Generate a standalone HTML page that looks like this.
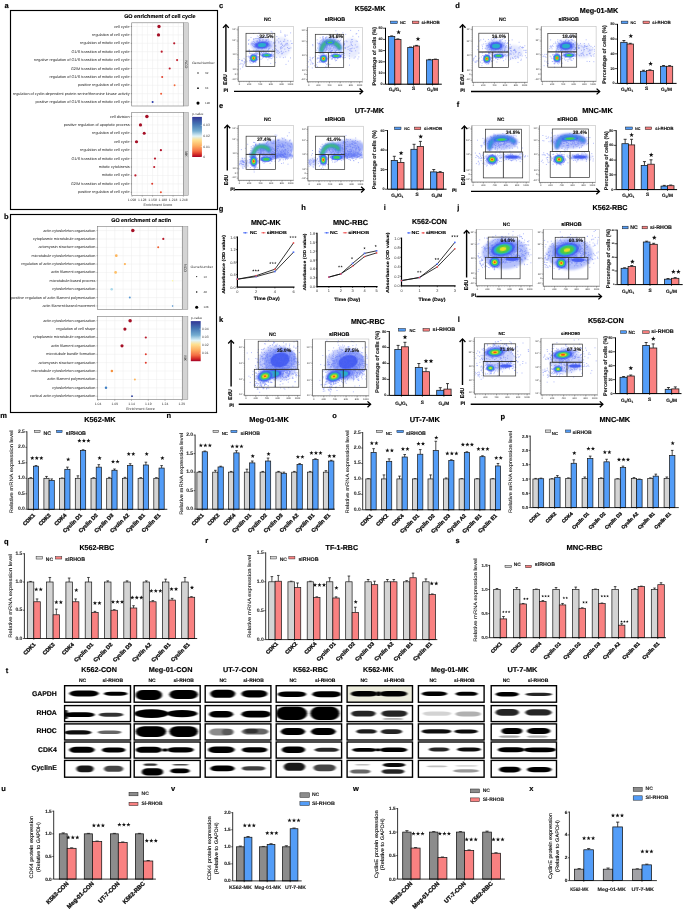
<!DOCTYPE html>
<html><head><meta charset="utf-8"><title>Figure</title>
<style>
html,body{margin:0;padding:0;background:#fff;width:685px;height:911px;overflow:hidden}
svg{display:block;font-family:"Liberation Sans",sans-serif;will-change:transform;text-rendering:geometricPrecision}
</style></head><body>
<svg width="685" height="911" viewBox="0 0 685 911">
<rect width="685" height="911" fill="#fff"/>
<defs><filter id="bl" x="-50%" y="-50%" width="200%" height="200%"><feGaussianBlur stdDeviation="0.55"/></filter><filter id="bl2" x="-50%" y="-50%" width="200%" height="200%"><feGaussianBlur stdDeviation="1.1"/></filter><filter id="bb" x="-50%" y="-80%" width="200%" height="260%"><feGaussianBlur stdDeviation="0.9 0.6"/></filter></defs>
<rect x="10.5" y="10.5" width="207" height="199" fill="none" stroke="#000" stroke-width="1.15"/>
<text x="6.6" y="5.4" font-size="7.5" text-anchor="middle" font-weight="bold" stroke="#000" stroke-width="0.16" dominant-baseline="central">a</text>
<text x="159.9" y="17.2" font-size="5.4" text-anchor="middle" font-weight="bold" stroke="#000" stroke-width="0.14" textLength="71.5" lengthAdjust="spacingAndGlyphs" dominant-baseline="central">GO enrichment of cell cycle</text>
<rect x="131.7" y="22.8" width="51.9" height="83.2" fill="#fff"/>
<line x1="131.7" y1="26.5" x2="183.6" y2="26.5" stroke="#ececec" stroke-width="0.5"/>
<line x1="131.7" y1="34.9" x2="183.6" y2="34.9" stroke="#ececec" stroke-width="0.5"/>
<line x1="131.7" y1="43.3" x2="183.6" y2="43.3" stroke="#ececec" stroke-width="0.5"/>
<line x1="131.7" y1="51.7" x2="183.6" y2="51.7" stroke="#ececec" stroke-width="0.5"/>
<line x1="131.7" y1="60.1" x2="183.6" y2="60.1" stroke="#ececec" stroke-width="0.5"/>
<line x1="131.7" y1="68.5" x2="183.6" y2="68.5" stroke="#ececec" stroke-width="0.5"/>
<line x1="131.7" y1="76.9" x2="183.6" y2="76.9" stroke="#ececec" stroke-width="0.5"/>
<line x1="131.7" y1="85.3" x2="183.6" y2="85.3" stroke="#ececec" stroke-width="0.5"/>
<line x1="131.7" y1="93.7" x2="183.6" y2="93.7" stroke="#ececec" stroke-width="0.5"/>
<line x1="131.7" y1="102.1" x2="183.6" y2="102.1" stroke="#ececec" stroke-width="0.5"/>
<line x1="132" y1="22.8" x2="132" y2="106" stroke="#ececec" stroke-width="0.5"/>
<line x1="137.14" y1="22.8" x2="137.14" y2="106" stroke="#ececec" stroke-width="0.5"/>
<line x1="142.28" y1="22.8" x2="142.28" y2="106" stroke="#ececec" stroke-width="0.5"/>
<line x1="147.42" y1="22.8" x2="147.42" y2="106" stroke="#ececec" stroke-width="0.5"/>
<line x1="152.56" y1="22.8" x2="152.56" y2="106" stroke="#ececec" stroke-width="0.5"/>
<line x1="157.7" y1="22.8" x2="157.7" y2="106" stroke="#ececec" stroke-width="0.5"/>
<line x1="162.84" y1="22.8" x2="162.84" y2="106" stroke="#ececec" stroke-width="0.5"/>
<line x1="167.98" y1="22.8" x2="167.98" y2="106" stroke="#ececec" stroke-width="0.5"/>
<line x1="173.12" y1="22.8" x2="173.12" y2="106" stroke="#ececec" stroke-width="0.5"/>
<line x1="178.26" y1="22.8" x2="178.26" y2="106" stroke="#ececec" stroke-width="0.5"/>
<line x1="183.4" y1="22.8" x2="183.4" y2="106" stroke="#ececec" stroke-width="0.5"/>
<rect x="131.7" y="22.8" width="51.9" height="83.2" fill="none" stroke="#7a7a7a" stroke-width="0.6"/>
<rect x="183.6" y="22.8" width="4.8" height="83.2" fill="#d4d4d4" stroke="#7a7a7a" stroke-width="0.4"/>
<text x="186" y="64.4" font-size="3.6" text-anchor="middle" fill="#222" transform="rotate(90 186 64.4)" dominant-baseline="central">NCO</text>
<line x1="130.7" y1="26.5" x2="131.7" y2="26.5" stroke="#333" stroke-width="0.4"/>
<text x="129.6" y="26.5" font-size="3.82" text-anchor="end" fill="#222" dominant-baseline="central">cell cycle</text>
<line x1="130.7" y1="34.9" x2="131.7" y2="34.9" stroke="#333" stroke-width="0.4"/>
<text x="129.6" y="34.9" font-size="3.82" text-anchor="end" fill="#222" dominant-baseline="central">regulation of cell cycle</text>
<line x1="130.7" y1="43.3" x2="131.7" y2="43.3" stroke="#333" stroke-width="0.4"/>
<text x="129.6" y="43.3" font-size="3.82" text-anchor="end" fill="#222" dominant-baseline="central">regulation of mitotic cell cycle</text>
<line x1="130.7" y1="51.7" x2="131.7" y2="51.7" stroke="#333" stroke-width="0.4"/>
<text x="129.6" y="51.7" font-size="3.82" text-anchor="end" fill="#222" dominant-baseline="central">G1/S transition of mitotic cell cycle</text>
<line x1="130.7" y1="60.1" x2="131.7" y2="60.1" stroke="#333" stroke-width="0.4"/>
<text x="129.6" y="60.1" font-size="3.82" text-anchor="end" fill="#222" dominant-baseline="central">negative regulation of G1/S transition of mitotic cell cycle</text>
<line x1="130.7" y1="68.5" x2="131.7" y2="68.5" stroke="#333" stroke-width="0.4"/>
<text x="129.6" y="68.5" font-size="3.82" text-anchor="end" fill="#222" dominant-baseline="central">G2/M transition of mitotic cell cycle</text>
<line x1="130.7" y1="76.9" x2="131.7" y2="76.9" stroke="#333" stroke-width="0.4"/>
<text x="129.6" y="76.9" font-size="3.82" text-anchor="end" fill="#222" dominant-baseline="central">regulation of G1/S transition of mitotic cell cycle</text>
<line x1="130.7" y1="85.3" x2="131.7" y2="85.3" stroke="#333" stroke-width="0.4"/>
<text x="129.6" y="85.3" font-size="3.82" text-anchor="end" fill="#222" dominant-baseline="central">positive regulation of cell cycle</text>
<line x1="130.7" y1="93.7" x2="131.7" y2="93.7" stroke="#333" stroke-width="0.4"/>
<text x="129.6" y="93.7" font-size="3.82" text-anchor="end" fill="#222" dominant-baseline="central">regulation of cyclin-dependent protein serine/threonine kinase activity</text>
<line x1="130.7" y1="102.1" x2="131.7" y2="102.1" stroke="#333" stroke-width="0.4"/>
<text x="129.6" y="102.1" font-size="3.82" text-anchor="end" fill="#222" dominant-baseline="central">positive regulation of G1/S transition of mitotic cell cycle</text>
<circle cx="159" cy="26.5" r="1.65" fill="#a50f25"/>
<circle cx="158.5" cy="34.9" r="1.65" fill="#a50f25"/>
<circle cx="174.2" cy="43.3" r="1.1" fill="#b81a2c"/>
<circle cx="161.7" cy="51.7" r="1.1" fill="#bd1c2c"/>
<circle cx="177.1" cy="60.1" r="1.05" fill="#c4202d"/>
<circle cx="169.7" cy="68.5" r="1.05" fill="#bd1c2c"/>
<circle cx="162.2" cy="76.9" r="1" fill="#e0402e"/>
<circle cx="174.6" cy="85.3" r="0.95" fill="#f26a3c"/>
<circle cx="161.1" cy="93.7" r="1" fill="#f05a34"/>
<circle cx="152.6" cy="102.1" r="1" fill="#2838a8"/>
<rect x="131.7" y="112.5" width="51.9" height="83.1" fill="#fff"/>
<line x1="131.7" y1="116.5" x2="183.6" y2="116.5" stroke="#ececec" stroke-width="0.5"/>
<line x1="131.7" y1="124.92" x2="183.6" y2="124.92" stroke="#ececec" stroke-width="0.5"/>
<line x1="131.7" y1="133.34" x2="183.6" y2="133.34" stroke="#ececec" stroke-width="0.5"/>
<line x1="131.7" y1="141.76" x2="183.6" y2="141.76" stroke="#ececec" stroke-width="0.5"/>
<line x1="131.7" y1="150.18" x2="183.6" y2="150.18" stroke="#ececec" stroke-width="0.5"/>
<line x1="131.7" y1="158.6" x2="183.6" y2="158.6" stroke="#ececec" stroke-width="0.5"/>
<line x1="131.7" y1="167.02" x2="183.6" y2="167.02" stroke="#ececec" stroke-width="0.5"/>
<line x1="131.7" y1="175.44" x2="183.6" y2="175.44" stroke="#ececec" stroke-width="0.5"/>
<line x1="131.7" y1="183.86" x2="183.6" y2="183.86" stroke="#ececec" stroke-width="0.5"/>
<line x1="131.7" y1="192.28" x2="183.6" y2="192.28" stroke="#ececec" stroke-width="0.5"/>
<line x1="132" y1="112.5" x2="132" y2="195.6" stroke="#ececec" stroke-width="0.5"/>
<line x1="137.14" y1="112.5" x2="137.14" y2="195.6" stroke="#ececec" stroke-width="0.5"/>
<line x1="142.28" y1="112.5" x2="142.28" y2="195.6" stroke="#ececec" stroke-width="0.5"/>
<line x1="147.42" y1="112.5" x2="147.42" y2="195.6" stroke="#ececec" stroke-width="0.5"/>
<line x1="152.56" y1="112.5" x2="152.56" y2="195.6" stroke="#ececec" stroke-width="0.5"/>
<line x1="157.7" y1="112.5" x2="157.7" y2="195.6" stroke="#ececec" stroke-width="0.5"/>
<line x1="162.84" y1="112.5" x2="162.84" y2="195.6" stroke="#ececec" stroke-width="0.5"/>
<line x1="167.98" y1="112.5" x2="167.98" y2="195.6" stroke="#ececec" stroke-width="0.5"/>
<line x1="173.12" y1="112.5" x2="173.12" y2="195.6" stroke="#ececec" stroke-width="0.5"/>
<line x1="178.26" y1="112.5" x2="178.26" y2="195.6" stroke="#ececec" stroke-width="0.5"/>
<line x1="183.4" y1="112.5" x2="183.4" y2="195.6" stroke="#ececec" stroke-width="0.5"/>
<rect x="131.7" y="112.5" width="51.9" height="83.1" fill="none" stroke="#7a7a7a" stroke-width="0.6"/>
<rect x="183.6" y="112.5" width="4.8" height="83.1" fill="#d4d4d4" stroke="#7a7a7a" stroke-width="0.4"/>
<text x="186" y="154.05" font-size="3.6" text-anchor="middle" fill="#222" transform="rotate(90 186 154.05)" dominant-baseline="central">MK</text>
<line x1="130.7" y1="116.5" x2="131.7" y2="116.5" stroke="#333" stroke-width="0.4"/>
<text x="129.6" y="116.5" font-size="3.82" text-anchor="end" fill="#222" dominant-baseline="central">cell division</text>
<line x1="130.7" y1="124.92" x2="131.7" y2="124.92" stroke="#333" stroke-width="0.4"/>
<text x="129.6" y="124.92" font-size="3.82" text-anchor="end" fill="#222" dominant-baseline="central">positive regulation of apoptotic process</text>
<line x1="130.7" y1="133.34" x2="131.7" y2="133.34" stroke="#333" stroke-width="0.4"/>
<text x="129.6" y="133.34" font-size="3.82" text-anchor="end" fill="#222" dominant-baseline="central">regulation of cell cycle</text>
<line x1="130.7" y1="141.76" x2="131.7" y2="141.76" stroke="#333" stroke-width="0.4"/>
<text x="129.6" y="141.76" font-size="3.82" text-anchor="end" fill="#222" dominant-baseline="central">cell cycle</text>
<line x1="130.7" y1="150.18" x2="131.7" y2="150.18" stroke="#333" stroke-width="0.4"/>
<text x="129.6" y="150.18" font-size="3.82" text-anchor="end" fill="#222" dominant-baseline="central">regulation of mitotic cell cycle</text>
<line x1="130.7" y1="158.6" x2="131.7" y2="158.6" stroke="#333" stroke-width="0.4"/>
<text x="129.6" y="158.6" font-size="3.82" text-anchor="end" fill="#222" dominant-baseline="central">G1/S transition of mitotic cell cycle</text>
<line x1="130.7" y1="167.02" x2="131.7" y2="167.02" stroke="#333" stroke-width="0.4"/>
<text x="129.6" y="167.02" font-size="3.82" text-anchor="end" fill="#222" dominant-baseline="central">mitotic cytokinesis</text>
<line x1="130.7" y1="175.44" x2="131.7" y2="175.44" stroke="#333" stroke-width="0.4"/>
<text x="129.6" y="175.44" font-size="3.82" text-anchor="end" fill="#222" dominant-baseline="central">mitotic cell cycle</text>
<line x1="130.7" y1="183.86" x2="131.7" y2="183.86" stroke="#333" stroke-width="0.4"/>
<text x="129.6" y="183.86" font-size="3.82" text-anchor="end" fill="#222" dominant-baseline="central">G2/M transition of mitotic cell cycle</text>
<line x1="130.7" y1="192.28" x2="131.7" y2="192.28" stroke="#333" stroke-width="0.4"/>
<text x="129.6" y="192.28" font-size="3.82" text-anchor="end" fill="#222" dominant-baseline="central">positive regulation of cell cycle</text>
<circle cx="146.9" cy="116.5" r="1.75" fill="#a50f25"/>
<circle cx="140.5" cy="124.92" r="1.6" fill="#a50f25"/>
<circle cx="144.2" cy="133.34" r="1.5" fill="#a50f25"/>
<circle cx="136.5" cy="141.76" r="1.6" fill="#a50f25"/>
<circle cx="160.9" cy="150.18" r="1.1" fill="#b0122a"/>
<circle cx="155" cy="158.6" r="1.1" fill="#b81a2c"/>
<circle cx="154.2" cy="167.02" r="1.05" fill="#bd1c2c"/>
<circle cx="135.4" cy="175.44" r="1.1" fill="#bd1c2c"/>
<circle cx="152.2" cy="183.86" r="1" fill="#dc3a2c"/>
<circle cx="160.9" cy="192.28" r="1" fill="#ec5030"/>
<line x1="132" y1="195.6" x2="132" y2="196.6" stroke="#333" stroke-width="0.4"/>
<text x="132" y="199.9" font-size="3.4" text-anchor="middle" fill="#333" dominant-baseline="central">1.098</text>
<line x1="142.28" y1="195.6" x2="142.28" y2="196.6" stroke="#333" stroke-width="0.4"/>
<text x="142.28" y="199.9" font-size="3.4" text-anchor="middle" fill="#333" dominant-baseline="central">1.128</text>
<line x1="152.56" y1="195.6" x2="152.56" y2="196.6" stroke="#333" stroke-width="0.4"/>
<text x="152.56" y="199.9" font-size="3.4" text-anchor="middle" fill="#333" dominant-baseline="central">1.158</text>
<line x1="162.84" y1="195.6" x2="162.84" y2="196.6" stroke="#333" stroke-width="0.4"/>
<text x="162.84" y="199.9" font-size="3.4" text-anchor="middle" fill="#333" dominant-baseline="central">1.188</text>
<line x1="173.12" y1="195.6" x2="173.12" y2="196.6" stroke="#333" stroke-width="0.4"/>
<text x="173.12" y="199.9" font-size="3.4" text-anchor="middle" fill="#333" dominant-baseline="central">1.218</text>
<line x1="183.4" y1="195.6" x2="183.4" y2="196.6" stroke="#333" stroke-width="0.4"/>
<text x="183.4" y="199.9" font-size="3.4" text-anchor="middle" fill="#333" dominant-baseline="central">1.248</text>
<text x="157.9" y="204.7" font-size="3.6" text-anchor="middle" fill="#333" dominant-baseline="central">Enrichment Score</text>
<text x="191.9" y="63.3" font-size="3.4" fill="#333" textLength="22.8" lengthAdjust="spacingAndGlyphs" dominant-baseline="central">GeneNumber</text>
<circle cx="198" cy="73" r="0.65" fill="#000"/>
<text x="205" y="73" font-size="3" fill="#444" dominant-baseline="central">32</text>
<circle cx="198" cy="88.2" r="0.85" fill="#000"/>
<text x="205" y="88.2" font-size="3" fill="#444" dominant-baseline="central">64</text>
<circle cx="198" cy="103.1" r="1.55" fill="#000"/>
<text x="205" y="103.1" font-size="3" fill="#444" dominant-baseline="central">128</text>
<text x="192.2" y="113.7" font-size="3.4" fill="#333" dominant-baseline="central">p-value</text>
<linearGradient id="cbA" x1="0" y1="0" x2="0" y2="1"><stop offset="0" stop-color="#313695"/><stop offset="0.18" stop-color="#4575b4"/><stop offset="0.35" stop-color="#74add1"/><stop offset="0.48" stop-color="#e0f3f8"/><stop offset="0.58" stop-color="#fee090"/><stop offset="0.72" stop-color="#fdae61"/><stop offset="0.85" stop-color="#f46d43"/><stop offset="0.93" stop-color="#d73027"/><stop offset="1" stop-color="#a50026"/></linearGradient>
<rect x="192.2" y="116.9" width="9.7" height="40.1" fill="url(#cbA)"/>
<line x1="200.7" y1="125.4" x2="201.9" y2="125.4" stroke="#fff" stroke-width="0.4"/>
<text x="203.2" y="125.4" font-size="3.4" fill="#333" dominant-baseline="central">0.03</text>
<line x1="200.7" y1="136.1" x2="201.9" y2="136.1" stroke="#fff" stroke-width="0.4"/>
<text x="203.2" y="136.1" font-size="3.4" fill="#333" dominant-baseline="central">0.02</text>
<line x1="200.7" y1="146.6" x2="201.9" y2="146.6" stroke="#fff" stroke-width="0.4"/>
<text x="203.2" y="146.6" font-size="3.4" fill="#333" dominant-baseline="central">0.01</text>
<line x1="200.7" y1="157" x2="201.9" y2="157" stroke="#fff" stroke-width="0.4"/>
<text x="203.2" y="157" font-size="3.4" fill="#333" dominant-baseline="central">0</text>
<rect x="10.5" y="214.5" width="206" height="198" fill="none" stroke="#000" stroke-width="1.15"/>
<text x="6.3" y="216.7" font-size="7.5" text-anchor="middle" font-weight="bold" stroke="#000" stroke-width="0.16" dominant-baseline="central">b</text>
<text x="141.1" y="221.2" font-size="5.4" text-anchor="middle" font-weight="bold" stroke="#000" stroke-width="0.14" textLength="59.8" lengthAdjust="spacingAndGlyphs" dominant-baseline="central">GO enrichment of actin</text>
<rect x="97.5" y="226.5" width="85.1" height="83.1" fill="#fff"/>
<line x1="97.5" y1="230.6" x2="182.6" y2="230.6" stroke="#ececec" stroke-width="0.5"/>
<line x1="97.5" y1="238.97" x2="182.6" y2="238.97" stroke="#ececec" stroke-width="0.5"/>
<line x1="97.5" y1="247.34" x2="182.6" y2="247.34" stroke="#ececec" stroke-width="0.5"/>
<line x1="97.5" y1="255.71" x2="182.6" y2="255.71" stroke="#ececec" stroke-width="0.5"/>
<line x1="97.5" y1="264.08" x2="182.6" y2="264.08" stroke="#ececec" stroke-width="0.5"/>
<line x1="97.5" y1="272.45" x2="182.6" y2="272.45" stroke="#ececec" stroke-width="0.5"/>
<line x1="97.5" y1="280.82" x2="182.6" y2="280.82" stroke="#ececec" stroke-width="0.5"/>
<line x1="97.5" y1="289.19" x2="182.6" y2="289.19" stroke="#ececec" stroke-width="0.5"/>
<line x1="97.5" y1="297.56" x2="182.6" y2="297.56" stroke="#ececec" stroke-width="0.5"/>
<line x1="97.5" y1="305.93" x2="182.6" y2="305.93" stroke="#ececec" stroke-width="0.5"/>
<line x1="98" y1="226.5" x2="98" y2="309.6" stroke="#ececec" stroke-width="0.5"/>
<line x1="106.38" y1="226.5" x2="106.38" y2="309.6" stroke="#ececec" stroke-width="0.5"/>
<line x1="114.75" y1="226.5" x2="114.75" y2="309.6" stroke="#ececec" stroke-width="0.5"/>
<line x1="123.12" y1="226.5" x2="123.12" y2="309.6" stroke="#ececec" stroke-width="0.5"/>
<line x1="131.5" y1="226.5" x2="131.5" y2="309.6" stroke="#ececec" stroke-width="0.5"/>
<line x1="139.88" y1="226.5" x2="139.88" y2="309.6" stroke="#ececec" stroke-width="0.5"/>
<line x1="148.25" y1="226.5" x2="148.25" y2="309.6" stroke="#ececec" stroke-width="0.5"/>
<line x1="156.62" y1="226.5" x2="156.62" y2="309.6" stroke="#ececec" stroke-width="0.5"/>
<line x1="165" y1="226.5" x2="165" y2="309.6" stroke="#ececec" stroke-width="0.5"/>
<line x1="173.38" y1="226.5" x2="173.38" y2="309.6" stroke="#ececec" stroke-width="0.5"/>
<line x1="181.75" y1="226.5" x2="181.75" y2="309.6" stroke="#ececec" stroke-width="0.5"/>
<rect x="97.5" y="226.5" width="85.1" height="83.1" fill="none" stroke="#7a7a7a" stroke-width="0.6"/>
<rect x="182.6" y="226.5" width="5.3" height="83.1" fill="#d4d4d4" stroke="#7a7a7a" stroke-width="0.4"/>
<text x="185.25" y="268.05" font-size="3.6" text-anchor="middle" fill="#222" transform="rotate(90 185.25 268.05)" dominant-baseline="central">NCO</text>
<line x1="96.5" y1="230.6" x2="97.5" y2="230.6" stroke="#333" stroke-width="0.4"/>
<text x="95.4" y="230.6" font-size="3.82" text-anchor="end" fill="#222" dominant-baseline="central">actin cytoskeleton organization</text>
<line x1="96.5" y1="238.97" x2="97.5" y2="238.97" stroke="#333" stroke-width="0.4"/>
<text x="95.4" y="238.97" font-size="3.82" text-anchor="end" fill="#222" dominant-baseline="central">cytoplasmic microtubule organization</text>
<line x1="96.5" y1="247.34" x2="97.5" y2="247.34" stroke="#333" stroke-width="0.4"/>
<text x="95.4" y="247.34" font-size="3.82" text-anchor="end" fill="#222" dominant-baseline="central">actomyosin structure organization</text>
<line x1="96.5" y1="255.71" x2="97.5" y2="255.71" stroke="#333" stroke-width="0.4"/>
<text x="95.4" y="255.71" font-size="3.82" text-anchor="end" fill="#222" dominant-baseline="central">microtubule cytoskeleton organization</text>
<line x1="96.5" y1="264.08" x2="97.5" y2="264.08" stroke="#333" stroke-width="0.4"/>
<text x="95.4" y="264.08" font-size="3.82" text-anchor="end" fill="#222" dominant-baseline="central">regulation of actin cytoskeleton organization</text>
<line x1="96.5" y1="272.45" x2="97.5" y2="272.45" stroke="#333" stroke-width="0.4"/>
<text x="95.4" y="272.45" font-size="3.82" text-anchor="end" fill="#222" dominant-baseline="central">actin filament organization</text>
<line x1="96.5" y1="280.82" x2="97.5" y2="280.82" stroke="#333" stroke-width="0.4"/>
<text x="95.4" y="280.82" font-size="3.82" text-anchor="end" fill="#222" dominant-baseline="central">microtubule-based process</text>
<line x1="96.5" y1="289.19" x2="97.5" y2="289.19" stroke="#333" stroke-width="0.4"/>
<text x="95.4" y="289.19" font-size="3.82" text-anchor="end" fill="#222" dominant-baseline="central">cytoskeleton organization</text>
<line x1="96.5" y1="297.56" x2="97.5" y2="297.56" stroke="#333" stroke-width="0.4"/>
<text x="95.4" y="297.56" font-size="3.82" text-anchor="end" fill="#222" dominant-baseline="central">positive regulation of actin filament polymerization</text>
<line x1="96.5" y1="305.93" x2="97.5" y2="305.93" stroke="#333" stroke-width="0.4"/>
<text x="95.4" y="305.93" font-size="3.82" text-anchor="end" fill="#222" dominant-baseline="central">actin filament-based movement</text>
<circle cx="132.8" cy="230.6" r="1.75" fill="#a50f25"/>
<circle cx="163.3" cy="238.97" r="1.1" fill="#b81a2c"/>
<circle cx="158.2" cy="247.34" r="1" fill="#f06030"/>
<circle cx="116.3" cy="255.71" r="1.35" fill="#fdb45a"/>
<circle cx="124.9" cy="264.08" r="1.1" fill="#fdb45a"/>
<circle cx="115.6" cy="272.45" r="1.35" fill="#fdbf66"/>
<circle cx="172.6" cy="280.82" r="0.8" fill="#fffaa0"/>
<circle cx="111.7" cy="289.19" r="1.25" fill="#a8d8ea"/>
<circle cx="129.8" cy="297.56" r="1" fill="#5b9bd5"/>
<circle cx="172.6" cy="305.93" r="0.8" fill="#4a8fd0"/>
<rect x="97.5" y="316.6" width="85.1" height="83.1" fill="#fff"/>
<line x1="97.5" y1="320.7" x2="182.6" y2="320.7" stroke="#ececec" stroke-width="0.5"/>
<line x1="97.5" y1="329.09" x2="182.6" y2="329.09" stroke="#ececec" stroke-width="0.5"/>
<line x1="97.5" y1="337.48" x2="182.6" y2="337.48" stroke="#ececec" stroke-width="0.5"/>
<line x1="97.5" y1="345.87" x2="182.6" y2="345.87" stroke="#ececec" stroke-width="0.5"/>
<line x1="97.5" y1="354.26" x2="182.6" y2="354.26" stroke="#ececec" stroke-width="0.5"/>
<line x1="97.5" y1="362.65" x2="182.6" y2="362.65" stroke="#ececec" stroke-width="0.5"/>
<line x1="97.5" y1="371.04" x2="182.6" y2="371.04" stroke="#ececec" stroke-width="0.5"/>
<line x1="97.5" y1="379.43" x2="182.6" y2="379.43" stroke="#ececec" stroke-width="0.5"/>
<line x1="97.5" y1="387.82" x2="182.6" y2="387.82" stroke="#ececec" stroke-width="0.5"/>
<line x1="97.5" y1="396.21" x2="182.6" y2="396.21" stroke="#ececec" stroke-width="0.5"/>
<line x1="98" y1="316.6" x2="98" y2="399.7" stroke="#ececec" stroke-width="0.5"/>
<line x1="106.38" y1="316.6" x2="106.38" y2="399.7" stroke="#ececec" stroke-width="0.5"/>
<line x1="114.75" y1="316.6" x2="114.75" y2="399.7" stroke="#ececec" stroke-width="0.5"/>
<line x1="123.12" y1="316.6" x2="123.12" y2="399.7" stroke="#ececec" stroke-width="0.5"/>
<line x1="131.5" y1="316.6" x2="131.5" y2="399.7" stroke="#ececec" stroke-width="0.5"/>
<line x1="139.88" y1="316.6" x2="139.88" y2="399.7" stroke="#ececec" stroke-width="0.5"/>
<line x1="148.25" y1="316.6" x2="148.25" y2="399.7" stroke="#ececec" stroke-width="0.5"/>
<line x1="156.62" y1="316.6" x2="156.62" y2="399.7" stroke="#ececec" stroke-width="0.5"/>
<line x1="165" y1="316.6" x2="165" y2="399.7" stroke="#ececec" stroke-width="0.5"/>
<line x1="173.38" y1="316.6" x2="173.38" y2="399.7" stroke="#ececec" stroke-width="0.5"/>
<line x1="181.75" y1="316.6" x2="181.75" y2="399.7" stroke="#ececec" stroke-width="0.5"/>
<rect x="97.5" y="316.6" width="85.1" height="83.1" fill="none" stroke="#7a7a7a" stroke-width="0.6"/>
<rect x="182.6" y="316.6" width="5.3" height="83.1" fill="#d4d4d4" stroke="#7a7a7a" stroke-width="0.4"/>
<text x="185.25" y="358.15" font-size="3.6" text-anchor="middle" fill="#222" transform="rotate(90 185.25 358.15)" dominant-baseline="central">MK</text>
<line x1="96.5" y1="320.7" x2="97.5" y2="320.7" stroke="#333" stroke-width="0.4"/>
<text x="95.4" y="320.7" font-size="3.82" text-anchor="end" fill="#222" dominant-baseline="central">actin cytoskeleton organization</text>
<line x1="96.5" y1="329.09" x2="97.5" y2="329.09" stroke="#333" stroke-width="0.4"/>
<text x="95.4" y="329.09" font-size="3.82" text-anchor="end" fill="#222" dominant-baseline="central">regulation of cell shape</text>
<line x1="96.5" y1="337.48" x2="97.5" y2="337.48" stroke="#333" stroke-width="0.4"/>
<text x="95.4" y="337.48" font-size="3.82" text-anchor="end" fill="#222" dominant-baseline="central">cytoplasmic microtubule organization</text>
<line x1="96.5" y1="345.87" x2="97.5" y2="345.87" stroke="#333" stroke-width="0.4"/>
<text x="95.4" y="345.87" font-size="3.82" text-anchor="end" fill="#222" dominant-baseline="central">actin filament organization</text>
<line x1="96.5" y1="354.26" x2="97.5" y2="354.26" stroke="#333" stroke-width="0.4"/>
<text x="95.4" y="354.26" font-size="3.82" text-anchor="end" fill="#222" dominant-baseline="central">microtubule bundle formation</text>
<line x1="96.5" y1="362.65" x2="97.5" y2="362.65" stroke="#333" stroke-width="0.4"/>
<text x="95.4" y="362.65" font-size="3.82" text-anchor="end" fill="#222" dominant-baseline="central">actomyosin structure organization</text>
<line x1="96.5" y1="371.04" x2="97.5" y2="371.04" stroke="#333" stroke-width="0.4"/>
<text x="95.4" y="371.04" font-size="3.82" text-anchor="end" fill="#222" dominant-baseline="central">microtubule cytoskeleton organization</text>
<line x1="96.5" y1="379.43" x2="97.5" y2="379.43" stroke="#333" stroke-width="0.4"/>
<text x="95.4" y="379.43" font-size="3.82" text-anchor="end" fill="#222" dominant-baseline="central">actin filament polymerization</text>
<line x1="96.5" y1="387.82" x2="97.5" y2="387.82" stroke="#333" stroke-width="0.4"/>
<text x="95.4" y="387.82" font-size="3.82" text-anchor="end" fill="#222" dominant-baseline="central">cytoskeleton organization</text>
<line x1="96.5" y1="396.21" x2="97.5" y2="396.21" stroke="#333" stroke-width="0.4"/>
<text x="95.4" y="396.21" font-size="3.82" text-anchor="end" fill="#222" dominant-baseline="central">cortical actin cytoskeleton organization</text>
<circle cx="130.1" cy="320.7" r="1.75" fill="#a50f25"/>
<circle cx="124.9" cy="329.09" r="1.6" fill="#a50f25"/>
<circle cx="145.8" cy="337.48" r="1.1" fill="#b81a2c"/>
<circle cx="122" cy="345.87" r="1.6" fill="#a50f25"/>
<circle cx="145.8" cy="354.26" r="1" fill="#e03a2c"/>
<circle cx="145.8" cy="362.65" r="1" fill="#e03a2c"/>
<circle cx="111.9" cy="371.04" r="1.25" fill="#f6913e"/>
<circle cx="134.9" cy="379.43" r="1" fill="#fdb45a"/>
<circle cx="106" cy="387.82" r="1.25" fill="#3f7fc4"/>
<circle cx="132" cy="396.21" r="0.9" fill="#283a9a"/>
<line x1="98" y1="399.7" x2="98" y2="400.7" stroke="#333" stroke-width="0.4"/>
<text x="98" y="403.8" font-size="3.4" text-anchor="middle" fill="#333" dominant-baseline="central">1.04</text>
<line x1="114.75" y1="399.7" x2="114.75" y2="400.7" stroke="#333" stroke-width="0.4"/>
<text x="114.75" y="403.8" font-size="3.4" text-anchor="middle" fill="#333" dominant-baseline="central">1.09</text>
<line x1="131.5" y1="399.7" x2="131.5" y2="400.7" stroke="#333" stroke-width="0.4"/>
<text x="131.5" y="403.8" font-size="3.4" text-anchor="middle" fill="#333" dominant-baseline="central">1.14</text>
<line x1="148.25" y1="399.7" x2="148.25" y2="400.7" stroke="#333" stroke-width="0.4"/>
<text x="148.25" y="403.8" font-size="3.4" text-anchor="middle" fill="#333" dominant-baseline="central">1.19</text>
<line x1="165" y1="399.7" x2="165" y2="400.7" stroke="#333" stroke-width="0.4"/>
<text x="165" y="403.8" font-size="3.4" text-anchor="middle" fill="#333" dominant-baseline="central">1.24</text>
<line x1="181.75" y1="399.7" x2="181.75" y2="400.7" stroke="#333" stroke-width="0.4"/>
<text x="181.75" y="403.8" font-size="3.4" text-anchor="middle" fill="#333" dominant-baseline="central">1.29</text>
<text x="140.5" y="408.6" font-size="3.6" text-anchor="middle" fill="#333" dominant-baseline="central">Enrichment Score</text>
<text x="190.6" y="267" font-size="3.4" fill="#333" textLength="22.5" lengthAdjust="spacingAndGlyphs" dominant-baseline="central">GeneNumber</text>
<circle cx="196.7" cy="276.6" r="0.55" fill="#000"/>
<text x="203.5" y="276.6" font-size="3" fill="#444" dominant-baseline="central">16</text>
<circle cx="196.7" cy="291.9" r="0.75" fill="#000"/>
<text x="203.5" y="291.9" font-size="3" fill="#444" dominant-baseline="central">48</text>
<circle cx="196.7" cy="307.2" r="1.55" fill="#000"/>
<text x="203.5" y="307.2" font-size="3" fill="#444" dominant-baseline="central">128</text>
<text x="191.1" y="317.8" font-size="3.4" fill="#333" dominant-baseline="central">p-value</text>
<linearGradient id="cbB" x1="0" y1="0" x2="0" y2="1"><stop offset="0" stop-color="#313695"/><stop offset="0.18" stop-color="#4575b4"/><stop offset="0.35" stop-color="#74add1"/><stop offset="0.48" stop-color="#e0f3f8"/><stop offset="0.58" stop-color="#fee090"/><stop offset="0.72" stop-color="#fdae61"/><stop offset="0.85" stop-color="#f46d43"/><stop offset="0.93" stop-color="#d73027"/><stop offset="1" stop-color="#a50026"/></linearGradient>
<rect x="190.8" y="321.1" width="9.9" height="40.1" fill="url(#cbB)"/>
<line x1="199.5" y1="329.1" x2="200.7" y2="329.1" stroke="#fff" stroke-width="0.4"/>
<text x="202" y="329.1" font-size="3.4" fill="#333" dominant-baseline="central">0.04</text>
<line x1="199.5" y1="337.1" x2="200.7" y2="337.1" stroke="#fff" stroke-width="0.4"/>
<text x="202" y="337.1" font-size="3.4" fill="#333" dominant-baseline="central">0.03</text>
<line x1="199.5" y1="345.1" x2="200.7" y2="345.1" stroke="#fff" stroke-width="0.4"/>
<text x="202" y="345.1" font-size="3.4" fill="#333" dominant-baseline="central">0.02</text>
<line x1="199.5" y1="353.2" x2="200.7" y2="353.2" stroke="#fff" stroke-width="0.4"/>
<text x="202" y="353.2" font-size="3.4" fill="#333" dominant-baseline="central">0.01</text>
<text x="221" y="5.8" font-size="7.5" text-anchor="middle" font-weight="bold" stroke="#000" stroke-width="0.16" dominant-baseline="central">c</text>
<text x="370.05" y="8.2" font-size="7.2" text-anchor="middle" font-weight="bold" stroke="#000" stroke-width="0.16" textLength="30.5" lengthAdjust="spacingAndGlyphs" dominant-baseline="central">K562-MK</text>
<text x="267.6" y="19.7" font-size="5" text-anchor="middle" font-weight="bold" stroke="#000" stroke-width="0.12" dominant-baseline="central">NC</text>
<text x="335" y="19.7" font-size="5.4" text-anchor="middle" font-weight="bold" stroke="#000" stroke-width="0.14" textLength="20.5" lengthAdjust="spacingAndGlyphs" dominant-baseline="central">siRHOB</text>
<rect x="238.2" y="26.6" width="55.2" height="54.7" fill="#fff" stroke="#b0b0b0" stroke-width="0.5"/>
<line x1="238.2" y1="26.6" x2="238.2" y2="81.3" stroke="#444" stroke-width="0.5"/>
<line x1="238.2" y1="81.3" x2="293.4" y2="81.3" stroke="#444" stroke-width="0.5"/>
<path d="M237.4 28.42h.8M237.4 30.25h.8M237.4 32.07h.8M237.4 33.89h.8M237.4 35.72h.8M237.4 37.54h.8M237.4 39.36h.8M237.4 41.19h.8M237.4 43.01h.8M237.4 44.83h.8M237.4 46.66h.8M237.4 48.48h.8M237.4 50.3h.8M237.4 52.13h.8M237.4 53.95h.8M237.4 55.77h.8M237.4 57.6h.8M237.4 59.42h.8M237.4 61.24h.8M237.4 63.07h.8M237.4 64.89h.8M237.4 66.71h.8M237.4 68.54h.8M237.4 70.36h.8M237.4 72.18h.8M237.4 74.01h.8M237.4 75.83h.8M237.4 77.65h.8M237.4 79.48h.8M238.2 81.3v.8M240.96 81.3v.8M243.72 81.3v.8M246.48 81.3v.8M249.24 81.3v.8M252 81.3v.8M254.76 81.3v.8M257.52 81.3v.8M260.28 81.3v.8M263.04 81.3v.8M265.8 81.3v.8M268.56 81.3v.8M271.32 81.3v.8M274.08 81.3v.8M276.84 81.3v.8M279.6 81.3v.8M282.36 81.3v.8M285.12 81.3v.8M287.88 81.3v.8M290.64 81.3v.8M293.4 81.3v.8" fill="none" stroke="#666" stroke-width="0.3"/>
<line x1="236.6" y1="29.72" x2="238.2" y2="29.72" stroke="#444" stroke-width="0.4"/>
<text x="236.3" y="29.72" font-size="2.6" text-anchor="end" fill="#333" dominant-baseline="central">10⁵</text>
<line x1="236.6" y1="40.99" x2="238.2" y2="40.99" stroke="#444" stroke-width="0.4"/>
<text x="236.3" y="40.99" font-size="2.6" text-anchor="end" fill="#333" dominant-baseline="central">10⁴</text>
<line x1="236.6" y1="54.72" x2="238.2" y2="54.72" stroke="#444" stroke-width="0.4"/>
<text x="236.3" y="54.72" font-size="2.6" text-anchor="end" fill="#333" dominant-baseline="central">10³</text>
<line x1="236.6" y1="69.59" x2="238.2" y2="69.59" stroke="#444" stroke-width="0.4"/>
<text x="236.3" y="69.59" font-size="2.6" text-anchor="end" fill="#333" dominant-baseline="central">10²</text>
<line x1="236.6" y1="74.02" x2="238.2" y2="74.02" stroke="#444" stroke-width="0.4"/>
<text x="236.3" y="74.02" font-size="2.6" text-anchor="end" fill="#333" dominant-baseline="central">0</text>
<line x1="236.6" y1="79" x2="238.2" y2="79" stroke="#444" stroke-width="0.4"/>
<text x="236.3" y="79" font-size="2.6" text-anchor="end" fill="#333" dominant-baseline="central">-10²</text>
<line x1="239.41" y1="81.3" x2="239.41" y2="82.8" stroke="#444" stroke-width="0.4"/>
<text x="239.41" y="84.7" font-size="2.5" text-anchor="middle" fill="#333" dominant-baseline="central">0</text>
<line x1="249.24" y1="81.3" x2="249.24" y2="82.8" stroke="#444" stroke-width="0.4"/>
<text x="249.24" y="84.7" font-size="2.5" text-anchor="middle" fill="#333" dominant-baseline="central">20K</text>
<line x1="260.28" y1="81.3" x2="260.28" y2="82.8" stroke="#444" stroke-width="0.4"/>
<text x="260.28" y="84.7" font-size="2.5" text-anchor="middle" fill="#333" dominant-baseline="central">40K</text>
<line x1="270.99" y1="81.3" x2="270.99" y2="82.8" stroke="#444" stroke-width="0.4"/>
<text x="270.99" y="84.7" font-size="2.5" text-anchor="middle" fill="#333" dominant-baseline="central">60K</text>
<line x1="281.81" y1="81.3" x2="281.81" y2="82.8" stroke="#444" stroke-width="0.4"/>
<text x="281.81" y="84.7" font-size="2.5" text-anchor="middle" fill="#333" dominant-baseline="central">80K</text>
<line x1="290.53" y1="81.3" x2="290.53" y2="82.8" stroke="#444" stroke-width="0.4"/>
<text x="290.53" y="84.7" font-size="2.5" text-anchor="middle" fill="#333" dominant-baseline="central">100K</text>
<clipPath id="cp321"><rect x="238.5" y="26.9" width="54.6" height="54.1"/></clipPath><g clip-path="url(#cp321)">
<ellipse cx="262" cy="45" rx="11" ry="7" fill="#5c74f4" opacity="0.35" filter="url(#bl2)"/>
<ellipse cx="281" cy="47" rx="10" ry="10" fill="#5c74f4" opacity="0.14" filter="url(#bl2)"/>
<path d="M253.1 59.5h0m0-2.4h0m-1.7 0.3h0m5.1 1.9h0m-0.2-0.6h0m-1.6-0.1h0m-5.2 2h0m5.5-1.1h0m-5.5-6.7h0m2 3.8h0m3 1.3h0m0.5-1.8h0m-0.5 3.1h0m-2.5 4h0m3.1-1.6h0m-3-5.8h0m0.7 1.9h0m2.5 1h0m-2.7-3.6h0m-0.2 6.6h0m-0.7-3h0m3.1-5.2h0m-1 8.4h0m-5.1-4.9h0m4.7-1.5h0m1.5 2.3h0m-4.9 2.7h0m5.4 0.3h0m1.9-1.7h0m-3.3-5h0m1.2 2.1h0m-2.6-2h0m-1.3 2.2h0m5.6-4.5h0m-6.8 6.8h0m7.2 1h0m-8.3-9.3h0m5.6 5.4h0m-3.7 5.1h0m5.6-2.4h0m-2.2 0.8h0m3.4 0.6h0m-2.7-0.3h0m-5.2 2.2h0m6.3-2.2h0m-7.3-3.5h0m7-3.5h0m-2.6 8.5h0m-2.8 1.7h0m4.7-5.3h0m-0.6 2.4h0m-0.5 1.5h0m-2-4.6h0m4.3 1.3h0m-4.8 2.7h0m5.9-4.1h0m-7.1 0.9h0m3-0.5h0m3.9-2.2h0m-0.3-0.7h0m-5.2 5.7h0m4.8 0.7h0m-1.9-2.2h0m-0.5 1.3h0m-0.8-0.9h0m1.8-0.8h0m0.5 1.7h0m3.1-0.7h0m-6.1-2.1h0m1.1 3.9h0m-0.8-1.6h0m5.4-8.9h0m-7.4 8.4h0m3.8 0h0m-2.1 1.3h0m1.8-3.6h0m5.4 2.7h0m-7.5-1.4h0m0.8 0.1h0m-6.2-1.3h0m9.3-2h0m-2.7 6.4h0m2.3 1.6h0m-6.4-5.6h0m3.4 3h0m3.6-9.9h0m0 3.7h0m-1-0.2h0m-1.3 8.1h0m-0.8-3h0m2.4-0.2h0m-2.2 4.2h0m2.8-5.5h0m4.3-2.5h0m-4.6 2.6h0m-2 2.9h0m0.3-0.2h0m-4.4-6.4h0m5.3 1.6h0m-4.1-1.5h0m20 2.9h0m0.8-3.4h0m-5.9-0.4h0m3.1 5.5h0m-6.7-0.1h0m7.6-3.5h0m-11.9 3.2h0m7.5-4h0m2 2h0m4.4-2.8h0m-1.5 5h0m1.3-3.4h0m-8.8 2.4h0m3.5-1.8h0m5.2-0.7h0m-14.9-0.3h0m1.8 2.4h0m8.7-2.8h0m-1.3 2.9h0m0.3 1h0m-0.5-0.6h0m6.2 1.1h0m-8.7-1.4h0m-4.8-4h0m-0.4 4.3h0m3-2.1h0m4.1-0.1h0m-1.6 0.6h0m9.6-0.4h0m-5.1 1.9h0m-2.9-4.5h0m-1.4 4.6h0m-4.4-3.3h0m10.6 2.8h0m-4 0h0m0.7-4h0m-7 1.1h0m10 0.2h0m-7.3-0.4h0m-2.5 1.3h0m1.4 0.9h0m-4.7 0h0m6.8-4.6h0m5.5 3.3h0m-11.8-1.2h0m10.1 0.9h0m1.9 2.4h0m-0.4-0.8h0m2.6 0.6h0m-3.5-5.5h0m1.8 6.8h0m-4.8-3.5h0m9-2.6h0m-5.9 8.3h0m-5.6-3.4h0m11.2-1.6h0m-5.3 2h0m-5.8-2h0m4.8 1.9h0m-1.3-2.1h0m-4-0.3h0m7.7 0.9h0m-7-1.9h0m14.1 4h0m-8.2-7.5h0m0 6.2h0m4.2-0.1h0m-7 0.1h0m-7.5 1.1h0m9.1-3.5h0m4 5h0m-10.9-4.9h0m6.8 1.7h0m-2.8-2.3h0m10.1 4h0m-13.3-4.8h0m11.6 4.7h0m0.5-0.4h0m-10.8-1.1h0m-5.1-2h0m2.2-7.4h0m-4-2.6h0m7.2 2h0m1-0.7h0m-5.7 2.4h0m2.2-6.5h0m-4.1 3.3h0m3.1 0.6h0m0.7 0.1h0m-0.8-5.7h0m3.3 9.2h0m0.1-5h0m0.1-3.1h0m-14.1 4.1h0m5.8 2.8h0m-0.9-13.5h0m0.3 16.8h0m3.9-11.8h0m-2.3 7.6h0m7.6-1.4h0m5.9 2.1h0m-9-0.4h0m10 1.5h0m-3.8-8.2h0m-7 7.2h0m-0.9 1.4h0m5.4-0.7h0m-4.9 6.6h0m8.7-11.1h0m-6.9 11.3h0m-2.6-6.9h0m8-3.5h0m-12.9 0.8h0m9.2 3.7h0m2.5-4.4h0m0.4 2.1h0m-3.9-2h0m-2.7 2.5h0m-4.8-5.2h0m6.3-3.4h0m-2.6-2.1h0m-1.5 10.3h0m7.5-2.5h0m-4.8-5.5h0m12.4 7.8h0m-4.4-5.6h0m-7.7-3.8h0m5.8 11h0m-16.1-3.9h0m15.2-6.8h0m-14.8 2.7h0m7.2-1.3h0m4 6.6h0m3.6 1.8h0m5.2 1.9h0m-16.9-6.7h0m1.5-2.3h0m5.9 4.3h0m3.4-6.3h0m-10.3 6.2h0m6.2-1.1h0m0.8-1.8h0m4.6 4.4h0m-4.7-4.1h0m-0.5-8.2h0m-4.9 11h0m-3.1 0.7h0m9.9-6.3h0m-2.4 4.2h0m4.3 3.7h0m-3-5.8h0m-0.7 3.1h0m5.3 1.5h0m-8.7-6.6h0m2.1 2.4h0m-4.5 2.5h0m3.8 0.9h0m6-2.1h0m10.8 0.4h0m-7.3 1.8h0m0.1-10h0m-11.2 10.5h0m8.1 8.3h0m-1.7-4.2h0m2.7-1.3h0m-1.5-4.4h0m0-3.7h0m4 0.2h0m-5.6 12.6h0m-2.8-8.4h0m8.3 0h0m-11.8 0.9h0m8.3 1.8h0m-8.1 4.2h0m14.6-6.9h0m-8.4-1.8h0m6.9-1.1h0m-4.5 0.9h0m-8.2 4.8h0m12.2-2.9h0m-12.1 3.2h0m3.8-2h0m9.4 3.3h0m-12.2 4.6h0m3.1-6h0m-3.9-3.3h0m-6.6 7.3h0m18.7-12h0m-17.2-1.6h0m16.1 4.7h0m-7.5 0.5h0m-0.3-3.1h0m0.8-1.4h0m-0.5 7h0m3.2-2.1h0m-8.2 1.5h0m2.5 5.7h0m7.5-6.8h0m-7.4-2.3h0m-2.8 1.4h0m7.4 3.5h0m1.6 6.3h0m-7.6-8.3h0m21-7.6h0m-19.9 8.2h0m4 0.9h0m-2.3-0.1h0m1.7 1.6h0m-11.7-6.6h0m11.4-0.6h0m-6.3 6.6h0m2.4 0h0m8.4-1.3h0m-1.5-1.6h0m-11.5 0.3h0m11.2-2h0m-3.3 5.1h0m-4.7-0.4h0m16.5-4.8h0m-10.3 1.6h0m8.3 1.9h0m-3.8-4.1h0m-5.5 2.8h0m-10.6 5.8h0m16.1-12.8h0m-0.9 6.5h0m-1.8 2h0m-11.7-2.3h0m18-1.5h0m-15.1-3.1h0m-1.2 6.7h0m17.5 0.4h0m-8.7 7.2h0m-4.6-11.6h0m6.3 4.9h0m-9.3-6.9h0m7.8 5.7h0m-9.5-1.8h0m4.5 2.6h0m2.6-2.1h0m18.9 9.7h0m13.9-10h0m-4.3-2.7h0m-6.2 10.5h0m-1.2-3.8h0m-11.4-1.3h0m6.6 2.5h0m-3.6-16.4h0m9.3 15.6h0m-4.7 4.4h0m2.2-10.4h0m6-6.8h0m-9.2 10.9h0m12.2-1h0m-4.3-3.5h0m-0.1 16.2h0m-7.9 5h0m0.3-16.5h0m6.6 7.1h0m-11.3-21.9h0m14.7 20.3h0m0.2 12.8h0m-3.4-16.6h0m5.8 0.8h0m-0.9-5.2h0m0.9 17.7h0m-7.4-16.9h0m-4-4.1h0m-1 10.4h0m5.3-4h0m-1.7 5.9h0m5.4-7.4h0m1.3-0.1h0m-14.5 11.3h0m12.9-16.9h0m4.9 9.1h0m-21.1 8.9h0m15.2-5.1h0m-1.1-7.2h0m-14 7.8h0m12.6-8.8h0m2.6 2.5h0m2.6-3.1h0m-5.7-12.4h0m-3.1 19.7h0m14.1-7.2h0m-11.7 13.6h0m-1.6-6h0m12.4-10.1h0m-8.1 4.5h0m-0.8 8.4h0m-5.5-4.4h0m-3.8 0h0m13-5.4h0m-0.4-8.9h0m1.9 0h0m-11.7 6.9h0m2.4 9.9h0m3.9-8.8h0m3.6 13.9h0m-4.3-8.5h0m9.9-0.7h0m-20.2 15.5h0m10-14.5h0m8 1.8h0m-9.9-12.1h0m3 14.6h0m-9.5-14.4h0m8.5-6.4h0m-1.9 10.5h0m5.7-1.8h0m-10.7 2.1h0m6.7-1.9h0m0.5 10h0m9.4 6.6h0m-15.8-14.8h0m-13.6 16.2h0m14.1-13.5h0m10-9.3h0m-0.5 9.3h0m-18.3 2.2h0m24.2-15.1h0m-3.1 14.6h0m-2.7 1.6h0m-37.9 12.2h0m-1.3-0.5h0m-0.4-1.2h0m-2.5 7.6h0m1.6-5.7h0m-4.7-1.9h0m4 5.2h0m0.7-1.2h0m-1.4 2.5h0m-1.1-5.7h0m3.9 1.8h0m-3.5-1.9h0m0 3.6h0m1.9-5.5h0m0.2 4.1h0m-4.3 1.8h0m2.2-3.3h0m3.2 5h0m-4.5-2.7h0m-0.5 5.6h0" stroke="#4a62f5" stroke-width=".7" stroke-linecap="square" opacity="0.6"/>
<ellipse cx="262" cy="45" rx="8.5" ry="4.2" fill="#6078f6" opacity="0.5" filter="url(#bl)" transform="rotate(-5 262 45)"/>
<ellipse cx="262" cy="45" rx="6.8" ry="3.36" fill="#3a52f0" opacity="0.8" filter="url(#bl)" transform="rotate(-5 262 45)"/>
<ellipse cx="262" cy="45" rx="4.07" ry="2.01" fill="#28b4c8" opacity="0.92" filter="url(#bl)" transform="rotate(-5 262 45)"/>
<ellipse cx="253.6" cy="58.1" rx="4.3" ry="4.6" fill="#6078f6" opacity="0.5" filter="url(#bl)"/>
<ellipse cx="253.6" cy="58.1" rx="3.44" ry="3.68" fill="#3a52f0" opacity="0.8" filter="url(#bl)"/>
<ellipse cx="253.6" cy="58.1" rx="2.71" ry="2.9" fill="#28b4c8" opacity="0.92" filter="url(#bl)"/>
<ellipse cx="253.6" cy="58.1" rx="2.02" ry="2.16" fill="#48cc48" opacity="1" filter="url(#bl)"/>
<ellipse cx="253.6" cy="58.1" rx="1.38" ry="1.47" fill="#ecdf22" opacity="1" filter="url(#bl)"/>
<ellipse cx="253.6" cy="58.1" rx="0.86" ry="0.92" fill="#ff4a10" opacity="1" filter="url(#bl)"/>
<ellipse cx="266.8" cy="55.3" rx="6" ry="2.3" fill="#6078f6" opacity="0.5" filter="url(#bl)"/>
<ellipse cx="266.8" cy="55.3" rx="4.8" ry="1.84" fill="#3a52f0" opacity="0.8" filter="url(#bl)"/>
<ellipse cx="266.8" cy="55.3" rx="3.78" ry="1.45" fill="#28b4c8" opacity="0.92" filter="url(#bl)"/>
<ellipse cx="266.8" cy="55.3" rx="2.03" ry="0.78" fill="#48cc48" opacity="1" filter="url(#bl)"/>
</g>
<g fill="none" stroke="#333" stroke-width="0.7"><rect x="246" y="33.3" width="28.8" height="17.9"/><rect x="246" y="51.2" width="28.8" height="15.3"/></g>
<line x1="259.6" y1="51.2" x2="259.6" y2="66.5" stroke="#222" stroke-width="0.8"/>
<text x="273.4" y="36.9" font-size="5" text-anchor="end" font-weight="bold" stroke="#111" stroke-width="0.12" fill="#111" dominant-baseline="central">32.5%</text>
<rect x="307.4" y="27.4" width="55.1" height="54.4" fill="#fff" stroke="#b0b0b0" stroke-width="0.5"/>
<line x1="307.4" y1="27.4" x2="307.4" y2="81.8" stroke="#444" stroke-width="0.5"/>
<line x1="307.4" y1="81.8" x2="362.5" y2="81.8" stroke="#444" stroke-width="0.5"/>
<path d="M306.6 29.21h.8M306.6 31.03h.8M306.6 32.84h.8M306.6 34.65h.8M306.6 36.47h.8M306.6 38.28h.8M306.6 40.09h.8M306.6 41.91h.8M306.6 43.72h.8M306.6 45.53h.8M306.6 47.35h.8M306.6 49.16h.8M306.6 50.97h.8M306.6 52.79h.8M306.6 54.6h.8M306.6 56.41h.8M306.6 58.23h.8M306.6 60.04h.8M306.6 61.85h.8M306.6 63.67h.8M306.6 65.48h.8M306.6 67.29h.8M306.6 69.11h.8M306.6 70.92h.8M306.6 72.73h.8M306.6 74.55h.8M306.6 76.36h.8M306.6 78.17h.8M306.6 79.99h.8M307.4 81.8v.8M310.15 81.8v.8M312.91 81.8v.8M315.66 81.8v.8M318.42 81.8v.8M321.17 81.8v.8M323.93 81.8v.8M326.69 81.8v.8M329.44 81.8v.8M332.19 81.8v.8M334.95 81.8v.8M337.7 81.8v.8M340.46 81.8v.8M343.21 81.8v.8M345.97 81.8v.8M348.73 81.8v.8M351.48 81.8v.8M354.24 81.8v.8M356.99 81.8v.8M359.75 81.8v.8M362.5 81.8v.8" fill="none" stroke="#666" stroke-width="0.3"/>
<line x1="305.8" y1="30.5" x2="307.4" y2="30.5" stroke="#444" stroke-width="0.4"/>
<text x="305.5" y="30.5" font-size="2.6" text-anchor="end" fill="#333" dominant-baseline="central">10⁵</text>
<line x1="305.8" y1="41.71" x2="307.4" y2="41.71" stroke="#444" stroke-width="0.4"/>
<text x="305.5" y="41.71" font-size="2.6" text-anchor="end" fill="#333" dominant-baseline="central">10⁴</text>
<line x1="305.8" y1="55.36" x2="307.4" y2="55.36" stroke="#444" stroke-width="0.4"/>
<text x="305.5" y="55.36" font-size="2.6" text-anchor="end" fill="#333" dominant-baseline="central">10³</text>
<line x1="305.8" y1="70.16" x2="307.4" y2="70.16" stroke="#444" stroke-width="0.4"/>
<text x="305.5" y="70.16" font-size="2.6" text-anchor="end" fill="#333" dominant-baseline="central">10²</text>
<line x1="305.8" y1="74.56" x2="307.4" y2="74.56" stroke="#444" stroke-width="0.4"/>
<text x="305.5" y="74.56" font-size="2.6" text-anchor="end" fill="#333" dominant-baseline="central">0</text>
<line x1="305.8" y1="79.52" x2="307.4" y2="79.52" stroke="#444" stroke-width="0.4"/>
<text x="305.5" y="79.52" font-size="2.6" text-anchor="end" fill="#333" dominant-baseline="central">-10²</text>
<line x1="308.61" y1="81.8" x2="308.61" y2="83.3" stroke="#444" stroke-width="0.4"/>
<text x="308.61" y="85.2" font-size="2.5" text-anchor="middle" fill="#333" dominant-baseline="central">0</text>
<line x1="318.42" y1="81.8" x2="318.42" y2="83.3" stroke="#444" stroke-width="0.4"/>
<text x="318.42" y="85.2" font-size="2.5" text-anchor="middle" fill="#333" dominant-baseline="central">20K</text>
<line x1="329.44" y1="81.8" x2="329.44" y2="83.3" stroke="#444" stroke-width="0.4"/>
<text x="329.44" y="85.2" font-size="2.5" text-anchor="middle" fill="#333" dominant-baseline="central">40K</text>
<line x1="340.13" y1="81.8" x2="340.13" y2="83.3" stroke="#444" stroke-width="0.4"/>
<text x="340.13" y="85.2" font-size="2.5" text-anchor="middle" fill="#333" dominant-baseline="central">60K</text>
<line x1="350.93" y1="81.8" x2="350.93" y2="83.3" stroke="#444" stroke-width="0.4"/>
<text x="350.93" y="85.2" font-size="2.5" text-anchor="middle" fill="#333" dominant-baseline="central">80K</text>
<line x1="359.63" y1="81.8" x2="359.63" y2="83.3" stroke="#444" stroke-width="0.4"/>
<text x="359.63" y="85.2" font-size="2.5" text-anchor="middle" fill="#333" dominant-baseline="central">100K</text>
<clipPath id="cp370"><rect x="307.7" y="27.7" width="54.5" height="53.8"/></clipPath><g clip-path="url(#cp370)">
<ellipse cx="330" cy="45" rx="12" ry="7.5" fill="#5c74f4" opacity="0.3" filter="url(#bl2)"/>
<ellipse cx="351" cy="48" rx="9" ry="10" fill="#5c74f4" opacity="0.14" filter="url(#bl2)"/>
<path d="M322.3 62.2h0m-0.4-1.2h0m7.1-10h0m-6.6 9.1h0m0.9-3.5h0m5.6 2.2h0m-9.5 2.4h0m-0.2 0.9h0m2.9-3.1h0m4.6 0h0m-6.7-5.5h0m6.5 7.3h0m-5 0.4h0m3.2-0.7h0m-6.8-2.8h0m7.9 3.1h0m-0.1-9.6h0m-1.8 8.9h0m6-4.4h0m-7.2 3h0m3-1.4h0m0.7-1.1h0m-2.2 0.8h0m-0.3-0.5h0m-4.4 5.4h0m4.8-5h0m-0.3 4.7h0m-2.9-3.3h0m3.7 1.9h0m-2.1-7.9h0m3.9 7.3h0m-3.1-1.8h0m0.7-0.5h0m-3.3-0.9h0m1.1 0.4h0m-1.4 3.7h0m-0.4 0.1h0m0.8-0.9h0m5.9-0.5h0m-5.2-0.5h0m2.2-5.3h0m-1.9 5.7h0m0.3-0.3h0m3 2.1h0m0.5-0.5h0m-3-1.9h0m0-0.8h0m0.3-4.3h0m-0.4 5.1h0m-1.6 0h0m3.7-0.4h0m3.9-7.3h0m-5.7 2.3h0m2.9 13.5h0m-8.7-7.6h0m7.6-1.3h0m0.1-5.8h0m0.7 7.8h0m-2-2.9h0m1.5 0.3h0m-1 0h0m-6.2 1.4h0m6.1 2.4h0m-2.7-2.4h0m3.7 0.5h0m1.6 5.6h0m-5.4-11.8h0m4.4 10.4h0m0.2-2.2h0m-3.8-4.5h0m3.7-0.6h0m-6.7-0.3h0m10.7 8.8h0m-7.9-8h0m2.3 0h0m2.7 2h0m-6 4.1h0m1.2-3.2h0m1.5-1.6h0m0.8-1.2h0m-5.4-4.5h0m1.4 4.3h0m3.1 2.5h0m1.5 0.2h0m-3.4-2.5h0m-3.3 1.6h0m6.5 2.1h0m-1.5-2.1h0m2.6 0.5h0m-0.5 1.7h0m-1.3 2.2h0m-1.9-5h0m-0.6-1.3h0m5.9 7.7h0m-3.8-3.6h0m2.8 0.7h0m0.1-6.2h0m-4.6 5.2h0m5.2-1.1h0m-5.7-1.4h0m12-3.2h0m8.6 0.4h0m-5.9 5.6h0m4.6-3.6h0m-7.1 0.1h0m8.9 0.4h0m-1.5-1h0m-2.9-0.6h0m-0.4 3h0m-7.4-2.7h0m6.7-1h0m-2.2 2.7h0m9.2-0.3h0m-6.7-4.4h0m6.4 3.3h0m-7.8-2.4h0m-0.1 0h0m0.5 3.1h0m-0.2-0.3h0m-3.5 2.3h0m0.8-6.5h0m1.8 2.1h0m-3.2 0.8h0m5.2-1.7h0m-1.8 5.3h0m3.3-3.2h0m-2.2 0.1h0m-0.7 1.7h0m-0.2-6.3h0m0.3 3h0m2.7 0.6h0m-2 5.6h0m-4.8-6.6h0m-1.4-2.6h0m-1.9 5.5h0m4.9-4.4h0m-3.3 4.9h0m2.8-1.9h0m4.4 3.4h0m6.5-0.6h0m-7.2-1.7h0m6.6 2.5h0m-8.4-2h0m2.3-0.8h0m-3.1-2.8h0m-0.1-0.4h0m7 4.2h0m-9.7 1.7h0m8.4-6.6h0m3.8 5.4h0m0.9-4.1h0m-6.2 3.3h0m-1.3-0.5h0m3.4-3.3h0m-9.2 0.2h0m2.8 1.6h0m3.7 1.7h0m-1.4-1.9h0m-1.9 3.3h0m4.9-1.7h0m-4.4 2.9h0m-1.1-1.8h0m7-1.8h0m-1.3-1.7h0m0.8 2.6h0m-10.4 0.9h0m2.7 1.3h0m0.9-2.9h0m3.8-0.4h0m-0.1-0.4h0m1.7 1.1h0m-1.9-5.5h0m3.8 5.6h0m-11.7 0.1h0m9 1.9h0m-6.2 1h0m3.7 1.7h0m0-3.4h0m-0.9-3.6h0m5.9 4h0m-2.2-9.4h0m-12.6-10h0m-0.5 3.9h0m-1 5h0m6.9-3.4h0m-1 0.5h0m0.3 3.6h0m4.5-5.7h0m-14.8 8.4h0m9.7-1.3h0m-10.6-5.7h0m10.1-4.5h0m-3.3 8.7h0m9.6 3.5h0m-11.7-12h0m8.3 9.4h0m-1.9-9h0m3.5 8.4h0m-1.4-5.1h0m-1.5 5.1h0m-5.2-10.6h0m5.4 9.3h0m-1.9 1.7h0m-3.6-3.9h0m1.7 2.6h0m11.4-3.3h0m2.7 7.1h0m-7.6-3.8h0m5.9-3h0m-11.3-3.6h0m3.5 9.7h0m0.4-3.7h0m-4.4-1h0m-7.4 3.5h0m6.1-8.6h0m-2 1.1h0m9.6 7.5h0m-13.2-0.5h0m13.4-6h0m-14.2-0.7h0m5.1 4.4h0m1.7-9.5h0m3.5 2h0m4 1.3h0m-9.6 1.4h0m0.9 8.6h0m8.4-2.8h0m-3.2-8.6h0m-5 4h0m-2.8 4.2h0m1.5-4.8h0m-1.9-5.4h0m9.9 13.5h0m-2.6-9.2h0m-17.2 4.6h0m23.5 0.5h0m-1.7 4.7h0m1.2-7.7h0m-0.5 4.9h0m-15.5-4.7h0m0.7 1.2h0m12-3.9h0m-15.8 9.5h0m14.6 0.7h0m-10.2-1.7h0m20.3 3.8h0m-13.7-6.9h0m0.4 2.9h0m7.1-3.7h0m-14.4 2.7h0m5.4-0.5h0m4.4 4h0m5.2-8.3h0m-4.7 8.9h0m-5.3-5.4h0m10.3 3.3h0m-4-10.3h0m-10.7 6.3h0m9.9 9.2h0m-7.5-5.6h0m9.8-11.3h0m-9.5 7.4h0m1.9-1.3h0m5.8-2.6h0m0 0.7h0m-6.1 4.6h0m-0.1-1h0m13-1h0m-10.5 2.8h0m-1.3 1.4h0m-5.5-1.8h0m4.6-5.7h0m13.7-0.2h0m-0.1 6h0m-1.8-6.5h0m-1.5 9.7h0m-7.9-6.3h0m15.4 1.2h0m-17.2-3.2h0m5.2 3.8h0m-1.6 5.6h0m-3.1-5h0m10.8-5.9h0m-2.6 11.3h0m-14.3-11.7h0m1.9-3h0m8.9 0h0m0.3 13.2h0m-12.7-7.1h0m-1.8 4.4h0m7.1-4.2h0m4.7 3.3h0m-2.4-2.1h0m-1.2 0.4h0m-3.7-0.2h0m-4.6-2.3h0m23.1 2.3h0m-19.1 0.7h0m1.8-7.6h0m1.4 9.5h0m6.7-3.3h0m-7.9-3.9h0m13.7 5.3h0m-13.8-9.4h0m-2.5 18.3h0m1.3-10.2h0m8.2-0.3h0m-3-4.9h0m-4.6 12.3h0m1.8-3.4h0m-5.7-4.5h0m11.8 5.2h0m-8.3-1.7h0m9-5.4h0m0.6-0.6h0m-7.7 3.5h0m-11.5-0.3h0m10.3-5.5h0m3.4 9h0m0.2 2h0m-4.6-10.3h0m16.3 6.8h0m-3.6-4.9h0m-0.9 4.3h0m-0.9-0.9h0m3.3-2.7h0m-13-3.3h0m12.8 2.9h0m-13.3-0.8h0m3.6-1.3h0m1 2.6h0m-1.6-1.3h0m3.5 2h0m0.5 2.8h0m1.3-9.8h0m-5.2 5.6h0m7.8-3.1h0m-8.9 5.1h0m2.3 5.2h0m-0.7-0.1h0m-6.1-11.1h0m16.1 8.9h0m-4.4-1.2h0m0-5.4h0m2.8 2.8h0m0.2 2.5h0m-17.7-5.5h0m18.6 4.6h0m-9.2 1.5h0m-0.2-3.2h0m3.2 2.8h0m8.5-0.4h0m2.2 7h0m-1-3h0m-9.5-3.7h0m-1.7-3.4h0m0.5 0.3h0m10.2 4.7h0m-12.5-9.8h0m2.4 6h0m12.6-4.3h0m-9.3 12h0m17.5 14.1h0m0.3-19.1h0m1.5-1.6h0m-6.1 13.1h0m12.8 1.5h0m-10.8-11.8h0m-4.2 6.6h0m-4.1-2.8h0m19.9 5.9h0m-16.3-2.3h0m1.8-12.9h0m-4.9 13.4h0m4.5-10.5h0m1.8-10.2h0m-1.1 20.9h0m-0.1-11.9h0m-9.6 10h0m6.4 1h0m-5-16.3h0m16 3.6h0m4 5.4h0m-15.7 4.3h0m16.1-17.8h0m-0.6 0.4h0m-11.9 10.6h0m14.4-7.8h0m-15.7-4h0m5.2 16.6h0m-11.6-6.5h0m17.6 15.2h0m1.2-13.2h0m-14.7-4.5h0m4.1 7.6h0m4.9 10.7h0m2.7-19.2h0m-1.5 2.5h0m-15.8-2.2h0m22.3 1.6h0m-17.9 7h0m12.6 2.8h0m3.2 5.7h0m-11.9-3h0m-1.2-2h0m9.3-3.2h0m6.3-1.8h0m1.2 6.2h0m-7.8-10.1h0m-7.1 0.3h0m4.4 3.5h0m7.8-5.8h0m-11.9 3.8h0m7.2-5.1h0m7.1-9.1h0m-8.7 18.3h0m1.6 2.3h0m0.7-3.1h0m-17.3-6.1h0m-3.6 9.4h0m21.2-5.8h0m-9.1-2.7h0m6.1 13.1h0m-12.2-22.5h0m8.8 7.4h0m-0.6 7.4h0m4.9 0.6h0m-0.7 4.6h0m1.6-8.4h0m1.6-8.8h0m-17-5.5h0m18.3 17.5h0m-3.6-17.9h0m-3.6 11.3h0m-8.3-1.1h0m16.9 10.2h0m-5.8-0.2h0m-4.6-3.1h0m5.1 3.4h0m-39.5 9.7h0m-0.2-1.5h0m7.1 3.4h0m-5.4 5.4h0m2.9-11.6h0m-2.1 7.2h0m3.6 1.4h0m-3.4-7.4h0m-4.9 4.3h0m4.1-3.9h0m-2.7 1.9h0m1.4 2.2h0m-1.1-4.7h0m4.6 8.5h0m-4-1.7h0m1.6-1.1h0m0.1-4.3h0m0.3 5.3h0m-4.4 2.9h0m9-0.4h0" stroke="#4a62f5" stroke-width=".7" stroke-linecap="square" opacity="0.6"/>
<path d="M321.5 50.5Q322.5 42 329.5 41.8Q337 41.8 339.5 48" fill="none" stroke="#6078f6" stroke-width="5.2" stroke-linecap="round" opacity="0.42" filter="url(#bl2)"/>
<path d="M321.5 50.5Q322.5 42 329.5 41.8Q337 41.8 339.5 48" fill="none" stroke="#3a52f0" stroke-width="4.16" stroke-linecap="round" opacity="0.68" filter="url(#bl2)"/>
<path d="M321.5 50.5Q322.5 42 329.5 41.8Q337 41.8 339.5 48" fill="none" stroke="#28b4c8" stroke-width="3.28" stroke-linecap="round" opacity="0.78" filter="url(#bl2)"/>
<path d="M321.5 50.5Q322.5 42 329.5 41.8Q337 41.8 339.5 48" fill="none" stroke="#48cc48" stroke-width="1.91" stroke-linecap="round" opacity="0.85" filter="url(#bl2)"/>
<ellipse cx="323.5" cy="58.6" rx="4.3" ry="4.6" fill="#6078f6" opacity="0.5" filter="url(#bl)"/>
<ellipse cx="323.5" cy="58.6" rx="3.44" ry="3.68" fill="#3a52f0" opacity="0.8" filter="url(#bl)"/>
<ellipse cx="323.5" cy="58.6" rx="2.71" ry="2.9" fill="#28b4c8" opacity="0.92" filter="url(#bl)"/>
<ellipse cx="323.5" cy="58.6" rx="2.02" ry="2.16" fill="#48cc48" opacity="1" filter="url(#bl)"/>
<ellipse cx="323.5" cy="58.6" rx="1.38" ry="1.47" fill="#ecdf22" opacity="1" filter="url(#bl)"/>
<ellipse cx="323.5" cy="58.6" rx="0.86" ry="0.92" fill="#ff4a10" opacity="1" filter="url(#bl)"/>
<ellipse cx="336.3" cy="56" rx="6" ry="2.3" fill="#6078f6" opacity="0.5" filter="url(#bl)"/>
<ellipse cx="336.3" cy="56" rx="4.8" ry="1.84" fill="#3a52f0" opacity="0.8" filter="url(#bl)"/>
<ellipse cx="336.3" cy="56" rx="3.78" ry="1.45" fill="#28b4c8" opacity="0.92" filter="url(#bl)"/>
<ellipse cx="336.3" cy="56" rx="2.37" ry="0.91" fill="#48cc48" opacity="1" filter="url(#bl)"/>
<ellipse cx="330" cy="42.5" rx="5.5" ry="2" fill="#6078f6" opacity="0.5" filter="url(#bl)" transform="rotate(-3 330 42.5)"/>
<ellipse cx="330" cy="42.5" rx="4.4" ry="1.6" fill="#3a52f0" opacity="0.8" filter="url(#bl)" transform="rotate(-3 330 42.5)"/>
<ellipse cx="330" cy="42.5" rx="3.46" ry="1.26" fill="#28b4c8" opacity="0.92" filter="url(#bl)" transform="rotate(-3 330 42.5)"/>
<ellipse cx="330" cy="42.5" rx="2.17" ry="0.79" fill="#48cc48" opacity="1" filter="url(#bl)" transform="rotate(-3 330 42.5)"/>
</g>
<g fill="none" stroke="#333" stroke-width="0.7"><rect x="315.3" y="34.3" width="28.4" height="18.2"/><rect x="315.3" y="52.5" width="28.4" height="15"/></g>
<line x1="328.4" y1="52.5" x2="328.4" y2="67.5" stroke="#222" stroke-width="0.8"/>
<text x="342.9" y="36.9" font-size="5" text-anchor="end" font-weight="bold" stroke="#111" stroke-width="0.12" fill="#111" dominant-baseline="central">34.6%</text>
<line x1="225.9" y1="25" x2="225.9" y2="72" stroke="#000" stroke-width="1.4"/>
<path d="M223 27.9L225.9 24.8L228.8 27.9" fill="none" stroke="#000" stroke-width="1.3"/>
<text x="225.9" y="79.5" font-size="5.5" text-anchor="middle" font-weight="bold" stroke="#000" stroke-width="0.14" textLength="10.5" lengthAdjust="spacingAndGlyphs" transform="rotate(-90 225.9 79.5)" dominant-baseline="central">EdU</text>
<text x="225.9" y="91.2" font-size="5" text-anchor="middle" font-weight="bold" stroke="#000" stroke-width="0.12" dominant-baseline="central">PI</text>
<line x1="234" y1="91.4" x2="362.5" y2="91.4" stroke="#000" stroke-width="1.4"/>
<path d="M359.6 88.5L362.7 91.4L359.6 94.3" fill="none" stroke="#000" stroke-width="1.3"/>
<line x1="382.9" y1="84.2" x2="385.5" y2="84.2" stroke="#000" stroke-width="0.7"/>
<text x="382.6" y="84.2" font-size="3.7" text-anchor="end" font-weight="bold" stroke="#222" stroke-width="0.09" fill="#222" dominant-baseline="central">0</text>
<line x1="382.9" y1="73" x2="385.5" y2="73" stroke="#000" stroke-width="0.7"/>
<text x="382.6" y="73" font-size="3.7" text-anchor="end" font-weight="bold" stroke="#222" stroke-width="0.09" fill="#222" dominant-baseline="central">10</text>
<line x1="382.9" y1="61.8" x2="385.5" y2="61.8" stroke="#000" stroke-width="0.7"/>
<text x="382.6" y="61.8" font-size="3.7" text-anchor="end" font-weight="bold" stroke="#222" stroke-width="0.09" fill="#222" dominant-baseline="central">20</text>
<line x1="382.9" y1="50.6" x2="385.5" y2="50.6" stroke="#000" stroke-width="0.7"/>
<text x="382.6" y="50.6" font-size="3.7" text-anchor="end" font-weight="bold" stroke="#222" stroke-width="0.09" fill="#222" dominant-baseline="central">30</text>
<line x1="382.9" y1="39.4" x2="385.5" y2="39.4" stroke="#000" stroke-width="0.7"/>
<text x="382.6" y="39.4" font-size="3.7" text-anchor="end" font-weight="bold" stroke="#222" stroke-width="0.09" fill="#222" dominant-baseline="central">40</text>
<line x1="382.9" y1="28.2" x2="385.5" y2="28.2" stroke="#000" stroke-width="0.7"/>
<text x="382.6" y="28.2" font-size="3.7" text-anchor="end" font-weight="bold" stroke="#222" stroke-width="0.09" fill="#222" dominant-baseline="central">50</text>
<line x1="391.7" y1="35.9" x2="391.7" y2="36.4" stroke="#111" stroke-width="0.8"/>
<line x1="390.2" y1="35.9" x2="393.2" y2="35.9" stroke="#111" stroke-width="0.8"/>
<rect x="388.6" y="36.4" width="6.2" height="47.8" fill="#539df8" stroke="#151515" stroke-width="0.75"/>
<line x1="397.9" y1="38.9" x2="397.9" y2="39.4" stroke="#111" stroke-width="0.8"/>
<line x1="396.4" y1="38.9" x2="399.4" y2="38.9" stroke="#111" stroke-width="0.8"/>
<rect x="394.8" y="39.4" width="6.2" height="44.8" fill="#f98181" stroke="#151515" stroke-width="0.75"/>
<line x1="410.6" y1="47" x2="410.6" y2="47.4" stroke="#111" stroke-width="0.8"/>
<line x1="409.1" y1="47" x2="412.1" y2="47" stroke="#111" stroke-width="0.8"/>
<rect x="407.7" y="47.4" width="5.8" height="36.8" fill="#539df8" stroke="#151515" stroke-width="0.75"/>
<line x1="416.55" y1="45.4" x2="416.55" y2="46" stroke="#111" stroke-width="0.8"/>
<line x1="415.05" y1="45.4" x2="418.05" y2="45.4" stroke="#111" stroke-width="0.8"/>
<rect x="413.5" y="46" width="6.1" height="38.2" fill="#f98181" stroke="#151515" stroke-width="0.75"/>
<line x1="429.55" y1="59.4" x2="429.55" y2="59.9" stroke="#111" stroke-width="0.8"/>
<line x1="428.05" y1="59.4" x2="431.05" y2="59.4" stroke="#111" stroke-width="0.8"/>
<rect x="426.6" y="59.9" width="5.9" height="24.3" fill="#539df8" stroke="#151515" stroke-width="0.75"/>
<line x1="435.4" y1="59.1" x2="435.4" y2="59.6" stroke="#111" stroke-width="0.8"/>
<line x1="433.9" y1="59.1" x2="436.9" y2="59.1" stroke="#111" stroke-width="0.8"/>
<rect x="432.5" y="59.6" width="5.8" height="24.6" fill="#f98181" stroke="#151515" stroke-width="0.75"/>
<line x1="385.5" y1="27.8" x2="385.5" y2="84.2" stroke="#000" stroke-width="1"/>
<line x1="385.5" y1="84.2" x2="441.8" y2="84.2" stroke="#000" stroke-width="1"/>
<path d="M398.60 29.85L399.20 31.47L400.93 31.54L399.58 32.62L400.04 34.28L398.60 33.33L397.16 34.28L397.62 32.62L396.27 31.54L398.00 31.47Z" fill="#111"/>
<path d="M418.00 36.55L418.60 38.17L420.33 38.24L418.98 39.32L419.44 40.98L418.00 40.03L416.56 40.98L417.02 39.32L415.67 38.24L417.40 38.17Z" fill="#111"/>
<rect x="390.4" y="21.1" width="6.9" height="2.6" fill="#539df8" stroke="#1a1a1a" stroke-width="0.5"/>
<text x="399.9" y="22.6" font-size="4.09" font-weight="bold" stroke="#111" stroke-width="0.1" fill="#111" textLength="5.9" lengthAdjust="spacingAndGlyphs" dominant-baseline="central">NC</text>
<rect x="412.3" y="21.1" width="6.6" height="2.6" fill="#f98181" stroke="#1a1a1a" stroke-width="0.5"/>
<text x="421.4" y="22.6" font-size="4.48" font-weight="bold" stroke="#111" stroke-width="0.11" fill="#111" textLength="18.4" lengthAdjust="spacingAndGlyphs" dominant-baseline="central">si-RHOB</text>
<line x1="394.8" y1="84.2" x2="394.8" y2="85.6" stroke="#000" stroke-width="0.6"/>
<text x="394.8" y="91.35" font-size="4.8" font-weight="bold" fill="#111" stroke="#111" stroke-width="0.12" text-anchor="middle">G<tspan font-size="3.1" dy="1">0</tspan><tspan font-size="4.8" dy="-1">/G</tspan><tspan font-size="3.1" dy="1">1</tspan></text>
<line x1="413.5" y1="84.2" x2="413.5" y2="85.6" stroke="#000" stroke-width="0.6"/>
<text x="413.5" y="89.8" font-size="4.8" text-anchor="middle" font-weight="bold" stroke="#111" stroke-width="0.12" fill="#111" dominant-baseline="central">S</text>
<line x1="432.5" y1="84.2" x2="432.5" y2="85.6" stroke="#000" stroke-width="0.6"/>
<text x="432.5" y="91.35" font-size="4.8" font-weight="bold" fill="#111" stroke="#111" stroke-width="0.12" text-anchor="middle">G<tspan font-size="3.1" dy="1">2</tspan><tspan font-size="4.8" dy="-1">/M</tspan></text>
<text x="375.1" y="56.3" font-size="5.3" text-anchor="middle" font-weight="bold" stroke="#222" stroke-width="0.13" fill="#222" textLength="58.5" lengthAdjust="spacingAndGlyphs" transform="rotate(-90 375.1 56.3)" dominant-baseline="central">Percentage of cells (%)</text>
<text x="457.5" y="5" font-size="7.5" text-anchor="middle" font-weight="bold" stroke="#000" stroke-width="0.16" dominant-baseline="central">d</text>
<text x="598.95" y="10.4" font-size="7.2" text-anchor="middle" font-weight="bold" stroke="#000" stroke-width="0.16" textLength="38.5" lengthAdjust="spacingAndGlyphs" dominant-baseline="central">Meg-01-MK</text>
<text x="502.5" y="20" font-size="5" text-anchor="middle" font-weight="bold" stroke="#000" stroke-width="0.12" dominant-baseline="central">NC</text>
<text x="568.7" y="20" font-size="5.4" text-anchor="middle" font-weight="bold" stroke="#000" stroke-width="0.14" textLength="20.5" lengthAdjust="spacingAndGlyphs" dominant-baseline="central">siRHOB</text>
<rect x="472.3" y="26.4" width="55.2" height="55.9" fill="#fff" stroke="#b0b0b0" stroke-width="0.5"/>
<line x1="472.3" y1="26.4" x2="472.3" y2="82.3" stroke="#444" stroke-width="0.5"/>
<line x1="472.3" y1="82.3" x2="527.5" y2="82.3" stroke="#444" stroke-width="0.5"/>
<path d="M471.5 28.26h.8M471.5 30.13h.8M471.5 31.99h.8M471.5 33.85h.8M471.5 35.72h.8M471.5 37.58h.8M471.5 39.44h.8M471.5 41.31h.8M471.5 43.17h.8M471.5 45.03h.8M471.5 46.9h.8M471.5 48.76h.8M471.5 50.62h.8M471.5 52.49h.8M471.5 54.35h.8M471.5 56.21h.8M471.5 58.08h.8M471.5 59.94h.8M471.5 61.8h.8M471.5 63.67h.8M471.5 65.53h.8M471.5 67.39h.8M471.5 69.26h.8M471.5 71.12h.8M471.5 72.98h.8M471.5 74.85h.8M471.5 76.71h.8M471.5 78.57h.8M471.5 80.44h.8M472.3 82.3v.8M475.06 82.3v.8M477.82 82.3v.8M480.58 82.3v.8M483.34 82.3v.8M486.1 82.3v.8M488.86 82.3v.8M491.62 82.3v.8M494.38 82.3v.8M497.14 82.3v.8M499.9 82.3v.8M502.66 82.3v.8M505.42 82.3v.8M508.18 82.3v.8M510.94 82.3v.8M513.7 82.3v.8M516.46 82.3v.8M519.22 82.3v.8M521.98 82.3v.8M524.74 82.3v.8M527.5 82.3v.8" fill="none" stroke="#666" stroke-width="0.3"/>
<line x1="470.7" y1="29.59" x2="472.3" y2="29.59" stroke="#444" stroke-width="0.4"/>
<text x="470.4" y="29.59" font-size="2.6" text-anchor="end" fill="#333" dominant-baseline="central">10⁵</text>
<line x1="470.7" y1="41.1" x2="472.3" y2="41.1" stroke="#444" stroke-width="0.4"/>
<text x="470.4" y="41.1" font-size="2.6" text-anchor="end" fill="#333" dominant-baseline="central">10⁴</text>
<line x1="470.7" y1="55.13" x2="472.3" y2="55.13" stroke="#444" stroke-width="0.4"/>
<text x="470.4" y="55.13" font-size="2.6" text-anchor="end" fill="#333" dominant-baseline="central">10³</text>
<line x1="470.7" y1="70.34" x2="472.3" y2="70.34" stroke="#444" stroke-width="0.4"/>
<text x="470.4" y="70.34" font-size="2.6" text-anchor="end" fill="#333" dominant-baseline="central">10²</text>
<line x1="470.7" y1="74.87" x2="472.3" y2="74.87" stroke="#444" stroke-width="0.4"/>
<text x="470.4" y="74.87" font-size="2.6" text-anchor="end" fill="#333" dominant-baseline="central">0</text>
<line x1="470.7" y1="79.95" x2="472.3" y2="79.95" stroke="#444" stroke-width="0.4"/>
<text x="470.4" y="79.95" font-size="2.6" text-anchor="end" fill="#333" dominant-baseline="central">-10²</text>
<line x1="473.51" y1="82.3" x2="473.51" y2="83.8" stroke="#444" stroke-width="0.4"/>
<text x="473.51" y="85.7" font-size="2.5" text-anchor="middle" fill="#333" dominant-baseline="central">0</text>
<line x1="483.34" y1="82.3" x2="483.34" y2="83.8" stroke="#444" stroke-width="0.4"/>
<text x="483.34" y="85.7" font-size="2.5" text-anchor="middle" fill="#333" dominant-baseline="central">20K</text>
<line x1="494.38" y1="82.3" x2="494.38" y2="83.8" stroke="#444" stroke-width="0.4"/>
<text x="494.38" y="85.7" font-size="2.5" text-anchor="middle" fill="#333" dominant-baseline="central">40K</text>
<line x1="505.09" y1="82.3" x2="505.09" y2="83.8" stroke="#444" stroke-width="0.4"/>
<text x="505.09" y="85.7" font-size="2.5" text-anchor="middle" fill="#333" dominant-baseline="central">60K</text>
<line x1="515.91" y1="82.3" x2="515.91" y2="83.8" stroke="#444" stroke-width="0.4"/>
<text x="515.91" y="85.7" font-size="2.5" text-anchor="middle" fill="#333" dominant-baseline="central">80K</text>
<line x1="524.63" y1="82.3" x2="524.63" y2="83.8" stroke="#444" stroke-width="0.4"/>
<text x="524.63" y="85.7" font-size="2.5" text-anchor="middle" fill="#333" dominant-baseline="central">100K</text>
<clipPath id="cp479"><rect x="472.6" y="26.7" width="54.6" height="55.3"/></clipPath><g clip-path="url(#cp479)">
<ellipse cx="496" cy="46.5" rx="10" ry="6.5" fill="#5c74f4" opacity="0.42" filter="url(#bl2)"/>
<ellipse cx="513" cy="52" rx="10" ry="7" fill="#5c74f4" opacity="0.16" filter="url(#bl2)"/>
<path d="M491.9 61.0h0m-5.8-4h0m-1.2 2.1h0m1.9 1.7h0m-4.9 4.9h0m10.7-7h0m-4 1.5h0m-1-2h0m-1-1.9h0m0.7 2.4h0m0.4-2.5h0m-0.7 2.7h0m1.4-3.3h0m-0.5 6.1h0m0.5-4h0m-2.7 0.4h0m3 5.4h0m-2.2-6.6h0m1.3 2.5h0m-3.2-2.8h0m2 4.2h0m-2.7-5.1h0m4.2-0.6h0m-0.9 4.8h0m-0.6-4.2h0m0.2 2.1h0m0.9-1.5h0m1.9-2.5h0m-3.1 5h0m2.8-1.8h0m-1 0.1h0m0.4 6.9h0m-2.8-3.9h0m-1.3 1.6h0m5.3-2.8h0m-5.8 1.1h0m5.7 2.1h0m-0.9-8.8h0m-3.7 9.8h0m-1.4-0.9h0m7.8-1.1h0m-1.9-3.3h0m-5.9 0.7h0m2.6 0.2h0m2.2-0.3h0m-1.2 1.7h0m-0.5 4.2h0m1.1-5.2h0m-1.6-2.2h0m3.9 2.4h0m-6.1-2.2h0m2.4 0.4h0m3-2.2h0m-1.5 3.9h0m-4.1-0.3h0m2.7 1.4h0m-0.9-0.6h0m-3.1-4.2h0m6.2 6.4h0m-2-4.9h0m2.7-4.5h0m-4.7 8.3h0m3.6-5.1h0m-6.3 7.5h0m5.1-7.1h0m-0.3 5.4h0m-6.6 0.6h0m8.4-9.5h0m0 0.9h0m0.9 6.5h0m2.8-3h0m-5.6 4.9h0m-1.6-5.2h0m0.7 1.9h0m-1.8 1.7h0m4.1-1.3h0m2.9-1.2h0m-1-0.6h0m-1.4-4.2h0m-1.4 5.3h0m-1.7-1.3h0m0.3-0.4h0m-4.6 0.4h0m4.1 0.2h0m-1.2 1.2h0m4.6-0.4h0m-3.2 4.9h0m3.6-1.3h0m0.5-3.8h0m-3.2 4.3h0m-1.1-3.7h0m2.3 1.5h0m-1.6 1.9h0m0.3-0.8h0m3.1-0.2h0m-0.9-5.5h0m-5.1 1.6h0m4.5 6.4h0m-4.3-3.6h0m1-3.1h0m13.6 1h0m2 1h0m-4.8-0.6h0m7.6-1.7h0m-1.8-1.2h0m-6.3 0.3h0m1.8 6.6h0m0.7-2.5h0m2.7-2.7h0m2.2-2.2h0m0.7 2.4h0m-9.8 0.4h0m8.3-0.3h0m4.1-1.7h0m-4.3 2.3h0m-5.6 0.9h0m-2.2-5h0m7.9 0.4h0m-2.6-1.1h0m0.8 1h0m1.1-0.8h0m0.4 2.6h0m-1.5 0.4h0m0.2-2.5h0m-10.8 2.7h0m6.6-1h0m5.4-3.1h0m-4.8 2.8h0m-1.1 1.9h0m3.6-2.3h0m-3.3 3.2h0m1.3-0.4h0m4.4-5h0m-6.1 3.8h0m5.7 1.6h0m1.8 0.5h0m-4.7-2.5h0m4.6-0.5h0m1.1-2.3h0m-1.6 2.9h0m-10.5 2.3h0m9.1-2h0m-5.5-0.9h0m10.3-0.8h0m-19.9 0h0m9.1 1.4h0m3.2-1.5h0m-1.8 3.9h0m-2.4 1.8h0m3.6-6.1h0m5.3 3.3h0m-7.3 0.4h0m-3.2-3.3h0m11.9 1.3h0m-9.7 1.5h0m8.9-1h0m-10.9-0.7h0m8.9 2.2h0m5.7-2h0m-9.3 0.4h0m6.7-1.8h0m0.4-3.6h0m-2 4.1h0m-1.4 2.8h0m-6.5-1.6h0m5.7 1.4h0m-4.7-3.2h0m-4 7.1h0m6.9-5.5h0m-5.2 2.3h0m3.9 1h0m5.5-2.9h0m-0.5-2.2h0m-4.2 1h0m-3.8 1.2h0m4.5 2.9h0m-12.8-4.2h0m9.7 0.4h0m5.4 1.7h0m-1.6-1.7h0m-1.1-7.9h0m-16.4-2.4h0m3.3-3.7h0m10.6 4.9h0m-0.2-3.7h0m-2.2-0.2h0m4.1 6.5h0m9.6 2.3h0m-17.9-6.9h0m-1 3h0m20.5 1.6h0m-29.3-7.8h0m6.4 7.1h0m9-0.9h0m12.5-4.5h0m-18.4 11.2h0m8.3-11h0m-16.6-3h0m-2.9 6.4h0m17.4 3.7h0m-1.3-6.8h0m-4.2 10.4h0m-7.2-6.9h0m12.6 1.8h0m-3-0.5h0m8.5-2.6h0m-8.9-0.1h0m-3.6-0.1h0m4.7 1.6h0m11.5 4.4h0m-12.5-2.8h0m5.2 0.6h0m-1.9-1.9h0m-3.5-4.2h0m9.4 8.3h0m-1.5-3.5h0m-2.7-3.5h0m-14.4 4.5h0m13.9-4.9h0m-8.2 7.3h0m-5.8 1.9h0m17.1 2.5h0m-9.5-9.6h0m1.5 0.7h0m2-3.6h0m9-0.1h0m-11.1 5.3h0m-0.2-3.9h0m6.3 0.2h0m-11.2 1.1h0m7.2 7.2h0m-6.2-2.9h0m2.2-5.3h0m3.2 2.5h0m8.3 5.9h0m-10.5-1.7h0m11.5-2h0m-12.3 0.3h0m4.5-2.2h0m-1.1 1.3h0m9.7 1.8h0m-9.2-0.5h0m11.6-7.7h0m0.1-1.6h0m-6.5 7.7h0m6.6-1.3h0m-13.8-4.3h0m-5.4 6.3h0m7.1-6h0m5.4-0.2h0m-6.8 1.3h0m14.7 7.7h0m-12.7-12.2h0m3 6.6h0m0.5 2h0m-4.6 1.4h0m8.1-2.9h0m-8.7-2.7h0m7.6-2.5h0m-5.9 1.4h0m-8.7 5.4h0m9.6-2.3h0m6.3-6.1h0m-6.6 7.2h0m6.3-5.5h0m-0.8 5.2h0m4.5 3.7h0m-5.7 4h0m-3.8-10.3h0m-2.4-2.1h0m2.2-3.7h0m-0.4 9.2h0m7.5-3.1h0m2.8-1.2h0m-10.6-4.9h0m-4.4 4.3h0m15.5 5.3h0m-17.7 0h0m10.8-3h0m-3.1-0.3h0m-3.9-5.7h0m3.1 11.9h0m10.4-6.1h0m-14.9 0.3h0m11.2 2.2h0m-10.1 0h0m2.6 0.6h0m-1.4-7.7h0m3.2 8.7h0m-8-3.4h0m13.6-1.1h0m-10.4 9.4h0m10.1-3.9h0m-12.2 2.4h0m-4.8-8.4h0m16.3 7.2h0m-11.3-7.8h0m7.6-4.9h0m3.1 9.7h0m-7.4-0.1h0m8.3-0.9h0m-1.7 4.7h0m-6.8-5.3h0m-0.4 3.4h0m0.8-2.2h0m3.7-1.5h0m10.7-0.6h0m-2 3.5h0m-0.7-3.8h0m-2.6 3.5h0m-10.5-1.9h0m3.3-1.1h0m9.7-2.7h0m-20.2-3.9h0m8.3 4.2h0m3.2 4.7h0m11.8-1h0m-8.8-4h0m0.8 8h0m5.2-12.7h0m-3.1 13.6h0m-0.4-11.9h0m-7.7 8.1h0m4.9-5.4h0m-8.8 6.8h0m-3 1.8h0m9.1-4.3h0m-9.1-3.5h0m13.6-3.4h0m9.4 0.3h0m-22.2 5.6h0m11.4 2.6h0m-5.7-3.6h0m0.9-1.4h0m-15.8 5.9h0m19.1-3.1h0m-5.9 0.4h0m4.1-1.3h0m7.5-6.3h0m-5.7 2.5h0m-3.8 9.9h0m-5.2-6.2h0m3.3 4h0m-2.6-10.1h0m10.1 5.1h0m-5.6 5.6h0m-3.9-5.6h0m7 3h0m-4.5 2.4h0m18.6-5.6h0m16.1 5.9h0m-11 0.1h0m-6.7-4.5h0m2.1 12.3h0m13.3-7.9h0m-14.5-1.7h0m-5.8 12.1h0m16.1-8.1h0m-9.9-5.5h0m15.6 8.6h0m-19.6 1h0m-1.4-1.6h0m1.3-5.1h0m12.6 4.1h0m4.4-6.1h0m-8.8 6.2h0m-6.6-2.9h0m-4.7 1.1h0m13.1 6h0m6.5-2.5h0m-11.3-5h0m0.2 2.2h0m-13.8 2.6h0m3.2-6.2h0m13.7 0h0m-4.5 4.4h0m15.5-3.5h0m-10.4-1.1h0m-0.3 1h0m0.2 6.5h0m11.3-4.2h0m-10.3 3.5h0m-4.2-9.2h0m12.1 0.6h0m-1.6-0.1h0m-0.7 11.8h0m-15.6-0.1h0m1.2-15.6h0m13.3 11.9h0m-8-15.5h0m1.3 10.6h0m-2.8 0.1h0m-12.2-1.3h0m12.4-0.7h0m6.5 8.5h0m2.8-10.7h0m-4.8 6.3h0m11 5h0m-7.9 0.1h0m-7.9 1.6h0m-0.3-5.5h0m11.6-6.3h0m-14-4h0m7.5 8.1h0m-4.2 2.7h0m-15.5-2.5h0m19.1-1.2h0m6.1 9.7h0m-10.8-12.9h0m-1.3 4.9h0m10.3-4.5h0m3.5-0.8h0m-1.5 7h0m-3.1 8.3h0m-6.3-11.2h0m6.4 4.9h0m-15.7-2.8h0m5.2 1.7h0m18.2-2.8h0m-12.7 0.7h0m-24.6 2.8h0m30.3-2.9h0m-8.2-4.3h0m1.9 9.3h0m0.6 0.7h0m-21.3-8.7h0m24.6 2.1h0m-16.7-3.1h0m25.1-3h0m-19.4 0.9h0m3.8 8.4h0m9.9-12.8h0m-10.2 17.7h0m-33.1-3.6h0m-1.6 1.5h0m-1.1 1.1h0m5.4 2h0m-5.4-0.7h0m3 1.9h0m-1-0.9h0m7-1h0m-9.2 0.6h0m0.8-2h0m2.8 2.1h0m-1.3 1.4h0m0.2-6.2h0m3.1 2.8h0m1-0.9h0m-1.9 2.8h0" stroke="#4a62f5" stroke-width=".7" stroke-linecap="square" opacity="0.6"/>
<ellipse cx="496" cy="46" rx="8" ry="4.6" fill="#6078f6" opacity="0.5" filter="url(#bl)" transform="rotate(-3 496 46)"/>
<ellipse cx="496" cy="46" rx="6.4" ry="3.68" fill="#3a52f0" opacity="0.8" filter="url(#bl)" transform="rotate(-3 496 46)"/>
<ellipse cx="496" cy="46" rx="4.03" ry="2.32" fill="#28b4c8" opacity="0.92" filter="url(#bl)" transform="rotate(-3 496 46)"/>
<ellipse cx="486.9" cy="58.8" rx="4.1" ry="4.8" fill="#6078f6" opacity="0.5" filter="url(#bl)"/>
<ellipse cx="486.9" cy="58.8" rx="3.28" ry="3.84" fill="#3a52f0" opacity="0.8" filter="url(#bl)"/>
<ellipse cx="486.9" cy="58.8" rx="2.58" ry="3.02" fill="#28b4c8" opacity="0.92" filter="url(#bl)"/>
<ellipse cx="486.9" cy="58.8" rx="1.93" ry="2.26" fill="#48cc48" opacity="1" filter="url(#bl)"/>
<ellipse cx="486.9" cy="58.8" rx="1.31" ry="1.54" fill="#ecdf22" opacity="1" filter="url(#bl)"/>
<ellipse cx="486.9" cy="58.8" rx="0.82" ry="0.96" fill="#ff4a10" opacity="1" filter="url(#bl)"/>
<ellipse cx="498.5" cy="55.8" rx="6.2" ry="2.4" fill="#6078f6" opacity="0.5" filter="url(#bl)"/>
<ellipse cx="498.5" cy="55.8" rx="4.96" ry="1.92" fill="#3a52f0" opacity="0.8" filter="url(#bl)"/>
<ellipse cx="498.5" cy="55.8" rx="3.91" ry="1.51" fill="#28b4c8" opacity="0.92" filter="url(#bl)"/>
<ellipse cx="498.5" cy="55.8" rx="2.56" ry="0.99" fill="#48cc48" opacity="1" filter="url(#bl)"/>
</g>
<g fill="none" stroke="#333" stroke-width="0.7"><rect x="478.8" y="33.2" width="29.6" height="18.8"/><rect x="478.8" y="52" width="29.6" height="15.5"/></g>
<line x1="492.3" y1="52" x2="492.3" y2="67.5" stroke="#222" stroke-width="0.8"/>
<text x="506" y="36.6" font-size="5" text-anchor="end" font-weight="bold" stroke="#111" stroke-width="0.12" fill="#111" dominant-baseline="central">16.0%</text>
<rect x="541.3" y="26.6" width="54.8" height="54.7" fill="#fff" stroke="#b0b0b0" stroke-width="0.5"/>
<line x1="541.3" y1="26.6" x2="541.3" y2="81.3" stroke="#444" stroke-width="0.5"/>
<line x1="541.3" y1="81.3" x2="596.1" y2="81.3" stroke="#444" stroke-width="0.5"/>
<path d="M540.5 28.42h.8M540.5 30.25h.8M540.5 32.07h.8M540.5 33.89h.8M540.5 35.72h.8M540.5 37.54h.8M540.5 39.36h.8M540.5 41.19h.8M540.5 43.01h.8M540.5 44.83h.8M540.5 46.66h.8M540.5 48.48h.8M540.5 50.3h.8M540.5 52.13h.8M540.5 53.95h.8M540.5 55.77h.8M540.5 57.6h.8M540.5 59.42h.8M540.5 61.24h.8M540.5 63.07h.8M540.5 64.89h.8M540.5 66.71h.8M540.5 68.54h.8M540.5 70.36h.8M540.5 72.18h.8M540.5 74.01h.8M540.5 75.83h.8M540.5 77.65h.8M540.5 79.48h.8M541.3 81.3v.8M544.04 81.3v.8M546.78 81.3v.8M549.52 81.3v.8M552.26 81.3v.8M555 81.3v.8M557.74 81.3v.8M560.48 81.3v.8M563.22 81.3v.8M565.96 81.3v.8M568.7 81.3v.8M571.44 81.3v.8M574.18 81.3v.8M576.92 81.3v.8M579.66 81.3v.8M582.4 81.3v.8M585.14 81.3v.8M587.88 81.3v.8M590.62 81.3v.8M593.36 81.3v.8M596.1 81.3v.8" fill="none" stroke="#666" stroke-width="0.3"/>
<line x1="539.7" y1="29.72" x2="541.3" y2="29.72" stroke="#444" stroke-width="0.4"/>
<text x="539.4" y="29.72" font-size="2.6" text-anchor="end" fill="#333" dominant-baseline="central">10⁵</text>
<line x1="539.7" y1="40.99" x2="541.3" y2="40.99" stroke="#444" stroke-width="0.4"/>
<text x="539.4" y="40.99" font-size="2.6" text-anchor="end" fill="#333" dominant-baseline="central">10⁴</text>
<line x1="539.7" y1="54.72" x2="541.3" y2="54.72" stroke="#444" stroke-width="0.4"/>
<text x="539.4" y="54.72" font-size="2.6" text-anchor="end" fill="#333" dominant-baseline="central">10³</text>
<line x1="539.7" y1="69.59" x2="541.3" y2="69.59" stroke="#444" stroke-width="0.4"/>
<text x="539.4" y="69.59" font-size="2.6" text-anchor="end" fill="#333" dominant-baseline="central">10²</text>
<line x1="539.7" y1="74.02" x2="541.3" y2="74.02" stroke="#444" stroke-width="0.4"/>
<text x="539.4" y="74.02" font-size="2.6" text-anchor="end" fill="#333" dominant-baseline="central">0</text>
<line x1="539.7" y1="79" x2="541.3" y2="79" stroke="#444" stroke-width="0.4"/>
<text x="539.4" y="79" font-size="2.6" text-anchor="end" fill="#333" dominant-baseline="central">-10²</text>
<line x1="542.51" y1="81.3" x2="542.51" y2="82.8" stroke="#444" stroke-width="0.4"/>
<text x="542.51" y="84.7" font-size="2.5" text-anchor="middle" fill="#333" dominant-baseline="central">0</text>
<line x1="552.26" y1="81.3" x2="552.26" y2="82.8" stroke="#444" stroke-width="0.4"/>
<text x="552.26" y="84.7" font-size="2.5" text-anchor="middle" fill="#333" dominant-baseline="central">20K</text>
<line x1="563.22" y1="81.3" x2="563.22" y2="82.8" stroke="#444" stroke-width="0.4"/>
<text x="563.22" y="84.7" font-size="2.5" text-anchor="middle" fill="#333" dominant-baseline="central">40K</text>
<line x1="573.85" y1="81.3" x2="573.85" y2="82.8" stroke="#444" stroke-width="0.4"/>
<text x="573.85" y="84.7" font-size="2.5" text-anchor="middle" fill="#333" dominant-baseline="central">60K</text>
<line x1="584.59" y1="81.3" x2="584.59" y2="82.8" stroke="#444" stroke-width="0.4"/>
<text x="584.59" y="84.7" font-size="2.5" text-anchor="middle" fill="#333" dominant-baseline="central">80K</text>
<line x1="593.25" y1="81.3" x2="593.25" y2="82.8" stroke="#444" stroke-width="0.4"/>
<text x="593.25" y="84.7" font-size="2.5" text-anchor="middle" fill="#333" dominant-baseline="central">100K</text>
<clipPath id="cp528"><rect x="541.6" y="26.9" width="54.2" height="54.1"/></clipPath><g clip-path="url(#cp528)">
<ellipse cx="566" cy="46.5" rx="10" ry="6.5" fill="#5c74f4" opacity="0.42" filter="url(#bl2)"/>
<ellipse cx="583" cy="51" rx="10" ry="7" fill="#5c74f4" opacity="0.16" filter="url(#bl2)"/>
<path d="M559.6 59.4h0m-1-2.8h0m-1.6 2h0m1 1.4h0m-1.5-4h0m-0.8 3.2h0m-2.7-4.8h0m3 2h0m0.4-6.1h0m-0.2 7h0m2.7-5h0m-2.6 7.1h0m1.9 2h0m1.3-6.4h0m-1 2h0m-3.4 5.4h0m0.4-6.9h0m0.5 0h0m3.4 3.6h0m1 0.1h0m-4.9 1.8h0m-0.1-4.3h0m1.2 1.4h0m3.3-1.8h0m-2.1 1.6h0m-3.8-3.1h0m2.5 4.4h0m1.3 0.2h0m-0.7-2.7h0m0.9-1.6h0m-4.2 1.9h0m-0.2-0.5h0m1.6-0.1h0m1.7-0.7h0m-0.9-2.6h0m1.3 2.4h0m0.7-5.7h0m-2.9 8.9h0m-4-1.7h0m6.1 1.3h0m-3.8 0.4h0m4-3.5h0m1.4 2.7h0m-1.8-1.2h0m1.3 1.6h0m1.4 1h0m-4.2-1.9h0m3.7-0.5h0m-1.3 2.6h0m-1.3-8.2h0m0.7 7.3h0m0-2.8h0m2.6 1.8h0m-4.4-1.7h0m2.4-1.1h0m-3.3 9h0m5.6-2.7h0m0.1-1.4h0m-7.4 1.8h0m7.1-2.1h0m-7.7 2.2h0m8-5h0m-3 3.7h0m-0.5 0.9h0m0.4-1.2h0m0-6.3h0m-2.6 13.5h0m3.1-5.4h0m2.1 1.2h0m-1.5-6.7h0m-1.3-3.9h0m-0.5 8.2h0m-4.7-2h0m7.2 3.3h0m-4.2-5.8h0m-2.3-1.1h0m5.8 9h0m-4.1-2h0m3.8-5.4h0m4.3-5.9h0m-5.5 7.9h0m5.4 4.6h0m0.3-4.8h0m-3.1 3.6h0m-1.2-3h0m-1.6-2.2h0m-2.6 6.9h0m1.9-11.8h0m1.7 6h0m-0.2 5.4h0m-0.7-6.1h0m-1.5 0.7h0m0.7 0.7h0m8.7 0.5h0m-9.7 4.5h0m4.2-3.2h0m-0.4 0h0m-0.1 1.7h0m0.8-0.2h0m-3.6-3.9h0m11.1-0.8h0m6-2.8h0m-0.9 6h0m2.5-7.3h0m-5.2 3.4h0m0.3-0.4h0m4.7-0.2h0m-8.9 0.8h0m3.9-1.2h0m-1.8-2.9h0m-2.7 2h0m0.7-4.6h0m8.7 3h0m-7.3 3.3h0m-6.6 1.6h0m6.4-1.3h0m1.1-0.7h0m2.3-0.6h0m-7.5-2.9h0m6.9 5.6h0m-1.9-1.7h0m2.7-0.1h0m3.3-3.8h0m-2.8 2.6h0m-2.3-1.4h0m-1.9-0.3h0m-1.2 6.9h0m10.9-4.9h0m-3.7-1.9h0m-13.7-1.7h0m11.4 6.4h0m-0.8-4.8h0m-0.7 0.1h0m-4.5 1.4h0m3.8-1.1h0m-1.9-0.2h0m4.4 4.5h0m-1.7 1.7h0m-5.5-3.9h0m1.8-0.8h0m4.9 1.4h0m4-2.2h0m-9.2 0.7h0m5.9-1h0m2.4 4.7h0m-9-2.6h0m9.5-4.4h0m-3.2 3.3h0m-6.3 3h0m6.3-3.5h0m0.9 2.2h0m1.3-0.2h0m-1.4-3.4h0m-3.2 2.6h0m-9.2 3.9h0m9.3-6.3h0m-5.6 2.6h0m7.2-1.6h0m-1.7-0.6h0m-1.3 1.5h0m0.4 1.5h0m1.9-1h0m2.2 2.2h0m0.7-2.1h0m-2.9-2h0m-0.7 2.9h0m2.2-2.1h0m-6.1-2.2h0m6.5 5h0m0.2-4.7h0m-2.3 3.1h0m-2.8 0.3h0m2.8-2.3h0m-4 3.2h0m6.2-3.3h0m-5.4 3.4h0m6.3-2.3h0m3.9 0h0m-10.3 2.7h0m3.4-1.4h0m-3.2-13.9h0m-8.4 3.1h0m17.7-3.1h0m-0.3 4.8h0m-16.9 0.1h0m11.5-4.5h0m-18.4 4.9h0m6.9 0.3h0m-5.4-2.3h0m7.5-5.2h0m3.9 6.5h0m-2.2-5.3h0m5.2-2.2h0m2.2 8.7h0m7.8 1.5h0m-9-2.4h0m-2.2-6.2h0m9.8 7.2h0m-11.9-6.5h0m12 6.6h0m-18.2 0.5h0m21-2.7h0m-10.2-1.5h0m-7 5.8h0m25.2-3.7h0m-21.7 2.6h0m-1.3-0.3h0m7.7-6.7h0m-12.9 3.6h0m13 1.4h0m2.7-6.4h0m-5 2.9h0m-2.7 3.6h0m-7.3-2.1h0m-1.3 1.9h0m2.1-2.9h0m7.3-0.6h0m6.3 0h0m-2 3.6h0m-12.8-1.9h0m1.3-0.6h0m3.9 8.5h0m-1-1h0m5.8-11.2h0m-18.7 7.7h0m2.2 0.2h0m20.5-1.3h0m-8.4-2.5h0m3.2-0.2h0m-5.4-0.2h0m11.5-1h0m-5.3-2.1h0m-7.4-0.8h0m3.5 7.9h0m3.4-4.5h0m2 0.6h0m-1.6 2.4h0m1.2-10.7h0m-12.5 12.6h0m8.1 5.7h0m-0.9-10.8h0m11.7 4.3h0m2.8-0.2h0m-14.3 0.8h0m-3.9-4.5h0m1.5 0.8h0m9.1-1h0m-3.1 0h0m3.8-8.8h0m-7.4 11.4h0m-5.9 3.2h0m8.8 1.1h0m5-2.5h0m-7.5-6.7h0m-0.5 2.4h0m3.2 0h0m19-4.4h0m-12.8 4.4h0m-9.5 5.4h0m1.6-8.3h0m2.8 3.9h0m-16.7 1.6h0m6.8-3.7h0m10.4 4.1h0m-5.3 7.2h0m4.8-10.8h0m-1.2 1.9h0m-16.5-5.6h0m5.5 14.1h0m8.2-9.1h0m-2.6 4.9h0m4 2.8h0m5.1-0.2h0m-6.1-5h0m-2.1-2.1h0m-8.8-1.5h0m5.3-0.3h0m14.6 3.5h0m0.1 2.3h0m-2.1 0.6h0m-10.3-0.8h0m1.9-5.1h0m10.3 10.3h0m-14.7-1.6h0m12.2-10h0m-3.8 4.7h0m0.7-2.8h0m-11.2 1.5h0m14.5 2.9h0m-1.3 1.2h0m-11.2-4.4h0m9 4.1h0m-1.2-1.9h0m-0.2 6.1h0m-15.6-8.2h0m31.4 1h0m-29.1-0.4h0m2.7-3.1h0m11.2 9.2h0m1.6-4h0m3.8-1.8h0m-12.7-1.2h0m8.1-0.7h0m-6.8-0.3h0m-5.6-2.5h0m9.5 2.5h0m0.9 6.8h0m1.7-5.5h0m-9.9-4.1h0m10.4 0.8h0m0.4-0.7h0m-2 3.8h0m5.8-1.2h0m-9.2 2.4h0m2.9 5.6h0m-2.1-8.6h0m-0.5 3.9h0m3.8 0.9h0m-10.9 6.8h0m21.7-9.6h0m-20.5 0.7h0m10.9-9.2h0m-2.7 2.9h0m3 11h0m3.9-11.1h0m2.3 9.3h0m-11.7-1.6h0m12.6-3.2h0m-10.3-0.9h0m7.9-6.1h0m1.8 4.6h0m-3.4-2.6h0m-12.5 4h0m11.9-3.9h0m-1.5 3.8h0m4.3 1.2h0m-5.1 0.5h0m8.8-0.7h0m-12.3 9h0m0.7-5h0m-5.5-1.8h0m-10.3-0.4h0m10.9-6.2h0m-5.1 10.2h0m12.4-10.2h0m9.3 3.1h0m-14.7 3.6h0m-5.2-7.1h0m2.7 10.7h0m11.4-10.6h0m22.5 11.3h0m-6.1 0h0m-0.7-5h0m-11.5 1.4h0m4.7 6.4h0m-7.3 4.7h0m5-10.5h0m11.6 4.9h0m-9-7.2h0m-5.8-2.6h0m18.6 12.9h0m-7-1.6h0m5.3-4.8h0m-5.1 11.6h0m-17.8-17.2h0m6.4 10.4h0m18.6-5.2h0m-4.5 1.4h0m-3.2-2.4h0m-2.8 2.6h0m10 10.7h0m-25.5-8.1h0m15.7 2.1h0m9.2-0.9h0m-2.2-8.4h0m-21.8 12.6h0m25.3-12.6h0m-31.8 8.9h0m12.7 1.3h0m2.7-9.2h0m-7.5 2.6h0m22.2-2.2h0m-24.9 13.5h0m11.4-16.1h0m-9.5 8.5h0m14.2-4h0m-2.2 3.7h0m9.6 2.8h0m-9.9-5.9h0m-9.1 5.9h0m7-8.4h0m5.2-0.9h0m-9.6 2.7h0m13.6-5.7h0m-21.5 15.9h0m13.4-16.2h0m2.6 10.3h0m-14.1-7.2h0m17.3-0.1h0m4.6 9h0m-3.1-6.7h0m-4.2-1h0m-0.7 4.6h0m-1.5 3.2h0m5.6-0.7h0m2.6-5.1h0m-9.8 5.9h0m9.6-2.4h0m-12.4 0.6h0m13.9-3.9h0m-1.3 11.4h0m-21.9-7.6h0m6.1-9.5h0m8.2 9.2h0m2.5-8.2h0m-13 2.9h0m12.6-1.3h0m-13.2 12.5h0m5.8-9.3h0m2.5-2h0m5.1 1.4h0m5.1-4.3h0m-18.3 15.1h0m12.2-5.7h0m11-1h0m-10-10.2h0m-14.2 12.2h0m19.8-1.9h0m-20.4-13.1h0m5.3 4.6h0m10.6 0.8h0m-6.3 9.1h0m-33.1 2.2h0m1.4 8.2h0m-5.5-11.2h0m4.9 7.6h0m1-0.8h0m-4.7-4.6h0m1 9.1h0m2.3-11.3h0m1.2 9.2h0m-2.5-7.1h0m5.1-0.3h0m-5.4-1.8h0m3.4 9h0m-4.4-7.4h0m1 5.1h0" stroke="#4a62f5" stroke-width=".7" stroke-linecap="square" opacity="0.6"/>
<ellipse cx="566" cy="46" rx="8" ry="4.6" fill="#6078f6" opacity="0.5" filter="url(#bl)" transform="rotate(-3 566 46)"/>
<ellipse cx="566" cy="46" rx="6.4" ry="3.68" fill="#3a52f0" opacity="0.8" filter="url(#bl)" transform="rotate(-3 566 46)"/>
<ellipse cx="566" cy="46" rx="4.03" ry="2.32" fill="#28b4c8" opacity="0.92" filter="url(#bl)" transform="rotate(-3 566 46)"/>
<ellipse cx="557" cy="58" rx="4.1" ry="4.8" fill="#6078f6" opacity="0.5" filter="url(#bl)"/>
<ellipse cx="557" cy="58" rx="3.28" ry="3.84" fill="#3a52f0" opacity="0.8" filter="url(#bl)"/>
<ellipse cx="557" cy="58" rx="2.58" ry="3.02" fill="#28b4c8" opacity="0.92" filter="url(#bl)"/>
<ellipse cx="557" cy="58" rx="1.93" ry="2.26" fill="#48cc48" opacity="1" filter="url(#bl)"/>
<ellipse cx="557" cy="58" rx="1.31" ry="1.54" fill="#ecdf22" opacity="1" filter="url(#bl)"/>
<ellipse cx="557" cy="58" rx="0.82" ry="0.96" fill="#ff4a10" opacity="1" filter="url(#bl)"/>
<ellipse cx="569.2" cy="55.3" rx="6.2" ry="2.4" fill="#6078f6" opacity="0.5" filter="url(#bl)"/>
<ellipse cx="569.2" cy="55.3" rx="4.96" ry="1.92" fill="#3a52f0" opacity="0.8" filter="url(#bl)"/>
<ellipse cx="569.2" cy="55.3" rx="3.91" ry="1.51" fill="#28b4c8" opacity="0.92" filter="url(#bl)"/>
<ellipse cx="569.2" cy="55.3" rx="2.56" ry="0.99" fill="#48cc48" opacity="1" filter="url(#bl)"/>
</g>
<g fill="none" stroke="#333" stroke-width="0.7"><rect x="547.8" y="33.5" width="28.9" height="18.4"/><rect x="547.8" y="51.9" width="28.9" height="15.3"/></g>
<line x1="561.6" y1="51.9" x2="561.6" y2="67.2" stroke="#222" stroke-width="0.8"/>
<text x="576.4" y="36.9" font-size="5" text-anchor="end" font-weight="bold" stroke="#111" stroke-width="0.12" fill="#111" dominant-baseline="central">18.6%</text>
<line x1="462.6" y1="24.8" x2="462.6" y2="72" stroke="#000" stroke-width="1.4"/>
<path d="M459.7 27.7L462.6 24.6L465.5 27.7" fill="none" stroke="#000" stroke-width="1.3"/>
<text x="462.6" y="79.5" font-size="5.5" text-anchor="middle" font-weight="bold" stroke="#000" stroke-width="0.14" textLength="10.5" lengthAdjust="spacingAndGlyphs" transform="rotate(-90 462.6 79.5)" dominant-baseline="central">EdU</text>
<text x="462.6" y="90.8" font-size="5" text-anchor="middle" font-weight="bold" stroke="#000" stroke-width="0.12" dominant-baseline="central">PI</text>
<line x1="471" y1="91.5" x2="599.5" y2="91.5" stroke="#000" stroke-width="1.4"/>
<path d="M596.6 88.6L599.7 91.5L596.6 94.4" fill="none" stroke="#000" stroke-width="1.3"/>
<line x1="614.9" y1="83.4" x2="617.5" y2="83.4" stroke="#000" stroke-width="0.7"/>
<text x="614.6" y="83.4" font-size="3.7" text-anchor="end" font-weight="bold" stroke="#222" stroke-width="0.09" fill="#222" dominant-baseline="central">0</text>
<line x1="614.9" y1="68.62" x2="617.5" y2="68.62" stroke="#000" stroke-width="0.7"/>
<text x="614.6" y="68.62" font-size="3.7" text-anchor="end" font-weight="bold" stroke="#222" stroke-width="0.09" fill="#222" dominant-baseline="central">20</text>
<line x1="614.9" y1="53.85" x2="617.5" y2="53.85" stroke="#000" stroke-width="0.7"/>
<text x="614.6" y="53.85" font-size="3.7" text-anchor="end" font-weight="bold" stroke="#222" stroke-width="0.09" fill="#222" dominant-baseline="central">40</text>
<line x1="614.9" y1="39.08" x2="617.5" y2="39.08" stroke="#000" stroke-width="0.7"/>
<text x="614.6" y="39.08" font-size="3.7" text-anchor="end" font-weight="bold" stroke="#222" stroke-width="0.09" fill="#222" dominant-baseline="central">60</text>
<line x1="614.9" y1="24.3" x2="617.5" y2="24.3" stroke="#000" stroke-width="0.7"/>
<text x="614.6" y="24.3" font-size="3.7" text-anchor="end" font-weight="bold" stroke="#222" stroke-width="0.09" fill="#222" dominant-baseline="central">80</text>
<line x1="623.9" y1="40.5" x2="623.9" y2="42.3" stroke="#111" stroke-width="0.8"/>
<line x1="622.4" y1="40.5" x2="625.4" y2="40.5" stroke="#111" stroke-width="0.8"/>
<rect x="620.7" y="42.3" width="6.4" height="41.1" fill="#539df8" stroke="#151515" stroke-width="0.75"/>
<line x1="630.3" y1="43.3" x2="630.3" y2="44" stroke="#111" stroke-width="0.8"/>
<line x1="628.8" y1="43.3" x2="631.8" y2="43.3" stroke="#111" stroke-width="0.8"/>
<rect x="627.1" y="44" width="6.4" height="39.4" fill="#f98181" stroke="#151515" stroke-width="0.75"/>
<line x1="643.5" y1="70.3" x2="643.5" y2="71.3" stroke="#111" stroke-width="0.8"/>
<line x1="642" y1="70.3" x2="645" y2="70.3" stroke="#111" stroke-width="0.8"/>
<rect x="640.5" y="71.3" width="6" height="12.1" fill="#539df8" stroke="#151515" stroke-width="0.75"/>
<line x1="649.95" y1="69.8" x2="649.95" y2="70.5" stroke="#111" stroke-width="0.8"/>
<line x1="648.45" y1="69.8" x2="651.45" y2="69.8" stroke="#111" stroke-width="0.8"/>
<rect x="646.5" y="70.5" width="6.9" height="12.9" fill="#f98181" stroke="#151515" stroke-width="0.75"/>
<line x1="663.55" y1="65.5" x2="663.55" y2="66.3" stroke="#111" stroke-width="0.8"/>
<line x1="662.05" y1="65.5" x2="665.05" y2="65.5" stroke="#111" stroke-width="0.8"/>
<rect x="660.6" y="66.3" width="5.9" height="17.1" fill="#539df8" stroke="#151515" stroke-width="0.75"/>
<line x1="669.6" y1="65.6" x2="669.6" y2="66.3" stroke="#111" stroke-width="0.8"/>
<line x1="668.1" y1="65.6" x2="671.1" y2="65.6" stroke="#111" stroke-width="0.8"/>
<rect x="666.5" y="66.3" width="6.2" height="17.1" fill="#f98181" stroke="#151515" stroke-width="0.75"/>
<line x1="617.5" y1="23.9" x2="617.5" y2="83.4" stroke="#000" stroke-width="1"/>
<line x1="617.5" y1="83.4" x2="676.6" y2="83.4" stroke="#000" stroke-width="1"/>
<path d="M630.80 33.55L631.40 35.17L633.13 35.24L631.78 36.32L632.24 37.98L630.80 37.03L629.36 37.98L629.82 36.32L628.47 35.24L630.20 35.17Z" fill="#111"/>
<path d="M650.60 61.35L651.20 62.97L652.93 63.04L651.58 64.12L652.04 65.78L650.60 64.83L649.16 65.78L649.62 64.12L648.27 63.04L650.00 62.97Z" fill="#111"/>
<rect x="621.2" y="21.1" width="6.7" height="2.6" fill="#539df8" stroke="#1a1a1a" stroke-width="0.5"/>
<text x="630.4" y="22.6" font-size="3.81" font-weight="bold" stroke="#111" stroke-width="0.1" fill="#111" textLength="5.5" lengthAdjust="spacingAndGlyphs" dominant-baseline="central">NC</text>
<rect x="643" y="21.1" width="6.4" height="2.6" fill="#f98181" stroke="#1a1a1a" stroke-width="0.5"/>
<text x="652.3" y="22.6" font-size="4.48" font-weight="bold" stroke="#111" stroke-width="0.11" fill="#111" textLength="18.4" lengthAdjust="spacingAndGlyphs" dominant-baseline="central">si-RHOB</text>
<line x1="627.1" y1="83.4" x2="627.1" y2="84.8" stroke="#000" stroke-width="0.6"/>
<text x="627.1" y="90.55" font-size="4.8" font-weight="bold" fill="#111" stroke="#111" stroke-width="0.12" text-anchor="middle">G<tspan font-size="3.1" dy="1">0</tspan><tspan font-size="4.8" dy="-1">/G</tspan><tspan font-size="3.1" dy="1">1</tspan></text>
<line x1="646.5" y1="83.4" x2="646.5" y2="84.8" stroke="#000" stroke-width="0.6"/>
<text x="646.5" y="89" font-size="4.8" text-anchor="middle" font-weight="bold" stroke="#111" stroke-width="0.12" fill="#111" dominant-baseline="central">S</text>
<line x1="666.5" y1="83.4" x2="666.5" y2="84.8" stroke="#000" stroke-width="0.6"/>
<text x="666.5" y="90.55" font-size="4.8" font-weight="bold" fill="#111" stroke="#111" stroke-width="0.12" text-anchor="middle">G<tspan font-size="3.1" dy="1">2</tspan><tspan font-size="4.8" dy="-1">/M</tspan></text>
<text x="605.3" y="54.5" font-size="5.3" text-anchor="middle" font-weight="bold" stroke="#222" stroke-width="0.13" fill="#222" textLength="58.5" lengthAdjust="spacingAndGlyphs" transform="rotate(-90 605.3 54.5)" dominant-baseline="central">Percentage of cells (%)</text>
<text x="221.1" y="105.2" font-size="7.5" text-anchor="middle" font-weight="bold" stroke="#000" stroke-width="0.16" dominant-baseline="central">e</text>
<text x="369.45" y="110.4" font-size="7.2" text-anchor="middle" font-weight="bold" stroke="#000" stroke-width="0.16" textLength="29.3" lengthAdjust="spacingAndGlyphs" dominant-baseline="central">UT-7-MK</text>
<text x="267.6" y="120" font-size="5" text-anchor="middle" font-weight="bold" stroke="#000" stroke-width="0.12" dominant-baseline="central">NC</text>
<text x="335" y="120" font-size="5.4" text-anchor="middle" font-weight="bold" stroke="#000" stroke-width="0.14" textLength="20.5" lengthAdjust="spacingAndGlyphs" dominant-baseline="central">siRHOB</text>
<rect x="238.2" y="125.4" width="55.4" height="54.9" fill="#fff" stroke="#b0b0b0" stroke-width="0.5"/>
<line x1="238.2" y1="125.4" x2="238.2" y2="180.3" stroke="#444" stroke-width="0.5"/>
<line x1="238.2" y1="180.3" x2="293.6" y2="180.3" stroke="#444" stroke-width="0.5"/>
<path d="M237.4 127.23h.8M237.4 129.06h.8M237.4 130.89h.8M237.4 132.72h.8M237.4 134.55h.8M237.4 136.38h.8M237.4 138.21h.8M237.4 140.04h.8M237.4 141.87h.8M237.4 143.7h.8M237.4 145.53h.8M237.4 147.36h.8M237.4 149.19h.8M237.4 151.02h.8M237.4 152.85h.8M237.4 154.68h.8M237.4 156.51h.8M237.4 158.34h.8M237.4 160.17h.8M237.4 162h.8M237.4 163.83h.8M237.4 165.66h.8M237.4 167.49h.8M237.4 169.32h.8M237.4 171.15h.8M237.4 172.98h.8M237.4 174.81h.8M237.4 176.64h.8M237.4 178.47h.8M238.2 180.3v.8M240.97 180.3v.8M243.74 180.3v.8M246.51 180.3v.8M249.28 180.3v.8M252.05 180.3v.8M254.82 180.3v.8M257.59 180.3v.8M260.36 180.3v.8M263.13 180.3v.8M265.9 180.3v.8M268.67 180.3v.8M271.44 180.3v.8M274.21 180.3v.8M276.98 180.3v.8M279.75 180.3v.8M282.52 180.3v.8M285.29 180.3v.8M288.06 180.3v.8M290.83 180.3v.8M293.6 180.3v.8" fill="none" stroke="#666" stroke-width="0.3"/>
<line x1="236.6" y1="128.53" x2="238.2" y2="128.53" stroke="#444" stroke-width="0.4"/>
<text x="236.3" y="128.53" font-size="2.6" text-anchor="end" fill="#333" dominant-baseline="central">10⁵</text>
<line x1="236.6" y1="139.84" x2="238.2" y2="139.84" stroke="#444" stroke-width="0.4"/>
<text x="236.3" y="139.84" font-size="2.6" text-anchor="end" fill="#333" dominant-baseline="central">10⁴</text>
<line x1="236.6" y1="153.62" x2="238.2" y2="153.62" stroke="#444" stroke-width="0.4"/>
<text x="236.3" y="153.62" font-size="2.6" text-anchor="end" fill="#333" dominant-baseline="central">10³</text>
<line x1="236.6" y1="168.55" x2="238.2" y2="168.55" stroke="#444" stroke-width="0.4"/>
<text x="236.3" y="168.55" font-size="2.6" text-anchor="end" fill="#333" dominant-baseline="central">10²</text>
<line x1="236.6" y1="173" x2="238.2" y2="173" stroke="#444" stroke-width="0.4"/>
<text x="236.3" y="173" font-size="2.6" text-anchor="end" fill="#333" dominant-baseline="central">0</text>
<line x1="236.6" y1="177.99" x2="238.2" y2="177.99" stroke="#444" stroke-width="0.4"/>
<text x="236.3" y="177.99" font-size="2.6" text-anchor="end" fill="#333" dominant-baseline="central">-10²</text>
<line x1="239.42" y1="180.3" x2="239.42" y2="181.8" stroke="#444" stroke-width="0.4"/>
<text x="239.42" y="183.7" font-size="2.5" text-anchor="middle" fill="#333" dominant-baseline="central">0</text>
<line x1="249.28" y1="180.3" x2="249.28" y2="181.8" stroke="#444" stroke-width="0.4"/>
<text x="249.28" y="183.7" font-size="2.5" text-anchor="middle" fill="#333" dominant-baseline="central">20K</text>
<line x1="260.36" y1="180.3" x2="260.36" y2="181.8" stroke="#444" stroke-width="0.4"/>
<text x="260.36" y="183.7" font-size="2.5" text-anchor="middle" fill="#333" dominant-baseline="central">40K</text>
<line x1="271.11" y1="180.3" x2="271.11" y2="181.8" stroke="#444" stroke-width="0.4"/>
<text x="271.11" y="183.7" font-size="2.5" text-anchor="middle" fill="#333" dominant-baseline="central">60K</text>
<line x1="281.97" y1="180.3" x2="281.97" y2="181.8" stroke="#444" stroke-width="0.4"/>
<text x="281.97" y="183.7" font-size="2.5" text-anchor="middle" fill="#333" dominant-baseline="central">80K</text>
<line x1="290.72" y1="180.3" x2="290.72" y2="181.8" stroke="#444" stroke-width="0.4"/>
<text x="290.72" y="183.7" font-size="2.5" text-anchor="middle" fill="#333" dominant-baseline="central">100K</text>
<clipPath id="cp630"><rect x="238.5" y="125.7" width="54.8" height="54.3"/></clipPath><g clip-path="url(#cp630)">
<ellipse cx="276" cy="149" rx="19" ry="9" fill="#5c74f4" opacity="0.55" filter="url(#bl2)" transform="rotate(-8 276 149)"/>
<ellipse cx="283" cy="155.5" rx="12" ry="2.6" fill="#5c74f4" opacity="0.55" filter="url(#bl2)"/>
<ellipse cx="244" cy="163" rx="5" ry="4" fill="#5c74f4" opacity="0.25" filter="url(#bl2)"/>
<path d="M253.5 164.1h0m0.4-0.9h0m-3.2-10h0m3.8 5.4h0m-1.1 1.8h0m1.5-1.3h0m2.3 2.7h0m-2.2 2h0m1.2-0.7h0m-6.8-3.5h0m8.8 3.7h0m-3.1 0h0m-3-3.9h0m0 6.3h0m2.5 2.1h0m0.3 0.4h0m-0.1-10.6h0m3.2 5.3h0m-1.4-0.5h0m-3.7-0.1h0m-1.9-4.7h0m0.5 2.3h0m-1.1 1.4h0m4 7.4h0m3.8-7.2h0m-2.3-0.6h0m-1.2 0.7h0m-2.3 0.4h0m-2.3 1.2h0m2.9-5.2h0m-0.2 5.6h0m-0.8-0.3h0m3.1 3.8h0m-4.1-5.8h0m4 5.6h0m-0.7-2.6h0m-4.2-4.6h0m7.7 1h0m1.2-1.5h0m-6-3h0m2.3 6.4h0m3.4-0.3h0m-5.6-5.5h0m0.4 8.2h0m2 0.9h0m0.3-4.4h0m-0.6 0.8h0m-4.8 5.3h0m4.2-9.5h0m0.1 4.6h0m1.5 4h0m-10-3.1h0m11.3-5.2h0m-8.4 4.3h0m5.4 0.2h0m-3.5-2.8h0m3.2 4.2h0m4.9-1.6h0m-6.9-9.2h0m4.2 7.7h0m-3-2.9h0m2.1-2.8h0m-1.5 6.6h0m0.4 4.1h0m-0.9-4.2h0m2.3-5.7h0m-2.8 5.6h0m3.1-3h0m-0.4 4.1h0m-5.7-6.4h0m0.1 5.6h0m4.1 2h0m1.5-4.4h0m0.7 4.7h0m-1.5-1.1h0m-4.4-0.4h0m0.6-5.4h0m1.7 4.6h0m0.8-1.6h0m-2.4 1.7h0m0.7-5.5h0m2 10h0m-1.2-8.8h0m4.4 9.7h0m-4.1-6.7h0m1.2 11h0m-0.2-6.8h0m0.8-9.8h0m-3.8 2h0m3.8 4.7h0m3.4-1.3h0m-3.7 1.2h0m-0.5 7.8h0m0.4-3h0m2.5-7.2h0m-1.5 0.8h0m-1.4 1.9h0m-0.2-2.2h0m3.8 0.7h0m-2.1 6.8h0m13-6.6h0m3 0.2h0m1.4-5h0m0.9 2.9h0m-14.8-1.4h0m1.4 1.3h0m-0.3-2h0m7.1 2.3h0m-4.4-0.8h0m2.8 0.6h0m0.4-0.5h0m3.5-2.8h0m-5.5 3.5h0m0.4-1.4h0m-0.1 1.5h0m6.7-0.8h0m-6.1 1.1h0m0.1-4.6h0m2.1 3.1h0m-3.4 2.1h0m2.5-2.4h0m-8.9-2.3h0m8.8 3.2h0m1.7 0.6h0m-3.7-2.9h0m-2.5 2.2h0m-0.2 1.8h0m-0.7-5.1h0m4.5 0.1h0m7.3 1.5h0m-6.7 1.5h0m-3.1-3h0m-4.1 5.2h0m11.5 2.6h0m-9.9-3.2h0m5.7 0.6h0m-2-0.3h0m5.7-0.2h0m2.2-1.5h0m0.4-1.1h0m0.5-4.1h0m-6.6 3.9h0m-0.1 3.7h0m2.9-1.9h0m3.9-3.2h0m-10.1 6h0m4.6-7.1h0m0.1 1.7h0m4.5 4.7h0m-8.1 0.3h0m-1.1-0.8h0m5.6-2.1h0m-8-0.3h0m-3.5-0.5h0m1.8 3.5h0m3.5-7.3h0m6.2 5.6h0m-4.3 3.5h0m5.1-4.1h0m-5.7-6h0m4.5 7.8h0m-4.3-4.7h0m2.2-0.5h0m0.2 4.8h0m6-1h0m-5.2 1h0m4.8-2.1h0m-10.5-1h0m-0.1-0.2h0m4.5 2.5h0m1.1-0.6h0m-2 0.7h0m4.9 0.7h0m2.5-2.1h0m-7 4h0m1.8-2.6h0m-2.1 1.1h0m-0.3-3.9h0m1.4 1.1h0m3.5 0.1h0m-8.6-10.1h0m1.3-1.6h0m4.6-3.2h0m-8.9 2.9h0m6.2 3h0m-1-1.5h0m-7.2-3.2h0m2.3 2.4h0m3.7 3.5h0m4.2-1.8h0m-10.4-3.8h0m4.9 5.6h0m11.3-0.7h0m-1.2 6.8h0m-16.8-2.7h0m13.1 0.6h0m-6.9-1.6h0m-2.8-4.1h0m3 7.4h0m-1.4-3.3h0m1.7-6.6h0m1.1 5.4h0m-5.8-0.1h0m0-6h0m5.6 2.6h0m-7.2-5.6h0m6 7.5h0m-2.9-0.3h0m-6.4 0.9h0m11.7-0.5h0m-6.2-0.8h0m4.5 4h0m0.9-3.3h0m-6 2.4h0m11.3-5.4h0m-3.2 3.2h0m-4.1-6.3h0m10.8-2.4h0m-8.7 6h0m5.1-0.2h0m-6.7 4.1h0m2.5-4.5h0m1.4 3.7h0m1.8-3.6h0m-6.2 0.4h0m-4.7 2.6h0m7.5 4.7h0m-4.4-4.2h0m8.7-2h0m-6.4 1h0m-4.5-4.4h0m10.8 4.6h0m-7.1-5.7h0m1.1 9.7h0m-7.6-8.3h0m13.5 9.3h0m2.7-7.9h0m-5.7-0.8h0m-0.5 1.5h0m-1.9 6.8h0m0.8-6.3h0m-1.7 2.1h0m-3.4-0.3h0m6.7 5.4h0m-15.9-10.9h0m4.9 8.2h0m22-2.7h0m-13.9 3.7h0m-15.3-5.2h0m-4 1.3h0m15.6-2.5h0m5-0.4h0m4.6 2.3h0m-4.3 10.1h0m-5-6.4h0m-2.2 1.3h0m10.6-4.4h0m0.2 5.8h0m2.3-6.4h0m-8.5 4.4h0m-8.5-6.8h0m11.7 4.7h0m8.2 4.7h0m-9.2-5.2h0m-9.7-2.5h0m9.4-0.2h0m-1.2 3.3h0m-6.1-4.6h0m-4.9 6.7h0m4.3-11.2h0m10.9 5.9h0m1.1-0.7h0m6.9 4.3h0m-11.7-2.3h0m-2.1 2.7h0m13.1-4.9h0m-18.4 4.1h0m12.8-8.3h0m-10.4 2h0m7.4 5.9h0m-7.7-6.5h0m8.4-3.6h0m-0.2 7.5h0m7.6 4.5h0m-14.8-5h0m1.8-1.8h0m2.1 6.7h0m-9.4-4.7h0m17.7 3.8h0m-13.6-6.1h0m-0.3-3.1h0m11.9 6.6h0m-10.9-6h0m1.8 3.7h0m12.5 0.2h0m-9.5 6h0m3.2-4.9h0m-16.8 6.2h0m16.4-7.2h0m-4-2.1h0m14.4-4h0m11 11.9h0m-2.5 1.5h0m2.8-3.9h0m-11.1 2.8h0m16.2 0.2h0m0.5-6.5h0m-17.5 10.2h0m3.1-6h0m3.1-1.3h0m-0.6-3.3h0m-11.9 14.4h0m15.6-22.5h0m-8.7 4.7h0m1.3-8.4h0m10.3 24.7h0m-6.4-5.3h0m6.6-11.7h0m4.9-2.6h0m-14.1 7.8h0m14.4 2.8h0m-10.9-5.4h0m1.7 4.9h0m5 8h0m0.1-8.1h0m-7 9.3h0m2.8-9.5h0m2.9-0.5h0m-9.5 6.9h0m1.5-0.7h0m-2.6-5h0m9.3 0.3h0m-1.4 1.3h0m-10.6-8.7h0m7.6 17.1h0m0.2-16h0m-4.2 5.6h0m14.5-3.5h0m-4.9 4.4h0m-7.2-6.6h0m1.6 1.3h0m5.4-6.1h0m4.6 14.7h0m-4.3 4.4h0m0.2-18.8h0m-4.3 12.6h0m-5.7-9.2h0m8.7 9.6h0m-6.7-4.4h0m-0.7-1.9h0m3.6 9.6h0m-12.2-8.3h0m13.8 6.9h0m-9-12h0m-5.1-1.4h0m14.8 13.5h0m-5.1-9h0m6.4 7.6h0m-1.2-14.7h0m-6.2-3.7h0m6.1 9.8h0m-7 13.8h0m15.4-6h0m-8.1-1.8h0m-6.8-1.3h0m-0.6 1.2h0m12.2 4h0m-14.5-5.7h0m5.4-6.4h0m2.7 4.4h0m6.6 5.3h0m-13.3-2h0m3.3-4.2h0m-1 9.9h0m0.6-16.2h0m-2.8 14.7h0m3.2-6.6h0m-8.1 4.2h0m10.5-0.7h0m6.6 3.3h0m-11.1-8.4h0m6-2.9h0m5.8 9.5h0m-0.6-1.5h0m-5.8-4.8h0m1.9 4.6h0m2.7 4.9h0m-2.7-9.5h0m3.9 12.3h0m-12.8-6.6h0m10.8 0.6h0m-0.4-3.6h0m-4.7 10.3h0m-18.9-7.2h0m14.5-5.6h0m-7.2 5.1h0m12-5.2h0m7.4 17.3h0m4.5-7.4h0m-14.7-3h0m2.9 2.9h0m4.8-6.9h0m-0.2-4h0m1.9 13h0m-9-5.6h0m-10.1 2.3h0m19.7-11.4h0m-20.2-2.1h0m20.2 6.4h0m1.8-7.4h0m-9.4 14.7h0m-4.5-1.7h0m2.5-2h0m5.3 11h0m-12.1-8.5h0m19.8-11.1h0m-9.6 20.1h0m7.6-30.8h0m-10 7.3h0m4.2 5.8h0m-6.8-0.7h0m6.7 2.2h0m-9.3 1.4h0m10.2-3.7h0m5.4-4.7h0m-5.4 7.4h0m-8.4-5.5h0m-3.2 5.8h0m1 10.9h0m10.6-20.8h0m-1.6 17.2h0m-1.6-2.5h0m-0.9-1.6h0m2.6-5.3h0m1 5.1h0m-3-5h0m-7.6 5.4h0m14.3-15.5h0m-10.6 22h0m11.3-12.1h0m3.4-1.6h0m-16.6 17.1h0m2.7-12.6h0m-9.4-4.6h0m3.7 5.1h0m-5.2 7h0m11.5-9.7h0m-2.1 7.8h0m15.3-2.6h0m-22 2.2h0m8.4-2.8h0m-11.5-2.7h0m16.5-3.9h0m0.5 15.3h0m-0.5-13.8h0m-9 6.4h0m2.6-15.8h0m6.6 18.3h0m-8.2 3.7h0m10.1-1.6h0m-15.8-7h0m22.2 0h0m-8.9-3.7h0m7.2-0.4h0m-7.6-8h0m-12.7 22.5h0m12.2-9.1h0m-17.6-1.5h0m-1.4-0.7h0m14.4-0.3h0m-5.7-6.7h0m0.2 11.7h0m9.2 1h0m-8-1.3h0m4.9-3h0m10.8-0.3h0m-10-10h0m3.2 14.4h0m-5.4-5h0m-8.9-7.4h0m17 15.4h0m-5.6-17.4h0m-0.6 0.6h0m0.8 20.5h0m5.5-5h0m5.8-0.3h0m-5.5 0.8h0m0.9-2.2h0m2.1 3h0m-23.5-4.6h0m10.9 5.4h0m7.2-1h0m4.2 0.2h0m-9.4-1.8h0m8 1.5h0m1.5-0.4h0m-8.3 1h0m7.5 0h0m-23.7-0.1h0m0.8-1h0m14-0.1h0m1.5-0.6h0m5.2 0.8h0m-7.8-3.6h0m0.2 3.9h0m-0.5-0.2h0m3.7-1.7h0m12.1 3.3h0m-10-2.2h0m8.4-1.6h0m-14.5 3.2h0m14-2.1h0m-13.2 1h0m-5-1h0m9.3-2.6h0m6.5 4.2h0m3.7-2.8h0m-18.6 0.8h0m-0.1 3.6h0m2.6-3h0m9.3 1h0m5.4-0.4h0m-16.3 0h0m-1.8 1.9h0m5.3-0.8h0m16.1-2.1h0m-17.4 1h0m-1.2 1h0m9.7-2.2h0m-6.8 1.9h0m-6.1 1.3h0m5.3-2.5h0m-1.1 2.4h0m13.8-0.4h0m-1.3-1.6h0m-1.7 0.6h0m2.4-0.3h0m-7.2-2.5h0m-15.9 1.2h0m12.4 1.2h0m4.6-2.9h0m-2.5 3h0m12-2h0m-27.3-0.4h0m20.6 2.1h0m-1.4 0.1h0m-4.1-2h0m6.5 2.3h0m1 1.1h0m-14.5-4.6h0m-4.3 5.8h0m6.9-2.3h0m7.2 0.4h0m-1.3-1.7h0m3.4 1.5h0m-9.8 1h0m17-1.1h0m-10.1-0.9h0m-12.2 1.2h0m5.3-1.6h0m15.8-0.5h0m-12.2 2.3h0m13-2h0m-5.7 1.5h0m-12.2 0.7h0m11.3-2.8h0m-12.4 2.5h0m-1.5-1.9h0m-5.4 2.7h0m11.9-2.6h0m0.7 1.5h0m8-3h0m-9.1 4.3h0m-33.7 8.6h0m3.5 0.9h0m-5.6-4.8h0m3.5-0.8h0m3.5-1.5h0m-1.6 6.2h0m-5.7-5.7h0m3.9 1.1h0m-1-0.9h0m-0.4 2.9h0m2.4-3.8h0m-2.5 0h0m-0.2-2h0m3.4 6.3h0m-3.3-4.1h0m-1 0.1h0m11.3-1.7h0m-13.4 5.4h0m5.3-6.4h0m-3.3 5h0m1.5-2h0m-0.4 0.8h0m4.1 0.6h0m-3.8-1.3h0m-1.8-0.6h0m1.9 7.7h0m3.3-4.8h0m1.7 2.3h0m-4.4-3.5h0m-3.9 1.2h0m2.4-5.5h0m-3 10.6h0m4.5-4.3h0m0-2.9h0m0.8 4.7h0m-2.3-1.8h0" stroke="#4a62f5" stroke-width=".7" stroke-linecap="square" opacity="0.6"/>
<path d="M252.5 156Q255 147 260 146.5Q266 146 269 150" fill="none" stroke="#6078f6" stroke-width="5" stroke-linecap="round" opacity="0.42" filter="url(#bl2)"/>
<path d="M252.5 156Q255 147 260 146.5Q266 146 269 150" fill="none" stroke="#3a52f0" stroke-width="4" stroke-linecap="round" opacity="0.68" filter="url(#bl2)"/>
<path d="M252.5 156Q255 147 260 146.5Q266 146 269 150" fill="none" stroke="#28b4c8" stroke-width="3.15" stroke-linecap="round" opacity="0.78" filter="url(#bl2)"/>
<path d="M252.5 156Q255 147 260 146.5Q266 146 269 150" fill="none" stroke="#48cc48" stroke-width="1.88" stroke-linecap="round" opacity="0.85" filter="url(#bl2)"/>
<ellipse cx="266.3" cy="159.2" rx="6.5" ry="3" fill="#6078f6" opacity="0.5" filter="url(#bl)"/>
<ellipse cx="266.3" cy="159.2" rx="5.2" ry="2.4" fill="#3a52f0" opacity="0.8" filter="url(#bl)"/>
<ellipse cx="266.3" cy="159.2" rx="4.09" ry="1.89" fill="#28b4c8" opacity="0.92" filter="url(#bl)"/>
<ellipse cx="266.3" cy="159.2" rx="2.81" ry="1.3" fill="#48cc48" opacity="1" filter="url(#bl)"/>
<ellipse cx="253.7" cy="161.3" rx="4.2" ry="6.2" fill="#6078f6" opacity="0.5" filter="url(#bl)"/>
<ellipse cx="253.7" cy="161.3" rx="3.36" ry="4.96" fill="#3a52f0" opacity="0.8" filter="url(#bl)"/>
<ellipse cx="253.7" cy="161.3" rx="2.65" ry="3.91" fill="#28b4c8" opacity="0.92" filter="url(#bl)"/>
<ellipse cx="253.7" cy="161.3" rx="1.97" ry="2.91" fill="#48cc48" opacity="1" filter="url(#bl)"/>
<ellipse cx="253.7" cy="161.3" rx="1.34" ry="1.98" fill="#ecdf22" opacity="1" filter="url(#bl)"/>
<ellipse cx="253.7" cy="161.3" rx="0.84" ry="1.24" fill="#ff4a10" opacity="1" filter="url(#bl)"/>
</g>
<g fill="none" stroke="#333" stroke-width="0.7"><rect x="246.1" y="136.2" width="29.4" height="18.1"/><rect x="246.1" y="154.3" width="29.4" height="15.3"/></g>
<line x1="259.6" y1="154.3" x2="259.6" y2="169.6" stroke="#222" stroke-width="0.8"/>
<text x="271.1" y="140" font-size="5" text-anchor="end" font-weight="bold" stroke="#111" stroke-width="0.12" fill="#111" dominant-baseline="central">37.4%</text>
<rect x="307.9" y="126.2" width="55.5" height="54.6" fill="#fff" stroke="#b0b0b0" stroke-width="0.5"/>
<line x1="307.9" y1="126.2" x2="307.9" y2="180.8" stroke="#444" stroke-width="0.5"/>
<line x1="307.9" y1="180.8" x2="363.4" y2="180.8" stroke="#444" stroke-width="0.5"/>
<path d="M307.1 128.02h.8M307.1 129.84h.8M307.1 131.66h.8M307.1 133.48h.8M307.1 135.3h.8M307.1 137.12h.8M307.1 138.94h.8M307.1 140.76h.8M307.1 142.58h.8M307.1 144.4h.8M307.1 146.22h.8M307.1 148.04h.8M307.1 149.86h.8M307.1 151.68h.8M307.1 153.5h.8M307.1 155.32h.8M307.1 157.14h.8M307.1 158.96h.8M307.1 160.78h.8M307.1 162.6h.8M307.1 164.42h.8M307.1 166.24h.8M307.1 168.06h.8M307.1 169.88h.8M307.1 171.7h.8M307.1 173.52h.8M307.1 175.34h.8M307.1 177.16h.8M307.1 178.98h.8M307.9 180.8v.8M310.67 180.8v.8M313.45 180.8v.8M316.22 180.8v.8M319 180.8v.8M321.77 180.8v.8M324.55 180.8v.8M327.32 180.8v.8M330.1 180.8v.8M332.88 180.8v.8M335.65 180.8v.8M338.42 180.8v.8M341.2 180.8v.8M343.97 180.8v.8M346.75 180.8v.8M349.52 180.8v.8M352.3 180.8v.8M355.07 180.8v.8M357.85 180.8v.8M360.62 180.8v.8M363.4 180.8v.8" fill="none" stroke="#666" stroke-width="0.3"/>
<line x1="306.3" y1="129.31" x2="307.9" y2="129.31" stroke="#444" stroke-width="0.4"/>
<text x="306" y="129.31" font-size="2.6" text-anchor="end" fill="#333" dominant-baseline="central">10⁵</text>
<line x1="306.3" y1="140.56" x2="307.9" y2="140.56" stroke="#444" stroke-width="0.4"/>
<text x="306" y="140.56" font-size="2.6" text-anchor="end" fill="#333" dominant-baseline="central">10⁴</text>
<line x1="306.3" y1="154.26" x2="307.9" y2="154.26" stroke="#444" stroke-width="0.4"/>
<text x="306" y="154.26" font-size="2.6" text-anchor="end" fill="#333" dominant-baseline="central">10³</text>
<line x1="306.3" y1="169.12" x2="307.9" y2="169.12" stroke="#444" stroke-width="0.4"/>
<text x="306" y="169.12" font-size="2.6" text-anchor="end" fill="#333" dominant-baseline="central">10²</text>
<line x1="306.3" y1="173.54" x2="307.9" y2="173.54" stroke="#444" stroke-width="0.4"/>
<text x="306" y="173.54" font-size="2.6" text-anchor="end" fill="#333" dominant-baseline="central">0</text>
<line x1="306.3" y1="178.51" x2="307.9" y2="178.51" stroke="#444" stroke-width="0.4"/>
<text x="306" y="178.51" font-size="2.6" text-anchor="end" fill="#333" dominant-baseline="central">-10²</text>
<line x1="309.12" y1="180.8" x2="309.12" y2="182.3" stroke="#444" stroke-width="0.4"/>
<text x="309.12" y="184.2" font-size="2.5" text-anchor="middle" fill="#333" dominant-baseline="central">0</text>
<line x1="319" y1="180.8" x2="319" y2="182.3" stroke="#444" stroke-width="0.4"/>
<text x="319" y="184.2" font-size="2.5" text-anchor="middle" fill="#333" dominant-baseline="central">20K</text>
<line x1="330.1" y1="180.8" x2="330.1" y2="182.3" stroke="#444" stroke-width="0.4"/>
<text x="330.1" y="184.2" font-size="2.5" text-anchor="middle" fill="#333" dominant-baseline="central">40K</text>
<line x1="340.87" y1="180.8" x2="340.87" y2="182.3" stroke="#444" stroke-width="0.4"/>
<text x="340.87" y="184.2" font-size="2.5" text-anchor="middle" fill="#333" dominant-baseline="central">60K</text>
<line x1="351.75" y1="180.8" x2="351.75" y2="182.3" stroke="#444" stroke-width="0.4"/>
<text x="351.75" y="184.2" font-size="2.5" text-anchor="middle" fill="#333" dominant-baseline="central">80K</text>
<line x1="360.51" y1="180.8" x2="360.51" y2="182.3" stroke="#444" stroke-width="0.4"/>
<text x="360.51" y="184.2" font-size="2.5" text-anchor="middle" fill="#333" dominant-baseline="central">100K</text>
<clipPath id="cp681"><rect x="308.2" y="126.5" width="54.9" height="54"/></clipPath><g clip-path="url(#cp681)">
<ellipse cx="346" cy="149" rx="19" ry="9" fill="#5c74f4" opacity="0.55" filter="url(#bl2)" transform="rotate(-8 346 149)"/>
<ellipse cx="353" cy="155" rx="12" ry="2.6" fill="#5c74f4" opacity="0.55" filter="url(#bl2)"/>
<ellipse cx="313" cy="162" rx="5" ry="4" fill="#5c74f4" opacity="0.25" filter="url(#bl2)"/>
<path d="M325.9 158.1h0m-2.2-0.9h0m1.1 1.3h0m1.4-1.4h0m1.3 1.6h0m-6.3-2.1h0m3.8 0.2h0m2.8 7.5h0m-3.2-9.5h0m-1.4 2.5h0m-4.4 4h0m10-3.4h0m-3.5 6.4h0m-4.4-5.7h0m3.1 2.9h0m-3.6-0.9h0m2.6 2.5h0m-3.7-5.3h0m2.7 0.9h0m3.1-1.1h0m5-0.3h0m-4.7 6.1h0m0.3-4.3h0m-4.5-0.2h0m3.8 1.3h0m-0.2 1.6h0m-3.7-5.3h0m5.8 1.6h0m-7.6 8.2h0m1.9-9.8h0m4.5-0.7h0m-4.6 7.7h0m0.2 5.1h0m2.2 0.6h0m0.1-9.2h0m-1.9-1h0m0.3 0.7h0m3.2-4.3h0m-4.2-2.9h0m6.1 7h0m-3.8 0.1h0m2.5 1.3h0m-0.4-1.7h0m-2.4 0.4h0m-4.4 4h0m0.8-7.3h0m5.6 3.7h0m0.3 5.8h0m2.7-1.2h0m-5.3 2.4h0m-1.6-7.5h0m4.7-0.4h0m-2.8-0.5h0m3.7-7.4h0m-0.2 12.3h0m-3.4-1.7h0m-2.2 1.9h0m10.1-7.1h0m-4.2 3h0m-4.3-1.5h0m0.3-2.7h0m-2.9 10.2h0m3.4-3.9h0m0.8-0.2h0m-4.6-5h0m5.4 6.8h0m-4.5-5.5h0m0.2 4.3h0m3.6-2.2h0m-2.5 1.1h0m1.7-3.8h0m0.7 0.3h0m1.6 4.5h0m-4.1-0.1h0m1.9-4.6h0m-2.5-3.3h0m-0.5 7h0m5.8-3.4h0m-2.6 3.4h0m1.6 0.4h0m1.1 1.1h0m-5-1.3h0m-4-2h0m6 2.6h0m-0.9 0.9h0m4.1-5.8h0m-4.7 3.8h0m2.6-0.4h0m0.9-4.6h0m-0.2 8.2h0m0.9-2.6h0m-3.4-0.1h0m0.4-7h0m-1.3 5.5h0m0.2-3.2h0m0.7 2h0m0.8 1.1h0m0.2 3.7h0m-0.1-2.1h0m-3.4-11.7h0m15 8.9h0m0.2-2.6h0m-3.6 3h0m2.9-1.3h0m6.6 0.6h0m4.5-1.4h0m-5.2 1.7h0m-6.4-1.3h0m0.3-2.1h0m3.5 0.5h0m5.5 0h0m-8.9 1.7h0m0.1-0.1h0m-0.3-2.9h0m-7.3 0.2h0m15.8 3.5h0m-5.5-1.8h0m-1.2 1.5h0m-5-2.2h0m2 4.1h0m-0.6-0.2h0m2.3 3.2h0m1.6-5.4h0m5.7 1.6h0m-1.6-3.8h0m0.7 5.5h0m-4.9-4.4h0m-4 3h0m5.6-2h0m-6.1 3.2h0m8.4-3.2h0m2.4-1.9h0m-2.4-0.1h0m2.1 1.4h0m-0.7-0.2h0m-3.3 3.1h0m-5.2-2.1h0m0.2 1.5h0m1-2.4h0m1.6 3h0m-3.4-2.4h0m2.9-1h0m-1.8 0.8h0m3.9-2.8h0m0.1 0.7h0m-0.8 7h0m-4-4.7h0m2.9 2.1h0m-0.9-5.6h0m-4.5 4h0m7.4 1.7h0m-3.1-0.8h0m-2.2 1.3h0m4-4h0m1 4.9h0m-4.1-6h0m-0.7 0.2h0m3.9 3h0m-0.5-0.3h0m5.4-1h0m-9.7-4h0m6 3.2h0m-2 2.2h0m2.9-3.9h0m-5.7 3.2h0m3.2 2.2h0m-1.4-6.4h0m6.7 0.8h0m-8.6 4.1h0m-0.3 4.2h0m5.2-3.9h0m-2.7 3.3h0m3.9-5.8h0m2.8-2h0m-7.3 4h0m2.9-2.5h0m5.7 4.8h0m-10-2.2h0m1.2-1.6h0m6.4 1.2h0m-11.4-7.9h0m-6.3 4.5h0m2.5 0.3h0m1.8-7h0m11.6 2.6h0m-12.7-2.9h0m7.4 9.6h0m0.1-9.1h0m-10.4-1.1h0m6 3.7h0m-3.2 4.1h0m-1.8-8h0m8.7 4.8h0m-5.3 1.9h0m-6.1 2.7h0m21.5 1.3h0m-12.4 0.1h0m-0.4-2.6h0m-1.5-4.5h0m4.3-7.8h0m-4.3 13.9h0m-16.3-5.4h0m23-0.2h0m-4.3 4.2h0m0.8-13.1h0m-7.7 6.4h0m6.6-0.6h0m-1.5 8.5h0m-17-2.1h0m23.2-2.2h0m-5.5-2.1h0m2.1 0.7h0m-6.5 2.1h0m-0.7-3.3h0m2.9-4.4h0m5.7 4.3h0m-10.6 0h0m-1.3 6h0m11.4 2.2h0m-6.5-5.1h0m-2.4-6.2h0m5.3 5h0m6-2.7h0m1.1 5h0m-11.8-4.6h0m-0.3 7.5h0m2.2-3.3h0m8.8-4.5h0m-8.4 2.4h0m-1.7-6.4h0m-1.2 6.4h0m6.9 5.6h0m-12-5h0m4 2.6h0m11.1-4.1h0m4.6-2h0m-12-2.7h0m-0.7 4.7h0m7.9 4.6h0m-5.6-8h0m-0.4 1.2h0m-0.8 0.1h0m-2.4 1.4h0m2.1-0.5h0m-5.2 1.3h0m11.7 2h0m-6.7-7.1h0m-4.5-0.2h0m4 3.5h0m-6.8 3.9h0m1.4-5.4h0m4.9 6h0m15.3-4.7h0m-12.6-0.2h0m0.4 0.9h0m15.9-3.6h0m-15.3 1.2h0m2.7 1h0m1.3-2.2h0m9.2 5.1h0m-23.1 2h0m7.7-7.4h0m5.4 2.6h0m1.8-0.2h0m1 2.8h0m-3.3 0h0m-4.3-2h0m4.9 4.2h0m-5.1 6h0m12.4-13.3h0m-3.6 4.2h0m-5-2.8h0m8.4-0.2h0m-10.3 0.4h0m12 7.9h0m-19.3-6.8h0m10 0.1h0m-4.3-2.5h0m3.6-0.1h0m3.4 13.8h0m-6.8-3h0m4.1-9.1h0m-4.2-1.2h0m2.7 6.6h0m4.8-3.9h0m-12.6 0.8h0m17 1.4h0m-10.3-9.3h0m-2.2 10.3h0m-3 3.2h0m2.3-8.7h0m-0.1 3h0m9.3-1.8h0m-16.4 1.9h0m13.6 6.4h0m-9.7-0.3h0m10.6-4h0m-8.5-5.3h0m-1.1 7.2h0m6.9 0.5h0m19.3 7.1h0m-9.9-13.9h0m7.4 0.4h0m4-2.7h0m8-3.1h0m-15.5-1.9h0m-4.6 13.4h0m16-4.6h0m1.6 4.8h0m-11.1-3.9h0m7.4 12h0m-6.4-9.6h0m7.8 5h0m-1-0.9h0m-11.7-7.8h0m-6.8 1.2h0m15.9 1.9h0m0.4-9.3h0m-6.5 6.7h0m6.7-4h0m-2.1 0.7h0m-9.6 0.5h0m4.1 8.8h0m16.8-1.6h0m-12.2-6.6h0m-10.6 0.1h0m14.1 1.7h0m-1.8 3.9h0m-0.1 0h0m-6-2.2h0m3.3 6h0m-7 1.3h0m9.1-10.5h0m0.9 3.7h0m-2 1.7h0m-2.7-12.4h0m10 9.8h0m-21.2 7.4h0m10.3-4.1h0m-3.2-3.7h0m-4 4.5h0m17-10h0m-0.8 11.5h0m2.8-9.4h0m-11.8-2.6h0m-4.8 8.4h0m10.5 5.8h0m1.9-9.5h0m-13.4 10.9h0m12.5-9.2h0m-9.2-6h0m12.9 0.5h0m-0.4 9.3h0m-7.6-13.1h0m6.2 17.7h0m-9.7-15.6h0m15.1 8.2h0m-13.5 6.3h0m2.7-4.5h0m-1-7h0m4.9-0.7h0m-15.6 1.9h0m23.6 9.6h0m-13.1-3.7h0m-4.1 1.5h0m4-2.7h0m-3.2-2.3h0m14.4-0.5h0m-13 2.9h0m12.2-2.7h0m-16.1-8h0m-1.3 15.3h0m9.8-3.5h0m9.1-1.1h0m-4.6-4.6h0m-16.4 6.6h0m11.8-0.3h0m-7.6-4.2h0m9.2 8.5h0m-2.6-6.9h0m-14.9 3.8h0m13.2 2.9h0m2.8-9.6h0m4.1 0.8h0m-7.4 10.3h0m11.7-8.3h0m-1.4 4.2h0m-1.7-4.6h0m-4 2.1h0m3.8-0.3h0m-8.7-2.5h0m7.9-5.2h0m-3.7 10.1h0m1.4-6.1h0m-1.5-1.1h0m7.9 0.6h0m-20.7-4.8h0m15.3 8.2h0m-6-8.8h0m2.5 2.7h0m-3.9 4.9h0m-0.9 1.8h0m0.2-4.5h0m4 11.1h0m-4-8.4h0m13 4.6h0m-20-4.9h0m7 4.6h0m10.8-7.4h0m-5.7 14h0m-3.4-13.6h0m7.8-4.5h0m-0.9 11.2h0m-6.7-6.7h0m-8.4 4.8h0m22 2.8h0m-2.5-0.8h0m-14.4-11.6h0m12.2 8.4h0m2.7-2.5h0m-14.6 4.1h0m2.5-11.9h0m-0.4 4.4h0m-3.9 1.8h0m16.1 16.7h0m1.5-13.9h0m-5.7-3.5h0m-3.8-5.7h0m5.2 6.2h0m-2.5-3.3h0m-5 11.9h0m7.6-16.3h0m2 3.6h0m-4.5 10.5h0m-7.2-4.8h0m3.1 4.1h0m9.1 5.5h0m-4.6 3.6h0m-10-1.2h0m5.4-5.8h0m1-3.9h0m-6.2 1.7h0m7-2.2h0m5.8-1.2h0m-5.6 2.4h0m10.2 4.2h0m-18.4-9h0m8.4 8.4h0m7.4-6h0m3.4 9.3h0m-6.5-16.8h0m-18.4 5.2h0m19.5 9.6h0m-6.4-0.2h0m5.3 2.8h0m-17-13.4h0m5-1.3h0m1 3.7h0m13.4-0.3h0m-1.1 5.7h0m-10.8-16.6h0m-2.2 6.4h0m-1.2 9.2h0m8.8-7.4h0m8.2 10.5h0m-6.4-9.5h0m-9-7.4h0m9.8 13.9h0m-10.2-2.1h0m-6.2 3.4h0m10.1-6.3h0m8.2 2h0m2.9 3.7h0m1.3-2.2h0m-26 7h0m3.6-1.8h0m15.3-13.8h0m-1.5 12.9h0m-8.5-4.8h0m3.2 6h0m1 2.8h0m10.2-1.6h0m-6 0.2h0m2.8 0h0m-15.7 1h0m6.8-4.4h0m12.2 1.7h0m-6.6 1.4h0m-3.5 0.8h0m2.5-1h0m-5.4 0h0m-0.6 0.4h0m11.5-1.8h0m4.7 2.9h0m-8-1.6h0m8.4-0.9h0m-11.5 4.2h0m10.8-5.4h0m-7.6 4.2h0m-5.1-0.9h0m5.7-2.6h0m-5.7 3.2h0m14.2-2.1h0m-0.5-0.2h0m-6.9 0.9h0m-11.7 0.4h0m6.7-3.8h0m-3.4 2.4h0m-0.1-0.2h0m1.2-1.8h0m12.4 3.1h0m-5-0.4h0m-1.5 0h0m-9.1-1.6h0m9.2 3.2h0m1.2 0.7h0m-12.5-2.3h0m5.8 1.8h0m10.7-1.8h0m-13.7 0.2h0m-0.3 2h0m12.8-0.4h0m-1.8-4.5h0m3.5 3.1h0m-25.1 0h0m26.8 2h0m-16-1.1h0m10.6-1.2h0m-4.8 0.9h0m6.7 0.1h0m-7.7-2.4h0m-1.2 1.6h0m10.8-2.2h0m-2.5 5.2h0m-1.8-3.9h0m-0.4 0.4h0m-0.3-1.7h0m-11.5 0.4h0m17.2 1.7h0m2-2.4h0m-13.8 4.3h0m-1.5-4.1h0m0.3 1.9h0m5.8 2h0m4.7-2.2h0m-8.5-1.2h0m13.9 3.4h0m-9.3-2.7h0m4.6 1.7h0m-4.1-2h0m0.7 0.7h0m3.9 1.4h0m-2.3-1.2h0m6.5 1.5h0m-4.8-0.5h0m-13.6-2.8h0m1 3.1h0m14.6-0.6h0m-6.5 2.1h0m-3.8-4.5h0m-9.1 1.8h0m17.7 1.3h0m-7.2 0.1h0m1.3-1.9h0m-2.6 1.8h0m10.5-2.3h0m-15.3 1.6h0m-2 0.3h0m13.8-1.3h0m-4.2 1.4h0m-13.5-0.6h0m-24.5 8.2h0m1.6-2.9h0m-1.1-1.6h0m0.7 4.8h0m-3.4-9.8h0m-1 4.6h0m-1.1 2h0m-0.7 1.3h0m8.8-4.5h0m-2.5 1.9h0m-1.5 1.1h0m2.2-1.6h0m-1.6-0.2h0m-1.5 2.2h0m2.5-4.5h0m-2.1 9.4h0m-4.1-4.3h0m4.8 4.5h0m-2-6.4h0m2.3 1h0m-4.3 2.5h0m6.2-3.6h0m-4.9 2.5h0m4.2 0.4h0m-6.1-3.1h0m5.9 1.3h0m-5 2.8h0m5.3 3.8h0m-6.6-8.3h0m1.2 3h0m0.6 2.2h0m-0.5-4h0m3.6 1.4h0m-4.7 3.7h0m4.7-5.7h0m-1.1-1.8h0" stroke="#4a62f5" stroke-width=".7" stroke-linecap="square" opacity="0.6"/>
<path d="M322 155Q324 146 330 145.5Q336 145 338.5 149" fill="none" stroke="#6078f6" stroke-width="5.5" stroke-linecap="round" opacity="0.42" filter="url(#bl2)"/>
<path d="M322 155Q324 146 330 145.5Q336 145 338.5 149" fill="none" stroke="#3a52f0" stroke-width="4.4" stroke-linecap="round" opacity="0.68" filter="url(#bl2)"/>
<path d="M322 155Q324 146 330 145.5Q336 145 338.5 149" fill="none" stroke="#28b4c8" stroke-width="3.46" stroke-linecap="round" opacity="0.78" filter="url(#bl2)"/>
<path d="M322 155Q324 146 330 145.5Q336 145 338.5 149" fill="none" stroke="#48cc48" stroke-width="2.07" stroke-linecap="round" opacity="0.85" filter="url(#bl2)"/>
<ellipse cx="336.8" cy="157.4" rx="6.5" ry="3" fill="#6078f6" opacity="0.5" filter="url(#bl)"/>
<ellipse cx="336.8" cy="157.4" rx="5.2" ry="2.4" fill="#3a52f0" opacity="0.8" filter="url(#bl)"/>
<ellipse cx="336.8" cy="157.4" rx="4.09" ry="1.89" fill="#28b4c8" opacity="0.92" filter="url(#bl)"/>
<ellipse cx="336.8" cy="157.4" rx="2.81" ry="1.3" fill="#48cc48" opacity="1" filter="url(#bl)"/>
<ellipse cx="323.3" cy="159.8" rx="4.2" ry="6.2" fill="#6078f6" opacity="0.5" filter="url(#bl)"/>
<ellipse cx="323.3" cy="159.8" rx="3.36" ry="4.96" fill="#3a52f0" opacity="0.8" filter="url(#bl)"/>
<ellipse cx="323.3" cy="159.8" rx="2.65" ry="3.91" fill="#28b4c8" opacity="0.92" filter="url(#bl)"/>
<ellipse cx="323.3" cy="159.8" rx="1.97" ry="2.91" fill="#48cc48" opacity="1" filter="url(#bl)"/>
<ellipse cx="323.3" cy="159.8" rx="1.34" ry="1.98" fill="#ecdf22" opacity="1" filter="url(#bl)"/>
<ellipse cx="323.3" cy="159.8" rx="0.84" ry="1.24" fill="#ff4a10" opacity="1" filter="url(#bl)"/>
</g>
<g fill="none" stroke="#333" stroke-width="0.7"><rect x="315.4" y="136.2" width="29.3" height="18.4"/><rect x="315.4" y="154.6" width="29.3" height="14.9"/></g>
<line x1="328.4" y1="154.6" x2="328.4" y2="169.5" stroke="#222" stroke-width="0.8"/>
<text x="340.6" y="139.7" font-size="5" text-anchor="end" font-weight="bold" stroke="#111" stroke-width="0.12" fill="#111" dominant-baseline="central">41.4%</text>
<line x1="227.3" y1="125.3" x2="227.3" y2="170.5" stroke="#000" stroke-width="1.4"/>
<path d="M224.4 128.2L227.3 125.1L230.2 128.2" fill="none" stroke="#000" stroke-width="1.3"/>
<text x="227.3" y="180" font-size="5.5" text-anchor="middle" font-weight="bold" stroke="#000" stroke-width="0.14" textLength="10.5" lengthAdjust="spacingAndGlyphs" transform="rotate(-90 227.3 180)" dominant-baseline="central">EdU</text>
<text x="232.5" y="189.6" font-size="5" text-anchor="middle" font-weight="bold" stroke="#000" stroke-width="0.12" dominant-baseline="central">PI</text>
<line x1="235" y1="189.6" x2="364" y2="189.6" stroke="#000" stroke-width="1.4"/>
<path d="M361.1 186.7L364.2 189.6L361.1 192.5" fill="none" stroke="#000" stroke-width="1.3"/>
<line x1="384.9" y1="189.2" x2="387.5" y2="189.2" stroke="#000" stroke-width="0.7"/>
<text x="384.6" y="189.2" font-size="3.7" text-anchor="end" font-weight="bold" stroke="#222" stroke-width="0.09" fill="#222" dominant-baseline="central">0</text>
<line x1="384.9" y1="169.63" x2="387.5" y2="169.63" stroke="#000" stroke-width="0.7"/>
<text x="384.6" y="169.63" font-size="3.7" text-anchor="end" font-weight="bold" stroke="#222" stroke-width="0.09" fill="#222" dominant-baseline="central">20</text>
<line x1="384.9" y1="150.07" x2="387.5" y2="150.07" stroke="#000" stroke-width="0.7"/>
<text x="384.6" y="150.07" font-size="3.7" text-anchor="end" font-weight="bold" stroke="#222" stroke-width="0.09" fill="#222" dominant-baseline="central">40</text>
<line x1="384.9" y1="130.5" x2="387.5" y2="130.5" stroke="#000" stroke-width="0.7"/>
<text x="384.6" y="130.5" font-size="3.7" text-anchor="end" font-weight="bold" stroke="#222" stroke-width="0.09" fill="#222" dominant-baseline="central">60</text>
<line x1="394.3" y1="156.3" x2="394.3" y2="160.4" stroke="#111" stroke-width="0.8"/>
<line x1="392.8" y1="156.3" x2="395.8" y2="156.3" stroke="#111" stroke-width="0.8"/>
<rect x="391.2" y="160.4" width="6.2" height="28.8" fill="#539df8" stroke="#151515" stroke-width="0.75"/>
<line x1="400.7" y1="158.4" x2="400.7" y2="162.4" stroke="#111" stroke-width="0.8"/>
<line x1="399.2" y1="158.4" x2="402.2" y2="158.4" stroke="#111" stroke-width="0.8"/>
<rect x="397.4" y="162.4" width="6.6" height="26.8" fill="#f98181" stroke="#151515" stroke-width="0.75"/>
<line x1="414.05" y1="144.3" x2="414.05" y2="149.3" stroke="#111" stroke-width="0.8"/>
<line x1="412.55" y1="144.3" x2="415.55" y2="144.3" stroke="#111" stroke-width="0.8"/>
<rect x="410.9" y="149.3" width="6.3" height="39.9" fill="#539df8" stroke="#151515" stroke-width="0.75"/>
<line x1="420.4" y1="141.4" x2="420.4" y2="146.4" stroke="#111" stroke-width="0.8"/>
<line x1="418.9" y1="141.4" x2="421.9" y2="141.4" stroke="#111" stroke-width="0.8"/>
<rect x="417.2" y="146.4" width="6.4" height="42.8" fill="#f98181" stroke="#151515" stroke-width="0.75"/>
<line x1="433.75" y1="169.5" x2="433.75" y2="171.9" stroke="#111" stroke-width="0.8"/>
<line x1="432.25" y1="169.5" x2="435.25" y2="169.5" stroke="#111" stroke-width="0.8"/>
<rect x="430.6" y="171.9" width="6.3" height="17.3" fill="#539df8" stroke="#151515" stroke-width="0.75"/>
<line x1="440.15" y1="171.6" x2="440.15" y2="172.4" stroke="#111" stroke-width="0.8"/>
<line x1="438.65" y1="171.6" x2="441.65" y2="171.6" stroke="#111" stroke-width="0.8"/>
<rect x="436.9" y="172.4" width="6.5" height="16.8" fill="#f98181" stroke="#151515" stroke-width="0.75"/>
<line x1="387.5" y1="130.1" x2="387.5" y2="189.2" stroke="#000" stroke-width="1"/>
<line x1="387.5" y1="189.2" x2="446.6" y2="189.2" stroke="#000" stroke-width="1"/>
<path d="M401.10 150.65L401.70 152.27L403.43 152.34L402.08 153.42L402.54 155.08L401.10 154.13L399.66 155.08L400.12 153.42L398.77 152.34L400.50 152.27Z" fill="#111"/>
<path d="M420.70 134.15L421.30 135.77L423.03 135.84L421.68 136.92L422.14 138.58L420.70 137.63L419.26 138.58L419.72 136.92L418.37 135.84L420.10 135.77Z" fill="#111"/>
<rect x="394.5" y="127.1" width="6.5" height="2.6" fill="#539df8" stroke="#1a1a1a" stroke-width="0.5"/>
<text x="404.3" y="128.6" font-size="3.81" font-weight="bold" stroke="#111" stroke-width="0.1" fill="#111" textLength="5.5" lengthAdjust="spacingAndGlyphs" dominant-baseline="central">NC</text>
<rect x="414.5" y="127.1" width="6.3" height="2.6" fill="#f98181" stroke="#1a1a1a" stroke-width="0.5"/>
<text x="424" y="128.6" font-size="4.45" font-weight="bold" stroke="#111" stroke-width="0.11" fill="#111" textLength="18.3" lengthAdjust="spacingAndGlyphs" dominant-baseline="central">si-RHOB</text>
<line x1="397.4" y1="189.2" x2="397.4" y2="190.6" stroke="#000" stroke-width="0.6"/>
<text x="397.4" y="196.95" font-size="4.8" font-weight="bold" fill="#111" stroke="#111" stroke-width="0.12" text-anchor="middle">G<tspan font-size="3.1" dy="1">0</tspan><tspan font-size="4.8" dy="-1">/G</tspan><tspan font-size="3.1" dy="1">1</tspan></text>
<line x1="417.2" y1="189.2" x2="417.2" y2="190.6" stroke="#000" stroke-width="0.6"/>
<text x="417.2" y="195.4" font-size="4.8" text-anchor="middle" font-weight="bold" stroke="#111" stroke-width="0.12" fill="#111" dominant-baseline="central">S</text>
<line x1="436.9" y1="189.2" x2="436.9" y2="190.6" stroke="#000" stroke-width="0.6"/>
<text x="436.9" y="196.95" font-size="4.8" font-weight="bold" fill="#111" stroke="#111" stroke-width="0.12" text-anchor="middle">G<tspan font-size="3.1" dy="1">2</tspan><tspan font-size="4.8" dy="-1">/M</tspan></text>
<text x="375.5" y="159.8" font-size="5.3" text-anchor="middle" font-weight="bold" stroke="#222" stroke-width="0.13" fill="#222" textLength="59" lengthAdjust="spacingAndGlyphs" transform="rotate(-90 375.5 159.8)" dominant-baseline="central">Percentage of cells (%)</text>
<text x="457.9" y="104.6" font-size="7.5" text-anchor="middle" font-weight="bold" stroke="#000" stroke-width="0.16" dominant-baseline="central">f</text>
<text x="597.45" y="110.4" font-size="7.2" text-anchor="middle" font-weight="bold" stroke="#000" stroke-width="0.16" textLength="30.5" lengthAdjust="spacingAndGlyphs" dominant-baseline="central">MNC-MK</text>
<text x="500.8" y="120" font-size="5" text-anchor="middle" font-weight="bold" stroke="#000" stroke-width="0.12" dominant-baseline="central">NC</text>
<text x="567.4" y="120" font-size="5.4" text-anchor="middle" font-weight="bold" stroke="#000" stroke-width="0.14" textLength="20.5" lengthAdjust="spacingAndGlyphs" dominant-baseline="central">siRHOB</text>
<rect x="471.9" y="125.7" width="57.3" height="56.4" fill="#fff" stroke="#b0b0b0" stroke-width="0.5"/>
<line x1="471.9" y1="125.7" x2="471.9" y2="182.1" stroke="#444" stroke-width="0.5"/>
<line x1="471.9" y1="182.1" x2="529.2" y2="182.1" stroke="#444" stroke-width="0.5"/>
<path d="M471.1 127.58h.8M471.1 129.46h.8M471.1 131.34h.8M471.1 133.22h.8M471.1 135.1h.8M471.1 136.98h.8M471.1 138.86h.8M471.1 140.74h.8M471.1 142.62h.8M471.1 144.5h.8M471.1 146.38h.8M471.1 148.26h.8M471.1 150.14h.8M471.1 152.02h.8M471.1 153.9h.8M471.1 155.78h.8M471.1 157.66h.8M471.1 159.54h.8M471.1 161.42h.8M471.1 163.3h.8M471.1 165.18h.8M471.1 167.06h.8M471.1 168.94h.8M471.1 170.82h.8M471.1 172.7h.8M471.1 174.58h.8M471.1 176.46h.8M471.1 178.34h.8M471.1 180.22h.8M471.9 182.1v.8M474.76 182.1v.8M477.63 182.1v.8M480.5 182.1v.8M483.36 182.1v.8M486.23 182.1v.8M489.09 182.1v.8M491.95 182.1v.8M494.82 182.1v.8M497.69 182.1v.8M500.55 182.1v.8M503.42 182.1v.8M506.28 182.1v.8M509.15 182.1v.8M512.01 182.1v.8M514.88 182.1v.8M517.74 182.1v.8M520.61 182.1v.8M523.47 182.1v.8M526.34 182.1v.8M529.2 182.1v.8" fill="none" stroke="#666" stroke-width="0.3"/>
<line x1="470.3" y1="128.91" x2="471.9" y2="128.91" stroke="#444" stroke-width="0.4"/>
<text x="470" y="128.91" font-size="2.6" text-anchor="end" fill="#333" dominant-baseline="central">10⁵</text>
<line x1="470.3" y1="140.53" x2="471.9" y2="140.53" stroke="#444" stroke-width="0.4"/>
<text x="470" y="140.53" font-size="2.6" text-anchor="end" fill="#333" dominant-baseline="central">10⁴</text>
<line x1="470.3" y1="154.69" x2="471.9" y2="154.69" stroke="#444" stroke-width="0.4"/>
<text x="470" y="154.69" font-size="2.6" text-anchor="end" fill="#333" dominant-baseline="central">10³</text>
<line x1="470.3" y1="170.03" x2="471.9" y2="170.03" stroke="#444" stroke-width="0.4"/>
<text x="470" y="170.03" font-size="2.6" text-anchor="end" fill="#333" dominant-baseline="central">10²</text>
<line x1="470.3" y1="174.6" x2="471.9" y2="174.6" stroke="#444" stroke-width="0.4"/>
<text x="470" y="174.6" font-size="2.6" text-anchor="end" fill="#333" dominant-baseline="central">0</text>
<line x1="470.3" y1="179.73" x2="471.9" y2="179.73" stroke="#444" stroke-width="0.4"/>
<text x="470" y="179.73" font-size="2.6" text-anchor="end" fill="#333" dominant-baseline="central">-10²</text>
<line x1="473.16" y1="182.1" x2="473.16" y2="183.6" stroke="#444" stroke-width="0.4"/>
<text x="473.16" y="185.5" font-size="2.5" text-anchor="middle" fill="#333" dominant-baseline="central">0</text>
<line x1="483.36" y1="182.1" x2="483.36" y2="183.6" stroke="#444" stroke-width="0.4"/>
<text x="483.36" y="185.5" font-size="2.5" text-anchor="middle" fill="#333" dominant-baseline="central">20K</text>
<line x1="494.82" y1="182.1" x2="494.82" y2="183.6" stroke="#444" stroke-width="0.4"/>
<text x="494.82" y="185.5" font-size="2.5" text-anchor="middle" fill="#333" dominant-baseline="central">40K</text>
<line x1="505.94" y1="182.1" x2="505.94" y2="183.6" stroke="#444" stroke-width="0.4"/>
<text x="505.94" y="185.5" font-size="2.5" text-anchor="middle" fill="#333" dominant-baseline="central">60K</text>
<line x1="517.17" y1="182.1" x2="517.17" y2="183.6" stroke="#444" stroke-width="0.4"/>
<text x="517.17" y="185.5" font-size="2.5" text-anchor="middle" fill="#333" dominant-baseline="central">80K</text>
<line x1="526.22" y1="182.1" x2="526.22" y2="183.6" stroke="#444" stroke-width="0.4"/>
<text x="526.22" y="185.5" font-size="2.5" text-anchor="middle" fill="#333" dominant-baseline="central">100K</text>
<clipPath id="cp783"><rect x="472.2" y="126" width="56.7" height="55.8"/></clipPath><g clip-path="url(#cp783)">
<ellipse cx="501" cy="142" rx="17" ry="7.5" fill="#5c74f4" opacity="0.45" filter="url(#bl2)"/>
<ellipse cx="511" cy="157" rx="12" ry="2.8" fill="#5c74f4" opacity="0.35" filter="url(#bl2)"/>
<path d="M487.5 158.6h0m5.4 1.2h0m-3.8-4.3h0m-3.1 8.6h0m7-6.9h0m2.8 3.9h0m-5.5-3.4h0m5.3 2.7h0m1.7 0.1h0m-7.6-2.7h0m-0.4 2.4h0m3.3 1h0m0.6-4.7h0m-2.2 0.3h0m2.3-1.1h0m-3.6 1.3h0m-0.1 1.8h0m7.3 0h0m-10.1-0.2h0m7.5 2.5h0m-1.8 4.1h0m3-5.4h0m0.3-4.2h0m-4.7 1.4h0m1.2 7.2h0m-2.3-0.1h0m-1.8-0.5h0m-2.3-6.5h0m9.2 2.1h0m-2.9 0.3h0m0.1-0.5h0m-3.9-0.3h0m3.7-1.8h0m1.2 7.7h0m-7.2-6.7h0m4.6 1.7h0m1.3-2.2h0m-0.4 2.1h0m-0.2 4.4h0m0.7-8.7h0m-5.7 6h0m4.1-3.5h0m-3.4 0.9h0m4.3-1.1h0m-0.9 4.6h0m3.9-1h0m-3.3-5.5h0m3.2 8.2h0m1.7-0.9h0m-3.4-2.3h0m-0.9 2.5h0m-0.9 2.6h0m3.5-7.1h0m-2.6-3.7h0m-2.5 3.7h0m10.8-1.4h0m-5.2 2.5h0m-4.1 1.6h0m-5.8 0.9h0m13.4-1.8h0m-6.8-0.4h0m2.5-1.9h0m-1.9 2.9h0m-1.6-0.4h0m2.3 1h0m-4.5-3.6h0m2 4.9h0m2.2-8.2h0m-5.1 10.4h0m5.5-9.3h0m-4.3 4.1h0m7.9 4.3h0m-6-5.6h0m7.7-1.9h0m-1.2 3.8h0m-5 2.7h0m1.3-6.1h0m-6.8 2.4h0m6.9 3.9h0m-10.6 0h0m11 0.5h0m0.6-3.8h0m-1.2 0.5h0m-3.6-1.4h0m2.5-1h0m-5.4-2.9h0m6.7 5.7h0m-1.3-4.9h0m2.5 2.3h0m-10 5.6h0m2 2h0m6.9-7.8h0m-9.8-0.7h0m13 5.9h0m-4.1-8.8h0m-2.2 4.1h0m2.9 0.4h0m-0.4-4.3h0m-3.4 8.9h0m-2.7-1.5h0m12.7-0.8h0m-12.5 1.7h0m-1.6-2.6h0m4.9 2.6h0m5.4-3.1h0m2.1 2.3h0m-7.7-5.6h0m10 1.6h0m-7 0.9h0m-3-4.3h0m1.1 4.3h0m3.8-1.2h0m-8.6-1.6h0m5.2 3.8h0m2.6-1.8h0m-0.7 1.5h0m3.9-0.6h0m-5.2 1.8h0m3.6-4.3h0m-5.7 1.9h0m-8.7-11.7h0m28-4.9h0m8.3 5.9h0m-9.8-11.5h0m5.5 7.1h0m-23.9-1.4h0m17.1 3.6h0m-5.1-5.8h0m5.2-0.9h0m-7.4 5.8h0m-11.9-1.5h0m-4.5-5h0m6.3 3.3h0m17.1 0.1h0m1.7 0.6h0m-9.8 1.5h0m-0.3-1.4h0m11.2-2.7h0m1-2.1h0m-12-2.4h0m-2.7 12.8h0m7.7-1.2h0m-15.9-8.8h0m16.9 7.1h0m3.2-9.7h0m-2.8 6.2h0m-3.4 2.1h0m-3.5-8.3h0m-6.9 0.9h0m-2.2 5.1h0m22.9-2.3h0m-18.1-1.6h0m-8.4 4.7h0m10.9-1.2h0m-4.2 2.8h0m-2.1 0.2h0m4.7 0.9h0m-2-1.3h0m11.7-2h0m10.4 1h0m-22.1 2h0m0.6-4.8h0m7.3 2.8h0m14.8-7.4h0m-17.2 11.1h0m0.9-3.2h0m14.8-6h0m-13 7.9h0m-5.5-9.9h0m-3.6 7.6h0m10.4 6.3h0m9.9-13.1h0m-2.5 9.5h0m5.1-4.1h0m-19.1 1.2h0m18.5 1.8h0m1.3 0.6h0m-20.1-6.9h0m21.4-2h0m-19.3 4.7h0m-4.9-1h0m8.1 11.4h0m-0.7-11.2h0m1.7 5.6h0m-8.3-5.2h0m-8.1 4.3h0m21.3 3.1h0m-16.5 2.6h0m18.2-9.5h0m-11.1-0.1h0m-7.2 4.2h0m5.3-5.8h0m9.8 3.2h0m-9.6-1.3h0m0.8 6.1h0m13.1-8h0m-9.2 8.1h0m-2.1 1.6h0m6.4-4.3h0m-22.1 0.7h0m21.2-1h0m1.2-0.3h0m-8.7 1.5h0m5.1-7.6h0m-9.5 4.7h0m11.8-9.1h0m-21 12.6h0m18 6.9h0m-13.4-12h0m8.2 3.2h0m17.7 4h0m-21.3-1.4h0m-1.8-3.6h0m12.2 1.2h0m-8.5 2.8h0m6.4-5.3h0m-1.7-4h0m8.6 5.4h0m-2.3 5.9h0m-11.6-8.3h0m7.7 4.4h0m-1.7 0.3h0m5.6-10.4h0m-10-1.1h0m3.5 6.3h0m7.7 2.3h0m-5.8 4.2h0m5.8-9.7h0m-11.3 6.1h0m21.1-2.1h0m-16.5 1.8h0m8.4-1.3h0m-4.3-1.3h0m-7.4-1.5h0m10.6 0.9h0m-1 3.8h0m3.8-12h0m-17.1 5.7h0m7.1 7.8h0m23.7 2.9h0m-10.4-4.5h0m-15.3 0.6h0m-15.7 1.5h0m19.2-1.2h0m-9.1-6.7h0m3.3 4.1h0m8.8-1.2h0m0 4h0m-13.3-3h0m-3.5-1.7h0m21.7-0.7h0m8.4 4.8h0m-8.6-1.6h0m-0.2 3.9h0m-6.7-6.4h0m-5.7 9.6h0m3.2-9.3h0m-4.6-4.8h0m1.8 7.9h0m0.1-4.2h0m7.9 4.7h0m-7.4-0.6h0m-4.8 2.1h0m-0.1-4.6h0m9.9-0.3h0m-11.3 9.8h0m23.4-15h0m-12.2 1.9h0m1.6-0.2h0m2.4 7.2h0m9.9 2.6h0m-19-1h0m0-4.1h0m-0.4-6.5h0m9.7-1h0m-7.4 9.9h0m3.1-8.1h0m-6.7 8.7h0m15.4 3.6h0m-25.7-4.4h0m11.8 1.2h0m-10.6-3.6h0m21-1.9h0m-9.4-1.3h0m13-1.4h0m-17.8 3.9h0m5.2 9.5h0m5.2-11.4h0m2.7 4.5h0m-2.6-1.6h0m1.6-4.3h0m-14.7 2.9h0m0.9 4.4h0m26.8 2.1h0m-13.2-3.5h0m-9.9-6.4h0m10.8-0.7h0m-2.1 5.3h0m3.9 0.7h0m-5.7-2.5h0m-16 1h0m21.2 5.4h0m6-8h0m-20.3 6.6h0m4.2 7.3h0m6.8-15.9h0m-7.7 12h0m-11.1-5.5h0m3.8 5.6h0m8.3-10.2h0m-11.1 1.2h0m-7.5 1h0m41.7 2.2h0m-21.5-4.9h0m5.3 2.7h0m-10.5 7.2h0m11.4-8.9h0m9.1 3.3h0m-8.6 0.8h0m15.7 15.6h0m-10.5 0.2h0m-0.3-1.1h0m13.9-2.4h0m-18.3 1.3h0m3.7 3.3h0m-7.5 2h0m21.7-5.4h0m-9.5 0.2h0m3.3 2h0m0.5 0.2h0m8.1-1.8h0m-8.4-0.1h0m-4.5 0.8h0m-0.7 0.3h0m-5.4-1h0m1.7-2h0m-0.7 1.3h0m3.8-2h0m-0.8 0.8h0m-3.8 2.6h0m13.2 0.2h0m-10.9-1.5h0m12.5-2.3h0m-1.4 0.3h0m-12.1 3h0m2.8 3.1h0m4.9-3.3h0m3.1 0.2h0m-12 2.1h0m15.8 0.3h0m-18.3 1.2h0m5.1-2.2h0m11.1 3.1h0m-19.3-6.6h0m19.2 3h0m-10.2-6.7h0m5.1 5.3h0m-20.9 5.6h0m0.8-6.3h0m17.1 1.6h0m5.2-1h0m-11.3-0.2h0m-8.3-1.5h0m27.9 0.9h0m-14 5h0m7.7-3.5h0m-2.2-0.7h0m-11.2 2.5h0m7.1 1.1h0m-2.7-3.8h0m4.2 0.3h0m-4.5-1.3h0m3.8 2.3h0m10.9-0.7h0m-24.6 1h0m27.7-1.8h0m-21.2 0.6h0m-14.1-0.4h0m18.3-2.3h0m5.3 1.3h0m-16.7 0.3h0m17.1 5.2h0m4.2-3.4h0m-12.1-0.9h0m10.1-0.5h0m-3.7 2.9h0m-9.1-3.1h0m9.3 1.2h0m-4-1h0m0.5 4.6h0m9.7-6.8h0m-9 3.4h0m0-2.9h0m-1.2 3h0m-3.8 0.3h0m-12-3.5h0m17.4 3.7h0m-1.8-1.7h0m2.4 3h0m4.9-2.3h0m-9.4 2.3h0m6.9-0.4h0m-5.6-3.4h0m3.2 0.5h0m6.6 2.9h0m-22.9-0.4h0m24.2 0.7h0m-12.5-3.7h0m10 3.7h0m-6.3-4.3h0m-10.9 2.8h0m4.8-1.8h0m8.8 3.4h0m-17.3-3.4h0m23.1 1.2h0m-11.3 1.4h0m-5.4-3.7h0m7.9 5.5h0m6.9-3.1h0m-35-0.2h0m-8.6-3.7h0m5.7 7.5h0m0.4-2.7h0m-3.1 3.3h0m1.4-7.4h0m5.6 2.3h0m-3.9 1.9h0m2.6 0.7h0m0.7-0.1h0m-6.6-2.1h0m4.4-0.9h0m1 1.7h0m-7.2-1.9h0m3 7.8h0m3.6-5.1h0m-6.6 5.5h0m2.5-5.6h0m-0.6 3.9h0m2.4-5.2h0m0-1.6h0m-4.8 2.4h0m11.9-2.8h0m-8.4-1.3h0m1.3 5.2h0m2.2-4.5h0m-5.3 2h0m1.4 8.6h0m0.2-6.8h0" stroke="#4a62f5" stroke-width=".7" stroke-linecap="square" opacity="0.6"/>
<path d="M489.5 148Q490 138.5 500 137.8Q509 137.3 514 141.5" fill="none" stroke="#6078f6" stroke-width="5.5" stroke-linecap="round" opacity="0.42" filter="url(#bl2)"/>
<path d="M489.5 148Q490 138.5 500 137.8Q509 137.3 514 141.5" fill="none" stroke="#3a52f0" stroke-width="4.4" stroke-linecap="round" opacity="0.68" filter="url(#bl2)"/>
<path d="M489.5 148Q490 138.5 500 137.8Q509 137.3 514 141.5" fill="none" stroke="#28b4c8" stroke-width="2.49" stroke-linecap="round" opacity="0.78" filter="url(#bl2)"/>
<ellipse cx="512" cy="157" rx="8" ry="2" fill="#6078f6" opacity="0.5" filter="url(#bl)"/>
<ellipse cx="512" cy="157" rx="6.14" ry="1.54" fill="#3a52f0" opacity="0.8" filter="url(#bl)"/>
<ellipse cx="501.5" cy="139.6" rx="10" ry="2.6" fill="#6078f6" opacity="0.5" filter="url(#bl)" transform="rotate(-3 501.5 139.6)"/>
<ellipse cx="501.5" cy="139.6" rx="8" ry="2.08" fill="#3a52f0" opacity="0.8" filter="url(#bl)" transform="rotate(-3 501.5 139.6)"/>
<ellipse cx="501.5" cy="139.6" rx="6.3" ry="1.64" fill="#28b4c8" opacity="0.92" filter="url(#bl)" transform="rotate(-3 501.5 139.6)"/>
<ellipse cx="501.5" cy="139.6" rx="3.95" ry="1.03" fill="#48cc48" opacity="1" filter="url(#bl)" transform="rotate(-3 501.5 139.6)"/>
<ellipse cx="492.1" cy="159.5" rx="6.2" ry="5.2" fill="#6078f6" opacity="0.5" filter="url(#bl)"/>
<ellipse cx="492.1" cy="159.5" rx="4.96" ry="4.16" fill="#3a52f0" opacity="0.8" filter="url(#bl)"/>
<ellipse cx="492.1" cy="159.5" rx="3.91" ry="3.28" fill="#28b4c8" opacity="0.92" filter="url(#bl)"/>
<ellipse cx="492.1" cy="159.5" rx="2.91" ry="2.44" fill="#48cc48" opacity="1" filter="url(#bl)"/>
<ellipse cx="492.1" cy="159.5" rx="1.98" ry="1.66" fill="#ecdf22" opacity="1" filter="url(#bl)"/>
<ellipse cx="492.1" cy="159.5" rx="1.24" ry="1.04" fill="#ff4a10" opacity="1" filter="url(#bl)"/>
</g>
<g fill="none" stroke="#333" stroke-width="0.7"><rect x="485.6" y="129.2" width="35.9" height="22.8"/><rect x="483.3" y="152" width="39.4" height="25.9"/></g>
<line x1="503.4" y1="152" x2="503.4" y2="177.9" stroke="#222" stroke-width="0.8"/>
<text x="520" y="132.7" font-size="5" text-anchor="end" font-weight="bold" stroke="#111" stroke-width="0.12" fill="#111" dominant-baseline="central">34.8%</text>
<rect x="539.4" y="125.7" width="56" height="56.7" fill="#fff" stroke="#b0b0b0" stroke-width="0.5"/>
<line x1="539.4" y1="125.7" x2="539.4" y2="182.4" stroke="#444" stroke-width="0.5"/>
<line x1="539.4" y1="182.4" x2="595.4" y2="182.4" stroke="#444" stroke-width="0.5"/>
<path d="M538.6 127.59h.8M538.6 129.48h.8M538.6 131.37h.8M538.6 133.26h.8M538.6 135.15h.8M538.6 137.04h.8M538.6 138.93h.8M538.6 140.82h.8M538.6 142.71h.8M538.6 144.6h.8M538.6 146.49h.8M538.6 148.38h.8M538.6 150.27h.8M538.6 152.16h.8M538.6 154.05h.8M538.6 155.94h.8M538.6 157.83h.8M538.6 159.72h.8M538.6 161.61h.8M538.6 163.5h.8M538.6 165.39h.8M538.6 167.28h.8M538.6 169.17h.8M538.6 171.06h.8M538.6 172.95h.8M538.6 174.84h.8M538.6 176.73h.8M538.6 178.62h.8M538.6 180.51h.8M539.4 182.4v.8M542.2 182.4v.8M545 182.4v.8M547.8 182.4v.8M550.6 182.4v.8M553.4 182.4v.8M556.2 182.4v.8M559 182.4v.8M561.8 182.4v.8M564.6 182.4v.8M567.4 182.4v.8M570.2 182.4v.8M573 182.4v.8M575.8 182.4v.8M578.6 182.4v.8M581.4 182.4v.8M584.2 182.4v.8M587 182.4v.8M589.8 182.4v.8M592.6 182.4v.8M595.4 182.4v.8" fill="none" stroke="#666" stroke-width="0.3"/>
<line x1="537.8" y1="128.93" x2="539.4" y2="128.93" stroke="#444" stroke-width="0.4"/>
<text x="537.5" y="128.93" font-size="2.6" text-anchor="end" fill="#333" dominant-baseline="central">10⁵</text>
<line x1="537.8" y1="140.61" x2="539.4" y2="140.61" stroke="#444" stroke-width="0.4"/>
<text x="537.5" y="140.61" font-size="2.6" text-anchor="end" fill="#333" dominant-baseline="central">10⁴</text>
<line x1="537.8" y1="154.84" x2="539.4" y2="154.84" stroke="#444" stroke-width="0.4"/>
<text x="537.5" y="154.84" font-size="2.6" text-anchor="end" fill="#333" dominant-baseline="central">10³</text>
<line x1="537.8" y1="170.27" x2="539.4" y2="170.27" stroke="#444" stroke-width="0.4"/>
<text x="537.5" y="170.27" font-size="2.6" text-anchor="end" fill="#333" dominant-baseline="central">10²</text>
<line x1="537.8" y1="174.86" x2="539.4" y2="174.86" stroke="#444" stroke-width="0.4"/>
<text x="537.5" y="174.86" font-size="2.6" text-anchor="end" fill="#333" dominant-baseline="central">0</text>
<line x1="537.8" y1="180.02" x2="539.4" y2="180.02" stroke="#444" stroke-width="0.4"/>
<text x="537.5" y="180.02" font-size="2.6" text-anchor="end" fill="#333" dominant-baseline="central">-10²</text>
<line x1="540.63" y1="182.4" x2="540.63" y2="183.9" stroke="#444" stroke-width="0.4"/>
<text x="540.63" y="185.8" font-size="2.5" text-anchor="middle" fill="#333" dominant-baseline="central">0</text>
<line x1="550.6" y1="182.4" x2="550.6" y2="183.9" stroke="#444" stroke-width="0.4"/>
<text x="550.6" y="185.8" font-size="2.5" text-anchor="middle" fill="#333" dominant-baseline="central">20K</text>
<line x1="561.8" y1="182.4" x2="561.8" y2="183.9" stroke="#444" stroke-width="0.4"/>
<text x="561.8" y="185.8" font-size="2.5" text-anchor="middle" fill="#333" dominant-baseline="central">40K</text>
<line x1="572.66" y1="182.4" x2="572.66" y2="183.9" stroke="#444" stroke-width="0.4"/>
<text x="572.66" y="185.8" font-size="2.5" text-anchor="middle" fill="#333" dominant-baseline="central">60K</text>
<line x1="583.64" y1="182.4" x2="583.64" y2="183.9" stroke="#444" stroke-width="0.4"/>
<text x="583.64" y="185.8" font-size="2.5" text-anchor="middle" fill="#333" dominant-baseline="central">80K</text>
<line x1="592.49" y1="182.4" x2="592.49" y2="183.9" stroke="#444" stroke-width="0.4"/>
<text x="592.49" y="185.8" font-size="2.5" text-anchor="middle" fill="#333" dominant-baseline="central">100K</text>
<clipPath id="cp834"><rect x="539.7" y="126" width="55.4" height="56.1"/></clipPath><g clip-path="url(#cp834)">
<ellipse cx="569" cy="141" rx="18" ry="7.5" fill="#5c74f4" opacity="0.45" filter="url(#bl2)"/>
<ellipse cx="580" cy="157" rx="12" ry="2.8" fill="#5c74f4" opacity="0.35" filter="url(#bl2)"/>
<path d="M557.4 161.7h0m10.5 1.1h0m-3.5-6.6h0m-1.7 3.3h0m0.7 3h0m-2-8h0m-1.8 3.4h0m1 1.6h0m2.1-4.8h0m-6.1 4.5h0m3.6-1h0m-1.2 1.4h0m3.7-0.5h0m-2.8-5h0m-9.8 1h0m10.2-2.5h0m0.2 6.5h0m-1.4-1.8h0m-1.4 4.5h0m2.6-2.5h0m-2.9 0.7h0m5.8-0.7h0m-5.4-3.4h0m1.6 0.8h0m-5.2 5.3h0m2.8-8.6h0m-0.4 11.4h0m2.1-9.3h0m-3.4 6h0m5.2-1.5h0m-2.1 0.8h0m6 0h0m-5.9-5.5h0m2.1 8.7h0m0.7-8.3h0m-1.6 7.5h0m-2.8-2.3h0m6.4 3.3h0m-9.7-9.9h0m6.8 7.2h0m-2.5-2.2h0m-0.2 3.6h0m-6.2-2.7h0m3.2-2.8h0m-0.9-0.7h0m5.2 2.8h0m6.3-0.8h0m-5 1.7h0m-0.3 3.3h0m-0.4-3.9h0m-0.9-0.4h0m0.2 2.9h0m0.3-2.7h0m-0.3 2h0m-1.4 0.6h0m-0.4-0.8h0m8.6-1.3h0m-6.9-4.2h0m2.9 3.5h0m0.5-1.9h0m-1.3 7.2h0m-0.4-6.3h0m-5.9 1h0m6.8 1.8h0m-6.2-4.8h0m0.5 0h0m2.4 3.8h0m7.6-0.2h0m-1.6-5.5h0m0.3 7.3h0m-3.8 0h0m0.6 3.3h0m0.7-10.8h0m-8.8 9.9h0m5.7-0.9h0m-0.9-5.8h0m0 2.8h0m1.8-2.7h0m1.3 3.6h0m-5.1-5.1h0m-3.6 2.4h0m6.8-1.2h0m-2.1 1.7h0m2.2 2.1h0m2.8-0.4h0m1-4.2h0m-1.8 4h0m-5.7-3.1h0m5.1 2.2h0m-5.8-1.8h0m9.6 4.1h0m-5 1.5h0m-3.4-4.5h0m6.4-0.5h0m-7.2 2.7h0m9.4-9.2h0m-5 3.8h0m-1.5-0.5h0m10 2.2h0m-8.8-0.1h0m-3.6 0.8h0m4.1 6.5h0m0.3-0.6h0m-4.7-4.4h0m2.2-4.8h0m14.4 3.9h0m-12.1-1.5h0m-2.8-0.9h0m5.5 1.9h0m-4 1.7h0m-3.7 0.2h0m3.6 0.6h0m-0.7-1.2h0m3.1 2.8h0m-4.2 0h0m-1-3.5h0m3.9 1h0m-9.1-3.3h0m8 5.6h0m-1.8 1.8h0m-5.5-22.6h0m23.1-0.2h0m-2.7 3.6h0m-10.6-1.4h0m18.5-3.2h0m-33.4-3.8h0m14.5 0.5h0m12.7 1h0m20.2 5.5h0m-37.4-3.4h0m28 3.8h0m-25.2 1.4h0m5.4 4.7h0m-0.8-6.4h0m11.1-4.2h0m-7.1 6.4h0m6.4-4.8h0m-0.5 7.1h0m4.8-5h0m-5.9-8.1h0m-2 4.3h0m5.9-0.5h0m-2.8-1.8h0m4.4 1.3h0m-9.1 5.2h0m-2.9-2.3h0m13.7 7h0m-28.3-10.6h0m24.5 7.3h0m-11.4-3.3h0m2.8 8.6h0m-0.1-13.7h0m-13.3-0.3h0m28.2 3.5h0m6.4 4h0m-15.5 0h0m4 1.1h0m-17.4-5.8h0m4.2 2.6h0m2.9-5.3h0m-4.4 12h0m27.9-10.5h0m-17.2 3.3h0m-12.2 2.9h0m7.7 3.8h0m5.2-7.8h0m-30.7 0.8h0m34.6-2.4h0m0.3 5.5h0m-26.1-3.5h0m20.6 3.8h0m-1.7-3.1h0m-4.9-1h0m3.4-3.1h0m6.3 2.9h0m-1.1-0.7h0m-1.1 2.5h0m4.7 1.3h0m0.4-2.5h0m-9.7-0.3h0m-11.9 0.5h0m23.2 3.5h0m-19.2-1.8h0m15.8-6.6h0m-4 6.7h0m4-0.3h0m-24.6-9h0m36.8 6.4h0m-7 6.6h0m-11.7-9.5h0m12.6 4.4h0m-8.4 2h0m4.3 2.1h0m-23.4-9.6h0m15.4 5.6h0m6.3-0.5h0m-9.5 8.5h0m15.4-3.4h0m-3.4-7.7h0m-11 2.8h0m-10-3.1h0m12.4-1.4h0m3.8 6.7h0m-7.7-3.2h0m8.3 3.2h0m-2.4-6.7h0m-19.6 12.9h0m9.6-9.5h0m-11.6-1.7h0m10.8 6.2h0m-18.9-8.6h0m22 3.6h0m-3.6 0.2h0m-7.9 2.8h0m27.4-0.5h0m-17.1 4.4h0m10.1-9.1h0m-10.5 1.7h0m5.3 7.2h0m-6.6-5.4h0m8.1-4.1h0m-5.8 7.1h0m15.9-9.8h0m-4.2 6.3h0m5.7 3.5h0m6.8-1.2h0m-23.4-4.5h0m-10.2 5.5h0m19.2 1h0m-1.6-9.1h0m-7.5 4.9h0m5.6 4h0m12.4-1.9h0m-34.4-5.1h0m-0.7 1h0m9.3 3.9h0m9.6 3.5h0m12.9-6.2h0m-1.4 1.9h0m-4.8 5.2h0m-15.8-5.6h0m26.5-2.7h0m-13.1 3.5h0m-6.2-5.6h0m-2.7 1.2h0m17.5 4.9h0m-3.8-5.7h0m-1.9 5.3h0m5.4-3.4h0m-2.4 8.2h0m9.8-9h0m-28.9-2.1h0m20.6 8h0m-6.1-5.7h0m9 9.7h0m-12.7-6.8h0m12.1 2.5h0m1.5-3.6h0m-9.9 0.3h0m-9 0.1h0m2.8 3.2h0m-0.2-1.7h0m-5-5.1h0m22.1 0.9h0m3.8 7.6h0m-40.5-6.2h0m18.5 2.6h0m2.3-2.5h0m14.2 1.9h0m-2.9-2.2h0m-16.3 7.9h0m4-9.5h0m1.1 8.4h0m0.1-6.9h0m7.9 6.7h0m-8.3-5.1h0m-1.6 11.8h0m1.8-3.8h0m0.3-5.2h0m-18.6-0.9h0m20.6-1.9h0m-4.5-4.1h0m-10.7 6h0m8.4-1h0m4.5-1.7h0m-5.4 9.3h0m-3.7-9.3h0m8-2.5h0m-6.6 7.9h0m18.7-2.9h0m3-3.7h0m-1.5 9.8h0m-14.4 0.5h0m-4.2-11.5h0m7.5 1.2h0m6.7-1.1h0m-5.5-3.3h0m-1.1 11.7h0m-2.3-2.9h0m13.4-5.5h0m-23.3 4.6h0m15.3-1.3h0m-12.3 5.7h0m-2-5.7h0m11.1 3.8h0m-4-6h0m24.3-0.1h0m-12 2.7h0m-12.6 0.4h0m2.2 1.4h0m-22.6-1.3h0m25.8-3.7h0m-4.5 12.9h0m22.1-6.6h0m-16-3.7h0m11.4-0.5h0m-21.8 4.4h0m-1.4-5.8h0m23.8-3.2h0m-3.7 22.5h0m2.2-3h0m-3.3 2.1h0m14.8 2.7h0m-18.5-0.3h0m9.7-1.9h0m-6.1-0.3h0m-9-0.7h0m17.1 4h0m6.3-3.5h0m-8.5-4h0m-6.1 2.2h0m7.5-0.7h0m-12.9 1h0m10 3.8h0m-9.1 1.9h0m7.4-5.1h0m1.3 1.6h0m3.4 0.7h0m-10.2 0.8h0m9.7-3.5h0m-10.4 0.4h0m-11.9 2.8h0m15.5 1.2h0m-2.3-2.3h0m8.8 1.8h0m-2.8-3.9h0m7.2 5.2h0m0.3-2.4h0m-6.4 0.4h0m-13.6 0.4h0m3.6-0.8h0m-0.2 0.6h0m3.6 3.5h0m4.7-3.9h0m-7.6-1.6h0m5.8 0h0m-2.6-1.1h0m8.3 1h0m-10.9 1.4h0m0-1h0m2.1-1.5h0m2 0.2h0m-7.1 2.3h0m6.6-3.6h0m-0.7 3.3h0m5.7 0.3h0m-1.2 0.5h0m-5.2-2.8h0m7.7 0.8h0m-4.2 2.1h0m6.4 1.1h0m-11.2-3.1h0m8.6-2.1h0m-12.5 4h0m4.4-3h0m9.8 2.8h0m0.8-1.6h0m-8.3-0.1h0m4-3.3h0m-6.8 5.4h0m-0.6-1.5h0m6.2 1.1h0m-4.1-3.2h0m15-1.2h0m-11 3h0m12.3 4.4h0m-6.3-6h0m-12.3 0.5h0m2 2h0m-1.9-1h0m15.6 3.3h0m-23-4.6h0m10.3 4.3h0m0.3 1.2h0m4.8-0.9h0m-8.4-3.4h0m12.9 1.7h0m-19.9-1.6h0m14.1 1.7h0m-5.6 2.2h0m5.4-0.6h0m1.7-2.6h0m-4.9-2.5h0m8.1 3.8h0m0.5-2.2h0m-13.3 0h0m4.7 0.7h0m8.9-1.8h0m-10.1 3.1h0m9.6 3h0m-2.6-5.9h0m-10.8 0.1h0m7.7 2h0m-1-1.7h0m-0.8 1.1h0m5.4 0.3h0m-40.3-2.6h0m9 3.2h0m-6.5 0.1h0m5.1-0.8h0m-3.8 0.2h0m1.6-2.2h0m-1.5 5.9h0m3.9-1.2h0m-3.5 2.8h0m1.6-0.5h0m-7.5-7.3h0m7.9 2.4h0m-4.8-2h0m7.5-0.7h0m-5.4-0.5h0m-1.1 10.5h0m10.2-7.9h0m-13.5 6.1h0m0.6-9.9h0m4.7 2.1h0m-7 6.4h0m2.8-6.4h0m3.5 2.6h0m3.8 0.8h0m1.8 3h0m0.7 0h0m-6.7-1.7h0m-0.2-6.1h0m-4.7 6.7h0" stroke="#4a62f5" stroke-width=".7" stroke-linecap="square" opacity="0.6"/>
<path d="M557 147Q558 137.5 568 136.8Q578 136.3 583.5 140.5" fill="none" stroke="#6078f6" stroke-width="5.5" stroke-linecap="round" opacity="0.42" filter="url(#bl2)"/>
<path d="M557 147Q558 137.5 568 136.8Q578 136.3 583.5 140.5" fill="none" stroke="#3a52f0" stroke-width="4.4" stroke-linecap="round" opacity="0.68" filter="url(#bl2)"/>
<path d="M557 147Q558 137.5 568 136.8Q578 136.3 583.5 140.5" fill="none" stroke="#28b4c8" stroke-width="2.49" stroke-linecap="round" opacity="0.78" filter="url(#bl2)"/>
<ellipse cx="580" cy="157" rx="8" ry="2" fill="#6078f6" opacity="0.5" filter="url(#bl)"/>
<ellipse cx="580" cy="157" rx="6.14" ry="1.54" fill="#3a52f0" opacity="0.8" filter="url(#bl)"/>
<ellipse cx="570" cy="138.6" rx="10.5" ry="2.6" fill="#6078f6" opacity="0.5" filter="url(#bl)" transform="rotate(-3 570 138.6)"/>
<ellipse cx="570" cy="138.6" rx="8.4" ry="2.08" fill="#3a52f0" opacity="0.8" filter="url(#bl)" transform="rotate(-3 570 138.6)"/>
<ellipse cx="570" cy="138.6" rx="6.62" ry="1.64" fill="#28b4c8" opacity="0.92" filter="url(#bl)" transform="rotate(-3 570 138.6)"/>
<ellipse cx="570" cy="138.6" rx="4.15" ry="1.03" fill="#48cc48" opacity="1" filter="url(#bl)" transform="rotate(-3 570 138.6)"/>
<ellipse cx="559.1" cy="159.4" rx="6.2" ry="5.2" fill="#6078f6" opacity="0.5" filter="url(#bl)"/>
<ellipse cx="559.1" cy="159.4" rx="4.96" ry="4.16" fill="#3a52f0" opacity="0.8" filter="url(#bl)"/>
<ellipse cx="559.1" cy="159.4" rx="3.91" ry="3.28" fill="#28b4c8" opacity="0.92" filter="url(#bl)"/>
<ellipse cx="559.1" cy="159.4" rx="2.91" ry="2.44" fill="#48cc48" opacity="1" filter="url(#bl)"/>
<ellipse cx="559.1" cy="159.4" rx="1.98" ry="1.66" fill="#ecdf22" opacity="1" filter="url(#bl)"/>
<ellipse cx="559.1" cy="159.4" rx="1.24" ry="1.04" fill="#ff4a10" opacity="1" filter="url(#bl)"/>
</g>
<g fill="none" stroke="#333" stroke-width="0.7"><rect x="552.3" y="129" width="36.3" height="22.5"/><rect x="550.2" y="151.5" width="39.4" height="26.1"/></g>
<line x1="570.1" y1="151.5" x2="570.1" y2="177.6" stroke="#222" stroke-width="0.8"/>
<text x="586.9" y="133.1" font-size="5" text-anchor="end" font-weight="bold" stroke="#111" stroke-width="0.12" fill="#111" dominant-baseline="central">38.4%</text>
<line x1="464.4" y1="126.2" x2="464.4" y2="172" stroke="#000" stroke-width="1.4"/>
<path d="M461.5 129.1L464.4 126L467.3 129.1" fill="none" stroke="#000" stroke-width="1.3"/>
<text x="464.4" y="180" font-size="5.5" text-anchor="middle" font-weight="bold" stroke="#000" stroke-width="0.14" textLength="10.5" lengthAdjust="spacingAndGlyphs" transform="rotate(-90 464.4 180)" dominant-baseline="central">EdU</text>
<text x="454.4" y="191.4" font-size="5" text-anchor="middle" font-weight="bold" stroke="#000" stroke-width="0.12" dominant-baseline="central">PI</text>
<line x1="471" y1="191.4" x2="599.2" y2="191.4" stroke="#000" stroke-width="1.4"/>
<path d="M596.3 188.5L599.4 191.4L596.3 194.3" fill="none" stroke="#000" stroke-width="1.3"/>
<line x1="613.6" y1="189.6" x2="616.2" y2="189.6" stroke="#000" stroke-width="0.7"/>
<text x="613.3" y="189.6" font-size="3.7" text-anchor="end" font-weight="bold" stroke="#222" stroke-width="0.09" fill="#222" dominant-baseline="central">0</text>
<line x1="613.6" y1="174.85" x2="616.2" y2="174.85" stroke="#000" stroke-width="0.7"/>
<text x="613.3" y="174.85" font-size="3.7" text-anchor="end" font-weight="bold" stroke="#222" stroke-width="0.09" fill="#222" dominant-baseline="central">20</text>
<line x1="613.6" y1="160.1" x2="616.2" y2="160.1" stroke="#000" stroke-width="0.7"/>
<text x="613.3" y="160.1" font-size="3.7" text-anchor="end" font-weight="bold" stroke="#222" stroke-width="0.09" fill="#222" dominant-baseline="central">40</text>
<line x1="613.6" y1="145.35" x2="616.2" y2="145.35" stroke="#000" stroke-width="0.7"/>
<text x="613.3" y="145.35" font-size="3.7" text-anchor="end" font-weight="bold" stroke="#222" stroke-width="0.09" fill="#222" dominant-baseline="central">60</text>
<line x1="613.6" y1="130.6" x2="616.2" y2="130.6" stroke="#000" stroke-width="0.7"/>
<text x="613.3" y="130.6" font-size="3.7" text-anchor="end" font-weight="bold" stroke="#222" stroke-width="0.09" fill="#222" dominant-baseline="central">80</text>
<line x1="625.15" y1="139.3" x2="625.15" y2="143.7" stroke="#111" stroke-width="0.8"/>
<line x1="623.65" y1="139.3" x2="626.65" y2="139.3" stroke="#111" stroke-width="0.8"/>
<rect x="621.9" y="143.7" width="6.5" height="45.9" fill="#539df8" stroke="#151515" stroke-width="0.75"/>
<line x1="631.55" y1="139.3" x2="631.55" y2="144.9" stroke="#111" stroke-width="0.8"/>
<line x1="630.05" y1="139.3" x2="633.05" y2="139.3" stroke="#111" stroke-width="0.8"/>
<rect x="628.4" y="144.9" width="6.3" height="44.7" fill="#f98181" stroke="#151515" stroke-width="0.75"/>
<line x1="644.45" y1="161.6" x2="644.45" y2="165.4" stroke="#111" stroke-width="0.8"/>
<line x1="642.95" y1="161.6" x2="645.95" y2="161.6" stroke="#111" stroke-width="0.8"/>
<rect x="641.2" y="165.4" width="6.5" height="24.2" fill="#539df8" stroke="#151515" stroke-width="0.75"/>
<line x1="651" y1="159.8" x2="651" y2="164.2" stroke="#111" stroke-width="0.8"/>
<line x1="649.5" y1="159.8" x2="652.5" y2="159.8" stroke="#111" stroke-width="0.8"/>
<rect x="647.7" y="164.2" width="6.6" height="25.4" fill="#f98181" stroke="#151515" stroke-width="0.75"/>
<line x1="664.25" y1="185.4" x2="664.25" y2="186.1" stroke="#111" stroke-width="0.8"/>
<line x1="662.75" y1="185.4" x2="665.75" y2="185.4" stroke="#111" stroke-width="0.8"/>
<rect x="661" y="186.1" width="6.5" height="3.5" fill="#539df8" stroke="#151515" stroke-width="0.75"/>
<line x1="670.75" y1="185" x2="670.75" y2="185.7" stroke="#111" stroke-width="0.8"/>
<line x1="669.25" y1="185" x2="672.25" y2="185" stroke="#111" stroke-width="0.8"/>
<rect x="667.5" y="185.7" width="6.5" height="3.9" fill="#f98181" stroke="#151515" stroke-width="0.75"/>
<line x1="616.2" y1="130.2" x2="616.2" y2="189.6" stroke="#000" stroke-width="1"/>
<line x1="616.2" y1="189.6" x2="677.1" y2="189.6" stroke="#000" stroke-width="1"/>
<path d="M631.60 132.55L632.20 134.17L633.93 134.24L632.58 135.32L633.04 136.98L631.60 136.03L630.16 136.98L630.62 135.32L629.27 134.24L631.00 134.17Z" fill="#111"/>
<path d="M651.20 152.45L651.80 154.07L653.53 154.14L652.18 155.22L652.64 156.88L651.20 155.93L649.76 156.88L650.22 155.22L648.87 154.14L650.60 154.07Z" fill="#111"/>
<rect x="625.4" y="127" width="7" height="2.6" fill="#539df8" stroke="#1a1a1a" stroke-width="0.5"/>
<text x="635" y="128.5" font-size="3.81" font-weight="bold" stroke="#111" stroke-width="0.1" fill="#111" textLength="5.5" lengthAdjust="spacingAndGlyphs" dominant-baseline="central">NC</text>
<rect x="645.2" y="127" width="6.5" height="2.6" fill="#f98181" stroke="#1a1a1a" stroke-width="0.5"/>
<text x="655.2" y="128.5" font-size="4.48" font-weight="bold" stroke="#111" stroke-width="0.11" fill="#111" textLength="18.4" lengthAdjust="spacingAndGlyphs" dominant-baseline="central">si-RHOB</text>
<line x1="628.4" y1="189.6" x2="628.4" y2="191" stroke="#000" stroke-width="0.6"/>
<text x="628.4" y="196.75" font-size="4.8" font-weight="bold" fill="#111" stroke="#111" stroke-width="0.12" text-anchor="middle">G<tspan font-size="3.1" dy="1">0</tspan><tspan font-size="4.8" dy="-1">/G</tspan><tspan font-size="3.1" dy="1">1</tspan></text>
<line x1="647.7" y1="189.6" x2="647.7" y2="191" stroke="#000" stroke-width="0.6"/>
<text x="647.7" y="195.2" font-size="4.8" text-anchor="middle" font-weight="bold" stroke="#111" stroke-width="0.12" fill="#111" dominant-baseline="central">S</text>
<line x1="667.5" y1="189.6" x2="667.5" y2="191" stroke="#000" stroke-width="0.6"/>
<text x="667.5" y="196.75" font-size="4.8" font-weight="bold" fill="#111" stroke="#111" stroke-width="0.12" text-anchor="middle">G<tspan font-size="3.1" dy="1">2</tspan><tspan font-size="4.8" dy="-1">/M</tspan></text>
<text x="607" y="160.7" font-size="5.3" text-anchor="middle" font-weight="bold" stroke="#222" stroke-width="0.13" fill="#222" textLength="59" lengthAdjust="spacingAndGlyphs" transform="rotate(-90 607 160.7)" dominant-baseline="central">Percentage of cells (%)</text>
<text x="221.1" y="208.4" font-size="7.5" text-anchor="middle" font-weight="bold" stroke="#000" stroke-width="0.16" dominant-baseline="central">g</text>
<line x1="236.1" y1="287.1" x2="237.4" y2="287.1" stroke="#000" stroke-width="0.6"/>
<text x="235.6" y="287.1" font-size="3.9" text-anchor="end" fill="#333" dominant-baseline="central">0.0</text>
<line x1="236.1" y1="274.6" x2="237.4" y2="274.6" stroke="#000" stroke-width="0.6"/>
<text x="235.6" y="274.6" font-size="3.9" text-anchor="end" fill="#333" dominant-baseline="central">0.4</text>
<line x1="236.1" y1="262.1" x2="237.4" y2="262.1" stroke="#000" stroke-width="0.6"/>
<text x="235.6" y="262.1" font-size="3.9" text-anchor="end" fill="#333" dominant-baseline="central">0.8</text>
<line x1="236.1" y1="249.6" x2="237.4" y2="249.6" stroke="#000" stroke-width="0.6"/>
<text x="235.6" y="249.6" font-size="3.9" text-anchor="end" fill="#333" dominant-baseline="central">1.2</text>
<line x1="236.1" y1="237.1" x2="237.4" y2="237.1" stroke="#000" stroke-width="0.6"/>
<text x="235.6" y="237.1" font-size="3.9" text-anchor="end" fill="#333" dominant-baseline="central">1.6</text>
<line x1="237.4" y1="287.1" x2="237.4" y2="288.4" stroke="#000" stroke-width="0.6"/>
<text x="237.4" y="291.2" font-size="3.9" text-anchor="middle" fill="#333" dominant-baseline="central">0</text>
<line x1="256.2" y1="287.1" x2="256.2" y2="288.4" stroke="#000" stroke-width="0.6"/>
<text x="256.2" y="291.2" font-size="3.9" text-anchor="middle" fill="#333" dominant-baseline="central">2</text>
<line x1="274.9" y1="287.1" x2="274.9" y2="288.4" stroke="#000" stroke-width="0.6"/>
<text x="274.9" y="291.2" font-size="3.9" text-anchor="middle" fill="#333" dominant-baseline="central">4</text>
<line x1="293.5" y1="287.1" x2="293.5" y2="288.4" stroke="#000" stroke-width="0.6"/>
<text x="293.5" y="291.2" font-size="3.9" text-anchor="middle" fill="#333" dominant-baseline="central">6</text>
<line x1="237.4" y1="236.5" x2="237.4" y2="287.1" stroke="#000" stroke-width="1.2"/>
<line x1="237.4" y1="287.1" x2="294.5" y2="287.1" stroke="#000" stroke-width="1.3"/>
<polyline points="237.4,279.2 256.2,276.6 274.9,271.5 293.5,252.2" fill="none" stroke="#111" stroke-width="0.85"/>
<polyline points="237.4,279.2 256.2,275.7 274.9,269.2 293.5,242.9" fill="none" stroke="#111" stroke-width="0.85"/>
<rect x="236.6" y="278.4" width="1.6" height="1.6" fill="#4a6cf5"/>
<rect x="255.4" y="275.8" width="1.6" height="1.6" fill="#4a6cf5"/>
<rect x="274.1" y="270.7" width="1.6" height="1.6" fill="#4a6cf5"/>
<rect x="292.7" y="251.4" width="1.6" height="1.6" fill="#4a6cf5"/>
<circle cx="237.4" cy="279.2" r="0.85" fill="#f05050"/>
<circle cx="256.2" cy="275.7" r="0.85" fill="#f05050"/>
<circle cx="274.9" cy="269.2" r="0.85" fill="#f05050"/>
<circle cx="293.5" cy="242.9" r="0.85" fill="#f05050"/>
<path d="M253.30 269.15L253.61 269.98L254.49 270.01L253.80 270.56L254.03 271.41L253.30 270.92L252.57 271.41L252.80 270.56L252.11 270.01L252.99 269.98ZM255.80 269.15L256.11 269.98L256.99 270.01L256.30 270.56L256.53 271.41L255.80 270.92L255.07 271.41L255.30 270.56L254.61 270.01L255.49 269.98ZM258.30 269.15L258.61 269.98L259.49 270.01L258.80 270.56L259.03 271.41L258.30 270.92L257.57 271.41L257.80 270.56L257.11 270.01L257.99 269.98Z" fill="#222"/>
<path d="M270.30 261.85L270.61 262.68L271.49 262.71L270.80 263.26L271.03 264.11L270.30 263.62L269.57 264.11L269.80 263.26L269.11 262.71L269.99 262.68ZM272.80 261.85L273.11 262.68L273.99 262.71L273.30 263.26L273.53 264.11L272.80 263.62L272.07 264.11L272.30 263.26L271.61 262.71L272.49 262.68ZM275.30 261.85L275.61 262.68L276.49 262.71L275.80 263.26L276.03 264.11L275.30 263.62L274.57 264.11L274.80 263.26L274.11 262.71L274.99 262.68Z" fill="#222"/>
<path d="M290.50 235.85L290.81 236.68L291.69 236.71L291.00 237.26L291.23 238.11L290.50 237.62L289.77 238.11L290.00 237.26L289.31 236.71L290.19 236.68ZM293.00 235.85L293.31 236.68L294.19 236.71L293.50 237.26L293.73 238.11L293.00 237.62L292.27 238.11L292.50 237.26L291.81 236.71L292.69 236.68ZM295.50 235.85L295.81 236.68L296.69 236.71L296.00 237.26L296.23 238.11L295.50 237.62L294.77 238.11L295.00 237.26L294.31 236.71L295.19 236.68Z" fill="#222"/>
<line x1="243" y1="232.8" x2="247.5" y2="232.8" stroke="#4a6cf5" stroke-width="0.8"/>
<rect x="244.55" y="232.1" width="1.4" height="1.4" fill="#4a6cf5"/>
<text x="250" y="232.8" font-size="4.3" font-weight="bold" stroke="#000" stroke-width="0.11" textLength="7" lengthAdjust="spacingAndGlyphs" dominant-baseline="central">NC</text>
<line x1="261.4" y1="232.8" x2="265.5" y2="232.8" stroke="#f05050" stroke-width="0.8"/>
<circle cx="263.45" cy="232.8" r="0.8" fill="#f05050"/>
<text x="266.7" y="232.8" font-size="4.3" font-weight="bold" stroke="#000" stroke-width="0.11" textLength="20.1" lengthAdjust="spacingAndGlyphs" dominant-baseline="central">siRHOB</text>
<text x="265.8" y="222.4" font-size="7.3" text-anchor="middle" font-weight="bold" stroke="#000" stroke-width="0.16" textLength="29.8" lengthAdjust="spacingAndGlyphs" dominant-baseline="central">MNC-MK</text>
<text x="266.7" y="298.1" font-size="4.6" text-anchor="middle" font-weight="bold" stroke="#000" stroke-width="0.11" textLength="26" lengthAdjust="spacingAndGlyphs" dominant-baseline="central">Time (Day)</text>
<text x="223.8" y="264.4" font-size="4.3" text-anchor="middle" font-weight="bold" stroke="#000" stroke-width="0.11" textLength="58.7" lengthAdjust="spacingAndGlyphs" transform="rotate(-90 223.8 264.4)" dominant-baseline="central">Absorbance (OD value)</text>
<text x="303.5" y="207.9" font-size="7.5" text-anchor="middle" font-weight="bold" stroke="#000" stroke-width="0.16" dominant-baseline="central">h</text>
<line x1="315.7" y1="286.7" x2="317" y2="286.7" stroke="#000" stroke-width="0.6"/>
<text x="315.2" y="286.7" font-size="3.9" text-anchor="end" fill="#333" dominant-baseline="central">0.0</text>
<line x1="315.7" y1="277.8" x2="317" y2="277.8" stroke="#000" stroke-width="0.6"/>
<text x="315.2" y="277.8" font-size="3.9" text-anchor="end" fill="#333" dominant-baseline="central">0.3</text>
<line x1="315.7" y1="268.9" x2="317" y2="268.9" stroke="#000" stroke-width="0.6"/>
<text x="315.2" y="268.9" font-size="3.9" text-anchor="end" fill="#333" dominant-baseline="central">0.6</text>
<line x1="315.7" y1="260" x2="317" y2="260" stroke="#000" stroke-width="0.6"/>
<text x="315.2" y="260" font-size="3.9" text-anchor="end" fill="#333" dominant-baseline="central">0.9</text>
<line x1="315.7" y1="251.1" x2="317" y2="251.1" stroke="#000" stroke-width="0.6"/>
<text x="315.2" y="251.1" font-size="3.9" text-anchor="end" fill="#333" dominant-baseline="central">1.2</text>
<line x1="315.7" y1="242.2" x2="317" y2="242.2" stroke="#000" stroke-width="0.6"/>
<text x="315.2" y="242.2" font-size="3.9" text-anchor="end" fill="#333" dominant-baseline="central">1.5</text>
<line x1="315.7" y1="233.3" x2="317" y2="233.3" stroke="#000" stroke-width="0.6"/>
<text x="315.2" y="233.3" font-size="3.9" text-anchor="end" fill="#333" dominant-baseline="central">1.8</text>
<line x1="317" y1="286.7" x2="317" y2="288" stroke="#000" stroke-width="0.6"/>
<text x="317" y="290.8" font-size="3.9" text-anchor="middle" fill="#333" dominant-baseline="central">0</text>
<line x1="328.9" y1="286.7" x2="328.9" y2="288" stroke="#000" stroke-width="0.6"/>
<text x="328.9" y="290.8" font-size="3.9" text-anchor="middle" fill="#333" dominant-baseline="central">1</text>
<line x1="340.8" y1="286.7" x2="340.8" y2="288" stroke="#000" stroke-width="0.6"/>
<text x="340.8" y="290.8" font-size="3.9" text-anchor="middle" fill="#333" dominant-baseline="central">2</text>
<line x1="352.6" y1="286.7" x2="352.6" y2="288" stroke="#000" stroke-width="0.6"/>
<text x="352.6" y="290.8" font-size="3.9" text-anchor="middle" fill="#333" dominant-baseline="central">3</text>
<line x1="364.5" y1="286.7" x2="364.5" y2="288" stroke="#000" stroke-width="0.6"/>
<text x="364.5" y="290.8" font-size="3.9" text-anchor="middle" fill="#333" dominant-baseline="central">4</text>
<line x1="376.6" y1="286.7" x2="376.6" y2="288" stroke="#000" stroke-width="0.6"/>
<text x="376.6" y="290.8" font-size="3.9" text-anchor="middle" fill="#333" dominant-baseline="central">5</text>
<line x1="317" y1="232.8" x2="317" y2="286.7" stroke="#000" stroke-width="1.2"/>
<line x1="317" y1="286.7" x2="377.6" y2="286.7" stroke="#000" stroke-width="1.3"/>
<polyline points="328.9,277.1 340.8,273.9 352.6,263.4 364.5,253.4 376.6,250.8" fill="none" stroke="#111" stroke-width="0.85"/>
<polyline points="328.9,277.1 340.8,273.9 352.6,266.2 364.5,256.6 376.6,252.9" fill="none" stroke="#111" stroke-width="0.85"/>
<rect x="328.1" y="276.3" width="1.6" height="1.6" fill="#4a6cf5"/>
<rect x="340" y="273.1" width="1.6" height="1.6" fill="#4a6cf5"/>
<rect x="351.8" y="262.6" width="1.6" height="1.6" fill="#4a6cf5"/>
<rect x="363.7" y="252.6" width="1.6" height="1.6" fill="#4a6cf5"/>
<rect x="375.8" y="250" width="1.6" height="1.6" fill="#4a6cf5"/>
<circle cx="328.9" cy="277.1" r="0.85" fill="#f05050"/>
<circle cx="340.8" cy="273.9" r="0.85" fill="#f05050"/>
<circle cx="352.6" cy="266.2" r="0.85" fill="#f05050"/>
<circle cx="364.5" cy="256.6" r="0.85" fill="#f05050"/>
<circle cx="376.6" cy="252.9" r="0.85" fill="#f05050"/>
<path d="M339.05 265.35L339.36 266.18L340.24 266.21L339.55 266.76L339.78 267.61L339.05 267.12L338.32 267.61L338.55 266.76L337.86 266.21L338.74 266.18ZM341.55 265.35L341.86 266.18L342.74 266.21L342.05 266.76L342.28 267.61L341.55 267.12L340.82 267.61L341.05 266.76L340.36 266.21L341.24 266.18Z" fill="#222"/>
<path d="M352.00 256.95L352.31 257.78L353.19 257.81L352.50 258.36L352.73 259.21L352.00 258.72L351.27 259.21L351.50 258.36L350.81 257.81L351.69 257.78Z" fill="#222"/>
<path d="M364.50 246.95L364.81 247.78L365.69 247.81L365.00 248.36L365.23 249.21L364.50 248.72L363.77 249.21L364.00 248.36L363.31 247.81L364.19 247.78Z" fill="#222"/>
<path d="M375.70 244.65L376.01 245.48L376.89 245.51L376.20 246.06L376.43 246.91L375.70 246.43L374.97 246.91L375.20 246.06L374.51 245.51L375.39 245.48Z" fill="#222"/>
<line x1="324.5" y1="232.8" x2="328.9" y2="232.8" stroke="#4a6cf5" stroke-width="0.8"/>
<rect x="326" y="232.1" width="1.4" height="1.4" fill="#4a6cf5"/>
<text x="330.1" y="232.8" font-size="4.3" font-weight="bold" stroke="#000" stroke-width="0.11" textLength="7.6" lengthAdjust="spacingAndGlyphs" dominant-baseline="central">NC</text>
<line x1="342.9" y1="232.8" x2="347.3" y2="232.8" stroke="#f05050" stroke-width="0.8"/>
<circle cx="345.1" cy="232.8" r="0.8" fill="#f05050"/>
<text x="348.2" y="232.8" font-size="4.3" font-weight="bold" stroke="#000" stroke-width="0.11" textLength="21" lengthAdjust="spacingAndGlyphs" dominant-baseline="central">siRHOB</text>
<text x="350.45" y="222.4" font-size="7.3" text-anchor="middle" font-weight="bold" stroke="#000" stroke-width="0.16" textLength="35.1" lengthAdjust="spacingAndGlyphs" dominant-baseline="central">MNC-RBC</text>
<text x="347.3" y="299.3" font-size="4.6" text-anchor="middle" font-weight="bold" stroke="#000" stroke-width="0.11" textLength="26" lengthAdjust="spacingAndGlyphs" dominant-baseline="central">Time (Day)</text>
<text x="304.9" y="262" font-size="4.3" text-anchor="middle" font-weight="bold" stroke="#000" stroke-width="0.11" textLength="57" lengthAdjust="spacingAndGlyphs" transform="rotate(-90 304.9 262)" dominant-baseline="central">Absorbance (OD value)</text>
<text x="384.9" y="207.9" font-size="7.5" text-anchor="middle" font-weight="bold" stroke="#000" stroke-width="0.16" dominant-baseline="central">i</text>
<line x1="400.2" y1="285.9" x2="401.5" y2="285.9" stroke="#000" stroke-width="0.6"/>
<text x="399.7" y="285.9" font-size="3.9" text-anchor="end" fill="#333" dominant-baseline="central">0.0</text>
<line x1="400.2" y1="276.36" x2="401.5" y2="276.36" stroke="#000" stroke-width="0.6"/>
<text x="399.7" y="276.36" font-size="3.9" text-anchor="end" fill="#333" dominant-baseline="central">0.2</text>
<line x1="400.2" y1="266.82" x2="401.5" y2="266.82" stroke="#000" stroke-width="0.6"/>
<text x="399.7" y="266.82" font-size="3.9" text-anchor="end" fill="#333" dominant-baseline="central">0.4</text>
<line x1="400.2" y1="257.28" x2="401.5" y2="257.28" stroke="#000" stroke-width="0.6"/>
<text x="399.7" y="257.28" font-size="3.9" text-anchor="end" fill="#333" dominant-baseline="central">0.6</text>
<line x1="400.2" y1="247.74" x2="401.5" y2="247.74" stroke="#000" stroke-width="0.6"/>
<text x="399.7" y="247.74" font-size="3.9" text-anchor="end" fill="#333" dominant-baseline="central">0.8</text>
<line x1="400.2" y1="238.2" x2="401.5" y2="238.2" stroke="#000" stroke-width="0.6"/>
<text x="399.7" y="238.2" font-size="3.9" text-anchor="end" fill="#333" dominant-baseline="central">1.0</text>
<line x1="401.5" y1="285.9" x2="401.5" y2="287.2" stroke="#000" stroke-width="0.6"/>
<text x="401.5" y="290" font-size="3.9" text-anchor="middle" fill="#333" dominant-baseline="central">0</text>
<line x1="419.5" y1="285.9" x2="419.5" y2="287.2" stroke="#000" stroke-width="0.6"/>
<text x="419.5" y="290" font-size="3.9" text-anchor="middle" fill="#333" dominant-baseline="central">1</text>
<line x1="437.3" y1="285.9" x2="437.3" y2="287.2" stroke="#000" stroke-width="0.6"/>
<text x="437.3" y="290" font-size="3.9" text-anchor="middle" fill="#333" dominant-baseline="central">2</text>
<line x1="454.8" y1="285.9" x2="454.8" y2="287.2" stroke="#000" stroke-width="0.6"/>
<text x="454.8" y="290" font-size="3.9" text-anchor="middle" fill="#333" dominant-baseline="central">3</text>
<line x1="401.5" y1="237.6" x2="401.5" y2="285.9" stroke="#000" stroke-width="1.2"/>
<line x1="401.5" y1="285.9" x2="455.6" y2="285.9" stroke="#000" stroke-width="1.3"/>
<polyline points="401.5,280.6 419.5,277.5 437.3,263.9 454.8,242.4" fill="none" stroke="#111" stroke-width="0.85"/>
<polyline points="401.5,280.6 419.5,277.5 437.3,266.9 454.8,248.8" fill="none" stroke="#111" stroke-width="0.85"/>
<rect x="400.7" y="279.8" width="1.6" height="1.6" fill="#4a6cf5"/>
<rect x="418.7" y="276.7" width="1.6" height="1.6" fill="#4a6cf5"/>
<rect x="436.5" y="263.1" width="1.6" height="1.6" fill="#4a6cf5"/>
<rect x="454" y="241.6" width="1.6" height="1.6" fill="#4a6cf5"/>
<circle cx="401.5" cy="280.6" r="0.85" fill="#f05050"/>
<circle cx="419.5" cy="277.5" r="0.85" fill="#f05050"/>
<circle cx="437.3" cy="266.9" r="0.85" fill="#f05050"/>
<circle cx="454.8" cy="248.8" r="0.85" fill="#f05050"/>
<path d="M418.05 270.55L418.36 271.38L419.24 271.41L418.55 271.96L418.78 272.81L418.05 272.32L417.32 272.81L417.55 271.96L416.86 271.41L417.74 271.38ZM420.55 270.55L420.86 271.38L421.74 271.41L421.05 271.96L421.28 272.81L420.55 272.32L419.82 272.81L420.05 271.96L419.36 271.41L420.24 271.38Z" fill="#222"/>
<path d="M435.65 257.65L435.96 258.48L436.84 258.51L436.15 259.06L436.38 259.91L435.65 259.42L434.92 259.91L435.15 259.06L434.46 258.51L435.34 258.48ZM438.15 257.65L438.46 258.48L439.34 258.51L438.65 259.06L438.88 259.91L438.15 259.42L437.42 259.91L437.65 259.06L436.96 258.51L437.84 258.48Z" fill="#222"/>
<path d="M452.30 234.95L452.61 235.78L453.49 235.81L452.80 236.36L453.03 237.21L452.30 236.72L451.57 237.21L451.80 236.36L451.11 235.81L451.99 235.78ZM454.80 234.95L455.11 235.78L455.99 235.81L455.30 236.36L455.53 237.21L454.80 236.72L454.07 237.21L454.30 236.36L453.61 235.81L454.49 235.78ZM457.30 234.95L457.61 235.78L458.49 235.81L457.80 236.36L458.03 237.21L457.30 236.72L456.57 237.21L456.80 236.36L456.11 235.81L456.99 235.78Z" fill="#222"/>
<line x1="407" y1="232.9" x2="410.6" y2="232.9" stroke="#4a6cf5" stroke-width="0.8"/>
<rect x="408.1" y="232.2" width="1.4" height="1.4" fill="#4a6cf5"/>
<text x="411.6" y="232.9" font-size="4.3" font-weight="bold" stroke="#000" stroke-width="0.11" textLength="7.7" lengthAdjust="spacingAndGlyphs" dominant-baseline="central">NC</text>
<line x1="421.5" y1="232.9" x2="424.8" y2="232.9" stroke="#f05050" stroke-width="0.8"/>
<circle cx="423.15" cy="232.9" r="0.8" fill="#f05050"/>
<text x="425.9" y="232.9" font-size="4.3" font-weight="bold" stroke="#000" stroke-width="0.11" textLength="20.2" lengthAdjust="spacingAndGlyphs" dominant-baseline="central">siRHOB</text>
<text x="429.45" y="221.7" font-size="7.3" text-anchor="middle" font-weight="bold" stroke="#000" stroke-width="0.16" textLength="34.9" lengthAdjust="spacingAndGlyphs" dominant-baseline="central">K562-CON</text>
<text x="432" y="299.7" font-size="4.6" text-anchor="middle" font-weight="bold" stroke="#000" stroke-width="0.11" textLength="27" lengthAdjust="spacingAndGlyphs" dominant-baseline="central">Time (Day)</text>
<text x="387.2" y="262.6" font-size="4.3" text-anchor="middle" font-weight="bold" stroke="#000" stroke-width="0.11" textLength="60.6" lengthAdjust="spacingAndGlyphs" transform="rotate(-90 387.2 262.6)" dominant-baseline="central">Absorbance (OD value)</text>
<text x="458.4" y="207.9" font-size="7.5" text-anchor="middle" font-weight="bold" stroke="#000" stroke-width="0.16" dominant-baseline="central">j</text>
<text x="610" y="207.9" font-size="7.2" text-anchor="middle" font-weight="bold" stroke="#000" stroke-width="0.16" textLength="35" lengthAdjust="spacingAndGlyphs" dominant-baseline="central">K562-RBC</text>
<text x="506.4" y="225.4" font-size="5" text-anchor="middle" font-weight="bold" stroke="#000" stroke-width="0.12" dominant-baseline="central">NC</text>
<text x="571.4" y="225.4" font-size="5.4" text-anchor="middle" font-weight="bold" stroke="#000" stroke-width="0.14" textLength="20.5" lengthAdjust="spacingAndGlyphs" dominant-baseline="central">siRHOB</text>
<rect x="476.3" y="229.4" width="56.4" height="56.4" fill="#fff" stroke="#b0b0b0" stroke-width="0.5"/>
<line x1="476.3" y1="229.4" x2="476.3" y2="285.8" stroke="#444" stroke-width="0.5"/>
<line x1="476.3" y1="285.8" x2="532.7" y2="285.8" stroke="#444" stroke-width="0.5"/>
<path d="M475.5 231.28h.8M475.5 233.16h.8M475.5 235.04h.8M475.5 236.92h.8M475.5 238.8h.8M475.5 240.68h.8M475.5 242.56h.8M475.5 244.44h.8M475.5 246.32h.8M475.5 248.2h.8M475.5 250.08h.8M475.5 251.96h.8M475.5 253.84h.8M475.5 255.72h.8M475.5 257.6h.8M475.5 259.48h.8M475.5 261.36h.8M475.5 263.24h.8M475.5 265.12h.8M475.5 267h.8M475.5 268.88h.8M475.5 270.76h.8M475.5 272.64h.8M475.5 274.52h.8M475.5 276.4h.8M475.5 278.28h.8M475.5 280.16h.8M475.5 282.04h.8M475.5 283.92h.8M476.3 285.8v.8M479.12 285.8v.8M481.94 285.8v.8M484.76 285.8v.8M487.58 285.8v.8M490.4 285.8v.8M493.22 285.8v.8M496.04 285.8v.8M498.86 285.8v.8M501.68 285.8v.8M504.5 285.8v.8M507.32 285.8v.8M510.14 285.8v.8M512.96 285.8v.8M515.78 285.8v.8M518.6 285.8v.8M521.42 285.8v.8M524.24 285.8v.8M527.06 285.8v.8M529.88 285.8v.8M532.7 285.8v.8" fill="none" stroke="#666" stroke-width="0.3"/>
<line x1="474.7" y1="232.61" x2="476.3" y2="232.61" stroke="#444" stroke-width="0.4"/>
<text x="474.4" y="232.61" font-size="2.6" text-anchor="end" fill="#333" dominant-baseline="central">10⁵</text>
<line x1="474.7" y1="244.23" x2="476.3" y2="244.23" stroke="#444" stroke-width="0.4"/>
<text x="474.4" y="244.23" font-size="2.6" text-anchor="end" fill="#333" dominant-baseline="central">10⁴</text>
<line x1="474.7" y1="258.39" x2="476.3" y2="258.39" stroke="#444" stroke-width="0.4"/>
<text x="474.4" y="258.39" font-size="2.6" text-anchor="end" fill="#333" dominant-baseline="central">10³</text>
<line x1="474.7" y1="273.73" x2="476.3" y2="273.73" stroke="#444" stroke-width="0.4"/>
<text x="474.4" y="273.73" font-size="2.6" text-anchor="end" fill="#333" dominant-baseline="central">10²</text>
<line x1="474.7" y1="278.3" x2="476.3" y2="278.3" stroke="#444" stroke-width="0.4"/>
<text x="474.4" y="278.3" font-size="2.6" text-anchor="end" fill="#333" dominant-baseline="central">0</text>
<line x1="474.7" y1="283.43" x2="476.3" y2="283.43" stroke="#444" stroke-width="0.4"/>
<text x="474.4" y="283.43" font-size="2.6" text-anchor="end" fill="#333" dominant-baseline="central">-10²</text>
<line x1="477.54" y1="285.8" x2="477.54" y2="287.3" stroke="#444" stroke-width="0.4"/>
<text x="477.54" y="289.2" font-size="2.5" text-anchor="middle" fill="#333" dominant-baseline="central">0</text>
<line x1="487.58" y1="285.8" x2="487.58" y2="287.3" stroke="#444" stroke-width="0.4"/>
<text x="487.58" y="289.2" font-size="2.5" text-anchor="middle" fill="#333" dominant-baseline="central">20K</text>
<line x1="498.86" y1="285.8" x2="498.86" y2="287.3" stroke="#444" stroke-width="0.4"/>
<text x="498.86" y="289.2" font-size="2.5" text-anchor="middle" fill="#333" dominant-baseline="central">40K</text>
<line x1="509.8" y1="285.8" x2="509.8" y2="287.3" stroke="#444" stroke-width="0.4"/>
<text x="509.8" y="289.2" font-size="2.5" text-anchor="middle" fill="#333" dominant-baseline="central">60K</text>
<line x1="520.86" y1="285.8" x2="520.86" y2="287.3" stroke="#444" stroke-width="0.4"/>
<text x="520.86" y="289.2" font-size="2.5" text-anchor="middle" fill="#333" dominant-baseline="central">80K</text>
<line x1="529.77" y1="285.8" x2="529.77" y2="287.3" stroke="#444" stroke-width="0.4"/>
<text x="529.77" y="289.2" font-size="2.5" text-anchor="middle" fill="#333" dominant-baseline="central">100K</text>
<clipPath id="cp1080"><rect x="476.6" y="229.7" width="55.8" height="55.8"/></clipPath><g clip-path="url(#cp1080)">
<ellipse cx="505" cy="253" rx="23" ry="16" fill="#5c74f4" opacity="0.45" filter="url(#bl2)"/>
<path d="M491.0 262.0h0m0.7 0.9h0m2.5-2.1h0m-1.9-5h0m2.7 2.7h0m-1.1 4.8h0m3.9 0.9h0m1.3-6.1h0m-2.4 8.7h0m-0.8-7.8h0m0 1.7h0m-3 4.6h0m1.3-6.3h0m-1.4 8.9h0m-0.5-3.7h0m3 1.4h0m-1.4-6.1h0m-1-0.3h0m9.5 3.6h0m-8.6 3.1h0m2.9-4.2h0m-0.1 1.3h0m1.5 4h0m-4.3-4.9h0m0.4 3.7h0m1.7-1.3h0m1.5-4.1h0m-2.3 5.8h0m2.4-1.6h0m-3.6-3.4h0m-1.7 0.2h0m2.4-3.3h0m3.6 1.9h0m-2.7 4h0m-2.4-7h0m4.5 6.4h0m-3.6 2.1h0m3.4-6.1h0m-2.9-2.3h0m-0.5 9.2h0m-1.7-1.7h0m-2-3.2h0m7.2 5.8h0m-1.4-2.8h0m3.7-9.3h0m-10.1 12.6h0m12.3-3.8h0m-7.1-0.9h0m-0.1-2.6h0m-0.1 1.4h0m2 2.4h0m0.9-0.3h0m-5.7 2.3h0m-5-3.7h0m8.8-1.8h0m4.5-1.7h0m-8.9 1.7h0m4.7 3.8h0m-0.9-0.4h0m-2.4-3.6h0m2.4-2.2h0m0.2 2.8h0m1.4-1.8h0m-3.5 1.3h0m0.5-1.3h0m0.3-1h0m2.3 5.9h0m-1.6-2.5h0m-2.5-2.3h0m1.9 0.2h0m-2.8 3.1h0m3.4-1.7h0m-2.3 1.1h0m0.3-1.1h0m2.6 3.3h0m1.7-3.9h0m1.3-1.5h0m-4.1 7.1h0m7.5-3.4h0m-8-1.5h0m-2.5 0.7h0m2.3-1.8h0m4.7 0h0m1.5 4.6h0m-3.1-4.1h0m-3.3-4.1h0m2.2 5h0m0.4-1.1h0m0.3-2.4h0m-7.8 5.7h0m9.5-10.5h0m0.6 8.1h0m-4.2-3.5h0m-2.5 6.6h0m0.8-2.2h0m1.7 5.9h0m3-9.6h0m-3.9 0.5h0m-2.7 1.3h0m7.2 2.1h0m-1.2-0.5h0m-3.2 0.6h0m1 5.4h0m5.5-4.5h0m-3.5-6.9h0m-2.1 12.7h0m-2-4.5h0m5.9-3.5h0m-4.2-0.2h0m3 1.4h0m2 3.3h0m-4.4 4.1h0m-0.9-9.3h0m0.3-0.7h0m-0.6 2.3h0m3.8-4.4h0m-6.6 2.4h0m3.2 3.5h0m-1.4 3.1h0m0.7-5h0m1.7 4h0m0.7-3.3h0m-2.4 0.4h0m2.7-1.5h0m-1.2-4.3h0m-1.5 8.7h0m5.7-3.6h0m-10.4 5.5h0m5.7 2.2h0m-0.7-4.6h0m2.7-8.1h0m17.1-14.2h0m1.3 22.8h0m-14.6-23.6h0m4.8 4.7h0m-17.1-3.8h0m16.8-2.7h0m8 11.4h0m-12.1 5.6h0m-7.2-4.2h0m-4.1-5.9h0m19.2-1.2h0m-7.3 6.9h0m15.8 3.8h0m-10.3-9.1h0m-18.3 11.5h0m32-22.5h0m-9.7 12.3h0m-1.6 2h0m-8.7-1.8h0m1.5 6.8h0m-2.1-10h0m8.8 7h0m-2.1-2.1h0m10 4.8h0m-12.2-7.7h0m4.4-9.7h0m-11.4 6.8h0m6.7 1.9h0m22 6.5h0m-19.8 8.8h0m-3.9-15h0m11.9 6.7h0m-3 2.3h0m-12.4-10.9h0m-3.4 4.4h0m16.5-6.7h0m-14.7-1.7h0m24.3 12.5h0m-17.1-11.8h0m-12 3.3h0m10.2-3.6h0m-2.5 14.5h0m2.3-6.5h0m-20.2-2.2h0m18.7-2.4h0m-11.9 3.6h0m3.5-2.8h0m-5.5 2.7h0m24-4.4h0m-5.6-4h0m2.5 12.1h0m-9.3 2h0m-4.7-4.9h0m24.6-0.4h0m-27 6.8h0m15.9-8.3h0m-22.6-9.4h0m2.9 19.7h0m17.4-13.7h0m8.3 13.6h0m-19.2-5.8h0m-7.7-0.6h0m33.2-10.5h0m-16.9 4.6h0m-1.4 4.2h0m3.6 4.7h0m2.2 0.9h0m4.8 0.3h0m-16.2-4h0m2.9-7.3h0m22.4 6.6h0m-18.4-14h0m-2.6 16.8h0m0.2-7.7h0m16.1 1.4h0m-17.3 1.2h0m0.9 6.8h0m7.8-6.6h0m-9-0.9h0m19.7-0.5h0m-9.9-7.4h0m-3.2 13.2h0m9.1-2.1h0m-6.7 0h0m4.7 10.1h0m-8.3-16.8h0m3.8 4.2h0m0.4 5.1h0m-4.6-7.1h0m1.4-4.7h0m-0.3 2.1h0m1.7 5.9h0m-6.4-7.7h0m2.6 3h0m-1.9 8.1h0m10.5-11.6h0m-0.1 15.5h0m1.8-6.4h0m-11.7 8.6h0m-2.2-19.1h0m4 10.6h0m-10.8-8.8h0m28.9 7.8h0m-11.5-4.1h0m-22 2.4h0m27.3-2.9h0m-29.9 2.9h0m14.4 1.1h0m-7.3-1.9h0m4.8 7h0m6.7-0.1h0m-2-17.6h0m-18.2 15.6h0m27.1 2h0m-9.1-15.6h0m-4 12.9h0m17.9-4.4h0m-18.6-2.5h0m15.2 9.6h0m-27.3 2h0m8.7-15.7h0m-6.4 4.3h0m37.4 19.3h0m-34.1-18.9h0m13.4 6.3h0m-6.1-11.7h0m0.7 5.3h0m-13.2 4.8h0m3.1-11h0m28.5 15.7h0m-0.6-4.8h0m-17.8-1.2h0m-9.2 4.8h0m15.7-6.1h0m-20.5 1.2h0m33.5 9.1h0m-7.2-10.6h0m-7.1 5.4h0m0.6 2.8h0m-8.3-19.7h0m-16.8 8.3h0m10 9.2h0m23.5-3.9h0m-5.1 0.5h0m-3.5-3.3h0m-5.6 9.8h0m1.3-7.2h0m14.1 6h0m-15.2-4.3h0m-6-0.7h0m12.7-0.8h0m-1.4 2.1h0m-25.8-6.9h0m24.9 1.9h0m-9.9 1.5h0m24.6 0.1h0m-21.6-1.5h0m-5.2 5.6h0m2 2.5h0m18.1-1.9h0m1.3-3.9h0m-26.8 0.1h0m22.9-8.7h0m-17.8 15.5h0m15.9 1.5h0m2.2-7.5h0m-2.3 4.6h0m-4.4-6.2h0m3.3-0.6h0m20.1-2.7h0m-37.6-3.1h0m24.6 5.2h0m-8.6 1.1h0m1.2-7.2h0m-1.9 5.1h0m9.6 7.1h0m-22.5-9.4h0m17.6 12.7h0m1.9-7.9h0m3.3-12.9h0m-15.8 8.1h0m-4.8 9h0m12.6-1.6h0m-3.9 1.9h0m8.8-7h0m1.4-2h0m8-2.2h0m-19.7 1.2h0m3.1 14.1h0m-7.6 2.7h0m20.8-8.1h0m-19.2 3h0m14.9-5.5h0m14.7-3.8h0m-36.8 2.7h0m18.4 11.3h0m-22.6-9.1h0m29.2-4.9h0m-16.6-3.1h0m11.8 12h0m-1.7-3.5h0m3.9-2.1h0m-2.6 5.5h0m5.6-1.8h0m-11.7 1.2h0m-15.9-14.6h0m30.7 11.2h0m-25.9-4.2h0m8.8 3.8h0m-6 5.5h0m-9.1 10.6h0m6-6.7h0m17-19.7h0m-18.3 10.3h0m14.5-2.9h0m-2.5 3.5h0m-11.3-0.6h0m33.2-4.2h0m-31.9 7.7h0m22.9 2.3h0m-19.2-6.6h0m8.1-0.8h0m1.9 7.6h0m1.5-6.5h0m-7.3 10.7h0m-10.1 1.2h0m19.2-11.3h0m-14.4 10.3h0m19.1-5.4h0m8.5-16h0m-19.4 8.8h0m-8.1 2.2h0m12.4 2.7h0m-6.6-10.9h0m6.8 11.4h0m15.3 1.9h0m-20.6-12.3h0m26.5 2.8h0m-24.7 8.4h0m3 3.5h0m-15.1-12h0m11.8-3.2h0m-7.7 15.5h0m8.9-8.8h0m-8.5 0.9h0m5.3-6.7h0m8.1-1.2h0m4.8 5.6h0m-35-7.2h0m25.3 4.1h0m15 13.3h0m2.9-2.9h0m-7.5-8.9h0m-0.4 1h0m-13.4-5.5h0m1.1 10.5h0m-1.2-9h0m9.6 12h0m-9.8-0.7h0m10.6-10.5h0m-10.1-5.3h0m-9.9 13.6h0m1.5-0.2h0m12.3-14.6h0m-8.4 21.3h0m5-8.3h0m-7.2-10.2h0m-8.7 26.6h0m13.9-22.3h0m2.9-6.3h0m12.8 21.7h0m-21.3-8.3h0m-1.5 3.2h0m0.6-6h0m21.3 4h0m-16.2-12.2h0m-12.6 16.3h0m20.9-6.9h0m7.4 0.6h0m-19.7-1.5h0m6.3 0.5h0m25.8 3.6h0m-22.1-5h0m-9.5-4.4h0m-12 3.2h0m3.6-8.4h0m5.8-1h0m23 19.6h0m-23.3 4.7h0m16.2-27.3h0m-6.4 9.1h0m-17.6 4.4h0m28.9 4.3h0m-26.1-6.7h0m7 10.9h0m6.6-12.8h0m-8.1-5.9h0m0.7 17.2h0m3.1 5.1h0m14.4 1.5h0m-8.3 0.3h0m21.6 3.4h0m-25.5-5.8h0m11.4 0.4h0m-6.2 1.8h0m26.7 1.7h0m-26.5-5.2h0m13.5 1.7h0m-11.9 2.8h0m10.2-0.5h0m-5.5 0.6h0m-2.4-6h0m3.7-0.7h0m10.1 5.3h0m-23.5-1.4h0m20.3-1.3h0m-3.5-0.6h0m-3.9 1.3h0m4.4-2.2h0m-12.9 3.2h0m5 0.5h0m0-4.6h0m10 4h0m-0.1-1.5h0m-8.7 4h0m-10.7 1.2h0m17.7-4.5h0m-3.4 1.6h0m-6.9-0.8h0m-1.5-5.3h0m9.3 4.8h0m3.6 1.2h0m0.4 0.6h0m-14.1 1h0m-1.7-1.3h0m17.5 0.8h0m5-6h0m-9.3 4.7h0m7-3.4h0m-9.9 1.3h0m-1.5 0.5h0m0.1-4h0m0.9 4.6h0m-2.8-9.1h0m-2.4 7.3h0m-1.5 5.6h0m14.5-4.5h0m-2.6 8.8h0m-12.7-7.1h0m3 2.5h0m13.7-4h0m-3.9-1.7h0m-17.7 4.1h0m25.9-2.9h0m-17.4-3.7h0m21.5 1.5h0m-25.1 2.5h0m17.6 0.6h0m-9.9 0h0m7-0.2h0m-5.6-0.1h0m-10.2 3.6h0m3.3-6.7h0m2.1 3.4h0m10.1-3.8h0m-16.8 4.1h0m13.3-3.2h0m-12.2 3.2h0m8-4.5h0m-5.9 7.8h0m-1.5-1.1h0m-3.8 1.1h0m25.2-5.3h0m-18.4 3.2h0m-4.5-0.2h0m19.8-0.7h0m-7.2-1.1h0m5.5-1.7h0m4.7 2h0m-15.4-4h0m-0.9 4.7h0m13.5-4.7h0m-11 2.4h0m-8.6 1.7h0m3.5 2.2h0m-15.6-0.3h0m6.4-6.8h0m19.5 4h0m-3.2-1.5h0m-9.4 0.6h0m8-0.3h0m-3-0.1h0m5.3-0.7h0m-18.6-3.7h0m16.6 6.8h0m7.8-2.1h0m-16.9-1.8h0m25.3-10.3h0m1.8 4.4h0m-10.1-14.3h0m-3.2 21.2h0m0.5-0.9h0m-8.3 2.8h0m15.8-18.1h0m-6.8 4.6h0m5.7-10.9h0m-8.4 22.6h0m8.1-0.4h0m5.7-15.2h0m-17.7 12.9h0m11.1-3.1h0m-6.8 7.6h0m10.5 1h0m-6.8-3.6h0m2.3-13.2h0m-0.1-5.7h0m-0.8 14.7h0m7-9.9h0m-16.3 2.6h0m-5.9 0.7h0m10.5-0.3h0m5.2 4.9h0m-5-5.2h0m-7.6-0.9h0m11.2 12.4h0m6-4.8h0m-4.8 8.9h0m5.7-11.6h0m-6.5 9.3h0m-2.9-13.3h0m2.6 1.8h0m1.5-0.2h0m-1-0.2h0m-0.6 5.9h0m8.6 2.4h0m-6.1-15.3h0m-8.5 6.6h0m3.1-3h0m-7 16.9h0m9.6-1.4h0m-6.3-26.3h0m4.1 25.7h0m0.3-3.9h0m-4.1 8h0m12.1-2.8h0m-5.7 1.9h0m2.8-14.2h0m-5.7 4.3h0m-2.2-10h0m8.3 15.3h0m-3.3 1h0m4.4-14.4h0m-7.3 9.1h0m-13.8 3.5h0m25.7-0.6h0m-1.5 10.2h0m-8.1-5.7h0m-11.4-10.1h0m11.9-11.7h0m1.9 19.1h0m-1.6-7.6h0m-5.5 1.8h0m16.6 4.5h0m-8.4-8.8h0m-14.5 6.7h0m-5.4 9.3h0m24.2-17.1h0m-15.3 2.7h0m-3.7 6.9h0m10-18.7h0m3.9 23.7h0m-10-12.4h0m5.7 4.4h0m10.7-9.6h0m-7-5h0m-11.9 0.7h0m19.5 14.9h0m-0.9 7.2h0m-5.5-7.8h0m2.8 1.8h0m-11.7-5.9h0m7.3 2.5h0m-4.8-1.4h0m8.3 2.6h0m-42.5 13.8h0m-0.1 0.6h0m0.8 1.7h0m-0.6-8.1h0m5.1 7h0m-3.2-1.6h0m-3.7-7.5h0m1.2 3.2h0m-2.5-7.2h0m5.9 3.9h0m-3 1.5h0m-1.7 4.2h0m0.5 1.1h0m1.8-3.6h0m-3.5-2.5h0m3.5 6.3h0m-4.2 7.1h0m1.8-8.2h0m1.1-2.1h0m0-4.3h0m-2.2 12.6h0m3.8-9h0m-4.3-4.4h0m1.3 5.3h0m-1.5-5.6h0m2.4 8h0m2.9 0.4h0m1.2 2.7h0m-4.9-9h0m1.6 8h0m0.8-6h0m2.3 3.1h0m-6.1-6.2h0" stroke="#4a62f5" stroke-width=".7" stroke-linecap="square" opacity="0.6"/>
<ellipse cx="503" cy="249" rx="15" ry="8.5" fill="#6078f6" opacity="0.5" filter="url(#bl)" transform="rotate(-12 503 249)"/>
<ellipse cx="503" cy="249" rx="12" ry="6.8" fill="#3a52f0" opacity="0.8" filter="url(#bl)" transform="rotate(-12 503 249)"/>
<ellipse cx="503" cy="249" rx="9.45" ry="5.36" fill="#28b4c8" opacity="0.92" filter="url(#bl)" transform="rotate(-12 503 249)"/>
<ellipse cx="503" cy="249" rx="7.05" ry="3.99" fill="#48cc48" opacity="1" filter="url(#bl)" transform="rotate(-12 503 249)"/>
<ellipse cx="503" cy="249" rx="3.36" ry="1.9" fill="#ecdf22" opacity="1" filter="url(#bl)" transform="rotate(-12 503 249)"/>
<ellipse cx="494.7" cy="262.2" rx="6.2" ry="6" fill="#6078f6" opacity="0.5" filter="url(#bl)"/>
<ellipse cx="494.7" cy="262.2" rx="4.96" ry="4.8" fill="#3a52f0" opacity="0.8" filter="url(#bl)"/>
<ellipse cx="494.7" cy="262.2" rx="3.91" ry="3.78" fill="#28b4c8" opacity="0.92" filter="url(#bl)"/>
<ellipse cx="494.7" cy="262.2" rx="2.91" ry="2.82" fill="#48cc48" opacity="1" filter="url(#bl)"/>
<ellipse cx="494.7" cy="262.2" rx="1.98" ry="1.92" fill="#ecdf22" opacity="1" filter="url(#bl)"/>
<ellipse cx="494.7" cy="262.2" rx="1.04" ry="1.01" fill="#ff4a10" opacity="1" filter="url(#bl)"/>
<ellipse cx="512" cy="259" rx="8" ry="2.2" fill="#6078f6" opacity="0.5" filter="url(#bl)"/>
<ellipse cx="512" cy="259" rx="6.4" ry="1.76" fill="#3a52f0" opacity="0.8" filter="url(#bl)"/>
</g>
<g fill="none" stroke="#333" stroke-width="0.7"><rect x="488.2" y="237.1" width="29.2" height="20.4"/><rect x="485.4" y="257.5" width="34.7" height="21.3"/></g>
<line x1="501.3" y1="257.5" x2="501.3" y2="278.8" stroke="#222" stroke-width="0.8"/>
<text x="514.8" y="241.2" font-size="5" text-anchor="end" font-weight="bold" stroke="#111" stroke-width="0.12" fill="#111" dominant-baseline="central">64.0%</text>
<rect x="543.3" y="229.4" width="56.2" height="56.8" fill="#fff" stroke="#b0b0b0" stroke-width="0.5"/>
<line x1="543.3" y1="229.4" x2="543.3" y2="286.2" stroke="#444" stroke-width="0.5"/>
<line x1="543.3" y1="286.2" x2="599.5" y2="286.2" stroke="#444" stroke-width="0.5"/>
<path d="M542.5 231.29h.8M542.5 233.19h.8M542.5 235.08h.8M542.5 236.97h.8M542.5 238.87h.8M542.5 240.76h.8M542.5 242.65h.8M542.5 244.55h.8M542.5 246.44h.8M542.5 248.33h.8M542.5 250.23h.8M542.5 252.12h.8M542.5 254.01h.8M542.5 255.91h.8M542.5 257.8h.8M542.5 259.69h.8M542.5 261.59h.8M542.5 263.48h.8M542.5 265.37h.8M542.5 267.27h.8M542.5 269.16h.8M542.5 271.05h.8M542.5 272.95h.8M542.5 274.84h.8M542.5 276.73h.8M542.5 278.63h.8M542.5 280.52h.8M542.5 282.41h.8M542.5 284.31h.8M543.3 286.2v.8M546.11 286.2v.8M548.92 286.2v.8M551.73 286.2v.8M554.54 286.2v.8M557.35 286.2v.8M560.16 286.2v.8M562.97 286.2v.8M565.78 286.2v.8M568.59 286.2v.8M571.4 286.2v.8M574.21 286.2v.8M577.02 286.2v.8M579.83 286.2v.8M582.64 286.2v.8M585.45 286.2v.8M588.26 286.2v.8M591.07 286.2v.8M593.88 286.2v.8M596.69 286.2v.8M599.5 286.2v.8" fill="none" stroke="#666" stroke-width="0.3"/>
<line x1="541.7" y1="232.64" x2="543.3" y2="232.64" stroke="#444" stroke-width="0.4"/>
<text x="541.4" y="232.64" font-size="2.6" text-anchor="end" fill="#333" dominant-baseline="central">10⁵</text>
<line x1="541.7" y1="244.34" x2="543.3" y2="244.34" stroke="#444" stroke-width="0.4"/>
<text x="541.4" y="244.34" font-size="2.6" text-anchor="end" fill="#333" dominant-baseline="central">10⁴</text>
<line x1="541.7" y1="258.6" x2="543.3" y2="258.6" stroke="#444" stroke-width="0.4"/>
<text x="541.4" y="258.6" font-size="2.6" text-anchor="end" fill="#333" dominant-baseline="central">10³</text>
<line x1="541.7" y1="274.04" x2="543.3" y2="274.04" stroke="#444" stroke-width="0.4"/>
<text x="541.4" y="274.04" font-size="2.6" text-anchor="end" fill="#333" dominant-baseline="central">10²</text>
<line x1="541.7" y1="278.65" x2="543.3" y2="278.65" stroke="#444" stroke-width="0.4"/>
<text x="541.4" y="278.65" font-size="2.6" text-anchor="end" fill="#333" dominant-baseline="central">0</text>
<line x1="541.7" y1="283.81" x2="543.3" y2="283.81" stroke="#444" stroke-width="0.4"/>
<text x="541.4" y="283.81" font-size="2.6" text-anchor="end" fill="#333" dominant-baseline="central">-10²</text>
<line x1="544.54" y1="286.2" x2="544.54" y2="287.7" stroke="#444" stroke-width="0.4"/>
<text x="544.54" y="289.6" font-size="2.5" text-anchor="middle" fill="#333" dominant-baseline="central">0</text>
<line x1="554.54" y1="286.2" x2="554.54" y2="287.7" stroke="#444" stroke-width="0.4"/>
<text x="554.54" y="289.6" font-size="2.5" text-anchor="middle" fill="#333" dominant-baseline="central">20K</text>
<line x1="565.78" y1="286.2" x2="565.78" y2="287.7" stroke="#444" stroke-width="0.4"/>
<text x="565.78" y="289.6" font-size="2.5" text-anchor="middle" fill="#333" dominant-baseline="central">40K</text>
<line x1="576.68" y1="286.2" x2="576.68" y2="287.7" stroke="#444" stroke-width="0.4"/>
<text x="576.68" y="289.6" font-size="2.5" text-anchor="middle" fill="#333" dominant-baseline="central">60K</text>
<line x1="587.7" y1="286.2" x2="587.7" y2="287.7" stroke="#444" stroke-width="0.4"/>
<text x="587.7" y="289.6" font-size="2.5" text-anchor="middle" fill="#333" dominant-baseline="central">80K</text>
<line x1="596.58" y1="286.2" x2="596.58" y2="287.7" stroke="#444" stroke-width="0.4"/>
<text x="596.58" y="289.6" font-size="2.5" text-anchor="middle" fill="#333" dominant-baseline="central">100K</text>
<clipPath id="cp1128"><rect x="543.6" y="229.7" width="55.6" height="56.2"/></clipPath><g clip-path="url(#cp1128)">
<ellipse cx="570" cy="254" rx="23" ry="16" fill="#5c74f4" opacity="0.45" filter="url(#bl2)"/>
<path d="M563.1 257.9h0m-5.7 1.2h0m9 9.1h0m-5.8-6.3h0m2.8 4.9h0m-4.5 2.9h0m1.8-3.2h0m-6.5-3.6h0m5 6.2h0m1.5-9.8h0m6.5 1.7h0m-5.9-1.7h0m2 4.4h0m-2.9-1.8h0m-0.8-1h0m-2.5 5.8h0m6.9-7.8h0m-6.2 5.4h0m10.3-1.8h0m-7.7-0.2h0m1.6 0.3h0m2.6 3.5h0m-1.6 1.7h0m-2.4-6.4h0m9.7-4.1h0m-13.7-1.3h0m5.8 3.9h0m2.1-3.1h0m-3.6 5.1h0m-2.9 4.6h0m2.1-2h0m-0.4-1h0m0.2-0.2h0m1.1-2.3h0m1.6 1.5h0m-4.2-2.6h0m4.2 7.2h0m-5.3-5.3h0m5.4 4.4h0m0.7-6.7h0m-2 6.3h0m0.6-3.4h0m-4.3 1.2h0m3.4-0.4h0m4.7 3.5h0m-6.9-2.9h0m1.5-0.4h0m5.8 2.5h0m-4.8-4.8h0m-0.6 3.1h0m-1 2.2h0m1.6-6.9h0m6.1-5.1h0m-7 8.3h0m3.8 3.8h0m1.4 1.3h0m-3.4-4.4h0m2.1-0.4h0m-6.9-1.3h0m5.8 3.2h0m-5.3 1.8h0m4.2-8.1h0m0.5 7.5h0m0.2-3.9h0m-4 4.3h0m3.1-3.4h0m-1.9-3.1h0m-4.5 2.1h0m9 3.3h0m-5.4 2.3h0m1.4-7.6h0m3.6 7.2h0m-4.1-7.9h0m1-3.6h0m0.4 11.9h0m0.6-6.8h0m1.3 0.7h0m1.7 0.4h0m2.3 0h0m-5.5-1.7h0m-4.5 3.8h0m5-3.9h0m0.6 1.7h0m-3.4 1h0m2.9 2.4h0m2.5-1.1h0m-5.9-3.2h0m3.3-1.5h0m-1.6 2.4h0m0.2 1.7h0m3.4 4.4h0m-0.4-1.9h0m-5.9 0.1h0m7.1-7.2h0m3.7 2.4h0m-14.8 7h0m7.4-7.7h0m-1.9 5.6h0m2.5-4.3h0m2.7-1.7h0m-6.1 1.1h0m0.3 3.8h0m1.6-5.3h0m-0.7-2.8h0m1.9 6.3h0m1.3-1h0m-0.6-2.1h0m-1.1 3.3h0m-3.8 1.3h0m4.1-1.6h0m-1.8 5.8h0m1.4-8.3h0m-2.6 4.1h0m2-4.2h0m-1.6 5.2h0m2.5 0.4h0m-0.4-6.8h0m2.7 4.6h0m-4.6-1.9h0m-0.9 3.4h0m1.6-1.1h0m2.1-2.2h0m0.3 0.1h0m-4.7-0.6h0m0.1 3.6h0m5.5-4.1h0m-0.1 2.5h0m1-3.5h0m-2.8-0.2h0m-2.2 7.1h0m-13.3-22.7h0m25 10.2h0m-12.8-16.9h0m-9.3 14.4h0m28.2 3.2h0m-18.3 2.7h0m5.4-4.4h0m0 5.9h0m-3.3-22.5h0m2 14h0m6-5.4h0m-5.1-2.5h0m0 7.3h0m4.7 9.4h0m-22.4-6.8h0m24.3-10h0m-3.6 6.9h0m-10.7 4.3h0m29.1-0.3h0m-11.3 2.4h0m-9.1-0.6h0m-6.8-4.7h0m15.1 6.7h0m-9.9-9.6h0m7.6 1.3h0m-3.3 5.3h0m-9 0.4h0m11.4-6.8h0m-16.3-2.2h0m12.1 9.4h0m-19.2-1.3h0m21.5-11.1h0m6.6 9.2h0m-4.2-8.2h0m-15.3 11.2h0m25-3.2h0m-15.9-4.9h0m-15.2 8.6h0m16.1 1.5h0m-6.2-1.1h0m0.1-2.8h0m20.8-7.7h0m-4.7 4.2h0m-18.3 1.2h0m15.7-5.5h0m-9.1 0.9h0m-4.9 2.1h0m15.8-1.7h0m4.2 0.7h0m-19.3 8.7h0m20.9-10.3h0m-8.2-3h0m-9.8 4.7h0m11-5.3h0m-12.1 3.4h0m6.1-3.2h0m-14.3 24.1h0m15.4-25.8h0m6.2 1.2h0m-27 17.7h0m31.1-14.9h0m-23.2 7.8h0m30.9 0.8h0m-13.6-10.6h0m-24.1 9.3h0m27.6-1.5h0m-10.1 7.4h0m-8.2-1.7h0m16.5-10.2h0m-7 4.3h0m4.5-6.4h0m-8 6.3h0m2.6-0.4h0m2.2-1.2h0m-7.4 7.2h0m-1.5-8h0m-2.3-4.9h0m13.1 6.5h0m-5.7 3h0m-0.4 1.3h0m19.5-1.9h0m-20.4 7.7h0m9.6-19.7h0m6.1 11.1h0m-4.7-8h0m-16.8 3h0m13.8-2.9h0m-12.4 12.3h0m0.7-4.9h0m-2.6-10.8h0m8.1 9.4h0m-13.3 6.4h0m22.2-0.5h0m-13.1-12h0m4.1 7.8h0m-0.8-4.5h0m-8.1-0.8h0m9 1.4h0m17.2 1.3h0m-12-1.1h0m-6.2-3h0m-3-3.1h0m-15.6 16.7h0m10-5.4h0m9.2-5.9h0m8.3 0.1h0m-2.8 1.1h0m5.2 7.8h0m-8.9 0.8h0m4.3 2.8h0m-6.1-18.3h0m3.3 10.5h0m-5.7-2.6h0m0.9-6.2h0m19.5 2.8h0m-27.3-4.7h0m2.2 9.1h0m22.8 3.7h0m-21.6-10.8h0m-3.9 6.8h0m19.5-2.3h0m7.2 14.2h0m-14.2-24.1h0m9.2 12.1h0m-4.2 6.4h0m-16.4-5.4h0m11.6-4.8h0m5.1 3.6h0m-10.8 11.8h0m5.6-1.4h0m-3.1-3.5h0m-5.9-5.2h0m18-13.7h0m-5.4 11.2h0m5.4 2.6h0m-11.4-8.5h0m29.5 3.2h0m-31.9 0h0m0.2 5.6h0m-10.1 4.9h0m10.5-2.7h0m-18.1-6.6h0m17.8 0.8h0m-3.7 4.1h0m10.6-7.6h0m-23.2 10.1h0m16 2h0m11.7-6.9h0m-22.5-1.5h0m6.8 9.4h0m-9.4-1.9h0m1.5-8.8h0m1.2-0.7h0m9.5 6.3h0m-1.4 1.8h0m22.9-3.1h0m-28.4-2h0m10.3-1h0m12.2 8.9h0m8.3-3.7h0m-13-7.9h0m-12.4 10.1h0m7.3-11.9h0m-7.1-11.5h0m5.6 10.9h0m-0.5 0.2h0m-8.5 4h0m36.2-4h0m-38.7 3.8h0m21.9 7.9h0m-3.6-6.6h0m-5.5-2.6h0m-3-0.3h0m-12.5-1.1h0m33.1 8.2h0m-26.2-3h0m2.9 7.8h0m4.2-10.9h0m6.9 5.7h0m-13.3-6.5h0m8-5h0m-10.3 15.5h0m17.3 0.6h0m-12.7-10h0m1.7 0.7h0m15.1 1.5h0m0.7-2.9h0m-9.5 13.7h0m-10.9-13.4h0m1.4-5.6h0m2.9 5.7h0m24.4 1h0m-42.3 8.3h0m30.1-5.7h0m-6.5 4.4h0m-8.3-4h0m6.9 9.5h0m12.4-8.7h0m-26.9 4.2h0m12.6 1.6h0m1-5.8h0m5.9-5.3h0m-12.8 17.7h0m-2-7.9h0m15-0.7h0m6.7-12.7h0m-4-4.2h0m-8.8 14.1h0m9.5 4.3h0m-19.1-7.9h0m7.5-2.5h0m-6.4 0.2h0m19.2 11.9h0m-3.9 1.9h0m-6.4-16.3h0m-7.3 7.6h0m16.4 5.9h0m-18.8-1.5h0m3.6-2.1h0m14.1 5.2h0m-14.1-7.3h0m9.3-3.9h0m-3.2 6h0m-16.9-7.3h0m38.4 6.4h0m-27.9-13.4h0m-3.9 13.8h0m16-0.4h0m-0.9-6.2h0m9.8-3h0m-10.6 5h0m-21.6 6.9h0m14-1.1h0m15-3.2h0m-18.8-2.3h0m5.8 9.8h0m9 0.8h0m-0.9-13.8h0m1.6 10.2h0m-10.2-3h0m-1.9-10.1h0m2.2 11.9h0m-2.6-17.7h0m-4.3 19.6h0m9.9 0.2h0m-9.5-9.1h0m-2.4-2.1h0m14.7 5.4h0m-9.7 0.9h0m-7.9-4h0m-1.9-6.5h0m1.3 2.3h0m28.6 14.6h0m-3.1-11.5h0m-6.2-3.3h0m-11.3 8.1h0m-10.3-0.2h0m21.5-13.4h0m-7.1 13h0m-9.9 2.5h0m12.2-7.6h0m14.8 5.8h0m-8.7 9.4h0m-12-12.2h0m-12.2-0.1h0m21.2 16.2h0m1.2-13.6h0m-17.8-6.2h0m-5.7-3.1h0m19.1 9.9h0m-10-3.1h0m1.1 5h0m14.1-7h0m-10.7-4h0m-0.1 20.2h0m4.4-7.8h0m5.8 3.6h0m-8.8-14.1h0m13.2 10.8h0m-16.5 1.1h0m6.3-6.8h0m18 3.4h0m-14.8-5h0m-1.1 8.1h0m2.5-10.7h0m-0.1 3.8h0m-1.4-0.5h0m-24.2-8.4h0m17.5-3.5h0m-10.9 25.1h0m21.4-14.7h0m-3.6-10.6h0m-0.7 19.1h0m-0.6-13.6h0m7.6 4.6h0m-15 4.4h0m2.6 10.9h0m1.6 0.6h0m16.9-5.8h0m-3.5 3.2h0m11.2 3.1h0m8.7-4.8h0m-23.3 7.4h0m-3.6-4.9h0m19.5-3.4h0m-15.2 0.7h0m6.8 2.8h0m-4.4 0.6h0m-5.9-2.5h0m9.8 5.9h0m-3.9-4.9h0m10.5 0.1h0m-0.1 0.4h0m-1.1-0.1h0m-16.2-2.6h0m10.5 6.8h0m11.2-5.5h0m5-2h0m-26.2 5.1h0m-5.2 0h0m14.8-0.7h0m-12.4-0.7h0m16.8-1h0m0.7 0.2h0m-5.3-0.9h0m-13.3 0.4h0m14.5-1.5h0m-19.2-2h0m25.6 3.3h0m-16.3 3.7h0m4.6-6.8h0m-2.1 1.5h0m2-0.1h0m2 3.4h0m-5-1.6h0m3.3 2.6h0m-4.5-0.2h0m15.5-2.4h0m-17.4-0.3h0m-6.3-0.6h0m4.5 1h0m6.5 1.7h0m3.8-0.2h0m-1.3-0.4h0m-8.5 0.9h0m19.1 1.2h0m-20.8-1.8h0m-2.2 0.9h0m11.2-3h0m-4.3 0.5h0m5.8-1.8h0m0.5 3h0m3.7-0.7h0m-4.2 5.9h0m8-5h0m-18.8 0.7h0m15.4-8.1h0m-5.8 7.6h0m1.6-0.8h0m-1.5 3.3h0m4.2-4.2h0m-4.8 5.9h0m-5-6.5h0m9.3 1.7h0m-0.1 3h0m6.5-2.3h0m-8.6-1.3h0m-2.1 2.7h0m-8.2-5.1h0m6.4 0.2h0m-2.2 5.4h0m-11.9-1.6h0m7.4-2h0m5.8-1.9h0m-7.2 2.7h0m-11.6-5.5h0m20.2 8h0m17.7-3.4h0m-20.9 0h0m10 3h0m-11.2-1.1h0m7.3 1.7h0m-3-3.4h0m-3.5-2.8h0m8.8 5.1h0m6.8-1.1h0m-12.5-3h0m-5.5 0.5h0m11.8 2h0m-20.8-0.5h0m15.8-2.3h0m2.1 3.9h0m-8-4.7h0m5.7 4.1h0m0.5 3.2h0m3.2-6.4h0m4.9 0.9h0m-0.6 1.8h0m14.2-18.2h0m-4 11.4h0m-12.8 2.2h0m1.1-6.8h0m16.3 3.2h0m0.1-14.6h0m-11.7 10.2h0m-2.6 12.2h0m-0.8-7h0m1.4-8.6h0m-12.5 8.8h0m22.9 5.9h0m-5.2 8.4h0m4.3-35.8h0m-13.2 24.9h0m3.9 0.3h0m-8.5-5.9h0m18.8-5.4h0m-8.7 12h0m-0.1-11.9h0m1.5 9.7h0m-13-5.5h0m9.9-7.7h0m-0.8 7.5h0m4.5 7.8h0m-7.7 1.9h0m7.6-3.3h0m9.5-15.8h0m-6.7 18.6h0m4.2-21.2h0m-6 21.6h0m-2.3-9.7h0m1.5 13.7h0m-4.9-20.6h0m-4.4 3.3h0m6.9 7h0m1.2-16.6h0m-11.9 19.3h0m18.3-16.3h0m1.7-8.7h0m-20.7 23.6h0m13-7.7h0m-2.7 1.8h0m2.2-5.4h0m-3.8 11.7h0m8.8-15.2h0m-8.1 23.2h0m9.6 0.7h0m-16.5-21.5h0m-6.6-7.2h0m14.4 7.1h0m-5.7 2.8h0m7.2 12.3h0m6-20.8h0m-12.5 13.9h0m4.8-10.9h0m-1.6 15.4h0m-2.4-0.8h0m16-0.5h0m-3.6-6.8h0m-5.8-9.7h0m-5.2 4.4h0m5.8 21.1h0m-18-22.6h0m10.5 9.9h0m16.8-5.5h0m-15.6 15.9h0m9.3-5.5h0m3.7-10.1h0m-4.9 0.6h0m-7.6 6.4h0m9.3-11.3h0m-9.7 15.1h0m7.5 0.4h0m-3.8-11.7h0m8.8 11.2h0m-29.1 2.2h0m16.7-1.6h0m-1.7-3.3h0m8.5 2.4h0m-12-2.5h0m18.5 3.6h0m-2.2 4h0m-11.6 0.2h0m8.3-17.8h0m-4.1 10.2h0m-38.6 15.2h0m-0.4-7.4h0m6 0.7h0m-7.9-1.9h0m-0.1 2.4h0m3.2 5h0m-2.9-8.9h0m1.2 5.2h0m-1.3 2h0m2.7-10.2h0m-2.2 12.8h0m-0.8-4.6h0m1.1-5.4h0m7 4.4h0m-4.7-1.3h0m2.3 6.4h0m-0.6-0.8h0m-1.5 1.8h0m-0.9-5h0m1.2-4.2h0m-1.9 0.8h0m-1.3-1h0m1.2 7.2h0m-0.7-0.8h0m2.4-5.4h0m-2.9 0.7h0m7.5-0.6h0m-5.3-0.3h0m0.7-2h0" stroke="#4a62f5" stroke-width=".7" stroke-linecap="square" opacity="0.6"/>
<ellipse cx="567" cy="250" rx="15" ry="8.5" fill="#6078f6" opacity="0.5" filter="url(#bl)" transform="rotate(-12 567 250)"/>
<ellipse cx="567" cy="250" rx="12" ry="6.8" fill="#3a52f0" opacity="0.8" filter="url(#bl)" transform="rotate(-12 567 250)"/>
<ellipse cx="567" cy="250" rx="9.45" ry="5.36" fill="#28b4c8" opacity="0.92" filter="url(#bl)" transform="rotate(-12 567 250)"/>
<ellipse cx="567" cy="250" rx="7.05" ry="3.99" fill="#48cc48" opacity="1" filter="url(#bl)" transform="rotate(-12 567 250)"/>
<ellipse cx="567" cy="250" rx="3.26" ry="1.85" fill="#ecdf22" opacity="1" filter="url(#bl)" transform="rotate(-12 567 250)"/>
<ellipse cx="561.3" cy="263.1" rx="6.2" ry="6" fill="#6078f6" opacity="0.5" filter="url(#bl)"/>
<ellipse cx="561.3" cy="263.1" rx="4.96" ry="4.8" fill="#3a52f0" opacity="0.8" filter="url(#bl)"/>
<ellipse cx="561.3" cy="263.1" rx="3.91" ry="3.78" fill="#28b4c8" opacity="0.92" filter="url(#bl)"/>
<ellipse cx="561.3" cy="263.1" rx="2.91" ry="2.82" fill="#48cc48" opacity="1" filter="url(#bl)"/>
<ellipse cx="561.3" cy="263.1" rx="1.98" ry="1.92" fill="#ecdf22" opacity="1" filter="url(#bl)"/>
<ellipse cx="561.3" cy="263.1" rx="1.04" ry="1.01" fill="#ff4a10" opacity="1" filter="url(#bl)"/>
<ellipse cx="578" cy="260" rx="8" ry="2.2" fill="#6078f6" opacity="0.5" filter="url(#bl)"/>
<ellipse cx="578" cy="260" rx="6.4" ry="1.76" fill="#3a52f0" opacity="0.8" filter="url(#bl)"/>
</g>
<g fill="none" stroke="#333" stroke-width="0.7"><rect x="555.2" y="237.3" width="29.6" height="20.3"/><rect x="552.5" y="257.6" width="35.4" height="21.4"/></g>
<line x1="568.7" y1="257.6" x2="568.7" y2="279" stroke="#222" stroke-width="0.8"/>
<text x="583" y="240.9" font-size="5" text-anchor="end" font-weight="bold" stroke="#111" stroke-width="0.12" fill="#111" dominant-baseline="central">60.9%</text>
<line x1="466.6" y1="230.6" x2="466.6" y2="277.5" stroke="#000" stroke-width="1.4"/>
<path d="M463.7 233.5L466.6 230.4L469.5 233.5" fill="none" stroke="#000" stroke-width="1.3"/>
<text x="466.6" y="285" font-size="5.5" text-anchor="middle" font-weight="bold" stroke="#000" stroke-width="0.14" textLength="10.5" lengthAdjust="spacingAndGlyphs" transform="rotate(-90 466.6 285)" dominant-baseline="central">EdU</text>
<text x="473.7" y="296.2" font-size="5" text-anchor="middle" font-weight="bold" stroke="#000" stroke-width="0.12" dominant-baseline="central">PI</text>
<line x1="476.3" y1="296.5" x2="601.3" y2="296.5" stroke="#000" stroke-width="1.4"/>
<path d="M598.4 293.6L601.5 296.5L598.4 299.4" fill="none" stroke="#000" stroke-width="1.3"/>
<line x1="614.6" y1="284.6" x2="617.2" y2="284.6" stroke="#000" stroke-width="0.7"/>
<text x="614.3" y="284.6" font-size="2.4" text-anchor="end" font-weight="bold" stroke="#222" stroke-width="0.06" fill="#222" dominant-baseline="central">0</text>
<line x1="614.6" y1="270.98" x2="617.2" y2="270.98" stroke="#000" stroke-width="0.7"/>
<text x="614.3" y="270.98" font-size="2.4" text-anchor="end" font-weight="bold" stroke="#222" stroke-width="0.06" fill="#222" dominant-baseline="central">20</text>
<line x1="614.6" y1="257.35" x2="617.2" y2="257.35" stroke="#000" stroke-width="0.7"/>
<text x="614.3" y="257.35" font-size="2.4" text-anchor="end" font-weight="bold" stroke="#222" stroke-width="0.06" fill="#222" dominant-baseline="central">40</text>
<line x1="614.6" y1="243.72" x2="617.2" y2="243.72" stroke="#000" stroke-width="0.7"/>
<text x="614.3" y="243.72" font-size="2.4" text-anchor="end" font-weight="bold" stroke="#222" stroke-width="0.06" fill="#222" dominant-baseline="central">60</text>
<line x1="614.6" y1="230.1" x2="617.2" y2="230.1" stroke="#000" stroke-width="0.7"/>
<text x="614.3" y="230.1" font-size="2.4" text-anchor="end" font-weight="bold" stroke="#222" stroke-width="0.06" fill="#222" dominant-baseline="central">80</text>
<line x1="624.6" y1="267.8" x2="624.6" y2="268.3" stroke="#111" stroke-width="0.8"/>
<line x1="623.1" y1="267.8" x2="626.1" y2="267.8" stroke="#111" stroke-width="0.8"/>
<rect x="621.1" y="268.3" width="7" height="16.3" fill="#539df8" stroke="#151515" stroke-width="0.75"/>
<line x1="631.75" y1="265.5" x2="631.75" y2="266.6" stroke="#111" stroke-width="0.8"/>
<line x1="630.25" y1="265.5" x2="633.25" y2="265.5" stroke="#111" stroke-width="0.8"/>
<rect x="628.1" y="266.6" width="7.3" height="18" fill="#f98181" stroke="#151515" stroke-width="0.75"/>
<line x1="646.65" y1="241.2" x2="646.65" y2="242" stroke="#111" stroke-width="0.8"/>
<line x1="645.15" y1="241.2" x2="648.15" y2="241.2" stroke="#111" stroke-width="0.8"/>
<rect x="643.3" y="242" width="6.7" height="42.6" fill="#539df8" stroke="#151515" stroke-width="0.75"/>
<line x1="653.65" y1="243.3" x2="653.65" y2="244.3" stroke="#111" stroke-width="0.8"/>
<line x1="652.15" y1="243.3" x2="655.15" y2="243.3" stroke="#111" stroke-width="0.8"/>
<rect x="650" y="244.3" width="7.3" height="40.3" fill="#f98181" stroke="#151515" stroke-width="0.75"/>
<line x1="668" y1="278.5" x2="668" y2="279.2" stroke="#111" stroke-width="0.8"/>
<line x1="666.5" y1="278.5" x2="669.5" y2="278.5" stroke="#111" stroke-width="0.8"/>
<rect x="664.5" y="279.2" width="7" height="5.4" fill="#539df8" stroke="#151515" stroke-width="0.75"/>
<line x1="675.2" y1="277.6" x2="675.2" y2="278.3" stroke="#111" stroke-width="0.8"/>
<line x1="673.7" y1="277.6" x2="676.7" y2="277.6" stroke="#111" stroke-width="0.8"/>
<rect x="671.5" y="278.3" width="7.4" height="6.3" fill="#f98181" stroke="#151515" stroke-width="0.75"/>
<line x1="617.2" y1="229.7" x2="617.2" y2="284.6" stroke="#000" stroke-width="1"/>
<line x1="617.2" y1="284.6" x2="682.7" y2="284.6" stroke="#000" stroke-width="1"/>
<path d="M632.40 259.25L633.00 260.87L634.73 260.94L633.38 262.02L633.84 263.68L632.40 262.73L630.96 263.68L631.42 262.02L630.07 260.94L631.80 260.87Z" fill="#111"/>
<path d="M654.30 235.25L654.90 236.87L656.63 236.94L655.28 238.02L655.74 239.68L654.30 238.73L652.86 239.68L653.32 238.02L651.97 236.94L653.70 236.87Z" fill="#111"/>
<path d="M673.39 269.35L673.99 270.97L675.72 271.04L674.37 272.12L674.83 273.78L673.39 272.83L671.95 273.78L672.41 272.12L671.06 271.04L672.78 270.97ZM678.41 269.35L679.02 270.97L680.74 271.04L679.39 272.12L679.85 273.78L678.41 272.83L676.97 273.78L677.43 272.12L676.08 271.04L677.81 270.97Z" fill="#111"/>
<rect x="622.5" y="226.2" width="5.6" height="2.6" fill="#539df8" stroke="#1a1a1a" stroke-width="0.5"/>
<text x="630.2" y="227.7" font-size="5.19" font-weight="bold" stroke="#111" stroke-width="0.13" fill="#111" textLength="7.5" lengthAdjust="spacingAndGlyphs" dominant-baseline="central">NC</text>
<rect x="642.1" y="226.2" width="5.2" height="2.6" fill="#f98181" stroke="#1a1a1a" stroke-width="0.5"/>
<text x="650" y="227.7" font-size="5.2" font-weight="bold" stroke="#111" stroke-width="0.13" fill="#111" textLength="21.9" lengthAdjust="spacingAndGlyphs" dominant-baseline="central">si-RHOB</text>
<line x1="628.1" y1="284.6" x2="628.1" y2="286" stroke="#000" stroke-width="0.6"/>
<text x="628.1" y="292.65" font-size="4.8" font-weight="bold" fill="#111" stroke="#111" stroke-width="0.12" text-anchor="middle">G<tspan font-size="3.1" dy="1">0</tspan><tspan font-size="4.8" dy="-1">/G</tspan><tspan font-size="3.1" dy="1">1</tspan></text>
<line x1="650" y1="284.6" x2="650" y2="286" stroke="#000" stroke-width="0.6"/>
<text x="650" y="291.1" font-size="4.8" text-anchor="middle" font-weight="bold" stroke="#111" stroke-width="0.12" fill="#111" dominant-baseline="central">S</text>
<line x1="671.5" y1="284.6" x2="671.5" y2="286" stroke="#000" stroke-width="0.6"/>
<text x="671.5" y="292.65" font-size="4.8" font-weight="bold" fill="#111" stroke="#111" stroke-width="0.12" text-anchor="middle">G<tspan font-size="3.1" dy="1">2</tspan><tspan font-size="4.8" dy="-1">/M</tspan></text>
<text x="609.3" y="258.5" font-size="5.3" text-anchor="middle" font-weight="bold" stroke="#222" stroke-width="0.13" fill="#222" textLength="59.3" lengthAdjust="spacingAndGlyphs" transform="rotate(-90 609.3 258.5)" dominant-baseline="central">Percentage of cells (%)</text>
<text x="221.1" y="319.6" font-size="7.5" text-anchor="middle" font-weight="bold" stroke="#000" stroke-width="0.16" dominant-baseline="central">k</text>
<text x="367.75" y="321.2" font-size="7.2" text-anchor="middle" font-weight="bold" stroke="#000" stroke-width="0.16" textLength="33.7" lengthAdjust="spacingAndGlyphs" dominant-baseline="central">MNC-RBC</text>
<text x="272.5" y="335" font-size="5" text-anchor="middle" font-weight="bold" stroke="#000" stroke-width="0.12" dominant-baseline="central">NC</text>
<text x="339.2" y="335" font-size="5.4" text-anchor="middle" font-weight="bold" stroke="#000" stroke-width="0.14" textLength="20.5" lengthAdjust="spacingAndGlyphs" dominant-baseline="central">siRHOB</text>
<rect x="244.6" y="339.4" width="55.9" height="56" fill="#fff" stroke="#b0b0b0" stroke-width="0.5"/>
<line x1="244.6" y1="339.4" x2="244.6" y2="395.4" stroke="#444" stroke-width="0.5"/>
<line x1="244.6" y1="395.4" x2="300.5" y2="395.4" stroke="#444" stroke-width="0.5"/>
<path d="M243.8 341.27h.8M243.8 343.13h.8M243.8 345h.8M243.8 346.87h.8M243.8 348.73h.8M243.8 350.6h.8M243.8 352.47h.8M243.8 354.33h.8M243.8 356.2h.8M243.8 358.07h.8M243.8 359.93h.8M243.8 361.8h.8M243.8 363.67h.8M243.8 365.53h.8M243.8 367.4h.8M243.8 369.27h.8M243.8 371.13h.8M243.8 373h.8M243.8 374.87h.8M243.8 376.73h.8M243.8 378.6h.8M243.8 380.47h.8M243.8 382.33h.8M243.8 384.2h.8M243.8 386.07h.8M243.8 387.93h.8M243.8 389.8h.8M243.8 391.67h.8M243.8 393.53h.8M244.6 395.4v.8M247.39 395.4v.8M250.19 395.4v.8M252.98 395.4v.8M255.78 395.4v.8M258.57 395.4v.8M261.37 395.4v.8M264.17 395.4v.8M266.96 395.4v.8M269.75 395.4v.8M272.55 395.4v.8M275.35 395.4v.8M278.14 395.4v.8M280.94 395.4v.8M283.73 395.4v.8M286.52 395.4v.8M289.32 395.4v.8M292.12 395.4v.8M294.91 395.4v.8M297.7 395.4v.8M300.5 395.4v.8" fill="none" stroke="#666" stroke-width="0.3"/>
<line x1="243" y1="347.41" x2="244.6" y2="347.41" stroke="#444" stroke-width="0.4"/>
<text x="242.7" y="347.41" font-size="2.6" text-anchor="end" fill="#333" dominant-baseline="central">10⁴</text>
<line x1="243" y1="363.2" x2="244.6" y2="363.2" stroke="#444" stroke-width="0.4"/>
<text x="242.7" y="363.2" font-size="2.6" text-anchor="end" fill="#333" dominant-baseline="central">10³</text>
<line x1="243" y1="379.89" x2="244.6" y2="379.89" stroke="#444" stroke-width="0.4"/>
<text x="242.7" y="379.89" font-size="2.6" text-anchor="end" fill="#333" dominant-baseline="central">10²</text>
<line x1="243" y1="394.84" x2="244.6" y2="394.84" stroke="#444" stroke-width="0.4"/>
<text x="242.7" y="394.84" font-size="2.6" text-anchor="end" fill="#333" dominant-baseline="central">10¹</text>
<line x1="245.83" y1="395.4" x2="245.83" y2="396.9" stroke="#444" stroke-width="0.4"/>
<text x="245.83" y="398.8" font-size="2.5" text-anchor="middle" fill="#333" dominant-baseline="central">0</text>
<line x1="255.78" y1="395.4" x2="255.78" y2="396.9" stroke="#444" stroke-width="0.4"/>
<text x="255.78" y="398.8" font-size="2.5" text-anchor="middle" fill="#333" dominant-baseline="central">20K</text>
<line x1="266.96" y1="395.4" x2="266.96" y2="396.9" stroke="#444" stroke-width="0.4"/>
<text x="266.96" y="398.8" font-size="2.5" text-anchor="middle" fill="#333" dominant-baseline="central">40K</text>
<line x1="277.8" y1="395.4" x2="277.8" y2="396.9" stroke="#444" stroke-width="0.4"/>
<text x="277.8" y="398.8" font-size="2.5" text-anchor="middle" fill="#333" dominant-baseline="central">60K</text>
<line x1="288.76" y1="395.4" x2="288.76" y2="396.9" stroke="#444" stroke-width="0.4"/>
<text x="288.76" y="398.8" font-size="2.5" text-anchor="middle" fill="#333" dominant-baseline="central">80K</text>
<line x1="297.59" y1="395.4" x2="297.59" y2="396.9" stroke="#444" stroke-width="0.4"/>
<text x="297.59" y="398.8" font-size="2.5" text-anchor="middle" fill="#333" dominant-baseline="central">100K</text>
<clipPath id="cp1226"><rect x="244.9" y="339.7" width="55.3" height="55.4"/></clipPath><g clip-path="url(#cp1226)">
<ellipse cx="278" cy="363" rx="20" ry="17" fill="#5c74f4" opacity="0.38" filter="url(#bl2)"/>
<path d="M269.6 377.0h0m-6.8-5.5h0m10.4 2.4h0m-1.2-7.3h0m-13.2 16.9h0m15-7.2h0m-4 2.4h0m-6.8-1.9h0m-4-5.9h0m6.4 8.3h0m0.2-7.9h0m3.5 5.3h0m-0.5-1.5h0m-5.1 5.3h0m8.2-9h0m-12.5 8.7h0m7.4-3.6h0m-6.7 3.8h0m5.8-3.2h0m1-2.9h0m0.1 2.6h0m1.6 1h0m-10-4.4h0m5.1 7.5h0m-2-0.1h0m8.7-1.1h0m5.9-3.5h0m-9.7 4.9h0m0.4-0.9h0m-2.7 1.7h0m2.5-13.3h0m3.6 6.9h0m-9.8-0.4h0m3 5.7h0m3.1-4.8h0m-1.8-3.3h0m-3.1 1.7h0m2.1-2.8h0m-0.9 8.7h0m4.3-4h0m-0.6-1h0m-7.7 4.5h0m17.3-1.5h0m-7.9 7.8h0m-9.5-7.7h0m4.4-3.2h0m-6.6 0.7h0m10.3-6h0m-3.1 4.4h0m-3.9 4.5h0m13.2-0.9h0m-3 1.4h0m-5.5-0.7h0m7-4h0m-7.4-3.8h0m-8.6 2.2h0m13.8 4.7h0m-3.2 3.8h0m-10.2 0.2h0m9.3-2.4h0m6.5-6.3h0m-11.3 4.9h0m4.1-4h0m-0.3-0.5h0m1.3 1.3h0m7.8-2.6h0m-5.6 4.5h0m5-4.2h0m-10.2 10.7h0m-1-8.4h0m1.3-2.3h0m8.1 9.9h0m-6.9-9h0m-6 5.6h0m4.1-0.5h0m-9.4-3.8h0m15.2 3.3h0m-17.5-0.5h0m15-1.2h0m-2.3-1.7h0m2.4 3.8h0m-16.6-2.1h0m20.6-0.8h0m1.4-2.8h0m3.5 7.5h0m-11.6 7.1h0m9.2-4.7h0m-13.2-6.7h0m8.4 4.6h0m-2-9.3h0m5.7 4.5h0m-3.9-0.6h0m-2.8-4.2h0m4 3h0m-12.3 4.1h0m8.7 2.2h0m4.3-8.7h0m-5 4.8h0m1.3-4.1h0m0 8h0m5.8 1.9h0m-2.4-15.7h0m-5.2 7.8h0m-13.2 8.3h0m19.2-6.2h0m-2.8 2h0m-2.9 3.5h0m10.3-2.2h0m-12-2.3h0m7.7 1.9h0m-8.3 0.9h0m7-1.4h0m-5.7-2.5h0m-7.5 0h0m7.4-1h0m0.8-0.1h0m1.8 1.6h0m-3.5-0.9h0m2.6 2.5h0m2.7-3.4h0m-6.3-5h0m-2.2 8.1h0m1.7 4.7h0m3.8-7.9h0m0-0.6h0m-2.4 2.4h0m-4.1 0.3h0m6.8-4.1h0m5.7 5h0m0.2-4.1h0m-11.6-2h0m-1.7-2.8h0m15.8 5.6h0m-6.9-0.3h0m-1.7 8.4h0m-8-10.2h0m9.4 0.4h0m2.8 8.7h0m1-2.2h0m-5.3 1h0m-3.2-8.7h0m2.7 3.7h0m7.4-2.9h0m-0.4 0.9h0m-12-3.7h0m6.1 1h0m1.3 5.9h0m-3.1-7.8h0m-0.6 9.4h0m-6.3 1h0m9-4.9h0m0.9 4.7h0m-1.1-5.6h0m4 0.3h0m-2.1 6.6h0m4.8 2.4h0m-1.5-5.7h0m-6.1 0.2h0m3.6 11h0m0.7-15h0m4.3-3.1h0m-2.6 1.3h0m-10.5 3h0m4.1-3.3h0m4.5 4.9h0m3.6-3.6h0m-15.8 6.7h0m8 1.2h0m-10.6-8.8h0m12.2 12.6h0m-6.7-15.2h0m3.9 13.1h0m10.2-11h0m-11-1.9h0m-1.1 3.5h0m6.3 8.3h0m9.9-5.9h0m-7.9 2.3h0m-3.5 6.8h0m2.9-1.5h0m-2-2.8h0m1-3.8h0m-6-1.2h0m3.6 0.1h0m-1.8-1.3h0m6 1.9h0m-4.9 0.1h0m7.2-1.3h0m0.5-1.3h0m0.6 5.8h0m-10.2-0.6h0m8.2-5.5h0m-6.8 5h0m0.1-2.4h0m1.1 2.4h0m3.8 4.6h0m-5.5 5.7h0m0-4.6h0m1-12.7h0m-1.6 4.4h0m27.1-30.8h0m-17 14.9h0m12.9 4.2h0m2-4.4h0m-10.9 10.8h0m19.5-6.6h0m-15.6-9.7h0m4.6-6h0m-0.1 32h0m-7.7-20.9h0m17 0.2h0m-6.9 16.8h0m-20.2-21.9h0m18.5 7.5h0m-6.4-2.3h0m0.9 4.2h0m-6-5.1h0m7.1-6.4h0m2.1-8.7h0m1.9 16.4h0m-18.1 11.6h0m0 5.7h0m4.5-6.8h0m6.6 3.2h0m-1.6-4.6h0m-1-23h0m7.1 18.6h0m0.1 9.5h0m-11.3-24.6h0m9.9 5.8h0m-3.6 5.5h0m-7.1 8.7h0m6.9 5.5h0m3.7-5.8h0m-5.4-13.6h0m-2.3-1.7h0m9.7 8h0m-15.2-13.3h0m2.2-2.2h0m-0.3 2.4h0m15.9 2.8h0m-12.9 8.3h0m6.2 4.3h0m7.2 1.7h0m-11 4.8h0m7.1-15.5h0m11.2-3.7h0m-10.1 19.3h0m-3.6-7.2h0m0.1 2.5h0m1-5.2h0m4.7-15.1h0m-4.4 12.6h0m16.9 4.7h0m-26 2.9h0m2.7-14.6h0m1.1 13.4h0m14.5 4.3h0m-9.5-9.6h0m-0.3 10.9h0m-3.2-0.4h0m-6.6-9.3h0m15.5 5.7h0m-5.7-9.6h0m-19.7 0.6h0m9.4 0.2h0m24-2.9h0m-7.3 6h0m-19.3 1h0m18.4-10.3h0m-18.9 6.4h0m18.6-1.7h0m-3 8.4h0m-4-0.1h0m12.4-5.1h0m-9.3-6.9h0m-10.4 7.6h0m15.2-4.5h0m-21.8 12.6h0m3.3-6.3h0m15.2-8.5h0m-1.4 16.2h0m-6.1-2.9h0m4-13.1h0m-7.3 2.5h0m19.1 14h0m-10.7-21.5h0m-7.2 9.1h0m-14.1 3.1h0m21.8-10.3h0m-7.1 6.8h0m22.4 8.9h0m-10.6-4.6h0m-20.1 6.6h0m5.9-22.5h0m13.8 12.5h0m-7.2 6.8h0m-2.2-0.8h0m14.9-5.8h0m-16.1 2.7h0m9.8-3.3h0m-5.6-2.3h0m-1.5 9.7h0m-7.3-5.7h0m-6.3-4.1h0m15.1 9.7h0m-10.9-5h0m1 3.3h0m11.7 1h0m-4.6-14.7h0m-3.4 0.6h0m-1.2 10.2h0m17.2-4.7h0m-18.1 6.7h0m-12.6 14.1h0m5.1-7.7h0m24.6-0.4h0m-10.6-1.8h0m-2.3 1.8h0m-3-14h0m10 2.8h0m2.9-3.2h0m-4-0.9h0m-3.6 24.6h0m-9.5-26.6h0m-5.1 7.9h0m31.4-1.7h0m-6.7 2.1h0m-15.2 17.2h0m16.6-30.3h0m-20 17.8h0m15.9-5h0m-3.3 6h0m-6.5 3.6h0m-4.8-1.9h0m17.1-4.4h0m-12.2-1.7h0m-18.3 2.1h0m7.8-17.9h0m21.2 8.7h0m-3.9 7.6h0m-20.6-7.5h0m14.5 10.8h0m3.3-13.6h0m-5.8 10.7h0m-7.2-4.3h0m7-13.2h0m22.1 23.6h0m-21.3 0.6h0m-5.6 4.6h0m6.5-11h0m-2-0.4h0m8.8-0.4h0m-11.2 5.7h0m13.4-6h0m4.8-5.8h0m2.2 4.6h0m2.3-2.3h0m-17.1 5.2h0m13 9.7h0m-15-17.1h0m11.8 15.5h0m-0.6-12.4h0m5.6 2.4h0m-10.7 5.1h0m-7.2-22.7h0m7.6 23.4h0m2.2-1.3h0m-2.7 3.9h0m-0.5 3.6h0m-0.6-5.5h0m-5.8-3.9h0m9.4-1.3h0m10.9-0.7h0m-4.1 2.4h0m-0.3-9.9h0m-14.1 14.7h0m-4.4-4.5h0m13.4-1.6h0m-1.3 2.8h0m-6.5-1h0m-2.7-6.8h0m-10.3 2.7h0m-1.1 1h0m18.5-8.8h0m-1.4 10.9h0m-4.1-9.5h0m2.3 10.4h0m10.1 12.1h0m-28.1-12.6h0m23.3-7.7h0m-1.1 21.5h0m-2-5.7h0m9.2-14.3h0m-32.7 12.7h0m37.3-23.1h0m-16.8 8.4h0m3.9 6h0m9.1-5.1h0m7.6-8.9h0m-16.6 34.6h0m-3-16.1h0m-3.7 21.1h0m13.3-28.9h0m-27.2 4.5h0m25.6-17.8h0m-11.8 20.5h0m-18.5-5.9h0m7.8-9.1h0m19.3 19.6h0m7.4-14.2h0m-6.4-8.8h0m-19.2 18.3h0m10.5-12.3h0m-14.3 6.2h0m8 10.7h0m-8.5-13.8h0m19.3 13.9h0m-1.4 5.4h0m0.4-15.3h0m4.6 3.7h0m-18.8-10.3h0m12.2 10.2h0m-9.6-8.4h0m4.7 8.4h0m3 2.1h0m8-12h0m-6.7-2.6h0m4 16.2h0m-10.7-20.4h0m14.6 11.7h0m-5.3 5.9h0m4 3.7h0m-8.1-24.8h0m-0.3 15.1h0m0.7 5.5h0m1.6 7.2h0m-3.7-10.4h0m2.6 16.9h0m-5.8-24.7h0m5.6 14h0m3.8-7.5h0m-14.3-15.1h0m12.1 14.6h0m19.2 4.9h0m-13 4.7h0m-12.8-17.5h0m5.1 21.6h0m13.2-16.4h0m-21.7 12h0m22.8-16.1h0m5 2.5h0m-8.4 4.6h0m-10.5-3.3h0m10 9.8h0m1.1-7.1h0m-16.2 19.3h0m25-18.6h0m-27.9 13.4h0m12.5-11.4h0m7 2.3h0m-7.2 13h0m-19.5-10.7h0m8.8-4.5h0m7.9 1.5h0m-21.9 3.4h0m32.4-0.5h0m-5.9-9h0m3.3 6.2h0m8 4.4h0m0.6-2.7h0m-13.1-8.7h0m-0.7 1.9h0m4.6 13.7h0m-0.5-3.3h0m-2.5-4.7h0m-15-1.8h0m12.9-1.6h0m-2.9 3h0m-3.3-4h0m-7.2 20h0m4.1-28h0m3.5 6.3h0m-5.3-16.2h0m26.8 27.6h0m-19.9-3.6h0m-7.3-17.4h0m14.3 17.5h0m-10.1-4.6h0m-23.5-1h0m40.7 2.4h0m-8.6 3.2h0m-22.4-14.9h0m8 12.2h0m6.4-16.9h0m15 13.5h0m1 17.5h0m-26.1-26.2h0m27 21.4h0m-6.8-8.3h0m3 2.3h0m-19.5 0.7h0m22.4-9.1h0m-18.9-0.7h0m3.3 8.1h0m13.5-4h0m-10.7-14.3h0m-1.2 6.2h0m-1.3 10.6h0m7.1 25.2h0m-10.3-32.2h0m-2.7 2.3h0m8.6 10h0m-16.6-0.7h0m25.8-11.5h0m-13.2 5.8h0m12-2.9h0m-6.8 1.4h0m-9.2 2.1h0m16.5-1.8h0m-17-0.4h0m10.2 2.5h0m-3.1 4.1h0m15 0h0m-8.5 3.1h0m-2.7-11h0m-13.8 1.5h0m26.2-7.8h0m-4.3-2.4h0m-4.8 24.5h0m-2.5-23.7h0m2.4 8.1h0m5.1-3h0m-25.1 0.3h0m23 11.9h0m-3.1-7.9h0m4.1-1.7h0m-11.3 3.3h0m15.3-5.7h0m-5.9-1.1h0m-12.2 6.4h0m-6-8.1h0m1.4 2h0m2.8 23.1h0m15.1-17.8h0m-19.3-19.3h0m17.6 13.8h0m6.1 1.8h0m-23.4-1.9h0m-2.2-6.1h0m22.2 7h0m-0.2-0.3h0m-9.2 0.1h0m-3.1-0.8h0m20.3 4.7h0m-34.2 13.7h0m31.8-4.5h0m-13.5-10h0m-3.7 2.2h0m9.4-1h0m-12.8-7.5h0m24.7 20.7h0m-28.9-18.2h0m11.9 9.6h0m-0.7-2.7h0m4.7 7h0m-16.6-0.3h0m17.4-4.4h0m-19.4-6h0m12.4 6.8h0m9.4 0.4h0m-19.7 4.4h0m13.6-2.5h0m-0.8-12.7h0m7.7 1.8h0m-9.8 12.3h0m6.6 4.9h0m7.5-21.9h0m-27.2 17.3h0m21.3-11h0m-8.9-2.3h0m20.8 3.1h0m-31.7 8.3h0m12.9-4.3h0m-2.9-3.1h0m-15 4.5h0m11.9-7.1h0m10 12.8h0m-24.6-10.9h0m26.9 8.9h0m-14.5-5.4h0m13 4.7h0m-10.1-8.6h0m1.1 10.2h0m15.9-12.2h0m-12.2 5.1h0m-7.6-2.5h0m17.6 6.8h0m-15.4-11h0m5.6-6.3h0m4.2 12.3h0m-16.4-2.7h0m6.7-0.3h0m-2.1 12.6h0m-0.9-4.7h0m11.7 5.3h0m-2.6-11.1h0m1.2-14.5h0m-3.8 5.8h0m1.8 21h0m-6.2-9h0m17.8 3.9h0m-14.3-20.6h0m8.1 17.7h0m-7.3-7.6h0m20.7-8.8h0m-22.6 7.4h0m-10.5-0.6h0m7.7 14.8h0m-9.5-20h0m20-1.3h0m-22.6 7h0m8-2.7h0m10.4 10.9h0m-4.8-5.5h0m13.5 0.9h0m0.2-3.3h0m-2.4 14.2h0m-18.7 13.1h0m10.6-25.4h0m1.6 6.1h0m-10.4-3.2h0m6.2 10.5h0m-11.4-5.9h0m14.1-10.6h0m4.5 3.9h0m-1 3.6h0m11.6-4.9h0m6.2 12.3h0m-2.6-7.7h0m-12.8-9.2h0m10.6-1.1h0m-21.3 8.8h0m10.2 2.6h0m-13.9-5.2h0m16.5 11.6h0m2.7-5.9h0m-10.2-7.2h0m-2.5 3.4h0m10.4-3.1h0m15.2-3.8h0m-12.4 6.1h0m-9.5-1.4h0m16.7 0.7h0m-9.8 3.1h0m2 3.6h0m9-10h0m-24.7 18.3h0m20.9-12.2h0m-15.5 1.3h0m15.8-7.7h0m1.5 5.4h0m-18.1-2.6h0m-17.3 5.4h0m7.8-6.6h0m4.2 6h0m16.1-1.5h0m-5.3 2.8h0m14.1 1.3h0m-0.3-4.9h0m-12.2-4.4h0m2.4-1.5h0m-1.2 1.6h0m-8.2 14h0m5-3.2h0m-3.9-20.1h0m17.1 12.8h0m-21.1 8.5h0m-4.9-12.8h0m22.7 0.4h0m-0.1 2.9h0m-13.4 2.8h0m-2.9 7.6h0m15.9-7.6h0m-4.8 3.6h0m10.7-16h0m-6.6 18.8h0m-13.3-6.8h0m-0.3 9.3h0m-8-4.8h0m24.2-0.3h0m-17.6-7.7h0m-16.3-4.3h0m32 0.6h0m-27.2 5.3h0m1.5 5.3h0m6.1 3.7h0m7.6-17.9h0m-6.6 5.9h0m-0.7 14.1h0m-1.6-6.5h0m4.2 1.7h0m-8.4-16.3h0m19.3 22.6h0m-18.9-13.1h0m8.8-4.7h0m14.7 7.4h0m-23.5-2h0m27.1-3.7h0m-18.4-0.9h0m6.7 2h0m7.3-2h0m-23.4 9.6h0m-17.1-10.5h0m34.4 9h0m-8.5-5.2h0m10.9 31.4h0m-13.2-29.4h0m3.5 5.5h0m4.6 0h0m16.2-6.2h0m-19.2 4.9h0m19.8 6.1h0m-44.2-16.5h0m17.5 10.5h0m23.1-2.5h0m-11.6 15.9h0m1.9-0.2h0m-12.5-3.8h0m3.9-30.6h0m-3.2 14.7h0m7.8 9.2h0m7.3-1.7h0m-14.3 9.5h0m19.4-13.2h0m-17.7-0.6h0m3.5-4.9h0m2.1 0.2h0m6.6 0.1h0m-1.6 7.4h0m-3.2 1.5h0m-11.9 15.5h0m3.3-13.9h0m7.2-8.8h0m17.1 11.6h0m-20.1-4.1h0m9.6 7.7h0m3.3-13.2h0m-12.7-7.5h0m5.2 15.3h0m-6.5-1.6h0m5.2-8.5h0m-13.5 11.9h0m1.4-16.2h0m13.3 12.7h0m12.6-23.1h0m3.4 19.5h0m-17.2 1.6h0m-4.9-5h0m14.1-11h0m-11.7 17.4h0m-15.3-5.5h0m31.8 4h0m-8.2 2.6h0m-4.9-2.7h0m-10.3-4.3h0m26.6-7.7h0m-20.2-0.3h0m-3.6 3.8h0m-7 7.7h0m2.9 2.1h0m27.5-23.4h0m-19.8 3.5h0m0.5 18.8h0m3.3 6.3h0m-0.5-22.3h0m13.5 5.9h0m-16 9.7h0m-7.9-1.8h0m23.8-13.5h0m-31.6 9.4h0m14.9-6.3h0m-21.3 16.7h0m26.9-17.1h0m1.9 9.6h0m-4.2-9.6h0m-3.8 13.8h0m-15.3-11.7h0m27.2 23.2h0m1.6-3.6h0m-13.9-1.6h0m6.6 4.1h0m0 9.6h0m12.6-22.2h0m-19.9 10.5h0m17.2 1.9h0m-29.9-9.8h0m32.9 10.7h0m-7.1 4.4h0m-7.3-9.8h0m-4.6 3.7h0m11.7 3.3h0m8.1-1.5h0m-1.8-4.1h0m-17.6 4.6h0m15.9 2.9h0m-9.5-8.6h0m-1.5 4h0m2.5-2.6h0m2.4-0.5h0m0.7-1.5h0m-15.1 1.4h0m19.7 7.9h0m-11.7-5.2h0m-13.9 1.5h0m30.6-1.9h0m-28.3-3.6h0m10 3.3h0m8.3-2.5h0m-4.8-2h0m7.1 4.9h0m-1.8-3.4h0m1.1 1h0m-1.5 0.7h0m-7.7-4.5h0m-9.7-1.3h0m18.7 22.2h0m-16.9-19.6h0m13.1 21.1h0m-1.6-22.7h0m5 15.6h0m-25.7-15.7h0m32.3 0.1h0m-10.8 2.5h0m7-3.9h0m-3.6 8h0m2 1h0m-3.3-10.6h0m-3.8 4h0m6.8 3.4h0m-3 6.4h0m-2.1 2.8h0m7.6-15.2h0m-11.4 13h0m0.7-0.1h0m-0.5-6.4h0m12.7-7h0m-7.6 5.4h0m0.8 10.5h0m2.5-14.8h0m3.8 4.3h0m-6.4 7.8h0m-3.8-1h0m3.9-8.9h0m-3.9-2.2h0m12 7.3h0m-1.7-6.2h0m-1-0.3h0m-4.6 5.7h0m-6.9 1.5h0m5-5.7h0m-6.3-2.1h0m17 7h0m-13.9 2.7h0m-4-9h0m9.8 13.3h0m-0.5-6.9h0m11.6-8.3h0m-14.6 1h0m-9.1 5.4h0m4.8 2.4h0m-3.3-2.5h0m14.8-9.3h0m-9 9.1h0m-1.7 0.8h0m-10.3-1.5h0m10.2-2.9h0m14.3 14.7h0m-3.7-13.9h0m5 6.6h0m-17.9 0.5h0m1.9-0.1h0m12 2.8h0m-15.8-6.2h0m8.4-5.3h0m3.3 9.3h0m-14.4-6.1h0m2.3-3.5h0m0.3 12.9h0m3.2-8.6h0m13.2 6.9h0m3.4-15.1h0m-5.3 1.6h0m-11.1 6.5h0m0.5 11.5h0m3.3-3.8h0m-0.1-6h0m5.5 2.4h0m-0.1-10.5h0m0.1 10h0m0.7-1.9h0m-1.5-6h0m5.8 0.4h0m2.1 10.8h0m-11.7-6.3h0m6.7-0.1h0m-15.7 2.9h0m-0.3-3.6h0m24.2 6.1h0m-18-4.2h0m-1.6 0.2h0m-6.4 3.4h0m11.7-6.3h0m-5 15.8h0m1.4-15.1h0m-1.2-0.1h0m15.2 5.7h0m-7.1-1.5h0m-12.5-13.5h0m21.2 15.2h0m-10.4-2.1h0m-0.1-1.3h0m-3.7-10.9h0m6.7 11h0m3.2 1.3h0m-10.1 1.4h0m3.8-5.1h0m-4.5 0.1h0m0.6-0.1h0m10.3 16.4h0m-8.8-8.8h0m-14.9-21.1h0m12 14.9h0m-2.1-5.8h0m-0.9 4.1h0m8 0.9h0m-10.8-0.2h0m21.7-2.5h0m-11.6 9.2h0m-6.9-7.7h0m2.2 3.6h0m5-0.1h0m2.9-2.2h0m-21.4-3.2h0m18.9-1.9h0m-3.8 13.9h0m4.5-10.5h0m-0.8 8.3h0m-14.8-11.2h0m8.4 4h0m4.6-0.7h0m1.6 3.2h0m-10.2-3.4h0m-0.6 4.4h0m12 1.8h0m-9.1-5.8h0m-10.7 2.7h0m4.8 1.6h0m21.5 0.5h0m-3.6-1.1h0m-2 3.5h0m7.1 5.2h0m-12.2-5.8h0m9-1.9h0m-4.8-8.2h0m6.6 1.8h0m-13.9 0.2h0m9.7-0.6h0m-0.8 7.4h0m-2.9-4.4h0m4 8.1h0m-8.5-11.5h0m-1.1 0.8h0m2.9 3.5h0m-16.5 7.9h0m11.9-9.2h0m-9.1-7.5h0m7.5 10.7h0m14.9-9.9h0m-5 16.1h0m-4.1-2.8h0m4.8-9h0m5.4 1.5h0m-5.1 1.1h0m-26.7 15.5h0m6.2-7.1h0m-9.8 6.9h0m8.4-1.1h0m-4.7 2.7h0m7.1-5.5h0m-12.7 2.4h0m9.5-4h0m1.4 8.7h0m-1.4-6.9h0m-8.3 5.8h0m6.2 0.2h0m-6.4-14.2h0m9.9 15.4h0m-5.6-3.9h0m2.9 2.9h0m-2.6-4.9h0m-3.1 6h0m4.3-17.2h0m1 11h0m-6.5 0.2h0m0 0.3h0m2.9 3.7h0m-1.8-9.1h0m1.6 1.8h0m5.4 4.5h0m-9.7-2.6h0m6.6 3.2h0m-7.3-0.3h0m8.6 4.3h0m3.2-4.3h0m-9.6-1h0m7.8-2.1h0m2.4-0.1h0m-9.5 6.9h0m4.1-2h0m-0.8-1.1h0m-1.1 7.2h0m4.9-7.8h0m-0.7 3.7h0m-4-2.5h0m2.9-2.9h0m-3.9 1.4h0m1.9-0.8h0m-6.6 1.9h0m10.4 0h0m4.2 3h0m-8.2-5.9h0m3.4 1.2h0m-8.5 1.9h0m5.3-1.4h0m3.6 1.6h0m5.7-3.6h0m-8.5 4.1h0m-1.4-3.2h0m8.8-3.6h0m-5.6-1.2h0m-0.1-0.6h0m-6 11.8h0m10.8-3.9h0" stroke="#4a62f5" stroke-width=".7" stroke-linecap="square" opacity="0.6"/>
<ellipse cx="280" cy="360" rx="16" ry="12" fill="#6078f6" opacity="0.5" filter="url(#bl)" transform="rotate(-15 280 360)"/>
<ellipse cx="280" cy="360" rx="9.73" ry="7.3" fill="#3a52f0" opacity="0.8" filter="url(#bl)" transform="rotate(-15 280 360)"/>
<ellipse cx="272" cy="374" rx="12" ry="5" fill="#6078f6" opacity="0.5" filter="url(#bl)" transform="rotate(-5 272 374)"/>
<ellipse cx="272" cy="374" rx="9.6" ry="4" fill="#3a52f0" opacity="0.8" filter="url(#bl)" transform="rotate(-5 272 374)"/>
<ellipse cx="272" cy="374" rx="7.26" ry="3.02" fill="#28b4c8" opacity="0.92" filter="url(#bl)" transform="rotate(-5 272 374)"/>
<ellipse cx="265" cy="376.2" rx="9" ry="6.2" fill="#6078f6" opacity="0.5" filter="url(#bl)" transform="rotate(-15 265 376.2)"/>
<ellipse cx="265" cy="376.2" rx="7.2" ry="4.96" fill="#3a52f0" opacity="0.8" filter="url(#bl)" transform="rotate(-15 265 376.2)"/>
<ellipse cx="265" cy="376.2" rx="5.67" ry="3.91" fill="#28b4c8" opacity="0.92" filter="url(#bl)" transform="rotate(-15 265 376.2)"/>
<ellipse cx="265" cy="376.2" rx="4.23" ry="2.91" fill="#48cc48" opacity="1" filter="url(#bl)" transform="rotate(-15 265 376.2)"/>
<ellipse cx="265" cy="376.2" rx="2.88" ry="1.98" fill="#ecdf22" opacity="1" filter="url(#bl)" transform="rotate(-15 265 376.2)"/>
<ellipse cx="265" cy="376.2" rx="1.3" ry="0.89" fill="#ff4a10" opacity="1" filter="url(#bl)" transform="rotate(-15 265 376.2)"/>
</g>
<g fill="none" stroke="#333" stroke-width="0.7"><rect x="258.2" y="341.2" width="39.6" height="28.1"/><rect x="254.3" y="369.3" width="44.5" height="17.9"/></g>
<line x1="275.3" y1="369.3" x2="275.3" y2="387.2" stroke="#222" stroke-width="0.8"/>
<text x="291.1" y="351" font-size="5" text-anchor="end" font-weight="bold" stroke="#111" stroke-width="0.12" fill="#111" dominant-baseline="central">35.0%</text>
<rect x="312.5" y="339" width="56.4" height="56.8" fill="#fff" stroke="#b0b0b0" stroke-width="0.5"/>
<line x1="312.5" y1="339" x2="312.5" y2="395.8" stroke="#444" stroke-width="0.5"/>
<line x1="312.5" y1="395.8" x2="368.9" y2="395.8" stroke="#444" stroke-width="0.5"/>
<path d="M311.7 340.89h.8M311.7 342.79h.8M311.7 344.68h.8M311.7 346.57h.8M311.7 348.47h.8M311.7 350.36h.8M311.7 352.25h.8M311.7 354.15h.8M311.7 356.04h.8M311.7 357.93h.8M311.7 359.83h.8M311.7 361.72h.8M311.7 363.61h.8M311.7 365.51h.8M311.7 367.4h.8M311.7 369.29h.8M311.7 371.19h.8M311.7 373.08h.8M311.7 374.97h.8M311.7 376.87h.8M311.7 378.76h.8M311.7 380.65h.8M311.7 382.55h.8M311.7 384.44h.8M311.7 386.33h.8M311.7 388.23h.8M311.7 390.12h.8M311.7 392.01h.8M311.7 393.91h.8M312.5 395.8v.8M315.32 395.8v.8M318.14 395.8v.8M320.96 395.8v.8M323.78 395.8v.8M326.6 395.8v.8M329.42 395.8v.8M332.24 395.8v.8M335.06 395.8v.8M337.88 395.8v.8M340.7 395.8v.8M343.52 395.8v.8M346.34 395.8v.8M349.16 395.8v.8M351.98 395.8v.8M354.8 395.8v.8M357.62 395.8v.8M360.44 395.8v.8M363.26 395.8v.8M366.08 395.8v.8M368.9 395.8v.8" fill="none" stroke="#666" stroke-width="0.3"/>
<line x1="310.9" y1="347.12" x2="312.5" y2="347.12" stroke="#444" stroke-width="0.4"/>
<text x="310.6" y="347.12" font-size="2.6" text-anchor="end" fill="#333" dominant-baseline="central">10⁴</text>
<line x1="310.9" y1="363.14" x2="312.5" y2="363.14" stroke="#444" stroke-width="0.4"/>
<text x="310.6" y="363.14" font-size="2.6" text-anchor="end" fill="#333" dominant-baseline="central">10³</text>
<line x1="310.9" y1="380.07" x2="312.5" y2="380.07" stroke="#444" stroke-width="0.4"/>
<text x="310.6" y="380.07" font-size="2.6" text-anchor="end" fill="#333" dominant-baseline="central">10²</text>
<line x1="310.9" y1="395.23" x2="312.5" y2="395.23" stroke="#444" stroke-width="0.4"/>
<text x="310.6" y="395.23" font-size="2.6" text-anchor="end" fill="#333" dominant-baseline="central">10¹</text>
<line x1="313.74" y1="395.8" x2="313.74" y2="397.3" stroke="#444" stroke-width="0.4"/>
<text x="313.74" y="399.2" font-size="2.5" text-anchor="middle" fill="#333" dominant-baseline="central">0</text>
<line x1="323.78" y1="395.8" x2="323.78" y2="397.3" stroke="#444" stroke-width="0.4"/>
<text x="323.78" y="399.2" font-size="2.5" text-anchor="middle" fill="#333" dominant-baseline="central">20K</text>
<line x1="335.06" y1="395.8" x2="335.06" y2="397.3" stroke="#444" stroke-width="0.4"/>
<text x="335.06" y="399.2" font-size="2.5" text-anchor="middle" fill="#333" dominant-baseline="central">40K</text>
<line x1="346" y1="395.8" x2="346" y2="397.3" stroke="#444" stroke-width="0.4"/>
<text x="346" y="399.2" font-size="2.5" text-anchor="middle" fill="#333" dominant-baseline="central">60K</text>
<line x1="357.06" y1="395.8" x2="357.06" y2="397.3" stroke="#444" stroke-width="0.4"/>
<text x="357.06" y="399.2" font-size="2.5" text-anchor="middle" fill="#333" dominant-baseline="central">80K</text>
<line x1="365.97" y1="395.8" x2="365.97" y2="397.3" stroke="#444" stroke-width="0.4"/>
<text x="365.97" y="399.2" font-size="2.5" text-anchor="middle" fill="#333" dominant-baseline="central">100K</text>
<clipPath id="cp1268"><rect x="312.8" y="339.3" width="55.8" height="56.2"/></clipPath><g clip-path="url(#cp1268)">
<ellipse cx="346" cy="364" rx="20" ry="16" fill="#5c74f4" opacity="0.38" filter="url(#bl2)"/>
<path d="M319.9 380.3h0m14.8-8.2h0m-3-0.8h0m1.3 4.8h0m1.1 3.3h0m-3.8-11.5h0m-2.6 3.6h0m4 3.2h0m1.6 7h0m0.3-9.5h0m-1.6 0.8h0m0.3 5.6h0m-4.4 0.5h0m14.5 3.2h0m-0.8-5.6h0m-14.8 7.4h0m6.4-6.8h0m-1.5-4.5h0m4.9-1.8h0m-10 7.5h0m5-5.3h0m4.4 8.7h0m-3.9-6h0m4.2 4.1h0m2.3-1h0m-8.4-0.6h0m3.3-8.5h0m6.2 8.7h0m0.6-2.5h0m-3.2 0h0m-2.8 3.8h0m-0.5-1.2h0m-0.5 2.4h0m3.4-11.1h0m5.1 8.1h0m-10.8-4.1h0m12.4 2.7h0m-7.4 2h0m-5.5 4.4h0m13.5-9.7h0m-4.8-3.3h0m-7.4 6.5h0m2 2h0m1.7-0.8h0m-2.7-0.2h0m-2.1 6.4h0m3.1-2.8h0m0.2-5.4h0m-1.4-4.4h0m11.2 6.6h0m-9.6-3.4h0m5.7 0.5h0m-8.7-0.8h0m10 3.3h0m-8.4-3.7h0m7.1 3.6h0m-8 2.3h0m6-7.2h0m1.3 8h0m-6.9-9.3h0m6.6 3.8h0m-6.4 0.2h0m-0.3 4.3h0m-4.1-1.2h0m11.2 2h0m-2.2-3h0m-4.6-1.5h0m-3.3 6.9h0m3.7-10.3h0m4.7 9.7h0m-2.7-7h0m-6.9 3.7h0m4.3-5h0m4.2-2.4h0m0.7-4.4h0m-6.7 3.9h0m1.8 8.5h0m-5.2 2.1h0m3.1-7h0m8.2-1h0m2.3 2h0m-7.6-2.9h0m6.1 3.5h0m-8-3.4h0m-0.8 3.2h0m-0.4 3.4h0m3.4-5.3h0m2.4 7.7h0m-12.5-4h0m15.6-0.9h0m-1.3-6.4h0m-7.7 9.7h0m3.2-3.6h0m3.5 1.2h0m-0.8-3.3h0m-3.7 6.9h0m-1-10.5h0m0.7 8.9h0m10.6-2.8h0m-11.9 1.7h0m4.5 2.2h0m1.1-1.6h0m0-1.3h0m-7-2.2h0m12.3 5.7h0m-3.1-3.6h0m-5.3-0.2h0m-1 2.8h0m0.1-7h0m-6.4 8.8h0m4.2-9.2h0m5.7 10.1h0m1.3-8.1h0m-0.5-1.8h0m-4 3.2h0m1.3 2.9h0m2.5 4.2h0m1.5-8.3h0m-2.8-2.1h0m-4.3 1.9h0m8-1.3h0m-12.6-1.2h0m1.8 3.1h0m4.3-3.7h0m-2.3 2.8h0m5.7 3.9h0m4.6-3.3h0m-3.4 1.3h0m-8.4-2.7h0m16 1.8h0m-2.6 3.7h0m0-3.8h0m-3.5-0.4h0m-9.9-3.3h0m7.5-1.7h0m-0.4 2.8h0m0-1.9h0m2.4 4.3h0m-11.6-4.5h0m7.8-0.8h0m1.3 8h0m-4.8 3.5h0m10.2-4.1h0m-4.8 0.6h0m-3.5 3.2h0m-1.3-14.5h0m2.7 11.2h0m3.9-5.9h0m2.7 1.1h0m-3.7 5.9h0m-2.1 1.5h0m-3.3 3.5h0m4.8-9.4h0m10.2 1.6h0m-20.5 5.4h0m15.4-7.6h0m-12.3 6.5h0m5.1-7.9h0m-2.6 3.9h0m7.1 5.6h0m-7.8-0.1h0m-4.3-3.1h0m6.6-1h0m-1.4-4.4h0m3.5 7h0m-12.1-4.1h0m8.8-4.2h0m-4.6 6h0m9.2 0.4h0m-12.3-8.2h0m6.6 4.2h0m11.5 0.2h0m-7.9 5.2h0m7.5-2.4h0m-6.4 5.9h0m-3.6-14.1h0m-1.7 5.6h0m9.9 2.4h0m-0.5-0.8h0m-5.6-2.6h0m-6.2 4.1h0m7.8 0.3h0m-4.4-3.8h0m4.4 3.9h0m7.8-5.6h0m-4.8 6.7h0m-6.1-2.9h0m1 5.3h0m12.6-4.6h0m-13.5 2.4h0m3.6-4.3h0m1.3 4h0m-5.6-0.1h0m-8.9-8.1h0m9.3 5.5h0m-5.5 5h0m5.2-5h0m1.6 2.3h0m-2.6-0.1h0m-1.2-8.4h0m22.7-7.6h0m3.5-15.9h0m-7.4 9.8h0m-2.9 1.9h0m-1.8-2h0m13.5-8h0m-26 15.6h0m35.6-8.4h0m-28.2-3h0m-1.1 18.3h0m16.4-2.7h0m-3.2-5h0m-9-9.1h0m11.6 26.1h0m-9.5-9.2h0m-3.3-9.3h0m23.2-0.8h0m-10.2-3.7h0m12-5.1h0m-12.8 7.5h0m-3.5 4.6h0m10.8 3.9h0m-2.5-3.9h0m-20.5 7.4h0m25.2-6.5h0m-7.2-5.4h0m-21.6 9.2h0m6.9 7.1h0m13.7-14.7h0m-12.6 0.9h0m-3.8-3.6h0m25.2 0.6h0m2.3 1.5h0m-13.8-6.3h0m-6.9 3.6h0m-10.5 18.1h0m19.1-15.3h0m-16.3 0.9h0m0.4-7.7h0m8.4 23.8h0m-15-12.1h0m11.5-26.4h0m-8.4 21.1h0m14.3-4.7h0m16.6 9.8h0m-23.3-16.6h0m7.8 7.4h0m8.2-2.8h0m1.7 4.4h0m-9.7 1.5h0m4.1 10.8h0m-11.3-15.7h0m23.6 14.2h0m0.2 0h0m-17.2 5.1h0m-7.8-15.6h0m2.6 8.4h0m-4.4-6.5h0m0.1-0.5h0m19 10.3h0m-13 10.9h0m-4.7-15.9h0m2.2-20.4h0m-6.9 26.4h0m-4.5 12.8h0m14.9-20.2h0m13.3-1.9h0m-18.3-4.8h0m-3 8.8h0m4.6-0.3h0m-10-7.2h0m34.5 6.1h0m-21 6.3h0m3.7 2.6h0m-14-5.8h0m1-0.7h0m2-2h0m12.8-8.7h0m-2.1-2.6h0m7 15.1h0m-11-1.7h0m-16.6-2.7h0m13.8-8.6h0m13.2 13.7h0m-3 4.8h0m-11.9-15.7h0m10.2-17.5h0m-30.7 23.3h0m24.5-2.1h0m-7.3 1.3h0m19.7-6.6h0m-4.8 3.6h0m-7.1 2.1h0m16.2 3.1h0m-8-2.8h0m-27.5 6h0m20.7-6.4h0m-4.8-12.6h0m19.5 25.8h0m0.8-28.1h0m-10 5.1h0m-7.2 5.1h0m-4.2-2h0m1.4 11.9h0m20.3 1.1h0m-15.8-8.2h0m-2.2 1h0m-3.7-1.3h0m14.3-0.3h0m-16.2 0.8h0m8.8 0.3h0m-3.4 6h0m2.1-13.1h0m6 2.3h0m1.9 11.7h0m-2.8-3.9h0m-17.8-3.9h0m14.3 6.4h0m-12.2-6.1h0m-4 2.6h0m15.8-0.4h0m15.3 4.6h0m-18-10h0m-2.5 10.4h0m13.3-9.8h0m-10 0.5h0m7.8 4.8h0m-13.8-8.3h0m19.8-3.9h0m7.2 6.6h0m-11.5 8.4h0m-0.2 4.4h0m-12.8-8.8h0m14.2 4.4h0m-17-10.1h0m-6.8 7.8h0m9-13.9h0m-0.3 14.4h0m7.3-4.2h0m-0.2 6.7h0m-13.4-11.2h0m21.3 11.8h0m-23.3-11.1h0m28 11.3h0m-15.6 2h0m14.8 3h0m-27.1-20.7h0m8.7 9.5h0m1.5 2.3h0m18 6.5h0m-4.8-8.4h0m6.5 3.5h0m-13.8-3.6h0m-20.5 16.6h0m17.9-9.6h0m-11.3 0.9h0m13.9-15h0m7.1 7.3h0m-18.8-19.4h0m-0.5 22.2h0m-0.4 4.5h0m12.4-8h0m6.3 0.9h0m1.7 10.6h0m-1.8-18.2h0m-1.8 5.3h0m-3.5 9.4h0m-9.6-5.8h0m21-7.9h0m-16.4 11.9h0m-0.4 2.2h0m-7.7-19.2h0m13.7 10.4h0m-0.6 8.4h0m7.3-10h0m-14.2-12.2h0m-5.8 16.7h0m11.7-13.2h0m5.6 11h0m3.2-2.4h0m-1.4-5.7h0m-27.8 2.3h0m25.2 9.2h0m-25.6-1.9h0m25.3 11.6h0m1.1-8.9h0m-23.3-1h0m-3.9-5.1h0m15.8-5.2h0m-6.3 6.4h0m15.7-3.9h0m-2.7 10.3h0m-3.3 9.2h0m-2.8-20.1h0m-15.7 13.7h0m25.5-9.6h0m-3.6 0.4h0m5.5 0.9h0m-6.4-0.5h0m-11-16.2h0m14.2 7.4h0m-1.5 14.3h0m14.7-10.5h0m-17.1 12.8h0m-8.1-11.6h0m11 20.1h0m6.2-8.4h0m-20.2-2.3h0m20.8-14.6h0m-11.1 8.2h0m6.3-11.8h0m0.6 13.2h0m-9.7-16h0m-17.8 11.9h0m26.9 7.3h0m1-16.1h0m-5.4 23.1h0m-17.4-5.2h0m8.2-0.8h0m8.2-16.5h0m-11.4 22h0m9.3-0.3h0m4.4-2.6h0m-7.2-5.1h0m0.2 5.2h0m-2 1.5h0m21.2-17.6h0m-17.2 13.3h0m19.2 4.6h0m-16.7-21.8h0m7.5 8.7h0m-6.4 7.5h0m-15.9 5h0m23-3.7h0m-3.1-1.7h0m-19.8-6.5h0m21.9 1.3h0m-7.8 5.3h0m0.6-0.8h0m3.9-2h0m-15.7-2h0m20.4-3.1h0m-4.8 7.4h0m-13.4-23.6h0m8.6 15.5h0m-6.1 12.9h0m-1.3-4.4h0m8.7-1.2h0m18.5-16.4h0m-10.1 13.8h0m-12.3-3.9h0m3.1 5.4h0m-9.4 12h0m1.7-13.4h0m-5.2 2.2h0m16.1 7h0m6.1-12h0m6.2 3h0m-0.5 13.8h0m-19.3-21.1h0m9.3 19h0m-1.4-2.6h0m1.9-1.6h0m7.2-8.9h0m-27 1.3h0m6.1-8.1h0m6.2 14.4h0m-16.6-16.8h0m26.1 4.7h0m-11.7 16.9h0m14.9-7.5h0m-5.7-23.2h0m0.1 23.4h0m-19.2-1.5h0m18.2-2.3h0m3.3 7.6h0m-7.3-8.6h0m-12.1 10.5h0m6-6.2h0m20.8 3.5h0m-27.7-6.5h0m5.5-11.8h0m-0.9 16.8h0m11.3-5.9h0m-1.6-7.3h0m-9.3 7.6h0m15.4-1.2h0m-9.5 4.9h0m16.1-12h0m-9.2 10.9h0m-6 0.5h0m-18.8-1.7h0m17.2-9.5h0m10.6 8.4h0m-11.7 6.6h0m-5.7-11.1h0m17.3 12h0m11.7-10h0m-34.2-7.8h0m2.5 12h0m9.5-5.9h0m-7.6-0.1h0m6.3 14.2h0m9.8 1.3h0m1.9-4.6h0m3.5-2.3h0m3.6 5.1h0m2.7-6.9h0m-25.5 17.3h0m4.8-15h0m-0.9-9.1h0m8-3.2h0m-5.9 19h0m2.8-4.4h0m5.1-3.3h0m-5.3 1.7h0m-10.5-0.2h0m-1.1-10.1h0m4.8-4.4h0m-13.6 13h0m24.4 2.1h0m2.4-10.6h0m-0.4-3h0m12.4 1.4h0m-23.5 12.8h0m-17.6 4.5h0m12.3-8.6h0m19-0.3h0m-0.4-5h0m-3.4-12.6h0m9.1 11.4h0m-23.4 5.1h0m25.2-5.4h0m-16.9 2.6h0m-9-7.1h0m15 15.1h0m-13.2-3.6h0m11.8 1.2h0m-6.1-2.6h0m4.4-8.3h0m-4.2 14h0m-4.1 3.9h0m3.2-18.2h0m-0.5-1.9h0m8.9-1.8h0m-5.9 10.2h0m-3.1 5h0m5.8-7.4h0m5.2 0.8h0m0.8 13.5h0m-5.1-3.1h0m-16.9-2.8h0m-1.6-5.5h0m21.6-18.9h0m-14.5 14.4h0m-1.6 6h0m15.5-8.9h0m-12.4-5.3h0m-0.8-1.8h0m-7.9 19.3h0m23.5-9.6h0m-5.2 0.3h0m7.1 19h0m-34.8-19.7h0m17.9 2.9h0m21.7 15.4h0m-15.5-7h0m-15.6-7h0m12.9 1.1h0m5.8-10.7h0m-13.3 27.9h0m-6.8-15.6h0m24.3 3.2h0m-6.6-15.8h0m-5.2 0.4h0m24 14.4h0m-12.2-1.2h0m-11 7.4h0m12.5-4.1h0m-2.9 0.8h0m-8.5-2.3h0m3.5-5.2h0m5.6 18h0m-26.4-5.3h0m15.7-1.7h0m-5.7-10.5h0m20.1 0.9h0m-6.6-8.6h0m-14.8 21.7h0m12.9-13.2h0m-15.2-7.2h0m3.4 7.4h0m9.1-4.2h0m-5.5 5.4h0m18.2-11.4h0m-25.6 19.1h0m-0.1-11.6h0m15.3 16.8h0m-21.3-35.6h0m19.3 30h0m2.2-14.2h0m0.5-9.4h0m6.2 26.7h0m-10.1-5h0m-8.4 4.9h0m4-17.1h0m-1.1-7.3h0m14.1 28.4h0m-20.7-16.6h0m18.5-2.8h0m-19.8 6.8h0m25.3-1.7h0m-20.4-3.1h0m-8.5 1.9h0m31 8.8h0m-12.8-5.1h0m-4.3-2.3h0m-0.8 0.2h0m0.8 0.3h0m12-1.6h0m-19.7 3.9h0m10.4-7.5h0m8-2.6h0m3.6 10.5h0m-16-9.5h0m5.6-1.5h0m10.5-10.2h0m-7.8 14.4h0m-12.3 7.4h0m6-1.4h0m0.5-5.5h0m9.5 9.3h0m4.6-7.4h0m4.8-2.4h0m-28-11.5h0m-0.8 7.6h0m-3.3 9h0m17.8-2.8h0m2-0.5h0m-4.8-1.6h0m2.9-6.1h0m12.2 20.1h0m-12.3 5.6h0m-9.8-10.4h0m-6.4-2.2h0m8.6 3h0m8.4-0.4h0m4.9-3.2h0m-8.7 8h0m6.2-8.3h0m10.6-5.6h0m3.1 10.1h0m-16.4-19.2h0m11.2 8.7h0m-11 3.2h0m8.4 3.9h0m-27.3-9.8h0m21.4 6.3h0m4.3 3h0m8.2-9.8h0m-3.1 8.4h0m-9.9 2.3h0m-6.3 0.2h0m1.3 0.1h0m-5.4 3.4h0m-7.5-13.8h0m14.5 6.7h0m-7.4-4.8h0m10.4 10.9h0m10.2-11.5h0m-13.4 1.3h0m-14.3-1.1h0m26.1-6.8h0m5.9 11.6h0m-39.7 1.9h0m38.3-7.6h0m-3.2 10.1h0m-4.7-0.1h0m-2-0.8h0m6-1.7h0m-5.5 0.1h0m-4.9-9.9h0m-19-1.1h0m5.5-3.5h0m18.9 8.7h0m5.7 26.2h0m-4.8-27.2h0m-3.9 2h0m-0.9 17.3h0m12.9-6.1h0m-12.9 3.8h0m5.3-6.7h0m-19.6-11.4h0m13.1 3h0m-6.7-13.5h0m-2.3 14.3h0m10.4-7.3h0m-4.3 21.8h0m2.8-28.6h0m-3.3 15h0m14.2 1.4h0m1.1 1h0m-2 7.8h0m3.6-8.8h0m-8.8 28.3h0m-18.3-28.3h0m16.7-6.8h0m3.4 4.1h0m-0.3 2.7h0m-17 6.5h0m28.9-1h0m-16.9-20h0m0.4 12.8h0m-11-14.3h0m12.2 21.9h0m2.6 9.9h0m-25.6-14.6h0m18.3 8.2h0m0-18.2h0m-0.3 10.6h0m-6.6-9.2h0m9.8 12.6h0m-4.9-3h0m-2.6-6.3h0m6.8 10h0m13.7-8.3h0m-11.2 15.9h0m3.8-17.7h0m-4.2-8.1h0m-24.5 5h0m13.5-4.4h0m17.1 6.8h0m-9.2 4h0m-2.9-9.5h0m21-6.1h0m-19.3 20.3h0m-1.7-6h0m5.1 2.6h0m-6.4 6.4h0m8.3 3.2h0m-4.1-26.6h0m-17 11.2h0m20.6-8.5h0m-2.9 28.4h0m7-9.4h0m-3.4 4h0m-2.5-2.1h0m-1.7 2.6h0m17.4 5.9h0m-22.1 4.1h0m8.8-17.7h0m-10.7 7.3h0m13.4-3.7h0m-8 2h0m8.3 4.2h0m2.3-14.5h0m-9 12.6h0m7.5 2.5h0m-14.5 3.7h0m2.3-8.4h0m5.7-1.3h0m-2.4 6.1h0m12.2-2.2h0m-16.1-4.7h0m9.5 4.9h0m-3.9-3.1h0m2-10.5h0m-3.5 19.5h0m12.4-13.4h0m-0.4 6.4h0m-12.3 3h0m1.4-5.2h0m4.9 2.4h0m-3.6 0.4h0m3.5-0.4h0m3-4h0m-13.7 2.7h0m20.2 1.9h0m-7.8-5.1h0m-10.6-2.4h0m1.7 4.2h0m-4.8 1.2h0m-0.3 3.6h0m12-11.4h0m-4 9.4h0m7.2 2.6h0m-5.7-4.4h0m0.9 3.3h0m-3.5-3.3h0m6.5-0.9h0m-9.5 8.1h0m12.2-10.8h0m-10.6 2.6h0m10.9 8.9h0m6.5-4.5h0m-10.1 0.5h0m-6.6-6.5h0m10.1 4.3h0m-2.2-5.8h0m0.1-2h0m5.2 6.9h0m-12.1-2.3h0m-0.5 8.7h0m-17-1.1h0m22.6-4.1h0m-7.6-7.5h0m9.3 4.1h0m2.1 7.2h0m-4.9-2.5h0m2.3-1.4h0m-5.4 0h0m7.4-0.8h0m-6.9-7.3h0m-4.7 14.4h0m16.1-6.1h0m-5.6-2.1h0m3 5.3h0m-7.2-3.1h0m9.3-9h0m-14.6 4.8h0m-1.7 0.7h0m2.4 0.2h0m10.2-3.8h0m-2.9 12.2h0m0.7-12.4h0m-6.1 11.4h0m2.6-8.6h0m8.1-0.4h0m-14.6 6.4h0m8.7-6.1h0m3.5 8.4h0m4.7-4.8h0m-4.8 1.9h0m-15 5.6h0m6.4-10.6h0m-1.3-2h0m14.8 4.7h0m-12.9-8.8h0m5.7 8.5h0m-9.2-0.2h0m-6.1 3.5h0m4.7-0.7h0m10.1-12.5h0m-9.4 7h0m14.8 6h0m-1.3 5.1h0m-7.1-10.4h0m-12.2-2.5h0m18.8 0.9h0m-11.1 8.6h0m-12.2 2.1h0m28.9-15.2h0m-6.3 8.5h0m3.3-1.6h0m-7.9 8.4h0m-3.6-4.8h0m9.4-2.5h0m1.9 3h0m-0.3-10.6h0m-14.4 9.5h0m17 5.5h0m-8.9-10.4h0m-8.5-5.7h0m4.5 12h0m3.3-9.8h0m-0.2 7.3h0m-5 6.7h0m9.1-1.7h0m-2.6-9.9h0m7.6 9.9h0m-12.8-11.6h0m10.7 3.7h0m-15.2 2.3h0m13.2-3.2h0m-4 8.3h0m5.5-12.2h0m-0.2 15.9h0m1.5-8.9h0m-4.2-7.1h0m-7.3 5.1h0m-3 10.5h0m16.9-15.9h0m-11-0.2h0m9.5-2.8h0m6.3 5.8h0m-22.2 15.1h0m12.1-8.4h0m2.5-6.4h0m0.1 3.4h0m-2.7 2.5h0m6.6-7.3h0m-21.3 9.3h0m9.4 0.1h0m-8-2.8h0m-3.6 0.1h0m18.4 7.6h0m-9.4-3.7h0m14.2-9.4h0m-12.4-3.9h0m-4.6 10.9h0m-8.9-3.5h0m21.1 8.3h0m-24.7-5h0m14.5-12.8h0m-3.1 13.8h0m7.6 0.5h0m-2.1-0.2h0m-5.2-7.8h0m6.2-3.7h0m10.7 7.2h0m-16.9-3h0m0.1 4.7h0m4.6 3.6h0m-6.1-4.5h0m-2.7-1.9h0m22 1.7h0m-3.6 0.3h0m-15.2-4h0m-0.3 5.9h0m10.4 12.4h0m11-10h0m-20.2-3.5h0m0.5 10.7h0m1.4-5.7h0m-4.8-1.9h0m1-5.9h0m10.7 2.9h0m-1.8-1h0m-6.1-0.2h0m6-3.9h0m4.9 5.3h0m-10.1 5.4h0m1.4-15.4h0m14 7.3h0m1.5 3.9h0m-18 3.3h0m10.4-0.9h0m-3.2 3h0m-19.9 4.3h0m-9.3 1.1h0m6-3.7h0m-1 9.6h0m-1-1.4h0m-1.8-8.1h0m7.2 3.1h0m-2.8 4.6h0m5.4-8.7h0m-4 5.6h0m-1.7 6h0m-1.5-9.1h0m2.9-5.6h0m-0.5 4.4h0m-0.2 0.6h0m0.7 1.9h0m-4.7 3h0m5.6-8.2h0m-7.8 5.1h0m3.5 6.1h0m7.5-3.2h0m-1.9-3.1h0m-9.4 2.4h0m-1.5 5.1h0m7.7-1.8h0m-3.4-10.7h0m1.7 8.1h0m-0.1-3.8h0m1.2 1.2h0m5-4.3h0m-13.8 4.7h0m9.5-5.6h0m-1.2 7.6h0m1.4-0.5h0m-4.1-6.7h0m6.5 4.2h0m-8.9 7.3h0m8.1-16.8h0m7 11.4h0m-16 3.1h0m7.4 1.1h0m-1.2-11.2h0m-0.7 4.8h0m1.8 0.9h0m1-4h0m-4.2 2.7h0m3.6-4.6h0m-1.6 15.8h0m-6.8-5.2h0m7.2-0.2h0m-0.2-2.8h0m1.2 0.8h0m-6-2.3h0m11.6 6h0m-10.2-9.1h0m2.6 7.7h0m4.2-6.3h0m-12.6 2h0m2.7 4.8h0m12-2h0" stroke="#4a62f5" stroke-width=".7" stroke-linecap="square" opacity="0.6"/>
<ellipse cx="348" cy="362" rx="16" ry="11" fill="#6078f6" opacity="0.5" filter="url(#bl)" transform="rotate(-15 348 362)"/>
<ellipse cx="348" cy="362" rx="9.73" ry="6.69" fill="#3a52f0" opacity="0.8" filter="url(#bl)" transform="rotate(-15 348 362)"/>
<ellipse cx="341" cy="374" rx="12" ry="5" fill="#6078f6" opacity="0.5" filter="url(#bl)" transform="rotate(-5 341 374)"/>
<ellipse cx="341" cy="374" rx="9.6" ry="4" fill="#3a52f0" opacity="0.8" filter="url(#bl)" transform="rotate(-5 341 374)"/>
<ellipse cx="341" cy="374" rx="7.26" ry="3.02" fill="#28b4c8" opacity="0.92" filter="url(#bl)" transform="rotate(-5 341 374)"/>
<ellipse cx="334" cy="376.4" rx="9" ry="6.2" fill="#6078f6" opacity="0.5" filter="url(#bl)" transform="rotate(-15 334 376.4)"/>
<ellipse cx="334" cy="376.4" rx="7.2" ry="4.96" fill="#3a52f0" opacity="0.8" filter="url(#bl)" transform="rotate(-15 334 376.4)"/>
<ellipse cx="334" cy="376.4" rx="5.67" ry="3.91" fill="#28b4c8" opacity="0.92" filter="url(#bl)" transform="rotate(-15 334 376.4)"/>
<ellipse cx="334" cy="376.4" rx="4.23" ry="2.91" fill="#48cc48" opacity="1" filter="url(#bl)" transform="rotate(-15 334 376.4)"/>
<ellipse cx="334" cy="376.4" rx="2.88" ry="1.98" fill="#ecdf22" opacity="1" filter="url(#bl)" transform="rotate(-15 334 376.4)"/>
<ellipse cx="334" cy="376.4" rx="1.3" ry="0.89" fill="#ff4a10" opacity="1" filter="url(#bl)" transform="rotate(-15 334 376.4)"/>
</g>
<g fill="none" stroke="#333" stroke-width="0.7"><rect x="325.3" y="341.7" width="39.9" height="28"/><rect x="322.3" y="369.7" width="44.5" height="17.6"/></g>
<line x1="343.3" y1="369.7" x2="343.3" y2="387.3" stroke="#222" stroke-width="0.8"/>
<text x="359" y="350.9" font-size="5" text-anchor="end" font-weight="bold" stroke="#111" stroke-width="0.12" fill="#111" dominant-baseline="central">27.5%</text>
<line x1="231.1" y1="340.6" x2="231.1" y2="386.5" stroke="#000" stroke-width="1.4"/>
<path d="M228.2 343.5L231.1 340.4L234 343.5" fill="none" stroke="#000" stroke-width="1.3"/>
<text x="231.1" y="394.5" font-size="5.5" text-anchor="middle" font-weight="bold" stroke="#000" stroke-width="0.14" textLength="10.5" lengthAdjust="spacingAndGlyphs" transform="rotate(-90 231.1 394.5)" dominant-baseline="central">EdU</text>
<text x="231.6" y="405.5" font-size="5" text-anchor="middle" font-weight="bold" stroke="#000" stroke-width="0.12" dominant-baseline="central">PI</text>
<line x1="238.7" y1="404.3" x2="370.4" y2="404.3" stroke="#000" stroke-width="1.4"/>
<path d="M367.5 401.4L370.6 404.3L367.5 407.2" fill="none" stroke="#000" stroke-width="1.3"/>
<line x1="386.7" y1="395.4" x2="389.3" y2="395.4" stroke="#000" stroke-width="0.7"/>
<text x="386.4" y="395.4" font-size="3.7" text-anchor="end" font-weight="bold" stroke="#222" stroke-width="0.09" fill="#222" dominant-baseline="central">0</text>
<line x1="386.7" y1="379.42" x2="389.3" y2="379.42" stroke="#000" stroke-width="0.7"/>
<text x="386.4" y="379.42" font-size="3.7" text-anchor="end" font-weight="bold" stroke="#222" stroke-width="0.09" fill="#222" dominant-baseline="central">20</text>
<line x1="386.7" y1="363.45" x2="389.3" y2="363.45" stroke="#000" stroke-width="0.7"/>
<text x="386.4" y="363.45" font-size="3.7" text-anchor="end" font-weight="bold" stroke="#222" stroke-width="0.09" fill="#222" dominant-baseline="central">40</text>
<line x1="386.7" y1="347.48" x2="389.3" y2="347.48" stroke="#000" stroke-width="0.7"/>
<text x="386.4" y="347.48" font-size="3.7" text-anchor="end" font-weight="bold" stroke="#222" stroke-width="0.09" fill="#222" dominant-baseline="central">60</text>
<line x1="386.7" y1="331.5" x2="389.3" y2="331.5" stroke="#000" stroke-width="0.7"/>
<text x="386.4" y="331.5" font-size="3.7" text-anchor="end" font-weight="bold" stroke="#222" stroke-width="0.09" fill="#222" dominant-baseline="central">80</text>
<line x1="398.1" y1="345.4" x2="398.1" y2="349.4" stroke="#111" stroke-width="0.8"/>
<line x1="396.6" y1="345.4" x2="399.6" y2="345.4" stroke="#111" stroke-width="0.8"/>
<rect x="394.8" y="349.4" width="6.6" height="46" fill="#539df8" stroke="#151515" stroke-width="0.75"/>
<line x1="404.95" y1="342.3" x2="404.95" y2="346.8" stroke="#111" stroke-width="0.8"/>
<line x1="403.45" y1="342.3" x2="406.45" y2="342.3" stroke="#111" stroke-width="0.8"/>
<rect x="401.4" y="346.8" width="7.1" height="48.6" fill="#f98181" stroke="#151515" stroke-width="0.75"/>
<line x1="418.85" y1="363.5" x2="418.85" y2="367.6" stroke="#111" stroke-width="0.8"/>
<line x1="417.35" y1="363.5" x2="420.35" y2="363.5" stroke="#111" stroke-width="0.8"/>
<rect x="415.3" y="367.6" width="7.1" height="27.8" fill="#539df8" stroke="#151515" stroke-width="0.75"/>
<line x1="426" y1="368.2" x2="426" y2="371.7" stroke="#111" stroke-width="0.8"/>
<line x1="424.5" y1="368.2" x2="427.5" y2="368.2" stroke="#111" stroke-width="0.8"/>
<rect x="422.4" y="371.7" width="7.2" height="23.7" fill="#f98181" stroke="#151515" stroke-width="0.75"/>
<line x1="440.3" y1="387.7" x2="440.3" y2="390.3" stroke="#111" stroke-width="0.8"/>
<line x1="438.8" y1="387.7" x2="441.8" y2="387.7" stroke="#111" stroke-width="0.8"/>
<rect x="436.7" y="390.3" width="7.2" height="5.1" fill="#539df8" stroke="#151515" stroke-width="0.75"/>
<line x1="447.5" y1="383.6" x2="447.5" y2="389.1" stroke="#111" stroke-width="0.8"/>
<line x1="446" y1="383.6" x2="449" y2="383.6" stroke="#111" stroke-width="0.8"/>
<rect x="443.9" y="389.1" width="7.2" height="6.3" fill="#f98181" stroke="#151515" stroke-width="0.75"/>
<line x1="389.3" y1="331.1" x2="389.3" y2="395.4" stroke="#000" stroke-width="1"/>
<line x1="389.3" y1="395.4" x2="452" y2="395.4" stroke="#000" stroke-width="1"/>
<path d="M405.00 334.75L405.60 336.37L407.33 336.44L405.98 337.52L406.44 339.18L405.00 338.23L403.56 339.18L404.02 337.52L402.67 336.44L404.40 336.37Z" fill="#111"/>
<path d="M425.99 358.65L426.59 360.27L428.32 360.34L426.97 361.42L427.43 363.08L425.99 362.13L424.55 363.08L425.01 361.42L423.66 360.34L425.38 360.27ZM431.01 358.65L431.62 360.27L433.34 360.34L431.99 361.42L432.45 363.08L431.01 362.13L429.57 363.08L430.03 361.42L428.68 360.34L430.41 360.27Z" fill="#111"/>
<rect x="398.5" y="328.5" width="6.9" height="2.6" fill="#539df8" stroke="#1a1a1a" stroke-width="0.5"/>
<text x="409.5" y="330" font-size="4.16" font-weight="bold" stroke="#111" stroke-width="0.1" fill="#111" textLength="6" lengthAdjust="spacingAndGlyphs" dominant-baseline="central">NC</text>
<rect x="423" y="328.5" width="6.6" height="2.6" fill="#f98181" stroke="#1a1a1a" stroke-width="0.5"/>
<text x="432.6" y="330" font-size="5.2" font-weight="bold" stroke="#111" stroke-width="0.13" fill="#111" textLength="22.6" lengthAdjust="spacingAndGlyphs" dominant-baseline="central">si-RHOB</text>
<line x1="401.4" y1="395.4" x2="401.4" y2="396.8" stroke="#000" stroke-width="0.6"/>
<text x="401.4" y="404.55" font-size="4.8" font-weight="bold" fill="#111" stroke="#111" stroke-width="0.12" text-anchor="middle">G<tspan font-size="3.1" dy="1">0</tspan><tspan font-size="4.8" dy="-1">/G</tspan><tspan font-size="3.1" dy="1">1</tspan></text>
<line x1="422.4" y1="395.4" x2="422.4" y2="396.8" stroke="#000" stroke-width="0.6"/>
<text x="422.4" y="403" font-size="4.8" text-anchor="middle" font-weight="bold" stroke="#111" stroke-width="0.12" fill="#111" dominant-baseline="central">S</text>
<line x1="443.9" y1="395.4" x2="443.9" y2="396.8" stroke="#000" stroke-width="0.6"/>
<text x="443.9" y="404.55" font-size="4.8" font-weight="bold" fill="#111" stroke="#111" stroke-width="0.12" text-anchor="middle">G<tspan font-size="3.1" dy="1">2</tspan><tspan font-size="4.8" dy="-1">/M</tspan></text>
<text x="378.5" y="361.9" font-size="5.3" text-anchor="middle" font-weight="bold" stroke="#222" stroke-width="0.13" fill="#222" textLength="62" lengthAdjust="spacingAndGlyphs" transform="rotate(-90 378.5 361.9)" dominant-baseline="central">Percentage of cells (%)</text>
<text x="458.8" y="319.2" font-size="7.5" text-anchor="middle" font-weight="bold" stroke="#000" stroke-width="0.16" dominant-baseline="central">l</text>
<text x="605.8" y="320" font-size="7.2" text-anchor="middle" font-weight="bold" stroke="#000" stroke-width="0.16" textLength="35.8" lengthAdjust="spacingAndGlyphs" dominant-baseline="central">K562-CON</text>
<text x="501.7" y="333.9" font-size="4.4" text-anchor="middle" font-weight="bold" stroke="#000" stroke-width="0.11" dominant-baseline="central">NC</text>
<text x="570.5" y="333.3" font-size="4.4" text-anchor="middle" font-weight="bold" stroke="#000" stroke-width="0.11" dominant-baseline="central">siRHOB0</text>
<rect x="474.3" y="337.7" width="55.7" height="56.2" fill="#fff" stroke="#b0b0b0" stroke-width="0.5"/>
<line x1="474.3" y1="337.7" x2="474.3" y2="393.9" stroke="#444" stroke-width="0.5"/>
<line x1="474.3" y1="393.9" x2="530" y2="393.9" stroke="#444" stroke-width="0.5"/>
<path d="M473.5 339.57h.8M473.5 341.45h.8M473.5 343.32h.8M473.5 345.19h.8M473.5 347.07h.8M473.5 348.94h.8M473.5 350.81h.8M473.5 352.69h.8M473.5 354.56h.8M473.5 356.43h.8M473.5 358.31h.8M473.5 360.18h.8M473.5 362.05h.8M473.5 363.93h.8M473.5 365.8h.8M473.5 367.67h.8M473.5 369.55h.8M473.5 371.42h.8M473.5 373.29h.8M473.5 375.17h.8M473.5 377.04h.8M473.5 378.91h.8M473.5 380.79h.8M473.5 382.66h.8M473.5 384.53h.8M473.5 386.41h.8M473.5 388.28h.8M473.5 390.15h.8M473.5 392.03h.8M474.3 393.9v.8M477.09 393.9v.8M479.87 393.9v.8M482.66 393.9v.8M485.44 393.9v.8M488.23 393.9v.8M491.01 393.9v.8M493.8 393.9v.8M496.58 393.9v.8M499.37 393.9v.8M502.15 393.9v.8M504.94 393.9v.8M507.72 393.9v.8M510.5 393.9v.8M513.29 393.9v.8M516.08 393.9v.8M518.86 393.9v.8M521.64 393.9v.8M524.43 393.9v.8M527.22 393.9v.8M530 393.9v.8" fill="none" stroke="#666" stroke-width="0.3"/>
<line x1="472.7" y1="341.3" x2="474.3" y2="341.3" stroke="#444" stroke-width="0.4"/>
<text x="472.4" y="341.3" font-size="2.6" text-anchor="end" fill="#333" dominant-baseline="central">10⁵</text>
<line x1="472.7" y1="352.48" x2="474.3" y2="352.48" stroke="#444" stroke-width="0.4"/>
<text x="472.4" y="352.48" font-size="2.6" text-anchor="end" fill="#333" dominant-baseline="central">10⁴</text>
<line x1="472.7" y1="366.25" x2="474.3" y2="366.25" stroke="#444" stroke-width="0.4"/>
<text x="472.4" y="366.25" font-size="2.6" text-anchor="end" fill="#333" dominant-baseline="central">10³</text>
<line x1="472.7" y1="380.07" x2="474.3" y2="380.07" stroke="#444" stroke-width="0.4"/>
<text x="472.4" y="380.07" font-size="2.6" text-anchor="end" fill="#333" dominant-baseline="central">10²</text>
<line x1="472.7" y1="392.16" x2="474.3" y2="392.16" stroke="#444" stroke-width="0.4"/>
<text x="472.4" y="392.16" font-size="2.6" text-anchor="end" fill="#333" dominant-baseline="central">10¹</text>
<line x1="475.53" y1="393.9" x2="475.53" y2="395.4" stroke="#444" stroke-width="0.4"/>
<text x="475.53" y="397.3" font-size="2.5" text-anchor="middle" fill="#333" dominant-baseline="central">0</text>
<line x1="485.44" y1="393.9" x2="485.44" y2="395.4" stroke="#444" stroke-width="0.4"/>
<text x="485.44" y="397.3" font-size="2.5" text-anchor="middle" fill="#333" dominant-baseline="central">20K</text>
<line x1="496.58" y1="393.9" x2="496.58" y2="395.4" stroke="#444" stroke-width="0.4"/>
<text x="496.58" y="397.3" font-size="2.5" text-anchor="middle" fill="#333" dominant-baseline="central">40K</text>
<line x1="507.39" y1="393.9" x2="507.39" y2="395.4" stroke="#444" stroke-width="0.4"/>
<text x="507.39" y="397.3" font-size="2.5" text-anchor="middle" fill="#333" dominant-baseline="central">60K</text>
<line x1="518.3" y1="393.9" x2="518.3" y2="395.4" stroke="#444" stroke-width="0.4"/>
<text x="518.3" y="397.3" font-size="2.5" text-anchor="middle" fill="#333" dominant-baseline="central">80K</text>
<line x1="527.1" y1="393.9" x2="527.1" y2="395.4" stroke="#444" stroke-width="0.4"/>
<text x="527.1" y="397.3" font-size="2.5" text-anchor="middle" fill="#333" dominant-baseline="central">100K</text>
<clipPath id="cp1365"><rect x="474.6" y="338" width="55.1" height="55.6"/></clipPath><g clip-path="url(#cp1365)">
<ellipse cx="498" cy="358" rx="16" ry="12" fill="#5c74f4" opacity="0.3" filter="url(#bl2)"/>
<path d="M492.2 369.5h0m3.6 1.2h0m-1.1-5.4h0m-5.7 2.8h0m-4.9-0.7h0m6.4 0.6h0m7.3-0.4h0m-7.8 0.2h0m-0.5-3.1h0m4.2 3.5h0m-2.1 0h0m-3.3-3.9h0m1.4 5.1h0m0.5 0.5h0m-1.9-2.5h0m2.7 0.5h0m0 3.7h0m-1.7-3.2h0m-0.6 1h0m2.5-3.1h0m-3.6-1.1h0m2.1 3.3h0m-0.6-0.7h0m1.8 6h0m3-0.1h0m-3-5.1h0m5.2 0.4h0m-3.7-2.1h0m-3.4 3.1h0m-0.2-3.5h0m-2.6 2.3h0m4 0.6h0m-2.2-4.3h0m5.7 3.1h0m-0.9-2.9h0m-6-3.3h0m4.6 8.5h0m2.9 1.9h0m-9-6.9h0m3.7 0.7h0m0.9 0h0m-3.6 1.8h0m4.6-1.8h0m-0.3-1.2h0m-1 2.3h0m-0.4 0.6h0m-2.3-3h0m1.2 5h0m-0.3-4.1h0m8.4 1.7h0m-6.8-1.5h0m5.3 3.4h0m-3.4 2.6h0m-4.2-8h0m6.6 5.2h0m-4.7 0.8h0m1.2 2.8h0m-3.3-3.8h0m6.4 1.2h0m-3.8-3.1h0m-0.2 2.7h0m0-2h0m4.2 0h0m-2.3 0h0m-0.7-5.1h0m-2.7 6.3h0m0.9-2.4h0m2 7h0m-2.4-7.8h0m-3 3.4h0m5-3.1h0m-1 4.4h0m4.1-1.5h0m0.4 1.5h0m-4.6-0.5h0m1.8 0h0m0.3 3.3h0m-4.4-4.3h0m0.5 4.7h0m1.6-6.5h0m1.4 0.8h0m5 0h0m-4.2 2.7h0m3.7-4.9h0m-3.5-0.9h0m0.5 6.6h0m-2.9-4.1h0m4.9 1.8h0m-1.1-2.2h0m-3.2 0.2h0m5.4-2.7h0m-6 7.4h0m1.3-6.5h0m0.9 2.2h0m-1.1 1.7h0m2.7-4.8h0m-1.7 7.2h0m-4.5-3.8h0m0.5 1.8h0m1-2.4h0m1.2 1.9h0m-2.6-4.5h0m4.3 6.7h0m-2-2.3h0m2.3-0.7h0m-0.9-1.6h0m-0.6 4.2h0m2 0.2h0m-3.4-2.8h0m0.2-3.5h0m4.5 2.5h0m-1.9-2.7h0m-1.4 3.1h0m-0.4 2.8h0m2.4-2.2h0m-0.6-1.4h0m-2.8 0.4h0m-0.9 0.3h0m2.7 3.1h0m-1 3.2h0m1.8-21.5h0m3.8-2.9h0m-0.3-4.5h0m9.1 4.6h0m-8.8-4.8h0m4.5 2.1h0m6.1 0.9h0m-16.1 6.7h0m15.5-10.3h0m-22.8 14h0m16.4-12.2h0m-6.8 8.6h0m0.4 3.2h0m-2.5-5.2h0m14.3 5.1h0m-7-3.5h0m-4.4-2.6h0m-1.9 1.8h0m10.9-5.4h0m-15.4 4.1h0m24.3 0.7h0m-14.3-1.1h0m-13.9-2.6h0m24.4-5.4h0m2.2 3.5h0m1.9 15h0m-4.2-10.8h0m-6.9-1.7h0m-8 3h0m1-5.1h0m0.3 6.8h0m-3.8-1.1h0m-4.4-1h0m1.5 2.6h0m0.8-0.6h0m-7.2-1.7h0m23.7-4h0m-8-0.1h0m3.2 6.4h0m5.1 2.2h0m1.2-8.1h0m-9.1 5h0m0.6-7.3h0m14.1 15.2h0m-15.1-20.3h0m13.5 9.6h0m3.4-3.4h0m-13.3 7.2h0m-15.1-4.4h0m14.8 3.9h0m-0.8-12.9h0m-21.3 11.7h0m30.6-7.5h0m-9.3 9.8h0m-10.5-10h0m9.6 4.5h0m-2.8 1h0m-0.2 2h0m-3.1-1.3h0m-0.3-3.4h0m7 0.2h0m1.4 3.2h0m4.2 2.4h0m-23.6-2.4h0m20.4 0.5h0m-4.8 3.9h0m4.9-9.6h0m-4.5 9.2h0m0.5-9h0m4.8 7.5h0m2.8-1.7h0m-7.9 2.7h0m-9.3 3.4h0m11.5-5.9h0m2.7 2.2h0m-22.7 0.6h0m16.1-6.8h0m7.7 6.8h0m-4-6.2h0m-2.1-1.3h0m18.6 1.2h0m-12.7 9h0m-13.3-8.5h0m-10.6 1.1h0m7.1 1.6h0m8.4-0.6h0m2-1.9h0m0.6 1.6h0m-6.4-1h0m1.1-3.8h0m4.2-2.3h0m4.3 7.2h0m-2.8 4.8h0m6-6.4h0m-4.6 6.5h0m-3.9-3.2h0m4.4-5.6h0m-1 2.5h0m-4.2 3.3h0m7-5.3h0m-6.9 2.8h0m-5.4 2.3h0m5.7-4.3h0m8.8 2.5h0m-16.1-0.1h0m7.5 1.5h0m18.7 1.1h0m-6.2-2.9h0m-7.5 2.7h0m-4.4-1h0m-2.7 1.7h0m-3.4 4.1h0m5.9-5.4h0m2.1-7.8h0m2.2 2.9h0m-1.8 1.8h0m-3.6-4.3h0m-7.9 3.8h0m1.8 3.2h0m-2.5-0.2h0m14.9-3.8h0m-11.5 1.6h0m13.3 6.9h0m10.5-5.2h0m-11.8 0.4h0m-4.9-5h0m-2.5 8.7h0m13.3-6.8h0m-23 9.9h0m12.6-5.7h0m-1.5-9h0m3.7 3.3h0m-4.6 1.4h0m0.2 12h0m13.5-17.3h0m-23.3 5.8h0m6.7 5.1h0m17.1-6h0m-7.6 2.1h0m-19.6 5.4h0m28.6-7.9h0m-8.6 1.2h0m-5.5 0.3h0m-0.4 2h0m-3.6 0.9h0m-5.2 2.1h0m2.6-10.6h0m13.7 6h0m-10.5 5h0m3.8 4.1h0m3.6-13.4h0m-7.2 3h0m1.7 9.4h0m23 0.1h0m-17.3-4.6h0m-2.2-11h0m9.3 16.7h0m-14.6-8h0m-1.5-0.7h0m-1.1-3.7h0m15.9-3.2h0m-1.4 3.1h0m-9.9-3.4h0m7 4h0m14.1 0.3h0m-17.2 6.3h0m-9.4-5.9h0m-0.7 5.5h0m10.5 1.8h0m-13.3-7.7h0m10.1 1.9h0m3.3 6.2h0m-1.4-7.6h0m-1.3 0.3h0m-4.7 10.3h0m10.2-0.2h0m-6.8-7.5h0m-8.1 1.2h0m15.3 1.8h0m-14.5-2.3h0m16-2.3h0m-1.7-0.1h0m-5.4-0.3h0m-11.4-1h0m12.7 2.1h0m-1.4-1.1h0m6.9 1.6h0m-3.8-1.2h0m7 1.5h0m-6.7 9.1h0m0-14.9h0m-8.4 7.5h0m-5-7.2h0m9.2-0.4h0m9.2 8h0m-10.7 3.1h0m-2.8-9.5h0m12.2 4.8h0m-8.7 4h0m0.7-1.6h0m2.7 2.1h0m2.5-6.5h0m7.4 0.5h0m1.7-3.7h0m-12.9-3.8h0m3.6 14.2h0m-7-3.4h0m1.3 3.8h0m4.3-4.3h0m5.8-7.5h0m-3.1 6.6h0m4.7-0.4h0m-5.3-0.3h0m-12.2-1.8h0m6.2-3.3h0m1 3.4h0m14.3 0.9h0m-13 1.4h0m4.4-6.8h0m-18.7 12.7h0m6.9-9.8h0m15.4 4.7h0m-15.1 1.7h0m-2.5 3.5h0m6.2-5.1h0m2.4 6.3h0m-7.3-8h0m23.8-7.7h0m-20.2 9.2h0m2.1 0.7h0m10.5-6.3h0m-13.8 9.7h0m19.9-15.8h0m-10.8 14.5h0m-9.3-7.4h0m-3.5 2.7h0m-0.1 3.6h0m3.5-0.7h0m-6.7 1.4h0m17.1 0.2h0m-3.1 5.4h0m5.4-8.9h0m4.9-1.6h0m-11.1 7.9h0m-4.8-6.5h0m5.5 0.7h0m-3.7 3.3h0m18.3-5.5h0m-14 14.6h0m0.5-1.6h0m2 4.6h0m6.9-0.7h0m-1.5 0.6h0m-1.7 0.6h0m7.4-2.2h0m-13.5-2.6h0m9.9 0.1h0m-2.5 1.8h0m8.9-1.1h0m-7.1 0.5h0m-5.1 1.8h0m9.9-3.7h0m3 7.2h0m-7.7-3.4h0m-6.9-1.8h0m7.8 0.6h0m6.1-1.5h0m-9.3 2.7h0m1-1.5h0m-0.3 1.3h0m-10.3 4.3h0m15.3-7.2h0m-9.5-0.1h0m7.7-1.5h0m11.6 2.6h0m-22.2 5.2h0m8.1-3.1h0m-1.1-1.5h0m12.9-3.4h0m-10.3 2.4h0m-3.5 1.4h0m-8.5 1.3h0m11.7-0.1h0m-4.6 0.4h0m0.7 0h0m10.5-0.3h0m-16-1.1h0m2.3 3.7h0m7.1-6.3h0m-9.9 5.1h0m3-1.8h0m3.8-1.1h0m-0.6 0.3h0m11.8-1.7h0m-6.3 2.7h0m-6.8-3.2h0m-1.3 3.3h0m6 0.9h0m1.2-1.8h0m-2 0.3h0m0.2 0.8h0m-5.2 0.8h0m14.3-2.3h0m-6.1-2.1h0m-2.7-0.5h0m5.1 2.9h0m0.5 2.1h0m-10.4-0.6h0m13.1 2.8h0m-9.5-3.3h0m-3 0.2h0m7.1 1.6h0m-4.3-2.8h0m3.7-0.4h0m9-4.1h0m-21.7 3.4h0m13.8 1h0m-1.6-3h0m1.1 4.1h0m5.9 0.5h0m-12.9-3h0m-3 0.5h0m6 3.4h0m10-2.3h0m-6-0.5h0m-10.9 1.4h0m3.3-4.3h0m-0.7 6.1h0m-1.8-0.2h0m-1.2-2.8h0m10.7-0.7h0m-8.4 0.8h0m15.2 1.3h0m-8.5-0.2h0m5.7 1.5h0m-8.4-4.3h0m-4.1 1.8h0m3.9-0.1h0m-6.3 9.6h0m-0.9-8.4h0m-1.9-17.3h0m-3.6-2.4h0m-5.3 2.1h0m16 11.9h0m-17.8-2h0m19.2-3.5h0m-23.5 3.8h0m32.6 5.2h0m-11.1 0.8h0m4.2-16.9h0m5.2 14.8h0m-3.3-7.9h0m-5.6 5.5h0m-18-2.9h0m6-6.4h0m17.2 13.7h0m-2.5-16.9h0m-8.3 2.5h0m20.6 21.4h0m-11-27.1h0m8.9 11.2h0m-14.8 0.8h0m-8.6 0h0m17.5 7.8h0m19.1-14.3h0m-18.9-1.2h0m-2.9 15.2h0m6.1-11.4h0m13.3 9.3h0m-6.6-6.3h0m1.3-1.8h0m-5.4 1.5h0m-10.2-12.5h0m11.5 16.7h0m-18.6-4h0m14.2 4.5h0m-31.1 6.6h0m12.2 3.2h0m25.2-13.7h0m-10.9 1.1h0m-7.2 9.6h0m-3-16h0m5.1-8.3h0m14.7 3.2h0m5.6 16.7h0m5.9-12.1h0m-27 1.1h0m12.7-3.4h0m-8.7 8.6h0m22.7-8.2h0m-11.9 11h0m-1-13.1h0m1 10h0m5.6 15.6h0m-25.1-20.1h0m26.1-9.9h0m-47.3 15.2h0m33.3 9.8h0m4.7-12.2h0m-15.3-14.2h0m12.8 9.7h0m-10.6 7.3h0m-19.5-3.2h0m16.7 16.4h0m5.9-6.8h0m-10.2-21.4h0m22 9.7h0m-26.2 11.2h0m21.8-22h0m-8.7 29.4h0m4-26.6h0m-11.2 21.8h0m27.7-5.6h0m-35.6 1.2h0m8.1-10.7h0m3.8 12.6h0m11.9-3.9h0m-11.2-8.7h0m17.9-0.8h0m-16 9.3h0m1.2 3.4h0m8.8-2.7h0m-14.7-11.5h0m16.4 16.5h0m4.3-11.6h0m-16.9-14.1h0m14.5 8.1h0m-2.5 2.1h0m-2-2.3h0m-29.7 30.9h0m-0.1-12.8h0m-3.4 6.1h0m4.7-5.5h0m-5.1-1.6h0m8 7.7h0m-4.3-2.9h0m4.7 4h0m-6 2.6h0m2.1-6h0m-2.9 1.1h0m5.2-5.7h0m-9 8.5h0m8.1 3.1h0m-1.5-11.9h0m0.8 6.7h0m-5.5-7.1h0m-1.6 6.7h0m0.8 1.2h0m3.4 1.1h0m3-6.3h0m-3.7 6.7h0m-0.8 1.1h0m3.7-0.4h0m-3.6-0.5h0m1.2-2.3h0m2.5-3.2h0m-2-7.3h0m-1.9 12.1h0m-1.2-11.1h0" stroke="#4a62f5" stroke-width=".7" stroke-linecap="square" opacity="0.6"/>
<ellipse cx="490.5" cy="368.1" rx="4.6" ry="3.4" fill="#6078f6" opacity="0.5" filter="url(#bl)"/>
<ellipse cx="490.5" cy="368.1" rx="3.68" ry="2.72" fill="#3a52f0" opacity="0.8" filter="url(#bl)"/>
<ellipse cx="490.5" cy="368.1" rx="2.9" ry="2.14" fill="#28b4c8" opacity="0.92" filter="url(#bl)"/>
<ellipse cx="490.5" cy="368.1" rx="2.16" ry="1.6" fill="#48cc48" opacity="1" filter="url(#bl)"/>
<ellipse cx="490.5" cy="368.1" rx="1.3" ry="0.96" fill="#ecdf22" opacity="1" filter="url(#bl)"/>
<ellipse cx="495" cy="352.3" rx="10.5" ry="5.2" fill="#6078f6" opacity="0.5" filter="url(#bl)" transform="rotate(-5 495 352.3)"/>
<ellipse cx="495" cy="352.3" rx="8.4" ry="4.16" fill="#3a52f0" opacity="0.8" filter="url(#bl)" transform="rotate(-5 495 352.3)"/>
<ellipse cx="495" cy="352.3" rx="6.62" ry="3.28" fill="#28b4c8" opacity="0.92" filter="url(#bl)" transform="rotate(-5 495 352.3)"/>
<ellipse cx="495" cy="352.3" rx="4.93" ry="2.44" fill="#48cc48" opacity="1" filter="url(#bl)" transform="rotate(-5 495 352.3)"/>
<ellipse cx="495" cy="352.3" rx="3.36" ry="1.66" fill="#ecdf22" opacity="1" filter="url(#bl)" transform="rotate(-5 495 352.3)"/>
<ellipse cx="495" cy="352.3" rx="1.85" ry="0.92" fill="#ff4a10" opacity="1" filter="url(#bl)" transform="rotate(-5 495 352.3)"/>
<ellipse cx="506" cy="366" rx="7" ry="1.8" fill="#6078f6" opacity="0.5" filter="url(#bl)"/>
<ellipse cx="506" cy="366" rx="5.6" ry="1.44" fill="#3a52f0" opacity="0.8" filter="url(#bl)"/>
</g>
<g fill="none" stroke="#333" stroke-width="0.7"><rect x="484.3" y="343.8" width="31.4" height="17.7"/><rect x="483.3" y="361.5" width="32.4" height="14.5"/></g>
<line x1="499.3" y1="361.5" x2="499.3" y2="376" stroke="#222" stroke-width="0.8"/>
<text x="514" y="349.5" font-size="5" text-anchor="end" font-weight="bold" stroke="#111" stroke-width="0.12" fill="#111" dominant-baseline="central">71.8%</text>
<rect x="541" y="338.2" width="56.6" height="56.7" fill="#fff" stroke="#b0b0b0" stroke-width="0.5"/>
<line x1="541" y1="338.2" x2="541" y2="394.9" stroke="#444" stroke-width="0.5"/>
<line x1="541" y1="394.9" x2="597.6" y2="394.9" stroke="#444" stroke-width="0.5"/>
<path d="M540.2 340.09h.8M540.2 341.98h.8M540.2 343.87h.8M540.2 345.76h.8M540.2 347.65h.8M540.2 349.54h.8M540.2 351.43h.8M540.2 353.32h.8M540.2 355.21h.8M540.2 357.1h.8M540.2 358.99h.8M540.2 360.88h.8M540.2 362.77h.8M540.2 364.66h.8M540.2 366.55h.8M540.2 368.44h.8M540.2 370.33h.8M540.2 372.22h.8M540.2 374.11h.8M540.2 376h.8M540.2 377.89h.8M540.2 379.78h.8M540.2 381.67h.8M540.2 383.56h.8M540.2 385.45h.8M540.2 387.34h.8M540.2 389.23h.8M540.2 391.12h.8M540.2 393.01h.8M541 394.9v.8M543.83 394.9v.8M546.66 394.9v.8M549.49 394.9v.8M552.32 394.9v.8M555.15 394.9v.8M557.98 394.9v.8M560.81 394.9v.8M563.64 394.9v.8M566.47 394.9v.8M569.3 394.9v.8M572.13 394.9v.8M574.96 394.9v.8M577.79 394.9v.8M580.62 394.9v.8M583.45 394.9v.8M586.28 394.9v.8M589.11 394.9v.8M591.94 394.9v.8M594.77 394.9v.8M597.6 394.9v.8" fill="none" stroke="#666" stroke-width="0.3"/>
<line x1="539.4" y1="341.83" x2="541" y2="341.83" stroke="#444" stroke-width="0.4"/>
<text x="539.1" y="341.83" font-size="2.6" text-anchor="end" fill="#333" dominant-baseline="central">10⁵</text>
<line x1="539.4" y1="353.11" x2="541" y2="353.11" stroke="#444" stroke-width="0.4"/>
<text x="539.1" y="353.11" font-size="2.6" text-anchor="end" fill="#333" dominant-baseline="central">10⁴</text>
<line x1="539.4" y1="367" x2="541" y2="367" stroke="#444" stroke-width="0.4"/>
<text x="539.1" y="367" font-size="2.6" text-anchor="end" fill="#333" dominant-baseline="central">10³</text>
<line x1="539.4" y1="380.95" x2="541" y2="380.95" stroke="#444" stroke-width="0.4"/>
<text x="539.1" y="380.95" font-size="2.6" text-anchor="end" fill="#333" dominant-baseline="central">10²</text>
<line x1="539.4" y1="393.14" x2="541" y2="393.14" stroke="#444" stroke-width="0.4"/>
<text x="539.1" y="393.14" font-size="2.6" text-anchor="end" fill="#333" dominant-baseline="central">10¹</text>
<line x1="542.25" y1="394.9" x2="542.25" y2="396.4" stroke="#444" stroke-width="0.4"/>
<text x="542.25" y="398.3" font-size="2.5" text-anchor="middle" fill="#333" dominant-baseline="central">0</text>
<line x1="552.32" y1="394.9" x2="552.32" y2="396.4" stroke="#444" stroke-width="0.4"/>
<text x="552.32" y="398.3" font-size="2.5" text-anchor="middle" fill="#333" dominant-baseline="central">20K</text>
<line x1="563.64" y1="394.9" x2="563.64" y2="396.4" stroke="#444" stroke-width="0.4"/>
<text x="563.64" y="398.3" font-size="2.5" text-anchor="middle" fill="#333" dominant-baseline="central">40K</text>
<line x1="574.62" y1="394.9" x2="574.62" y2="396.4" stroke="#444" stroke-width="0.4"/>
<text x="574.62" y="398.3" font-size="2.5" text-anchor="middle" fill="#333" dominant-baseline="central">60K</text>
<line x1="585.71" y1="394.9" x2="585.71" y2="396.4" stroke="#444" stroke-width="0.4"/>
<text x="585.71" y="398.3" font-size="2.5" text-anchor="middle" fill="#333" dominant-baseline="central">80K</text>
<line x1="594.66" y1="394.9" x2="594.66" y2="396.4" stroke="#444" stroke-width="0.4"/>
<text x="594.66" y="398.3" font-size="2.5" text-anchor="middle" fill="#333" dominant-baseline="central">100K</text>
<clipPath id="cp1411"><rect x="541.3" y="338.5" width="56" height="56.1"/></clipPath><g clip-path="url(#cp1411)">
<ellipse cx="566" cy="361" rx="16" ry="12" fill="#5c74f4" opacity="0.3" filter="url(#bl2)"/>
<path d="M553.9 368.4h0m6.2 2.1h0m-6.2-0.4h0m0.6 1.8h0m4.8-4.4h0m-2.6 1.4h0m-0.3 3.2h0m2.6-4.4h0m0.5-2.1h0m-0.9 2.7h0m-2.2 0.7h0m2.4-3.6h0m0.4 11.2h0m1.3-9h0m-1.3 5.7h0m-4.3 0h0m2.2 0.6h0m-1.4-2.1h0m0.7 0.5h0m4.4-2.3h0m-5.1 1.8h0m3.5-5.5h0m0.6 2.4h0m-2-2.1h0m0.9 4.7h0m-3-0.1h0m-2.9-1.8h0m6.1-2.7h0m-0.3-0.9h0m5 4.3h0m-2.3-3.4h0m-9.8 2.2h0m10.5-0.2h0m-0.5 1.4h0m-2.4 1.7h0m-2.7-3.8h0m4.9 2.3h0m-4.7-4h0m5.8-5.4h0m-1.6 7.8h0m-6.4 1.4h0m5.1 4.8h0m-0.5-12.2h0m-3.6 8.3h0m1.3-2.1h0m1.2 3.9h0m1.2-4.1h0m-2.8 3h0m-0.2-1.5h0m3.2 0.8h0m1.1-1.2h0m3.4 1.3h0m-7.8-4.3h0m0.1 5.7h0m-1.1 0.6h0m4.3-5.5h0m-4 1.2h0m5 0.1h0m-0.1 0.6h0m1.8-1.6h0m-4.3-1.7h0m-0.5 0.4h0m-3.4 1.9h0m6.3-5.1h0m-5.6 2.1h0m4.7 5h0m-0.2-1.9h0m-3.1 1h0m-0.2-1.1h0m3.6-0.1h0m2.2-4.9h0m-7.9 8.1h0m2.9-3.7h0m0.1 1h0m1.1 1.1h0m3 3.8h0m-8.6-5h0m3.5 0.8h0m-0.3-0.3h0m3.6-0.3h0m-0.1 1.8h0m-3.7-1.8h0m6 2.5h0m-0.2-4.5h0m-4.7 4.6h0m1.9-1.8h0m-1 1.6h0m1.5-4.8h0m0.6 1.6h0m-1.8 2.3h0m1.1-2.9h0m-3.7 0.4h0m2.9-1.9h0m-1.3 8.9h0m-0.1-5.7h0m-1.7-1h0m4.2 1.2h0m-5.5-0.3h0m2.1 2.7h0m2.4 1.2h0m1.3-7h0m1.7 1.8h0m-3 1.4h0m-3.3 2.8h0m4-5.6h0m-4.3 3.8h0m7.3-0.2h0m-2.5-2.1h0m2.2 2.5h0m-5.3-3h0m-3.9 4.5h0m14.5-3.2h0m-7.2 2.2h0m-1.8 3.5h0m-2.2-7.5h0m7.4 4.4h0m-2.5-2.6h0m-2.2 0.7h0m1.3-1.9h0m1.7 5.9h0m-1.9-22.6h0m4.9 13.9h0m-8.2-4.5h0m2.2-8.6h0m13.2 2.4h0m-8.5 3.6h0m8.8-1.9h0m3.2-3.7h0m-15.6 5.5h0m8.8-9.8h0m-7.2 9.8h0m1.1 4.5h0m-10.7-6.5h0m5.6-7.2h0m4.6 6.2h0m-1.4-2.3h0m9.6-1.7h0m-11.1-1.4h0m13.4-0.3h0m4.2 2.2h0m-13.3 10.3h0m-7.7-1.2h0m-1.8-7.2h0m14 3.2h0m-1.7-0.1h0m9.3-7.8h0m-17 10.1h0m-5.8-6.4h0m29.4 8.3h0m-14.5-5.1h0m-5.1-3.9h0m-5.4-0.4h0m-3 4.5h0m12.8-4.3h0m-2.2-1.6h0m1.8 4h0m-3.3 2.1h0m10.3 0.1h0m-14.7-0.2h0m7.9 1.5h0m4.9-5.5h0m-16.9 5.9h0m0.5-0.7h0m29.1 3.2h0m-31.7-8.4h0m14.1 2.2h0m2.3 2.2h0m-2.8 1.2h0m-14.3 2.4h0m1.1-8.2h0m-7.5 3.6h0m21.3-1.5h0m-12.1-7.3h0m13.3 4.1h0m-7.1 5.6h0m2.3 0.7h0m13.1 1.2h0m-20.2-3h0m5.9-3.3h0m6.7 1.9h0m-3.2 4.2h0m14.1-5.1h0m-10.4 11.2h0m6.6-7.5h0m-17.6-0.6h0m0.8-2.3h0m-8.4 0.5h0m-2.1 5.2h0m19.2-5.7h0m-3.7 2.2h0m-2.2 0.7h0m0.6 0.6h0m-4.8-1.5h0m18.9-3.6h0m-18.9 7.1h0m8.6-3.2h0m-1.1-2.3h0m-5.4 3.8h0m5.4 0.5h0m2.1 6.5h0m-2.8-3.4h0m0.5 3.4h0m6.3-12.1h0m4.6 0.7h0m-4.3-0.7h0m-5 3.7h0m8.1-9.4h0m-25.5 12.7h0m20.4-6h0m-5-5h0m-3.6 4.4h0m9.6 3.7h0m-7.9 3.6h0m-3.8-1.6h0m3.2-1.2h0m-0.5 3.8h0m-1.1 2.5h0m9.4-11.5h0m-9.4 8.8h0m14.6-10.3h0m-10 7.4h0m16.9 0.2h0m-19.7 1h0m2.2-7.2h0m-1 2.6h0m-1.3 1.2h0m4.4-3.5h0m2.4-3.2h0m0 8.4h0m-1.9-8h0m-7 6.8h0m7.3 2.2h0m-15.2-2.9h0m19.9-4.8h0m-17.5 2.8h0m7.2 0.9h0m11.7 2.2h0m-24.2 2h0m15.3 0.3h0m-0.9 2.1h0m1.3-7.5h0m-10.3 5.7h0m8.1-10.8h0m7.5 12.3h0m-22.4-3h0m21 4.7h0m4.4-10h0m-5.9 6h0m-14.8 2.9h0m15.1-2.4h0m-10.6-0.1h0m6.4-4.6h0m0.6 2.6h0m-11.8-1.3h0m14.4-6.6h0m10.2 16.9h0m-7.9-10.3h0m-13.1-4.5h0m-1.4 8h0m2.7-2.8h0m3.3 2.9h0m13.1 0.1h0m-4.6 0.6h0m8-7.8h0m-11.1 0.9h0m-1.7 1.7h0m0.6 3.8h0m-10.9-13.4h0m12.1 14.8h0m-5.2 1.6h0m20.4-5.6h0m-19 1.8h0m7.5-8.1h0m-2-2.3h0m-12 9.2h0m10.6-5.7h0m-2.1 10h0m-12.9-2.9h0m22.3-7.7h0m-0.6 7.2h0m-11.5-1.7h0m2.1 0.1h0m-1.3-3.2h0m8.5 9.9h0m-8.4-1.2h0m-4.5-10.9h0m10.8 6.2h0m-1.4-4.9h0m-6.5 8h0m15.3-3h0m-9.3-11.7h0m-7.9 15.9h0m19.6-8.6h0m-34.1 5.4h0m9.5-3.8h0m5.3 0.2h0m-2.8 4.2h0m9.7-8h0m-14.4 13.8h0m16.5-7.6h0m-17.4 7.9h0m5.1-8.3h0m10.5-3.4h0m-1.6 1.1h0m-16.8-3.8h0m11 3.5h0m8.1 8.8h0m-5.1 2.2h0m-1.5-8.4h0m1.6-7.3h0m1.2 6h0m-5.9 3.9h0m9.5-4.3h0m-9.8 2.5h0m0.5-4.7h0m2.4 7.3h0m1.6-4.5h0m-0.4 3.1h0m1.3 0.9h0m0.1 0.1h0m-1.1-6.5h0m5.4 2.2h0m-6.7 6.7h0m-0.3-9h0m1.2 9h0m-7.6-1.1h0m14.1-6.4h0m-6.5-1.3h0m-12.9-0.8h0m4.8-2.7h0m7.3 8.9h0m-3.8-3.8h0m1.3 0.5h0m8.9 5.8h0m1.5-3.4h0m5.9 1.4h0m-6.8-0.6h0m2.5-6.5h0m-13 4.5h0m-6.8-1.4h0m11 2.4h0m7.8 4h0m-23.3-4.4h0m20.6 4.9h0m-7.3-4.1h0m3.6-5.5h0m3 7.7h0m-4.6-3.5h0m11-1.2h0m-10.7 2h0m5.8 0.4h0m6 0.2h0m-18.5-8.4h0m8.3 13.4h0m1.1-8.6h0m1.7 3.9h0m7.4-7.3h0m-3.6 6h0m0.4 3.6h0m-23.2-0.7h0m20.7-6.9h0m-4.7 7.5h0m-10.5-0.7h0m17.5 3.5h0m-12.5-9.6h0m14 1.3h0m-4.5-9.4h0m15.1 3h0m-30.7 9.6h0m16.3-5.3h0m-4.3 15.4h0m13.9-3h0m-0.6 0.7h0m-6.5 2.6h0m5.8-1.3h0m-7.1-1.5h0m5.5 0.2h0m3.5 1.3h0m-3.2-0.5h0m3.6 2.5h0m-8.5-0.2h0m11.3-0.3h0m-8.3-1.2h0m15.2-3.1h0m-7.2 2.2h0m4.7 0.8h0m-4.7-1.6h0m-7.7 4.6h0m-4.4-4.4h0m5.8-1.5h0m5 0.1h0m-3.3 2h0m-12.8 0.8h0m3.7-0.3h0m-4.5-1.1h0m18 1.7h0m1.8 2.7h0m-2.2-3.7h0m-4.9 1.7h0m-6.4-3.4h0m7 5.6h0m-6.3-3h0m2.3 1h0m6.1-1.6h0m3.2-0.4h0m-14.8 4.8h0m8.9-3.7h0m5.1-2.3h0m-7.1 0.1h0m6 2.4h0m-2.2-3.5h0m-5.8-0.3h0m-3.1 1.5h0m9.4 2.5h0m-11.9 0.3h0m12.3 1.9h0m2.8-6.3h0m-2.1 3.6h0m-0.9-2h0m6.4 1.7h0m-11.6-3.9h0m1.9 0.9h0m-7 6.1h0m8.1-1.3h0m6.7-0.5h0m-8.8-3.9h0m1.5 2.6h0m0.1-0.8h0m1.7-2.4h0m5.2 0.6h0m-5.4 0.6h0m7.1 0.6h0m-13 0.4h0m10.3-1.8h0m-12.5 1.5h0m11.8-5h0m1 10.7h0m-6.3-2.7h0m0.2-5.7h0m-1.7 5h0m-3.9-1.8h0m2.6 1.4h0m18-0.7h0m-21.7 3.3h0m5.8-4.3h0m4.5 2.4h0m-1.6-0.8h0m-0.2-3.2h0m3.5 4.3h0m-9-5.4h0m1 3.9h0m11.6 0.1h0m-26.9-1.7h0m19.1 1.8h0m-9.1-1.3h0m9.6 2.2h0m3.9 2h0m-8.7-4.3h0m1.4 1.9h0m14.1-0.7h0m-13-15.4h0m-16.6 22.3h0m13.8-3h0m10.4-15.8h0m-6.6-3.4h0m4.4 6.2h0m1.8 11.6h0m-15.8-3.7h0m11.8-11h0m-1.9 14.6h0m-1.2-2.2h0m2.1 2.4h0m-5.5-13.2h0m8.8-16.2h0m-13.3 31.7h0m-2.6 2.6h0m27.3-19.5h0m-27.4 7.4h0m19.2 11.3h0m7.2-20.4h0m-7.7 1.6h0m2.5 8.1h0m4.2-4.6h0m-7.1-9.8h0m-20.8 14.8h0m12.4 3h0m-14.9-16h0m6.6 18.4h0m11.6-12.1h0m3.4 1h0m-4.8 1.3h0m-18.7 6.9h0m17.8 11.7h0m-0.9-23.5h0m0.9-1h0m-2.5 2.9h0m4.3-4.6h0m-5.1 4.3h0m-10.2 2.8h0m19.5 6.7h0m-4.4-7.1h0m7.4-1.4h0m-3.2-12h0m-21.8 8.3h0m27.2 3.9h0m-7.9-7h0m-22.9 32.5h0m36.8-8.7h0m-19.1-20.2h0m2.9 3.5h0m-0.4-16.4h0m-8.5 5.7h0m29.3 2h0m-28 13.8h0m0.9-1h0m14.6-7.4h0m-4.8 4.2h0m-21.4 3.5h0m2.8 6.3h0m12.6-7.2h0m11.7-8.4h0m-21.1 18.9h0m17.8-8.4h0m-31.8-3.4h0m12.3-5.3h0m-8.1-8.6h0m14.1 16.8h0m-0.9-4.6h0m6.9 12.7h0m-7.7-10.2h0m16.5-11h0m-22.2 6.2h0m29.2-0.5h0m-31.5-11.5h0m16.8 24.6h0m-11.4-12.2h0m-3.7-2.8h0m25.3 1.6h0m-24.6 9.6h0m15.6-5.5h0m21.3 2.9h0m-10.6-12.9h0m-14.6 21h0m9.7-2.9h0m-26.5-10h0m37.6 14.5h0m-3.6-5.5h0m-15.3 0h0m13.6-14.8h0m-2 14.7h0m-18.9 6.7h0m21.6-5.8h0m-20.9-5.2h0m5.2 11.6h0m-17.1-3.7h0m-1.4 5.4h0m-8.1-4.8h0m6.7 4.3h0m-6.6-2.1h0m0.8 0.2h0m6.6-2.3h0m-6.4-9.8h0m2.5 16.6h0m4.7-6.5h0m-7.1 0.9h0m-2.9 1.7h0m1.4-1h0m2.8 4.1h0m-0.2 6.9h0m0.8-7.8h0m0.6-2.6h0m1.3 1h0m-7-2.8h0m8.6-4.6h0m0.9 7.3h0m-4.6 4.7h0m-0.1-7.2h0m-4.3 4.9h0m3.9-6.9h0m3.3 7.7h0m3.2-2.6h0m-10.6-0.7h0m6.1 3.3h0" stroke="#4a62f5" stroke-width=".7" stroke-linecap="square" opacity="0.6"/>
<ellipse cx="558.1" cy="369.1" rx="4.6" ry="3.4" fill="#6078f6" opacity="0.5" filter="url(#bl)"/>
<ellipse cx="558.1" cy="369.1" rx="3.68" ry="2.72" fill="#3a52f0" opacity="0.8" filter="url(#bl)"/>
<ellipse cx="558.1" cy="369.1" rx="2.9" ry="2.14" fill="#28b4c8" opacity="0.92" filter="url(#bl)"/>
<ellipse cx="558.1" cy="369.1" rx="2.16" ry="1.6" fill="#48cc48" opacity="1" filter="url(#bl)"/>
<ellipse cx="558.1" cy="369.1" rx="1.3" ry="0.96" fill="#ecdf22" opacity="1" filter="url(#bl)"/>
<ellipse cx="563" cy="354.8" rx="11.5" ry="5.2" fill="#6078f6" opacity="0.5" filter="url(#bl)" transform="rotate(-5 563 354.8)"/>
<ellipse cx="563" cy="354.8" rx="9.2" ry="4.16" fill="#3a52f0" opacity="0.8" filter="url(#bl)" transform="rotate(-5 563 354.8)"/>
<ellipse cx="563" cy="354.8" rx="7.25" ry="3.28" fill="#28b4c8" opacity="0.92" filter="url(#bl)" transform="rotate(-5 563 354.8)"/>
<ellipse cx="563" cy="354.8" rx="5.4" ry="2.44" fill="#48cc48" opacity="1" filter="url(#bl)" transform="rotate(-5 563 354.8)"/>
<ellipse cx="563" cy="354.8" rx="3.68" ry="1.66" fill="#ecdf22" opacity="1" filter="url(#bl)" transform="rotate(-5 563 354.8)"/>
<ellipse cx="563" cy="354.8" rx="2.21" ry="1" fill="#ff4a10" opacity="1" filter="url(#bl)" transform="rotate(-5 563 354.8)"/>
<ellipse cx="575" cy="366" rx="7" ry="1.8" fill="#6078f6" opacity="0.5" filter="url(#bl)"/>
<ellipse cx="575" cy="366" rx="5.6" ry="1.44" fill="#3a52f0" opacity="0.8" filter="url(#bl)"/>
</g>
<g fill="none" stroke="#333" stroke-width="0.7"><rect x="552.3" y="344.1" width="30.3" height="18.1"/><rect x="550.2" y="362.2" width="32.4" height="14.3"/></g>
<line x1="567" y1="362.2" x2="567" y2="376.5" stroke="#222" stroke-width="0.8"/>
<text x="581.1" y="349.5" font-size="5" text-anchor="end" font-weight="bold" stroke="#111" stroke-width="0.12" fill="#111" dominant-baseline="central">67.3%</text>
<line x1="462.5" y1="339.1" x2="462.5" y2="385" stroke="#000" stroke-width="1.4"/>
<path d="M459.6 342L462.5 338.9L465.4 342" fill="none" stroke="#000" stroke-width="1.3"/>
<text x="462.5" y="393" font-size="5.5" text-anchor="middle" font-weight="bold" stroke="#000" stroke-width="0.14" textLength="10.5" lengthAdjust="spacingAndGlyphs" transform="rotate(-90 462.5 393)" dominant-baseline="central">EdU</text>
<text x="462.9" y="404.4" font-size="5" text-anchor="middle" font-weight="bold" stroke="#000" stroke-width="0.12" dominant-baseline="central">PI</text>
<line x1="470.7" y1="404.3" x2="602.7" y2="404.3" stroke="#000" stroke-width="1.4"/>
<path d="M599.8 401.4L602.9 404.3L599.8 407.2" fill="none" stroke="#000" stroke-width="1.3"/>
<line x1="612.9" y1="393.6" x2="615.5" y2="393.6" stroke="#000" stroke-width="0.7"/>
<text x="612.6" y="393.6" font-size="3.7" text-anchor="end" font-weight="bold" stroke="#222" stroke-width="0.09" fill="#222" dominant-baseline="central">0</text>
<line x1="612.9" y1="379.65" x2="615.5" y2="379.65" stroke="#000" stroke-width="0.7"/>
<text x="612.6" y="379.65" font-size="3.7" text-anchor="end" font-weight="bold" stroke="#222" stroke-width="0.09" fill="#222" dominant-baseline="central">20</text>
<line x1="612.9" y1="365.7" x2="615.5" y2="365.7" stroke="#000" stroke-width="0.7"/>
<text x="612.6" y="365.7" font-size="3.7" text-anchor="end" font-weight="bold" stroke="#222" stroke-width="0.09" fill="#222" dominant-baseline="central">40</text>
<line x1="612.9" y1="351.75" x2="615.5" y2="351.75" stroke="#000" stroke-width="0.7"/>
<text x="612.6" y="351.75" font-size="3.7" text-anchor="end" font-weight="bold" stroke="#222" stroke-width="0.09" fill="#222" dominant-baseline="central">60</text>
<line x1="612.9" y1="337.8" x2="615.5" y2="337.8" stroke="#000" stroke-width="0.7"/>
<text x="612.6" y="337.8" font-size="3.7" text-anchor="end" font-weight="bold" stroke="#222" stroke-width="0.09" fill="#222" dominant-baseline="central">80</text>
<line x1="623.6" y1="376.5" x2="623.6" y2="377.3" stroke="#111" stroke-width="0.8"/>
<line x1="622.1" y1="376.5" x2="625.1" y2="376.5" stroke="#111" stroke-width="0.8"/>
<rect x="620" y="377.3" width="7.2" height="16.3" fill="#539df8" stroke="#151515" stroke-width="0.75"/>
<line x1="630.75" y1="375" x2="630.75" y2="376" stroke="#111" stroke-width="0.8"/>
<line x1="629.25" y1="375" x2="632.25" y2="375" stroke="#111" stroke-width="0.8"/>
<rect x="627.2" y="376" width="7.1" height="17.6" fill="#f98181" stroke="#151515" stroke-width="0.75"/>
<line x1="646.15" y1="342.5" x2="646.15" y2="345.4" stroke="#111" stroke-width="0.8"/>
<line x1="644.65" y1="342.5" x2="647.65" y2="342.5" stroke="#111" stroke-width="0.8"/>
<rect x="642.7" y="345.4" width="6.9" height="48.2" fill="#539df8" stroke="#151515" stroke-width="0.75"/>
<line x1="653.2" y1="343.9" x2="653.2" y2="348" stroke="#111" stroke-width="0.8"/>
<line x1="651.7" y1="343.9" x2="654.7" y2="343.9" stroke="#111" stroke-width="0.8"/>
<rect x="649.6" y="348" width="7.2" height="45.6" fill="#f98181" stroke="#151515" stroke-width="0.75"/>
<line x1="668.45" y1="387.5" x2="668.45" y2="389.3" stroke="#111" stroke-width="0.8"/>
<line x1="666.95" y1="387.5" x2="669.95" y2="387.5" stroke="#111" stroke-width="0.8"/>
<rect x="665.2" y="389.3" width="6.5" height="4.3" fill="#539df8" stroke="#151515" stroke-width="0.75"/>
<line x1="675.3" y1="386.9" x2="675.3" y2="388.9" stroke="#111" stroke-width="0.8"/>
<line x1="673.8" y1="386.9" x2="676.8" y2="386.9" stroke="#111" stroke-width="0.8"/>
<rect x="671.7" y="388.9" width="7.2" height="4.7" fill="#f98181" stroke="#151515" stroke-width="0.75"/>
<line x1="615.5" y1="337.4" x2="615.5" y2="393.6" stroke="#000" stroke-width="1"/>
<line x1="615.5" y1="393.6" x2="681.5" y2="393.6" stroke="#000" stroke-width="1"/>
<path d="M630.80 365.65L631.40 367.27L633.13 367.34L631.78 368.42L632.24 370.08L630.80 369.13L629.36 370.08L629.82 368.42L628.47 367.34L630.20 367.27Z" fill="#111"/>
<path d="M653.30 336.35L653.90 337.97L655.63 338.04L654.28 339.12L654.74 340.78L653.30 339.83L651.86 340.78L652.32 339.12L650.97 338.04L652.70 337.97Z" fill="#111"/>
<rect x="620.6" y="330.8" width="6.1" height="2.6" fill="#539df8" stroke="#1a1a1a" stroke-width="0.5"/>
<text x="628.4" y="332.3" font-size="4.57" font-weight="bold" stroke="#111" stroke-width="0.11" fill="#111" textLength="6.6" lengthAdjust="spacingAndGlyphs" dominant-baseline="central">NC</text>
<rect x="642.7" y="330.8" width="6.5" height="2.6" fill="#f98181" stroke="#1a1a1a" stroke-width="0.5"/>
<text x="651.3" y="332.3" font-size="5.2" font-weight="bold" stroke="#111" stroke-width="0.13" fill="#111" textLength="22.5" lengthAdjust="spacingAndGlyphs" dominant-baseline="central">si-RHOB</text>
<line x1="627.2" y1="393.6" x2="627.2" y2="395" stroke="#000" stroke-width="0.6"/>
<text x="627.2" y="402.15" font-size="4.8" font-weight="bold" fill="#111" stroke="#111" stroke-width="0.12" text-anchor="middle">G<tspan font-size="3.1" dy="1">0</tspan><tspan font-size="4.8" dy="-1">/G</tspan><tspan font-size="3.1" dy="1">1</tspan></text>
<line x1="649.6" y1="393.6" x2="649.6" y2="395" stroke="#000" stroke-width="0.6"/>
<text x="649.6" y="400.6" font-size="4.8" text-anchor="middle" font-weight="bold" stroke="#111" stroke-width="0.12" fill="#111" dominant-baseline="central">S</text>
<line x1="671.7" y1="393.6" x2="671.7" y2="395" stroke="#000" stroke-width="0.6"/>
<text x="671.7" y="402.15" font-size="4.8" font-weight="bold" fill="#111" stroke="#111" stroke-width="0.12" text-anchor="middle">G<tspan font-size="3.1" dy="1">2</tspan><tspan font-size="4.8" dy="-1">/M</tspan></text>
<text x="606.3" y="365.9" font-size="5.3" text-anchor="middle" font-weight="bold" stroke="#222" stroke-width="0.13" fill="#222" textLength="60" lengthAdjust="spacingAndGlyphs" transform="rotate(-90 606.3 365.9)" dominant-baseline="central">Percentage of cells (%)</text>
<text x="3.5" y="415.2" font-size="7.5" text-anchor="middle" font-weight="bold" stroke="#000" stroke-width="0.16" dominant-baseline="central">m</text>
<line x1="25.4" y1="509.3" x2="26.9" y2="509.3" stroke="#000" stroke-width="0.6"/>
<text x="24.9" y="509.3" font-size="5" text-anchor="end" font-weight="bold" stroke="#333" stroke-width="0.12" fill="#333" dominant-baseline="central">0.0</text>
<line x1="25.4" y1="493.8" x2="26.9" y2="493.8" stroke="#000" stroke-width="0.6"/>
<text x="24.9" y="493.8" font-size="5" text-anchor="end" font-weight="bold" stroke="#333" stroke-width="0.12" fill="#333" dominant-baseline="central">0.5</text>
<line x1="25.4" y1="478.3" x2="26.9" y2="478.3" stroke="#000" stroke-width="0.6"/>
<text x="24.9" y="478.3" font-size="5" text-anchor="end" font-weight="bold" stroke="#333" stroke-width="0.12" fill="#333" dominant-baseline="central">1.0</text>
<line x1="25.4" y1="462.8" x2="26.9" y2="462.8" stroke="#000" stroke-width="0.6"/>
<text x="24.9" y="462.8" font-size="5" text-anchor="end" font-weight="bold" stroke="#333" stroke-width="0.12" fill="#333" dominant-baseline="central">1.5</text>
<line x1="25.4" y1="447.3" x2="26.9" y2="447.3" stroke="#000" stroke-width="0.6"/>
<text x="24.9" y="447.3" font-size="5" text-anchor="end" font-weight="bold" stroke="#333" stroke-width="0.12" fill="#333" dominant-baseline="central">2.0</text>
<line x1="25.4" y1="431.8" x2="26.9" y2="431.8" stroke="#000" stroke-width="0.6"/>
<text x="24.9" y="431.8" font-size="5" text-anchor="end" font-weight="bold" stroke="#333" stroke-width="0.12" fill="#333" dominant-baseline="central">2.5</text>
<line x1="30.8" y1="477.68" x2="30.8" y2="478.3" stroke="#111" stroke-width="0.75"/>
<line x1="29.5" y1="477.68" x2="32.1" y2="477.68" stroke="#111" stroke-width="0.75"/>
<rect x="28.2" y="478.3" width="5.2" height="31" fill="#d4d4d4" stroke="#151515" stroke-width="0.7"/>
<line x1="36" y1="465.59" x2="36" y2="466.21" stroke="#111" stroke-width="0.75"/>
<line x1="34.7" y1="465.59" x2="37.3" y2="465.59" stroke="#111" stroke-width="0.75"/>
<rect x="33.4" y="466.21" width="5.2" height="43.09" fill="#539df8" stroke="#151515" stroke-width="0.7"/>
<line x1="33.4" y1="509.3" x2="33.4" y2="510.6" stroke="#000" stroke-width="0.6"/>
<text x="35.4" y="515.7" font-size="5.4" font-weight="bold" text-anchor="end" fill="#111" stroke="#111" stroke-width="0.32" transform="rotate(-45 35.4 515.7)">CDK1</text>
<line x1="46.5" y1="476.44" x2="46.5" y2="478.3" stroke="#111" stroke-width="0.75"/>
<line x1="45.2" y1="476.44" x2="47.8" y2="476.44" stroke="#111" stroke-width="0.75"/>
<rect x="43.9" y="478.3" width="5.2" height="31" fill="#d4d4d4" stroke="#151515" stroke-width="0.7"/>
<line x1="51.7" y1="478.92" x2="51.7" y2="480.47" stroke="#111" stroke-width="0.75"/>
<line x1="50.4" y1="478.92" x2="53" y2="478.92" stroke="#111" stroke-width="0.75"/>
<rect x="49.1" y="480.47" width="5.2" height="28.83" fill="#539df8" stroke="#151515" stroke-width="0.7"/>
<line x1="49.1" y1="509.3" x2="49.1" y2="510.6" stroke="#000" stroke-width="0.6"/>
<text x="51.1" y="515.7" font-size="5.4" font-weight="bold" text-anchor="end" fill="#111" stroke="#111" stroke-width="0.32" transform="rotate(-45 51.1 515.7)">CDK2</text>
<line x1="62.2" y1="477.99" x2="62.2" y2="478.3" stroke="#111" stroke-width="0.75"/>
<line x1="60.9" y1="477.99" x2="63.5" y2="477.99" stroke="#111" stroke-width="0.75"/>
<rect x="59.6" y="478.3" width="5.2" height="31" fill="#d4d4d4" stroke="#151515" stroke-width="0.7"/>
<line x1="67.4" y1="467.14" x2="67.4" y2="469.31" stroke="#111" stroke-width="0.75"/>
<line x1="66.1" y1="467.14" x2="68.7" y2="467.14" stroke="#111" stroke-width="0.75"/>
<rect x="64.8" y="469.31" width="5.2" height="39.99" fill="#539df8" stroke="#151515" stroke-width="0.7"/>
<line x1="64.8" y1="509.3" x2="64.8" y2="510.6" stroke="#000" stroke-width="0.6"/>
<text x="66.8" y="515.7" font-size="5.4" font-weight="bold" text-anchor="end" fill="#111" stroke="#111" stroke-width="0.32" transform="rotate(-45 66.8 515.7)">CDK4</text>
<line x1="77.9" y1="475.82" x2="77.9" y2="478.3" stroke="#111" stroke-width="0.75"/>
<line x1="76.6" y1="475.82" x2="79.2" y2="475.82" stroke="#111" stroke-width="0.75"/>
<rect x="75.3" y="478.3" width="5.2" height="31" fill="#d4d4d4" stroke="#151515" stroke-width="0.7"/>
<line x1="83.1" y1="449.78" x2="83.1" y2="450.4" stroke="#111" stroke-width="0.75"/>
<line x1="81.8" y1="449.78" x2="84.4" y2="449.78" stroke="#111" stroke-width="0.75"/>
<rect x="80.5" y="450.4" width="5.2" height="58.9" fill="#539df8" stroke="#151515" stroke-width="0.7"/>
<line x1="80.5" y1="509.3" x2="80.5" y2="510.6" stroke="#000" stroke-width="0.6"/>
<text x="82.5" y="515.7" font-size="5.4" font-weight="bold" text-anchor="end" fill="#111" stroke="#111" stroke-width="0.32" transform="rotate(-45 82.5 515.7)">Cyclin D1</text>
<line x1="93.6" y1="477.68" x2="93.6" y2="478.3" stroke="#111" stroke-width="0.75"/>
<line x1="92.3" y1="477.68" x2="94.9" y2="477.68" stroke="#111" stroke-width="0.75"/>
<rect x="91" y="478.3" width="5.2" height="31" fill="#d4d4d4" stroke="#151515" stroke-width="0.7"/>
<line x1="98.8" y1="464.66" x2="98.8" y2="467.14" stroke="#111" stroke-width="0.75"/>
<line x1="97.5" y1="464.66" x2="100.1" y2="464.66" stroke="#111" stroke-width="0.75"/>
<rect x="96.2" y="467.14" width="5.2" height="42.16" fill="#539df8" stroke="#151515" stroke-width="0.7"/>
<line x1="96.2" y1="509.3" x2="96.2" y2="510.6" stroke="#000" stroke-width="0.6"/>
<text x="98.2" y="515.7" font-size="5.4" font-weight="bold" text-anchor="end" fill="#111" stroke="#111" stroke-width="0.32" transform="rotate(-45 98.2 515.7)">Cyclin D2</text>
<line x1="109.3" y1="477.37" x2="109.3" y2="478.3" stroke="#111" stroke-width="0.75"/>
<line x1="108" y1="477.37" x2="110.6" y2="477.37" stroke="#111" stroke-width="0.75"/>
<rect x="106.7" y="478.3" width="5.2" height="31" fill="#d4d4d4" stroke="#151515" stroke-width="0.7"/>
<line x1="114.5" y1="469" x2="114.5" y2="470.24" stroke="#111" stroke-width="0.75"/>
<line x1="113.2" y1="469" x2="115.8" y2="469" stroke="#111" stroke-width="0.75"/>
<rect x="111.9" y="470.24" width="5.2" height="39.06" fill="#539df8" stroke="#151515" stroke-width="0.7"/>
<line x1="111.9" y1="509.3" x2="111.9" y2="510.6" stroke="#000" stroke-width="0.6"/>
<text x="113.9" y="515.7" font-size="5.4" font-weight="bold" text-anchor="end" fill="#111" stroke="#111" stroke-width="0.32" transform="rotate(-45 113.9 515.7)">Cyclin D3</text>
<line x1="125" y1="477.37" x2="125" y2="478.3" stroke="#111" stroke-width="0.75"/>
<line x1="123.7" y1="477.37" x2="126.3" y2="477.37" stroke="#111" stroke-width="0.75"/>
<rect x="122.4" y="478.3" width="5.2" height="31" fill="#d4d4d4" stroke="#151515" stroke-width="0.7"/>
<line x1="130.2" y1="463.73" x2="130.2" y2="465.59" stroke="#111" stroke-width="0.75"/>
<line x1="128.9" y1="463.73" x2="131.5" y2="463.73" stroke="#111" stroke-width="0.75"/>
<rect x="127.6" y="465.59" width="5.2" height="43.71" fill="#539df8" stroke="#151515" stroke-width="0.7"/>
<line x1="127.6" y1="509.3" x2="127.6" y2="510.6" stroke="#000" stroke-width="0.6"/>
<text x="129.6" y="515.7" font-size="5.4" font-weight="bold" text-anchor="end" fill="#111" stroke="#111" stroke-width="0.32" transform="rotate(-45 129.6 515.7)">Cyclin A2</text>
<line x1="140.7" y1="477.68" x2="140.7" y2="478.3" stroke="#111" stroke-width="0.75"/>
<line x1="139.4" y1="477.68" x2="142" y2="477.68" stroke="#111" stroke-width="0.75"/>
<rect x="138.1" y="478.3" width="5.2" height="31" fill="#d4d4d4" stroke="#151515" stroke-width="0.7"/>
<line x1="145.9" y1="462.18" x2="145.9" y2="464.97" stroke="#111" stroke-width="0.75"/>
<line x1="144.6" y1="462.18" x2="147.2" y2="462.18" stroke="#111" stroke-width="0.75"/>
<rect x="143.3" y="464.97" width="5.2" height="44.33" fill="#539df8" stroke="#151515" stroke-width="0.7"/>
<line x1="143.3" y1="509.3" x2="143.3" y2="510.6" stroke="#000" stroke-width="0.6"/>
<text x="145.3" y="515.7" font-size="5.4" font-weight="bold" text-anchor="end" fill="#111" stroke="#111" stroke-width="0.32" transform="rotate(-45 145.3 515.7)">Cyclin B1</text>
<line x1="156.4" y1="477.68" x2="156.4" y2="478.3" stroke="#111" stroke-width="0.75"/>
<line x1="155.1" y1="477.68" x2="157.7" y2="477.68" stroke="#111" stroke-width="0.75"/>
<rect x="153.8" y="478.3" width="5.2" height="31" fill="#d4d4d4" stroke="#151515" stroke-width="0.7"/>
<line x1="161.6" y1="465.59" x2="161.6" y2="468.07" stroke="#111" stroke-width="0.75"/>
<line x1="160.3" y1="465.59" x2="162.9" y2="465.59" stroke="#111" stroke-width="0.75"/>
<rect x="159" y="468.07" width="5.2" height="41.23" fill="#539df8" stroke="#151515" stroke-width="0.7"/>
<line x1="159" y1="509.3" x2="159" y2="510.6" stroke="#000" stroke-width="0.6"/>
<text x="161" y="515.7" font-size="5.4" font-weight="bold" text-anchor="end" fill="#111" stroke="#111" stroke-width="0.32" transform="rotate(-45 161 515.7)">Cyclin E1</text>
<line x1="26.9" y1="431.3" x2="26.9" y2="509.3" stroke="#000" stroke-width="0.8"/>
<line x1="26.9" y1="509.3" x2="167.3" y2="509.3" stroke="#000" stroke-width="0.8"/>
<path d="M32.29 455.90L32.83 457.35L34.38 457.42L33.17 458.39L33.58 459.88L32.29 459.02L31.00 459.88L31.41 458.39L30.20 457.42L31.75 457.35ZM36.80 455.90L37.34 457.35L38.89 457.42L37.68 458.39L38.09 459.88L36.80 459.02L35.51 459.88L35.92 458.39L34.71 457.42L36.26 457.35ZM41.31 455.90L41.85 457.35L43.40 457.42L42.19 458.39L42.60 459.88L41.31 459.02L40.02 459.88L40.43 458.39L39.22 457.42L40.77 457.35Z" fill="#111"/>
<path d="M68.20 457.20L68.74 458.65L70.29 458.72L69.08 459.69L69.49 461.18L68.20 460.32L66.91 461.18L67.32 459.69L66.11 458.72L67.66 458.65Z" fill="#111"/>
<path d="M79.39 438.60L79.93 440.05L81.48 440.12L80.27 441.09L80.68 442.58L79.39 441.72L78.10 442.58L78.51 441.09L77.30 440.12L78.85 440.05ZM83.90 438.60L84.44 440.05L85.99 440.12L84.78 441.09L85.19 442.58L83.90 441.72L82.61 442.58L83.02 441.09L81.81 440.12L83.36 440.05ZM88.41 438.60L88.95 440.05L90.50 440.12L89.29 441.09L89.70 442.58L88.41 441.72L87.12 442.58L87.53 441.09L86.32 440.12L87.87 440.05Z" fill="#111"/>
<path d="M99.60 455.90L100.14 457.35L101.69 457.42L100.48 458.39L100.89 459.88L99.60 459.02L98.31 459.88L98.72 458.39L97.51 457.42L99.06 457.35Z" fill="#111"/>
<path d="M113.05 459.50L113.59 460.95L115.14 461.02L113.92 461.99L114.34 463.48L113.05 462.62L111.75 463.48L112.17 461.99L110.95 461.02L112.50 460.95ZM117.56 459.50L118.10 460.95L119.65 461.02L118.43 461.99L118.85 463.48L117.56 462.62L116.26 463.48L116.68 461.99L115.46 461.02L117.01 460.95Z" fill="#111"/>
<path d="M128.75 451.80L129.29 453.25L130.84 453.32L129.62 454.29L130.04 455.78L128.75 454.92L127.45 455.78L127.87 454.29L126.65 453.32L128.20 453.25ZM133.25 451.80L133.80 453.25L135.35 453.32L134.13 454.29L134.55 455.78L133.25 454.92L131.96 455.78L132.38 454.29L131.16 453.32L132.71 453.25Z" fill="#111"/>
<path d="M146.70 451.80L147.24 453.25L148.79 453.32L147.58 454.29L147.99 455.78L146.70 454.92L145.41 455.78L145.82 454.29L144.61 453.32L146.16 453.25Z" fill="#111"/>
<path d="M162.40 455.90L162.94 457.35L164.49 457.42L163.28 458.39L163.69 459.88L162.40 459.02L161.11 459.88L161.52 458.39L160.31 457.42L161.86 457.35Z" fill="#111"/>
<rect x="34.4" y="430.25" width="5.7" height="2.5" fill="#d4d4d4" stroke="#222" stroke-width="0.45"/>
<text x="43.4" y="433.7" font-size="5.26" font-weight="bold" stroke="#222" stroke-width="0.13" fill="#222" textLength="7.6" lengthAdjust="spacingAndGlyphs" dominant-baseline="central">NC</text>
<rect x="56.5" y="430.25" width="5.6" height="2.5" fill="#539df8" stroke="#222" stroke-width="0.45"/>
<text x="65.7" y="433.7" font-size="5.37" font-weight="bold" stroke="#222" stroke-width="0.13" fill="#222" textLength="20.3" lengthAdjust="spacingAndGlyphs" dominant-baseline="central">siRHOB</text>
<text x="99.9" y="419.6" font-size="7.2" text-anchor="middle" font-weight="bold" stroke="#000" stroke-width="0.16" textLength="31.2" lengthAdjust="spacingAndGlyphs" dominant-baseline="central">K562-MK</text>
<text x="12.9" y="471.9" font-size="4.9" text-anchor="middle" fill="#222" textLength="82.8" lengthAdjust="spacingAndGlyphs" transform="rotate(-90 12.9 471.9)" dominant-baseline="central" stroke="#222" stroke-width="0.1">Relative mRNA expression level</text>
<text x="168.8" y="415.2" font-size="7.5" text-anchor="middle" font-weight="bold" stroke="#000" stroke-width="0.16" dominant-baseline="central">n</text>
<line x1="193.6" y1="509.2" x2="195.1" y2="509.2" stroke="#000" stroke-width="0.6"/>
<text x="193.1" y="509.2" font-size="5" text-anchor="end" font-weight="bold" stroke="#333" stroke-width="0.12" fill="#333" dominant-baseline="central">0.0</text>
<line x1="193.6" y1="490.68" x2="195.1" y2="490.68" stroke="#000" stroke-width="0.6"/>
<text x="193.1" y="490.68" font-size="5" text-anchor="end" font-weight="bold" stroke="#333" stroke-width="0.12" fill="#333" dominant-baseline="central">0.5</text>
<line x1="193.6" y1="472.15" x2="195.1" y2="472.15" stroke="#000" stroke-width="0.6"/>
<text x="193.1" y="472.15" font-size="5" text-anchor="end" font-weight="bold" stroke="#333" stroke-width="0.12" fill="#333" dominant-baseline="central">1.0</text>
<line x1="193.6" y1="453.62" x2="195.1" y2="453.62" stroke="#000" stroke-width="0.6"/>
<text x="193.1" y="453.62" font-size="5" text-anchor="end" font-weight="bold" stroke="#333" stroke-width="0.12" fill="#333" dominant-baseline="central">1.5</text>
<line x1="193.6" y1="435.1" x2="195.1" y2="435.1" stroke="#000" stroke-width="0.6"/>
<text x="193.1" y="435.1" font-size="5" text-anchor="end" font-weight="bold" stroke="#333" stroke-width="0.12" fill="#333" dominant-baseline="central">2.0</text>
<line x1="199.55" y1="471.41" x2="199.55" y2="472.15" stroke="#111" stroke-width="0.75"/>
<line x1="198.25" y1="471.41" x2="200.85" y2="471.41" stroke="#111" stroke-width="0.75"/>
<rect x="196.9" y="472.15" width="5.3" height="37.05" fill="#d4d4d4" stroke="#151515" stroke-width="0.7"/>
<line x1="204.85" y1="451.03" x2="204.85" y2="451.77" stroke="#111" stroke-width="0.75"/>
<line x1="203.55" y1="451.03" x2="206.15" y2="451.03" stroke="#111" stroke-width="0.75"/>
<rect x="202.2" y="451.77" width="5.3" height="57.43" fill="#539df8" stroke="#151515" stroke-width="0.7"/>
<line x1="202.2" y1="509.2" x2="202.2" y2="510.5" stroke="#000" stroke-width="0.6"/>
<text x="204.2" y="515.6" font-size="5.4" font-weight="bold" text-anchor="end" fill="#111" stroke="#111" stroke-width="0.32" transform="rotate(-45 204.2 515.6)">CDK1</text>
<line x1="215.35" y1="470.3" x2="215.35" y2="472.15" stroke="#111" stroke-width="0.75"/>
<line x1="214.05" y1="470.3" x2="216.65" y2="470.3" stroke="#111" stroke-width="0.75"/>
<rect x="212.7" y="472.15" width="5.3" height="37.05" fill="#d4d4d4" stroke="#151515" stroke-width="0.7"/>
<line x1="220.65" y1="466.22" x2="220.65" y2="466.96" stroke="#111" stroke-width="0.75"/>
<line x1="219.35" y1="466.22" x2="221.95" y2="466.22" stroke="#111" stroke-width="0.75"/>
<rect x="218" y="466.96" width="5.3" height="42.24" fill="#539df8" stroke="#151515" stroke-width="0.7"/>
<line x1="218" y1="509.2" x2="218" y2="510.5" stroke="#000" stroke-width="0.6"/>
<text x="220" y="515.6" font-size="5.4" font-weight="bold" text-anchor="end" fill="#111" stroke="#111" stroke-width="0.32" transform="rotate(-45 220 515.6)">CDK2</text>
<line x1="231.15" y1="471.41" x2="231.15" y2="472.15" stroke="#111" stroke-width="0.75"/>
<line x1="229.85" y1="471.41" x2="232.45" y2="471.41" stroke="#111" stroke-width="0.75"/>
<rect x="228.5" y="472.15" width="5.3" height="37.05" fill="#d4d4d4" stroke="#151515" stroke-width="0.7"/>
<line x1="236.45" y1="450.66" x2="236.45" y2="452.88" stroke="#111" stroke-width="0.75"/>
<line x1="235.15" y1="450.66" x2="237.75" y2="450.66" stroke="#111" stroke-width="0.75"/>
<rect x="233.8" y="452.88" width="5.3" height="56.32" fill="#539df8" stroke="#151515" stroke-width="0.7"/>
<line x1="233.8" y1="509.2" x2="233.8" y2="510.5" stroke="#000" stroke-width="0.6"/>
<text x="235.8" y="515.6" font-size="5.4" font-weight="bold" text-anchor="end" fill="#111" stroke="#111" stroke-width="0.32" transform="rotate(-45 235.8 515.6)">CDK4</text>
<line x1="246.95" y1="469.19" x2="246.95" y2="472.15" stroke="#111" stroke-width="0.75"/>
<line x1="245.65" y1="469.19" x2="248.25" y2="469.19" stroke="#111" stroke-width="0.75"/>
<rect x="244.3" y="472.15" width="5.3" height="37.05" fill="#d4d4d4" stroke="#151515" stroke-width="0.7"/>
<line x1="252.25" y1="461.03" x2="252.25" y2="462.89" stroke="#111" stroke-width="0.75"/>
<line x1="250.95" y1="461.03" x2="253.55" y2="461.03" stroke="#111" stroke-width="0.75"/>
<rect x="249.6" y="462.89" width="5.3" height="46.31" fill="#539df8" stroke="#151515" stroke-width="0.7"/>
<line x1="249.6" y1="509.2" x2="249.6" y2="510.5" stroke="#000" stroke-width="0.6"/>
<text x="251.6" y="515.6" font-size="5.4" font-weight="bold" text-anchor="end" fill="#111" stroke="#111" stroke-width="0.32" transform="rotate(-45 251.6 515.6)">Cyclin D1</text>
<line x1="262.75" y1="471.41" x2="262.75" y2="472.15" stroke="#111" stroke-width="0.75"/>
<line x1="261.45" y1="471.41" x2="264.05" y2="471.41" stroke="#111" stroke-width="0.75"/>
<rect x="260.1" y="472.15" width="5.3" height="37.05" fill="#d4d4d4" stroke="#151515" stroke-width="0.7"/>
<line x1="268.05" y1="458.07" x2="268.05" y2="461.03" stroke="#111" stroke-width="0.75"/>
<line x1="266.75" y1="458.07" x2="269.35" y2="458.07" stroke="#111" stroke-width="0.75"/>
<rect x="265.4" y="461.03" width="5.3" height="48.17" fill="#539df8" stroke="#151515" stroke-width="0.7"/>
<line x1="265.4" y1="509.2" x2="265.4" y2="510.5" stroke="#000" stroke-width="0.6"/>
<text x="267.4" y="515.6" font-size="5.4" font-weight="bold" text-anchor="end" fill="#111" stroke="#111" stroke-width="0.32" transform="rotate(-45 267.4 515.6)">Cyclin D2</text>
<line x1="278.55" y1="471.41" x2="278.55" y2="472.15" stroke="#111" stroke-width="0.75"/>
<line x1="277.25" y1="471.41" x2="279.85" y2="471.41" stroke="#111" stroke-width="0.75"/>
<rect x="275.9" y="472.15" width="5.3" height="37.05" fill="#d4d4d4" stroke="#151515" stroke-width="0.7"/>
<line x1="283.85" y1="472.15" x2="283.85" y2="473.26" stroke="#111" stroke-width="0.75"/>
<line x1="282.55" y1="472.15" x2="285.15" y2="472.15" stroke="#111" stroke-width="0.75"/>
<rect x="281.2" y="473.26" width="5.3" height="35.94" fill="#539df8" stroke="#151515" stroke-width="0.7"/>
<line x1="281.2" y1="509.2" x2="281.2" y2="510.5" stroke="#000" stroke-width="0.6"/>
<text x="283.2" y="515.6" font-size="5.4" font-weight="bold" text-anchor="end" fill="#111" stroke="#111" stroke-width="0.32" transform="rotate(-45 283.2 515.6)">Cyclin D3</text>
<line x1="294.35" y1="471.41" x2="294.35" y2="472.15" stroke="#111" stroke-width="0.75"/>
<line x1="293.05" y1="471.41" x2="295.65" y2="471.41" stroke="#111" stroke-width="0.75"/>
<rect x="291.7" y="472.15" width="5.3" height="37.05" fill="#d4d4d4" stroke="#151515" stroke-width="0.7"/>
<line x1="299.65" y1="463.63" x2="299.65" y2="464.37" stroke="#111" stroke-width="0.75"/>
<line x1="298.35" y1="463.63" x2="300.95" y2="463.63" stroke="#111" stroke-width="0.75"/>
<rect x="297" y="464.37" width="5.3" height="44.83" fill="#539df8" stroke="#151515" stroke-width="0.7"/>
<line x1="297" y1="509.2" x2="297" y2="510.5" stroke="#000" stroke-width="0.6"/>
<text x="299" y="515.6" font-size="5.4" font-weight="bold" text-anchor="end" fill="#111" stroke="#111" stroke-width="0.32" transform="rotate(-45 299 515.6)">Cyclin A2</text>
<line x1="310.15" y1="471.41" x2="310.15" y2="472.15" stroke="#111" stroke-width="0.75"/>
<line x1="308.85" y1="471.41" x2="311.45" y2="471.41" stroke="#111" stroke-width="0.75"/>
<rect x="307.5" y="472.15" width="5.3" height="37.05" fill="#d4d4d4" stroke="#151515" stroke-width="0.7"/>
<line x1="315.45" y1="458.81" x2="315.45" y2="459.55" stroke="#111" stroke-width="0.75"/>
<line x1="314.15" y1="458.81" x2="316.75" y2="458.81" stroke="#111" stroke-width="0.75"/>
<rect x="312.8" y="459.55" width="5.3" height="49.65" fill="#539df8" stroke="#151515" stroke-width="0.7"/>
<line x1="312.8" y1="509.2" x2="312.8" y2="510.5" stroke="#000" stroke-width="0.6"/>
<text x="314.8" y="515.6" font-size="5.4" font-weight="bold" text-anchor="end" fill="#111" stroke="#111" stroke-width="0.32" transform="rotate(-45 314.8 515.6)">Cyclin B1</text>
<line x1="325.95" y1="470.67" x2="325.95" y2="472.15" stroke="#111" stroke-width="0.75"/>
<line x1="324.65" y1="470.67" x2="327.25" y2="470.67" stroke="#111" stroke-width="0.75"/>
<rect x="323.3" y="472.15" width="5.3" height="37.05" fill="#d4d4d4" stroke="#151515" stroke-width="0.7"/>
<line x1="331.25" y1="460.29" x2="331.25" y2="461.03" stroke="#111" stroke-width="0.75"/>
<line x1="329.95" y1="460.29" x2="332.55" y2="460.29" stroke="#111" stroke-width="0.75"/>
<rect x="328.6" y="461.03" width="5.3" height="48.17" fill="#539df8" stroke="#151515" stroke-width="0.7"/>
<line x1="328.6" y1="509.2" x2="328.6" y2="510.5" stroke="#000" stroke-width="0.6"/>
<text x="330.6" y="515.6" font-size="5.4" font-weight="bold" text-anchor="end" fill="#111" stroke="#111" stroke-width="0.32" transform="rotate(-45 330.6 515.6)">Cyclin E1</text>
<line x1="195.1" y1="434.6" x2="195.1" y2="509.2" stroke="#000" stroke-width="0.8"/>
<line x1="195.1" y1="509.2" x2="334.9" y2="509.2" stroke="#000" stroke-width="0.8"/>
<path d="M200.84 443.20L201.38 444.65L202.93 444.72L201.72 445.69L202.13 447.18L200.84 446.32L199.55 447.18L199.96 445.69L198.75 444.72L200.30 444.65ZM205.35 443.20L205.89 444.65L207.44 444.72L206.23 445.69L206.64 447.18L205.35 446.32L204.06 447.18L204.47 445.69L203.26 444.72L204.81 444.65ZM209.86 443.20L210.40 444.65L211.95 444.72L210.74 445.69L211.15 447.18L209.86 446.32L208.57 447.18L208.98 445.69L207.77 444.72L209.32 444.65Z" fill="#111"/>
<path d="M232.44 444.20L232.98 445.65L234.53 445.72L233.32 446.69L233.73 448.18L232.44 447.32L231.15 448.18L231.56 446.69L230.35 445.72L231.90 445.65ZM236.95 444.20L237.49 445.65L239.04 445.72L237.83 446.69L238.24 448.18L236.95 447.32L235.66 448.18L236.07 446.69L234.86 445.72L236.41 445.65ZM241.46 444.20L242.00 445.65L243.55 445.72L242.34 446.69L242.75 448.18L241.46 447.32L240.17 448.18L240.58 446.69L239.37 445.72L240.92 445.65Z" fill="#111"/>
<path d="M252.75 453.90L253.29 455.35L254.84 455.42L253.63 456.39L254.04 457.88L252.75 457.02L251.46 457.88L251.87 456.39L250.66 455.42L252.21 455.35Z" fill="#111"/>
<path d="M268.55 451.80L269.09 453.25L270.64 453.32L269.43 454.29L269.84 455.78L268.55 454.92L267.26 455.78L267.67 454.29L266.46 453.32L268.01 453.25Z" fill="#111"/>
<path d="M297.90 454.70L298.44 456.15L299.99 456.22L298.77 457.19L299.19 458.68L297.90 457.82L296.60 458.68L297.02 457.19L295.80 456.22L297.35 456.15ZM302.41 454.70L302.95 456.15L304.50 456.22L303.28 457.19L303.70 458.68L302.41 457.82L301.11 458.68L301.53 457.19L300.31 456.22L301.86 456.15Z" fill="#111"/>
<path d="M311.44 450.80L311.98 452.25L313.53 452.32L312.32 453.29L312.73 454.78L311.44 453.92L310.15 454.78L310.56 453.29L309.35 452.32L310.90 452.25ZM315.95 450.80L316.49 452.25L318.04 452.32L316.83 453.29L317.24 454.78L315.95 453.92L314.66 454.78L315.07 453.29L313.86 452.32L315.41 452.25ZM320.46 450.80L321.00 452.25L322.55 452.32L321.34 453.29L321.75 454.78L320.46 453.92L319.17 454.78L319.58 453.29L318.37 452.32L319.92 452.25Z" fill="#111"/>
<path d="M329.50 453.90L330.04 455.35L331.59 455.42L330.37 456.39L330.79 457.88L329.50 457.02L328.20 457.88L328.62 456.39L327.40 455.42L328.95 455.35ZM334.00 453.90L334.55 455.35L336.10 455.42L334.88 456.39L335.30 457.88L334.00 457.02L332.71 457.88L333.13 456.39L331.91 455.42L333.46 455.35Z" fill="#111"/>
<rect x="213" y="430.25" width="5.7" height="2.5" fill="#d4d4d4" stroke="#222" stroke-width="0.45"/>
<text x="221.7" y="433.7" font-size="4.36" font-weight="bold" stroke="#222" stroke-width="0.11" fill="#222" textLength="6.3" lengthAdjust="spacingAndGlyphs" dominant-baseline="central">NC</text>
<rect x="230.9" y="430.25" width="6.1" height="2.5" fill="#539df8" stroke="#222" stroke-width="0.45"/>
<text x="240.4" y="433.7" font-size="5.19" font-weight="bold" stroke="#222" stroke-width="0.13" fill="#222" textLength="19.6" lengthAdjust="spacingAndGlyphs" dominant-baseline="central">siRHOB</text>
<text x="269.1" y="419.6" font-size="7.2" text-anchor="middle" font-weight="bold" stroke="#000" stroke-width="0.16" textLength="39.6" lengthAdjust="spacingAndGlyphs" dominant-baseline="central">Meg-01-MK</text>
<text x="182.4" y="473.8" font-size="4.9" text-anchor="middle" fill="#222" textLength="82" lengthAdjust="spacingAndGlyphs" transform="rotate(-90 182.4 473.8)" dominant-baseline="central" stroke="#222" stroke-width="0.1">Relative mRNA expression level</text>
<text x="334.6" y="415.7" font-size="7.5" text-anchor="middle" font-weight="bold" stroke="#000" stroke-width="0.16" dominant-baseline="central">o</text>
<line x1="361.2" y1="509.8" x2="362.7" y2="509.8" stroke="#000" stroke-width="0.6"/>
<text x="360.7" y="509.8" font-size="5" text-anchor="end" font-weight="bold" stroke="#333" stroke-width="0.12" fill="#333" dominant-baseline="central">0.0</text>
<line x1="361.2" y1="494.36" x2="362.7" y2="494.36" stroke="#000" stroke-width="0.6"/>
<text x="360.7" y="494.36" font-size="5" text-anchor="end" font-weight="bold" stroke="#333" stroke-width="0.12" fill="#333" dominant-baseline="central">0.5</text>
<line x1="361.2" y1="478.92" x2="362.7" y2="478.92" stroke="#000" stroke-width="0.6"/>
<text x="360.7" y="478.92" font-size="5" text-anchor="end" font-weight="bold" stroke="#333" stroke-width="0.12" fill="#333" dominant-baseline="central">1.0</text>
<line x1="361.2" y1="463.48" x2="362.7" y2="463.48" stroke="#000" stroke-width="0.6"/>
<text x="360.7" y="463.48" font-size="5" text-anchor="end" font-weight="bold" stroke="#333" stroke-width="0.12" fill="#333" dominant-baseline="central">1.5</text>
<line x1="361.2" y1="448.04" x2="362.7" y2="448.04" stroke="#000" stroke-width="0.6"/>
<text x="360.7" y="448.04" font-size="5" text-anchor="end" font-weight="bold" stroke="#333" stroke-width="0.12" fill="#333" dominant-baseline="central">2.0</text>
<line x1="361.2" y1="432.6" x2="362.7" y2="432.6" stroke="#000" stroke-width="0.6"/>
<text x="360.7" y="432.6" font-size="5" text-anchor="end" font-weight="bold" stroke="#333" stroke-width="0.12" fill="#333" dominant-baseline="central">2.5</text>
<line x1="368.4" y1="478.61" x2="368.4" y2="478.92" stroke="#111" stroke-width="0.75"/>
<line x1="367.1" y1="478.61" x2="369.7" y2="478.61" stroke="#111" stroke-width="0.75"/>
<rect x="365.8" y="478.92" width="5.2" height="30.88" fill="#d4d4d4" stroke="#151515" stroke-width="0.7"/>
<line x1="373.6" y1="448.66" x2="373.6" y2="452.36" stroke="#111" stroke-width="0.75"/>
<line x1="372.3" y1="448.66" x2="374.9" y2="448.66" stroke="#111" stroke-width="0.75"/>
<rect x="371" y="452.36" width="5.2" height="57.44" fill="#539df8" stroke="#151515" stroke-width="0.7"/>
<line x1="371" y1="509.8" x2="371" y2="511.1" stroke="#000" stroke-width="0.6"/>
<text x="373" y="516.2" font-size="5.4" font-weight="bold" text-anchor="end" fill="#111" stroke="#111" stroke-width="0.32" transform="rotate(-45 373 516.2)">CDK1</text>
<line x1="383.95" y1="474.91" x2="383.95" y2="478.92" stroke="#111" stroke-width="0.75"/>
<line x1="382.65" y1="474.91" x2="385.25" y2="474.91" stroke="#111" stroke-width="0.75"/>
<rect x="381.35" y="478.92" width="5.2" height="30.88" fill="#d4d4d4" stroke="#151515" stroke-width="0.7"/>
<line x1="389.15" y1="458.85" x2="389.15" y2="461.32" stroke="#111" stroke-width="0.75"/>
<line x1="387.85" y1="458.85" x2="390.45" y2="458.85" stroke="#111" stroke-width="0.75"/>
<rect x="386.55" y="461.32" width="5.2" height="48.48" fill="#539df8" stroke="#151515" stroke-width="0.7"/>
<line x1="386.55" y1="509.8" x2="386.55" y2="511.1" stroke="#000" stroke-width="0.6"/>
<text x="388.55" y="516.2" font-size="5.4" font-weight="bold" text-anchor="end" fill="#111" stroke="#111" stroke-width="0.32" transform="rotate(-45 388.55 516.2)">CDK2</text>
<line x1="399.5" y1="476.14" x2="399.5" y2="478.92" stroke="#111" stroke-width="0.75"/>
<line x1="398.2" y1="476.14" x2="400.8" y2="476.14" stroke="#111" stroke-width="0.75"/>
<rect x="396.9" y="478.92" width="5.2" height="30.88" fill="#d4d4d4" stroke="#151515" stroke-width="0.7"/>
<line x1="404.7" y1="454.52" x2="404.7" y2="457" stroke="#111" stroke-width="0.75"/>
<line x1="403.4" y1="454.52" x2="406" y2="454.52" stroke="#111" stroke-width="0.75"/>
<rect x="402.1" y="457" width="5.2" height="52.8" fill="#539df8" stroke="#151515" stroke-width="0.7"/>
<line x1="402.1" y1="509.8" x2="402.1" y2="511.1" stroke="#000" stroke-width="0.6"/>
<text x="404.1" y="516.2" font-size="5.4" font-weight="bold" text-anchor="end" fill="#111" stroke="#111" stroke-width="0.32" transform="rotate(-45 404.1 516.2)">CDK4</text>
<line x1="415.05" y1="478.61" x2="415.05" y2="478.92" stroke="#111" stroke-width="0.75"/>
<line x1="413.75" y1="478.61" x2="416.35" y2="478.61" stroke="#111" stroke-width="0.75"/>
<rect x="412.45" y="478.92" width="5.2" height="30.88" fill="#d4d4d4" stroke="#151515" stroke-width="0.7"/>
<line x1="420.25" y1="449.58" x2="420.25" y2="454.22" stroke="#111" stroke-width="0.75"/>
<line x1="418.95" y1="449.58" x2="421.55" y2="449.58" stroke="#111" stroke-width="0.75"/>
<rect x="417.65" y="454.22" width="5.2" height="55.58" fill="#539df8" stroke="#151515" stroke-width="0.7"/>
<line x1="417.65" y1="509.8" x2="417.65" y2="511.1" stroke="#000" stroke-width="0.6"/>
<text x="419.65" y="516.2" font-size="5.4" font-weight="bold" text-anchor="end" fill="#111" stroke="#111" stroke-width="0.32" transform="rotate(-45 419.65 516.2)">Cyclin D1</text>
<line x1="430.6" y1="474.91" x2="430.6" y2="478.92" stroke="#111" stroke-width="0.75"/>
<line x1="429.3" y1="474.91" x2="431.9" y2="474.91" stroke="#111" stroke-width="0.75"/>
<rect x="428" y="478.92" width="5.2" height="30.88" fill="#d4d4d4" stroke="#151515" stroke-width="0.7"/>
<line x1="435.8" y1="441.25" x2="435.8" y2="450.51" stroke="#111" stroke-width="0.75"/>
<line x1="434.5" y1="441.25" x2="437.1" y2="441.25" stroke="#111" stroke-width="0.75"/>
<rect x="433.2" y="450.51" width="5.2" height="59.29" fill="#539df8" stroke="#151515" stroke-width="0.7"/>
<line x1="433.2" y1="509.8" x2="433.2" y2="511.1" stroke="#000" stroke-width="0.6"/>
<text x="435.2" y="516.2" font-size="5.4" font-weight="bold" text-anchor="end" fill="#111" stroke="#111" stroke-width="0.32" transform="rotate(-45 435.2 516.2)">Cyclin D2</text>
<line x1="446.15" y1="477.99" x2="446.15" y2="478.92" stroke="#111" stroke-width="0.75"/>
<line x1="444.85" y1="477.99" x2="447.45" y2="477.99" stroke="#111" stroke-width="0.75"/>
<rect x="443.55" y="478.92" width="5.2" height="30.88" fill="#d4d4d4" stroke="#151515" stroke-width="0.7"/>
<line x1="451.35" y1="459.77" x2="451.35" y2="460.39" stroke="#111" stroke-width="0.75"/>
<line x1="450.05" y1="459.77" x2="452.65" y2="459.77" stroke="#111" stroke-width="0.75"/>
<rect x="448.75" y="460.39" width="5.2" height="49.41" fill="#539df8" stroke="#151515" stroke-width="0.7"/>
<line x1="448.75" y1="509.8" x2="448.75" y2="511.1" stroke="#000" stroke-width="0.6"/>
<text x="450.75" y="516.2" font-size="5.4" font-weight="bold" text-anchor="end" fill="#111" stroke="#111" stroke-width="0.32" transform="rotate(-45 450.75 516.2)">Cyclin D3</text>
<line x1="461.7" y1="478.61" x2="461.7" y2="478.92" stroke="#111" stroke-width="0.75"/>
<line x1="460.4" y1="478.61" x2="463" y2="478.61" stroke="#111" stroke-width="0.75"/>
<rect x="459.1" y="478.92" width="5.2" height="30.88" fill="#d4d4d4" stroke="#151515" stroke-width="0.7"/>
<line x1="466.9" y1="451.75" x2="466.9" y2="452.36" stroke="#111" stroke-width="0.75"/>
<line x1="465.6" y1="451.75" x2="468.2" y2="451.75" stroke="#111" stroke-width="0.75"/>
<rect x="464.3" y="452.36" width="5.2" height="57.44" fill="#539df8" stroke="#151515" stroke-width="0.7"/>
<line x1="464.3" y1="509.8" x2="464.3" y2="511.1" stroke="#000" stroke-width="0.6"/>
<text x="466.3" y="516.2" font-size="5.4" font-weight="bold" text-anchor="end" fill="#111" stroke="#111" stroke-width="0.32" transform="rotate(-45 466.3 516.2)">Cyclin A2</text>
<line x1="477.25" y1="478.61" x2="477.25" y2="478.92" stroke="#111" stroke-width="0.75"/>
<line x1="475.95" y1="478.61" x2="478.55" y2="478.61" stroke="#111" stroke-width="0.75"/>
<rect x="474.65" y="478.92" width="5.2" height="30.88" fill="#d4d4d4" stroke="#151515" stroke-width="0.7"/>
<line x1="482.45" y1="455.76" x2="482.45" y2="456.69" stroke="#111" stroke-width="0.75"/>
<line x1="481.15" y1="455.76" x2="483.75" y2="455.76" stroke="#111" stroke-width="0.75"/>
<rect x="479.85" y="456.69" width="5.2" height="53.11" fill="#539df8" stroke="#151515" stroke-width="0.7"/>
<line x1="479.85" y1="509.8" x2="479.85" y2="511.1" stroke="#000" stroke-width="0.6"/>
<text x="481.85" y="516.2" font-size="5.4" font-weight="bold" text-anchor="end" fill="#111" stroke="#111" stroke-width="0.32" transform="rotate(-45 481.85 516.2)">Cyclin B1</text>
<line x1="492.8" y1="478.61" x2="492.8" y2="478.92" stroke="#111" stroke-width="0.75"/>
<line x1="491.5" y1="478.61" x2="494.1" y2="478.61" stroke="#111" stroke-width="0.75"/>
<rect x="490.2" y="478.92" width="5.2" height="30.88" fill="#d4d4d4" stroke="#151515" stroke-width="0.7"/>
<line x1="498" y1="463.48" x2="498" y2="465.95" stroke="#111" stroke-width="0.75"/>
<line x1="496.7" y1="463.48" x2="499.3" y2="463.48" stroke="#111" stroke-width="0.75"/>
<rect x="495.4" y="465.95" width="5.2" height="43.85" fill="#539df8" stroke="#151515" stroke-width="0.7"/>
<line x1="495.4" y1="509.8" x2="495.4" y2="511.1" stroke="#000" stroke-width="0.6"/>
<text x="497.4" y="516.2" font-size="5.4" font-weight="bold" text-anchor="end" fill="#111" stroke="#111" stroke-width="0.32" transform="rotate(-45 497.4 516.2)">Cyclin E1</text>
<line x1="362.7" y1="432.1" x2="362.7" y2="509.8" stroke="#000" stroke-width="0.8"/>
<line x1="362.7" y1="509.8" x2="500.7" y2="509.8" stroke="#000" stroke-width="0.8"/>
<path d="M371.85 441.10L372.39 442.55L373.94 442.62L372.72 443.59L373.14 445.08L371.85 444.22L370.55 445.08L370.97 443.59L369.75 442.62L371.30 442.55ZM376.36 441.10L376.90 442.55L378.45 442.62L377.23 443.59L377.65 445.08L376.36 444.22L375.06 445.08L375.48 443.59L374.26 442.62L375.81 442.55Z" fill="#111"/>
<path d="M387.40 448.30L387.94 449.75L389.49 449.82L388.27 450.79L388.69 452.28L387.40 451.42L386.10 452.28L386.52 450.79L385.30 449.82L386.85 449.75ZM391.91 448.30L392.45 449.75L394.00 449.82L392.78 450.79L393.20 452.28L391.91 451.42L390.61 452.28L391.03 450.79L389.81 449.82L391.36 449.75Z" fill="#111"/>
<path d="M402.95 446.80L403.49 448.25L405.04 448.32L403.82 449.29L404.24 450.78L402.95 449.92L401.65 450.78L402.07 449.29L400.85 448.32L402.40 448.25ZM407.46 446.80L408.00 448.25L409.55 448.32L408.33 449.29L408.75 450.78L407.46 449.92L406.16 450.78L406.58 449.29L405.36 448.32L406.91 448.25Z" fill="#111"/>
<path d="M418.50 441.60L419.04 443.05L420.59 443.12L419.37 444.09L419.79 445.58L418.50 444.72L417.20 445.58L417.62 444.09L416.40 443.12L417.95 443.05ZM423.01 441.60L423.55 443.05L425.10 443.12L423.88 444.09L424.30 445.58L423.01 444.72L421.71 445.58L422.13 444.09L420.91 443.12L422.46 443.05Z" fill="#111"/>
<path d="M436.30 435.50L436.84 436.95L438.39 437.02L437.18 437.99L437.59 439.48L436.30 438.62L435.01 439.48L435.42 437.99L434.21 437.02L435.76 436.95Z" fill="#111"/>
<path d="M447.34 451.30L447.88 452.75L449.43 452.82L448.22 453.79L448.63 455.28L447.34 454.42L446.05 455.28L446.46 453.79L445.25 452.82L446.80 452.75ZM451.85 451.30L452.39 452.75L453.94 452.82L452.73 453.79L453.14 455.28L451.85 454.42L450.56 455.28L450.97 453.79L449.76 452.82L451.31 452.75ZM456.36 451.30L456.90 452.75L458.45 452.82L457.24 453.79L457.65 455.28L456.36 454.42L455.07 455.28L455.48 453.79L454.27 452.82L455.82 452.75Z" fill="#111"/>
<path d="M462.89 442.40L463.43 443.85L464.98 443.92L463.77 444.89L464.18 446.38L462.89 445.52L461.60 446.38L462.01 444.89L460.80 443.92L462.35 443.85ZM467.40 442.40L467.94 443.85L469.49 443.92L468.28 444.89L468.69 446.38L467.40 445.52L466.11 446.38L466.52 444.89L465.31 443.92L466.86 443.85ZM471.91 442.40L472.45 443.85L474.00 443.92L472.79 444.89L473.20 446.38L471.91 445.52L470.62 446.38L471.03 444.89L469.82 443.92L471.37 443.85Z" fill="#111"/>
<path d="M478.44 446.80L478.98 448.25L480.53 448.32L479.32 449.29L479.73 450.78L478.44 449.92L477.15 450.78L477.56 449.29L476.35 448.32L477.90 448.25ZM482.95 446.80L483.49 448.25L485.04 448.32L483.83 449.29L484.24 450.78L482.95 449.92L481.66 450.78L482.07 449.29L480.86 448.32L482.41 448.25ZM487.46 446.80L488.00 448.25L489.55 448.32L488.34 449.29L488.75 450.78L487.46 449.92L486.17 450.78L486.58 449.29L485.37 448.32L486.92 448.25Z" fill="#111"/>
<path d="M496.25 455.70L496.79 457.15L498.34 457.22L497.12 458.19L497.54 459.68L496.25 458.82L494.95 459.68L495.37 458.19L494.15 457.22L495.70 457.15ZM500.76 455.70L501.30 457.15L502.85 457.22L501.63 458.19L502.05 459.68L500.76 458.82L499.46 459.68L499.88 458.19L498.66 457.22L500.21 457.15Z" fill="#111"/>
<rect x="376.5" y="430.25" width="5.9" height="2.5" fill="#d4d4d4" stroke="#222" stroke-width="0.45"/>
<text x="385.7" y="433.7" font-size="4.36" font-weight="bold" stroke="#222" stroke-width="0.11" fill="#222" textLength="6.3" lengthAdjust="spacingAndGlyphs" dominant-baseline="central">NC</text>
<rect x="396.9" y="430.25" width="6.7" height="2.5" fill="#539df8" stroke="#222" stroke-width="0.45"/>
<text x="405.9" y="433.7" font-size="5.27" font-weight="bold" stroke="#222" stroke-width="0.13" fill="#222" textLength="19.9" lengthAdjust="spacingAndGlyphs" dominant-baseline="central">siRHOB</text>
<text x="424.8" y="419.6" font-size="7.2" text-anchor="middle" font-weight="bold" stroke="#000" stroke-width="0.16" textLength="30.2" lengthAdjust="spacingAndGlyphs" dominant-baseline="central">UT-7-MK</text>
<text x="348.4" y="472" font-size="4.9" text-anchor="middle" fill="#222" textLength="83" lengthAdjust="spacingAndGlyphs" transform="rotate(-90 348.4 472)" dominant-baseline="central" stroke="#222" stroke-width="0.1">Relative mRNA expression level</text>
<text x="502.7" y="416.3" font-size="7.5" text-anchor="middle" font-weight="bold" stroke="#000" stroke-width="0.16" dominant-baseline="central">p</text>
<line x1="528.7" y1="507.6" x2="530.2" y2="507.6" stroke="#000" stroke-width="0.6"/>
<text x="528.2" y="507.6" font-size="4.4" text-anchor="end" font-weight="bold" stroke="#333" stroke-width="0.11" fill="#333" dominant-baseline="central">0.0</text>
<line x1="528.7" y1="493.3" x2="530.2" y2="493.3" stroke="#000" stroke-width="0.6"/>
<text x="528.2" y="493.3" font-size="4.4" text-anchor="end" font-weight="bold" stroke="#333" stroke-width="0.11" fill="#333" dominant-baseline="central">0.5</text>
<line x1="528.7" y1="479" x2="530.2" y2="479" stroke="#000" stroke-width="0.6"/>
<text x="528.2" y="479" font-size="4.4" text-anchor="end" font-weight="bold" stroke="#333" stroke-width="0.11" fill="#333" dominant-baseline="central">1.0</text>
<line x1="528.7" y1="464.7" x2="530.2" y2="464.7" stroke="#000" stroke-width="0.6"/>
<text x="528.2" y="464.7" font-size="4.4" text-anchor="end" font-weight="bold" stroke="#333" stroke-width="0.11" fill="#333" dominant-baseline="central">1.5</text>
<line x1="528.7" y1="450.4" x2="530.2" y2="450.4" stroke="#000" stroke-width="0.6"/>
<text x="528.2" y="450.4" font-size="4.4" text-anchor="end" font-weight="bold" stroke="#333" stroke-width="0.11" fill="#333" dominant-baseline="central">2.0</text>
<line x1="528.7" y1="436.1" x2="530.2" y2="436.1" stroke="#000" stroke-width="0.6"/>
<text x="528.2" y="436.1" font-size="4.4" text-anchor="end" font-weight="bold" stroke="#333" stroke-width="0.11" fill="#333" dominant-baseline="central">2.5</text>
<line x1="535.6" y1="478.43" x2="535.6" y2="479" stroke="#111" stroke-width="0.75"/>
<line x1="534.3" y1="478.43" x2="536.9" y2="478.43" stroke="#111" stroke-width="0.75"/>
<rect x="532.9" y="479" width="5.4" height="28.6" fill="#d4d4d4" stroke="#151515" stroke-width="0.7"/>
<line x1="541" y1="478.14" x2="541" y2="478.71" stroke="#111" stroke-width="0.75"/>
<line x1="539.7" y1="478.14" x2="542.3" y2="478.14" stroke="#111" stroke-width="0.75"/>
<rect x="538.3" y="478.71" width="5.4" height="28.89" fill="#539df8" stroke="#151515" stroke-width="0.7"/>
<line x1="538.3" y1="507.6" x2="538.3" y2="508.9" stroke="#000" stroke-width="0.6"/>
<text x="540.3" y="514" font-size="4.8" font-weight="bold" text-anchor="end" fill="#111" stroke="#111" stroke-width="0.32" transform="rotate(-45 540.3 514)">CDK1</text>
<line x1="552" y1="478.71" x2="552" y2="479" stroke="#111" stroke-width="0.75"/>
<line x1="550.7" y1="478.71" x2="553.3" y2="478.71" stroke="#111" stroke-width="0.75"/>
<rect x="549.3" y="479" width="5.4" height="28.6" fill="#d4d4d4" stroke="#151515" stroke-width="0.7"/>
<line x1="557.4" y1="475.57" x2="557.4" y2="477.28" stroke="#111" stroke-width="0.75"/>
<line x1="556.1" y1="475.57" x2="558.7" y2="475.57" stroke="#111" stroke-width="0.75"/>
<rect x="554.7" y="477.28" width="5.4" height="30.32" fill="#539df8" stroke="#151515" stroke-width="0.7"/>
<line x1="554.7" y1="507.6" x2="554.7" y2="508.9" stroke="#000" stroke-width="0.6"/>
<text x="556.7" y="514" font-size="4.8" font-weight="bold" text-anchor="end" fill="#111" stroke="#111" stroke-width="0.32" transform="rotate(-45 556.7 514)">CDK2</text>
<line x1="568.4" y1="477.86" x2="568.4" y2="478.43" stroke="#111" stroke-width="0.75"/>
<line x1="567.1" y1="477.86" x2="569.7" y2="477.86" stroke="#111" stroke-width="0.75"/>
<rect x="565.7" y="478.43" width="5.4" height="29.17" fill="#d4d4d4" stroke="#151515" stroke-width="0.7"/>
<line x1="573.8" y1="459.84" x2="573.8" y2="463.27" stroke="#111" stroke-width="0.75"/>
<line x1="572.5" y1="459.84" x2="575.1" y2="459.84" stroke="#111" stroke-width="0.75"/>
<rect x="571.1" y="463.27" width="5.4" height="44.33" fill="#539df8" stroke="#151515" stroke-width="0.7"/>
<line x1="571.1" y1="507.6" x2="571.1" y2="508.9" stroke="#000" stroke-width="0.6"/>
<text x="573.1" y="514" font-size="4.8" font-weight="bold" text-anchor="end" fill="#111" stroke="#111" stroke-width="0.32" transform="rotate(-45 573.1 514)">CDK4</text>
<line x1="584.8" y1="477" x2="584.8" y2="478.43" stroke="#111" stroke-width="0.75"/>
<line x1="583.5" y1="477" x2="586.1" y2="477" stroke="#111" stroke-width="0.75"/>
<rect x="582.1" y="478.43" width="5.4" height="29.17" fill="#d4d4d4" stroke="#151515" stroke-width="0.7"/>
<line x1="590.2" y1="456.12" x2="590.2" y2="458.41" stroke="#111" stroke-width="0.75"/>
<line x1="588.9" y1="456.12" x2="591.5" y2="456.12" stroke="#111" stroke-width="0.75"/>
<rect x="587.5" y="458.41" width="5.4" height="49.19" fill="#539df8" stroke="#151515" stroke-width="0.7"/>
<line x1="587.5" y1="507.6" x2="587.5" y2="508.9" stroke="#000" stroke-width="0.6"/>
<text x="589.5" y="514" font-size="4.8" font-weight="bold" text-anchor="end" fill="#111" stroke="#111" stroke-width="0.32" transform="rotate(-45 589.5 514)">Cyclin D1</text>
<line x1="601.2" y1="477.86" x2="601.2" y2="478.43" stroke="#111" stroke-width="0.75"/>
<line x1="599.9" y1="477.86" x2="602.5" y2="477.86" stroke="#111" stroke-width="0.75"/>
<rect x="598.5" y="478.43" width="5.4" height="29.17" fill="#d4d4d4" stroke="#151515" stroke-width="0.7"/>
<line x1="606.6" y1="459.27" x2="606.6" y2="461.84" stroke="#111" stroke-width="0.75"/>
<line x1="605.3" y1="459.27" x2="607.9" y2="459.27" stroke="#111" stroke-width="0.75"/>
<rect x="603.9" y="461.84" width="5.4" height="45.76" fill="#539df8" stroke="#151515" stroke-width="0.7"/>
<line x1="603.9" y1="507.6" x2="603.9" y2="508.9" stroke="#000" stroke-width="0.6"/>
<text x="605.9" y="514" font-size="4.8" font-weight="bold" text-anchor="end" fill="#111" stroke="#111" stroke-width="0.32" transform="rotate(-45 605.9 514)">Cyclin D2</text>
<line x1="617.6" y1="478.71" x2="617.6" y2="479" stroke="#111" stroke-width="0.75"/>
<line x1="616.3" y1="478.71" x2="618.9" y2="478.71" stroke="#111" stroke-width="0.75"/>
<rect x="614.9" y="479" width="5.4" height="28.6" fill="#d4d4d4" stroke="#151515" stroke-width="0.7"/>
<line x1="623" y1="466.13" x2="623" y2="467.56" stroke="#111" stroke-width="0.75"/>
<line x1="621.7" y1="466.13" x2="624.3" y2="466.13" stroke="#111" stroke-width="0.75"/>
<rect x="620.3" y="467.56" width="5.4" height="40.04" fill="#539df8" stroke="#151515" stroke-width="0.7"/>
<line x1="620.3" y1="507.6" x2="620.3" y2="508.9" stroke="#000" stroke-width="0.6"/>
<text x="622.3" y="514" font-size="4.8" font-weight="bold" text-anchor="end" fill="#111" stroke="#111" stroke-width="0.32" transform="rotate(-45 622.3 514)">Cyclin D3</text>
<line x1="634" y1="477.57" x2="634" y2="478.43" stroke="#111" stroke-width="0.75"/>
<line x1="632.7" y1="477.57" x2="635.3" y2="477.57" stroke="#111" stroke-width="0.75"/>
<rect x="631.3" y="478.43" width="5.4" height="29.17" fill="#d4d4d4" stroke="#151515" stroke-width="0.7"/>
<line x1="639.4" y1="479" x2="639.4" y2="479.57" stroke="#111" stroke-width="0.75"/>
<line x1="638.1" y1="479" x2="640.7" y2="479" stroke="#111" stroke-width="0.75"/>
<rect x="636.7" y="479.57" width="5.4" height="28.03" fill="#539df8" stroke="#151515" stroke-width="0.7"/>
<line x1="636.7" y1="507.6" x2="636.7" y2="508.9" stroke="#000" stroke-width="0.6"/>
<text x="638.7" y="514" font-size="4.8" font-weight="bold" text-anchor="end" fill="#111" stroke="#111" stroke-width="0.32" transform="rotate(-45 638.7 514)">Cyclin A2</text>
<line x1="650.4" y1="477.86" x2="650.4" y2="478.43" stroke="#111" stroke-width="0.75"/>
<line x1="649.1" y1="477.86" x2="651.7" y2="477.86" stroke="#111" stroke-width="0.75"/>
<rect x="647.7" y="478.43" width="5.4" height="29.17" fill="#d4d4d4" stroke="#151515" stroke-width="0.7"/>
<line x1="655.8" y1="474.14" x2="655.8" y2="476.14" stroke="#111" stroke-width="0.75"/>
<line x1="654.5" y1="474.14" x2="657.1" y2="474.14" stroke="#111" stroke-width="0.75"/>
<rect x="653.1" y="476.14" width="5.4" height="31.46" fill="#539df8" stroke="#151515" stroke-width="0.7"/>
<line x1="653.1" y1="507.6" x2="653.1" y2="508.9" stroke="#000" stroke-width="0.6"/>
<text x="655.1" y="514" font-size="4.8" font-weight="bold" text-anchor="end" fill="#111" stroke="#111" stroke-width="0.32" transform="rotate(-45 655.1 514)">Cyclin B1</text>
<line x1="666.8" y1="477" x2="666.8" y2="478.43" stroke="#111" stroke-width="0.75"/>
<line x1="665.5" y1="477" x2="668.1" y2="477" stroke="#111" stroke-width="0.75"/>
<rect x="664.1" y="478.43" width="5.4" height="29.17" fill="#d4d4d4" stroke="#151515" stroke-width="0.7"/>
<line x1="672.2" y1="450.4" x2="672.2" y2="455.55" stroke="#111" stroke-width="0.75"/>
<line x1="670.9" y1="450.4" x2="673.5" y2="450.4" stroke="#111" stroke-width="0.75"/>
<rect x="669.5" y="455.55" width="5.4" height="52.05" fill="#539df8" stroke="#151515" stroke-width="0.7"/>
<line x1="669.5" y1="507.6" x2="669.5" y2="508.9" stroke="#000" stroke-width="0.6"/>
<text x="671.5" y="514" font-size="4.8" font-weight="bold" text-anchor="end" fill="#111" stroke="#111" stroke-width="0.32" transform="rotate(-45 671.5 514)">Cyclin E1</text>
<line x1="530.2" y1="435.6" x2="530.2" y2="507.6" stroke="#000" stroke-width="0.8"/>
<line x1="530.2" y1="507.6" x2="678.8" y2="507.6" stroke="#000" stroke-width="0.8"/>
<path d="M574.30 450.90L574.84 452.35L576.39 452.42L575.18 453.39L575.59 454.88L574.30 454.02L573.01 454.88L573.42 453.39L572.21 452.42L573.76 452.35Z" fill="#111"/>
<path d="M588.45 446.50L588.99 447.95L590.54 448.02L589.32 448.99L589.74 450.48L588.45 449.62L587.15 450.48L587.57 448.99L586.35 448.02L587.90 447.95ZM592.96 446.50L593.50 447.95L595.05 448.02L593.83 448.99L594.25 450.48L592.96 449.62L591.66 450.48L592.08 448.99L590.86 448.02L592.41 447.95Z" fill="#111"/>
<path d="M604.85 450.10L605.39 451.55L606.94 451.62L605.72 452.59L606.14 454.08L604.85 453.22L603.55 454.08L603.97 452.59L602.75 451.62L604.30 451.55ZM609.36 450.10L609.90 451.55L611.45 451.62L610.23 452.59L610.65 454.08L609.36 453.22L608.06 454.08L608.48 452.59L607.26 451.62L608.81 451.55Z" fill="#111"/>
<path d="M618.99 457.40L619.53 458.85L621.08 458.92L619.87 459.89L620.28 461.38L618.99 460.52L617.70 461.38L618.11 459.89L616.90 458.92L618.45 458.85ZM623.50 457.40L624.04 458.85L625.59 458.92L624.38 459.89L624.79 461.38L623.50 460.52L622.21 461.38L622.62 459.89L621.41 458.92L622.96 458.85ZM628.01 457.40L628.55 458.85L630.10 458.92L628.89 459.89L629.30 461.38L628.01 460.52L626.72 461.38L627.13 459.89L625.92 458.92L627.47 458.85Z" fill="#111"/>
<path d="M672.70 441.10L673.24 442.55L674.79 442.62L673.58 443.59L673.99 445.08L672.70 444.22L671.41 445.08L671.82 443.59L670.61 442.62L672.16 442.55Z" fill="#111"/>
<rect x="545.4" y="429.95" width="5.4" height="2.5" fill="#d4d4d4" stroke="#222" stroke-width="0.45"/>
<text x="551.8" y="433.4" font-size="4.29" font-weight="bold" stroke="#222" stroke-width="0.11" fill="#222" textLength="6.2" lengthAdjust="spacingAndGlyphs" dominant-baseline="central">NC</text>
<rect x="565.4" y="429.95" width="5.4" height="2.5" fill="#539df8" stroke="#222" stroke-width="0.45"/>
<text x="572.4" y="433.4" font-size="5.13" font-weight="bold" stroke="#222" stroke-width="0.13" fill="#222" textLength="19.4" lengthAdjust="spacingAndGlyphs" dominant-baseline="central">siRHOB</text>
<text x="614.8" y="419" font-size="7.2" text-anchor="middle" font-weight="bold" stroke="#000" stroke-width="0.16" textLength="30.8" lengthAdjust="spacingAndGlyphs" dominant-baseline="central">MNC-MK</text>
<text x="511.3" y="471.9" font-size="4.9" text-anchor="middle" fill="#222" textLength="82" lengthAdjust="spacingAndGlyphs" transform="rotate(-90 511.3 471.9)" dominant-baseline="central" stroke="#222" stroke-width="0.1">Relative mRNA expression level</text>
<text x="6.4" y="541.2" font-size="7.5" text-anchor="middle" font-weight="bold" stroke="#000" stroke-width="0.16" dominant-baseline="central">q</text>
<line x1="22.9" y1="638.5" x2="24.4" y2="638.5" stroke="#000" stroke-width="0.6"/>
<text x="22.4" y="638.5" font-size="5" text-anchor="end" font-weight="bold" stroke="#333" stroke-width="0.12" fill="#333" dominant-baseline="central">0.0</text>
<line x1="22.9" y1="610.25" x2="24.4" y2="610.25" stroke="#000" stroke-width="0.6"/>
<text x="22.4" y="610.25" font-size="5" text-anchor="end" font-weight="bold" stroke="#333" stroke-width="0.12" fill="#333" dominant-baseline="central">0.5</text>
<line x1="22.9" y1="582" x2="24.4" y2="582" stroke="#000" stroke-width="0.6"/>
<text x="22.4" y="582" font-size="5" text-anchor="end" font-weight="bold" stroke="#333" stroke-width="0.12" fill="#333" dominant-baseline="central">1.0</text>
<line x1="22.9" y1="553.75" x2="24.4" y2="553.75" stroke="#000" stroke-width="0.6"/>
<text x="22.4" y="553.75" font-size="5" text-anchor="end" font-weight="bold" stroke="#333" stroke-width="0.12" fill="#333" dominant-baseline="central">1.5</text>
<line x1="30.55" y1="581.43" x2="30.55" y2="582" stroke="#111" stroke-width="0.75"/>
<line x1="29.25" y1="581.43" x2="31.85" y2="581.43" stroke="#111" stroke-width="0.75"/>
<rect x="27.3" y="582" width="6.5" height="56.5" fill="#d4d4d4" stroke="#151515" stroke-width="0.7"/>
<line x1="37.05" y1="598.95" x2="37.05" y2="601.77" stroke="#111" stroke-width="0.75"/>
<line x1="35.75" y1="598.95" x2="38.35" y2="598.95" stroke="#111" stroke-width="0.75"/>
<rect x="33.8" y="601.77" width="6.5" height="36.73" fill="#f98181" stroke="#151515" stroke-width="0.7"/>
<line x1="33.8" y1="638.5" x2="33.8" y2="639.8" stroke="#000" stroke-width="0.6"/>
<text x="35.8" y="644.9" font-size="5.4" font-weight="bold" text-anchor="end" fill="#111" stroke="#111" stroke-width="0.32" transform="rotate(-45 35.8 644.9)">CDK1</text>
<line x1="49.85" y1="577.48" x2="49.85" y2="582" stroke="#111" stroke-width="0.75"/>
<line x1="48.55" y1="577.48" x2="51.15" y2="577.48" stroke="#111" stroke-width="0.75"/>
<rect x="46.6" y="582" width="6.5" height="56.5" fill="#d4d4d4" stroke="#151515" stroke-width="0.7"/>
<line x1="56.35" y1="609.12" x2="56.35" y2="614.77" stroke="#111" stroke-width="0.75"/>
<line x1="55.05" y1="609.12" x2="57.65" y2="609.12" stroke="#111" stroke-width="0.75"/>
<rect x="53.1" y="614.77" width="6.5" height="23.73" fill="#f98181" stroke="#151515" stroke-width="0.7"/>
<line x1="53.1" y1="638.5" x2="53.1" y2="639.8" stroke="#000" stroke-width="0.6"/>
<text x="55.1" y="644.9" font-size="5.4" font-weight="bold" text-anchor="end" fill="#111" stroke="#111" stroke-width="0.32" transform="rotate(-45 55.1 644.9)">CDK2</text>
<line x1="69.15" y1="578.04" x2="69.15" y2="582" stroke="#111" stroke-width="0.75"/>
<line x1="67.85" y1="578.04" x2="70.45" y2="578.04" stroke="#111" stroke-width="0.75"/>
<rect x="65.9" y="582" width="6.5" height="56.5" fill="#d4d4d4" stroke="#151515" stroke-width="0.7"/>
<line x1="75.65" y1="598.95" x2="75.65" y2="601.77" stroke="#111" stroke-width="0.75"/>
<line x1="74.35" y1="598.95" x2="76.95" y2="598.95" stroke="#111" stroke-width="0.75"/>
<rect x="72.4" y="601.77" width="6.5" height="36.73" fill="#f98181" stroke="#151515" stroke-width="0.7"/>
<line x1="72.4" y1="638.5" x2="72.4" y2="639.8" stroke="#000" stroke-width="0.6"/>
<text x="74.4" y="644.9" font-size="5.4" font-weight="bold" text-anchor="end" fill="#111" stroke="#111" stroke-width="0.32" transform="rotate(-45 74.4 644.9)">CDK4</text>
<line x1="88.45" y1="577.48" x2="88.45" y2="582" stroke="#111" stroke-width="0.75"/>
<line x1="87.15" y1="577.48" x2="89.75" y2="577.48" stroke="#111" stroke-width="0.75"/>
<rect x="85.2" y="582" width="6.5" height="56.5" fill="#d4d4d4" stroke="#151515" stroke-width="0.7"/>
<line x1="94.95" y1="611.38" x2="94.95" y2="612.51" stroke="#111" stroke-width="0.75"/>
<line x1="93.65" y1="611.38" x2="96.25" y2="611.38" stroke="#111" stroke-width="0.75"/>
<rect x="91.7" y="612.51" width="6.5" height="25.99" fill="#f98181" stroke="#151515" stroke-width="0.7"/>
<line x1="91.7" y1="638.5" x2="91.7" y2="639.8" stroke="#000" stroke-width="0.6"/>
<text x="93.7" y="644.9" font-size="5.4" font-weight="bold" text-anchor="end" fill="#111" stroke="#111" stroke-width="0.32" transform="rotate(-45 93.7 644.9)">Cyclin D1</text>
<line x1="107.75" y1="580.87" x2="107.75" y2="582" stroke="#111" stroke-width="0.75"/>
<line x1="106.45" y1="580.87" x2="109.05" y2="580.87" stroke="#111" stroke-width="0.75"/>
<rect x="104.5" y="582" width="6.5" height="56.5" fill="#d4d4d4" stroke="#151515" stroke-width="0.7"/>
<line x1="114.25" y1="609.68" x2="114.25" y2="610.25" stroke="#111" stroke-width="0.75"/>
<line x1="112.95" y1="609.68" x2="115.55" y2="609.68" stroke="#111" stroke-width="0.75"/>
<rect x="111" y="610.25" width="6.5" height="28.25" fill="#f98181" stroke="#151515" stroke-width="0.7"/>
<line x1="111" y1="638.5" x2="111" y2="639.8" stroke="#000" stroke-width="0.6"/>
<text x="113" y="644.9" font-size="5.4" font-weight="bold" text-anchor="end" fill="#111" stroke="#111" stroke-width="0.32" transform="rotate(-45 113 644.9)">Cyclin D2</text>
<line x1="127.05" y1="580.87" x2="127.05" y2="582" stroke="#111" stroke-width="0.75"/>
<line x1="125.75" y1="580.87" x2="128.35" y2="580.87" stroke="#111" stroke-width="0.75"/>
<rect x="123.8" y="582" width="6.5" height="56.5" fill="#d4d4d4" stroke="#151515" stroke-width="0.7"/>
<line x1="133.55" y1="605.73" x2="133.55" y2="607.99" stroke="#111" stroke-width="0.75"/>
<line x1="132.25" y1="605.73" x2="134.85" y2="605.73" stroke="#111" stroke-width="0.75"/>
<rect x="130.3" y="607.99" width="6.5" height="30.51" fill="#f98181" stroke="#151515" stroke-width="0.7"/>
<line x1="130.3" y1="638.5" x2="130.3" y2="639.8" stroke="#000" stroke-width="0.6"/>
<text x="132.3" y="644.9" font-size="5.4" font-weight="bold" text-anchor="end" fill="#111" stroke="#111" stroke-width="0.32" transform="rotate(-45 132.3 644.9)">Cyclin D3</text>
<line x1="146.35" y1="580.87" x2="146.35" y2="582" stroke="#111" stroke-width="0.75"/>
<line x1="145.05" y1="580.87" x2="147.65" y2="580.87" stroke="#111" stroke-width="0.75"/>
<rect x="143.1" y="582" width="6.5" height="56.5" fill="#d4d4d4" stroke="#151515" stroke-width="0.7"/>
<line x1="152.85" y1="600.64" x2="152.85" y2="601.77" stroke="#111" stroke-width="0.75"/>
<line x1="151.55" y1="600.64" x2="154.15" y2="600.64" stroke="#111" stroke-width="0.75"/>
<rect x="149.6" y="601.77" width="6.5" height="36.73" fill="#f98181" stroke="#151515" stroke-width="0.7"/>
<line x1="149.6" y1="638.5" x2="149.6" y2="639.8" stroke="#000" stroke-width="0.6"/>
<text x="151.6" y="644.9" font-size="5.4" font-weight="bold" text-anchor="end" fill="#111" stroke="#111" stroke-width="0.32" transform="rotate(-45 151.6 644.9)">Cyclin A2</text>
<line x1="165.65" y1="579.17" x2="165.65" y2="582" stroke="#111" stroke-width="0.75"/>
<line x1="164.35" y1="579.17" x2="166.95" y2="579.17" stroke="#111" stroke-width="0.75"/>
<rect x="162.4" y="582" width="6.5" height="56.5" fill="#d4d4d4" stroke="#151515" stroke-width="0.7"/>
<line x1="172.15" y1="598.38" x2="172.15" y2="600.08" stroke="#111" stroke-width="0.75"/>
<line x1="170.85" y1="598.38" x2="173.45" y2="598.38" stroke="#111" stroke-width="0.75"/>
<rect x="168.9" y="600.08" width="6.5" height="38.42" fill="#f98181" stroke="#151515" stroke-width="0.7"/>
<line x1="168.9" y1="638.5" x2="168.9" y2="639.8" stroke="#000" stroke-width="0.6"/>
<text x="170.9" y="644.9" font-size="5.4" font-weight="bold" text-anchor="end" fill="#111" stroke="#111" stroke-width="0.32" transform="rotate(-45 170.9 644.9)">Cyclin B1</text>
<line x1="184.95" y1="577.48" x2="184.95" y2="582" stroke="#111" stroke-width="0.75"/>
<line x1="183.65" y1="577.48" x2="186.25" y2="577.48" stroke="#111" stroke-width="0.75"/>
<rect x="181.7" y="582" width="6.5" height="56.5" fill="#d4d4d4" stroke="#151515" stroke-width="0.7"/>
<line x1="191.45" y1="596.69" x2="191.45" y2="597.25" stroke="#111" stroke-width="0.75"/>
<line x1="190.15" y1="596.69" x2="192.75" y2="596.69" stroke="#111" stroke-width="0.75"/>
<rect x="188.2" y="597.25" width="6.5" height="41.25" fill="#f98181" stroke="#151515" stroke-width="0.7"/>
<line x1="188.2" y1="638.5" x2="188.2" y2="639.8" stroke="#000" stroke-width="0.6"/>
<text x="190.2" y="644.9" font-size="5.4" font-weight="bold" text-anchor="end" fill="#111" stroke="#111" stroke-width="0.32" transform="rotate(-45 190.2 644.9)">Cyclin E1</text>
<line x1="24.4" y1="553.25" x2="24.4" y2="638.5" stroke="#000" stroke-width="0.8"/>
<line x1="24.4" y1="638.5" x2="197.2" y2="638.5" stroke="#000" stroke-width="0.8"/>
<path d="M36.24 587.20L36.79 588.65L38.34 588.72L37.12 589.69L37.54 591.18L36.24 590.32L34.95 591.18L35.37 589.69L34.15 588.72L35.70 588.65ZM40.75 587.20L41.30 588.65L42.85 588.72L41.63 589.69L42.05 591.18L40.75 590.32L39.46 591.18L39.88 589.69L38.66 588.72L40.21 588.65Z" fill="#111"/>
<path d="M56.34 600.10L56.89 601.55L58.44 601.62L57.22 602.59L57.64 604.08L56.34 603.22L55.05 604.08L55.47 602.59L54.25 601.62L55.80 601.55ZM60.85 600.10L61.40 601.55L62.95 601.62L61.73 602.59L62.15 604.08L60.85 603.22L59.56 604.08L59.98 602.59L58.76 601.62L60.31 601.55Z" fill="#111"/>
<path d="M76.30 588.00L76.84 589.45L78.39 589.52L77.18 590.49L77.59 591.98L76.30 591.12L75.01 591.98L75.42 590.49L74.21 589.52L75.76 589.45Z" fill="#111"/>
<path d="M94.95 600.90L95.49 602.35L97.04 602.42L95.82 603.39L96.24 604.88L94.95 604.02L93.65 604.88L94.07 603.39L92.85 602.42L94.40 602.35ZM99.46 600.90L100.00 602.35L101.55 602.42L100.33 603.39L100.75 604.88L99.46 604.02L98.16 604.88L98.58 603.39L97.36 602.42L98.91 602.35Z" fill="#111"/>
<path d="M112.99 599.70L113.53 601.15L115.08 601.22L113.87 602.19L114.28 603.68L112.99 602.82L111.70 603.68L112.11 602.19L110.90 601.22L112.45 601.15ZM117.50 599.70L118.04 601.15L119.59 601.22L118.38 602.19L118.79 603.68L117.50 602.82L116.21 603.68L116.62 602.19L115.41 601.22L116.96 601.15ZM122.01 599.70L122.55 601.15L124.10 601.22L122.89 602.19L123.30 603.68L122.01 602.82L120.72 603.68L121.13 602.19L119.92 601.22L121.47 601.15Z" fill="#111"/>
<path d="M132.29 595.40L132.83 596.85L134.38 596.92L133.17 597.89L133.58 599.38L132.29 598.52L131.00 599.38L131.41 597.89L130.20 596.92L131.75 596.85ZM136.80 595.40L137.34 596.85L138.89 596.92L137.68 597.89L138.09 599.38L136.80 598.52L135.51 599.38L135.92 597.89L134.71 596.92L136.26 596.85ZM141.31 595.40L141.85 596.85L143.40 596.92L142.19 597.89L142.60 599.38L141.31 598.52L140.02 599.38L140.43 597.89L139.22 596.92L140.77 596.85Z" fill="#111"/>
<path d="M151.29 588.70L151.83 590.15L153.38 590.22L152.17 591.19L152.58 592.68L151.29 591.82L150.00 592.68L150.41 591.19L149.20 590.22L150.75 590.15ZM155.80 588.70L156.34 590.15L157.89 590.22L156.68 591.19L157.09 592.68L155.80 591.82L154.51 592.68L154.92 591.19L153.71 590.22L155.26 590.15ZM160.31 588.70L160.85 590.15L162.40 590.22L161.19 591.19L161.60 592.68L160.31 591.82L159.02 592.68L159.43 591.19L158.22 590.22L159.77 590.15Z" fill="#111"/>
<path d="M171.55 586.90L172.09 588.35L173.64 588.42L172.42 589.39L172.84 590.88L171.55 590.02L170.25 590.88L170.67 589.39L169.45 588.42L171.00 588.35ZM176.06 586.90L176.60 588.35L178.15 588.42L176.93 589.39L177.35 590.88L176.06 590.02L174.76 590.88L175.18 589.39L173.96 588.42L175.51 588.35Z" fill="#111"/>
<path d="M192.00 585.40L192.54 586.85L194.09 586.92L192.88 587.89L193.29 589.38L192.00 588.52L190.71 589.38L191.12 587.89L189.91 586.92L191.46 586.85Z" fill="#111"/>
<rect x="36.1" y="556.55" width="6.5" height="2.5" fill="#d4d4d4" stroke="#222" stroke-width="0.45"/>
<text x="45.8" y="560" font-size="4.99" font-weight="bold" stroke="#222" stroke-width="0.12" fill="#222" textLength="7.2" lengthAdjust="spacingAndGlyphs" dominant-baseline="central">NC</text>
<rect x="55.4" y="556.55" width="6.4" height="2.5" fill="#f98181" stroke="#222" stroke-width="0.45"/>
<text x="65" y="560" font-size="5.32" font-weight="bold" stroke="#222" stroke-width="0.13" fill="#222" textLength="20.1" lengthAdjust="spacingAndGlyphs" dominant-baseline="central">siRHOB</text>
<text x="96.85" y="547.2" font-size="7.2" text-anchor="middle" font-weight="bold" stroke="#000" stroke-width="0.16" textLength="34.7" lengthAdjust="spacingAndGlyphs" dominant-baseline="central">K562-RBC</text>
<text x="11.6" y="595.9" font-size="4.9" text-anchor="middle" fill="#222" textLength="83.5" lengthAdjust="spacingAndGlyphs" transform="rotate(-90 11.6 595.9)" dominant-baseline="central" stroke="#222" stroke-width="0.1">Relative mRNA expression level</text>
<text x="206.8" y="540.8" font-size="7.5" text-anchor="middle" font-weight="bold" stroke="#000" stroke-width="0.16" dominant-baseline="central">r</text>
<line x1="264.2" y1="639.6" x2="265.7" y2="639.6" stroke="#000" stroke-width="0.6"/>
<text x="263.7" y="639.6" font-size="5" text-anchor="end" font-weight="bold" stroke="#333" stroke-width="0.12" fill="#333" dominant-baseline="central">0.0</text>
<line x1="264.2" y1="610.7" x2="265.7" y2="610.7" stroke="#000" stroke-width="0.6"/>
<text x="263.7" y="610.7" font-size="5" text-anchor="end" font-weight="bold" stroke="#333" stroke-width="0.12" fill="#333" dominant-baseline="central">0.5</text>
<line x1="264.2" y1="581.8" x2="265.7" y2="581.8" stroke="#000" stroke-width="0.6"/>
<text x="263.7" y="581.8" font-size="5" text-anchor="end" font-weight="bold" stroke="#333" stroke-width="0.12" fill="#333" dominant-baseline="central">1.0</text>
<line x1="264.2" y1="552.9" x2="265.7" y2="552.9" stroke="#000" stroke-width="0.6"/>
<text x="263.7" y="552.9" font-size="5" text-anchor="end" font-weight="bold" stroke="#333" stroke-width="0.12" fill="#333" dominant-baseline="central">1.5</text>
<line x1="271.9" y1="576.6" x2="271.9" y2="581.8" stroke="#111" stroke-width="0.75"/>
<line x1="270.6" y1="576.6" x2="273.2" y2="576.6" stroke="#111" stroke-width="0.75"/>
<rect x="268.7" y="581.8" width="6.4" height="57.8" fill="#d4d4d4" stroke="#151515" stroke-width="0.7"/>
<line x1="278.3" y1="575.44" x2="278.3" y2="581.22" stroke="#111" stroke-width="0.75"/>
<line x1="277" y1="575.44" x2="279.6" y2="575.44" stroke="#111" stroke-width="0.75"/>
<rect x="275.1" y="581.22" width="6.4" height="58.38" fill="#f98181" stroke="#151515" stroke-width="0.7"/>
<line x1="275.1" y1="639.6" x2="275.1" y2="640.9" stroke="#000" stroke-width="0.6"/>
<text x="278.3" y="644" font-size="5.4" font-weight="bold" text-anchor="end" fill="#111" stroke="#111" stroke-width="0.32" transform="rotate(-45 278.3 644)">CDK1</text>
<line x1="291.15" y1="581.22" x2="291.15" y2="581.8" stroke="#111" stroke-width="0.75"/>
<line x1="289.85" y1="581.22" x2="292.45" y2="581.22" stroke="#111" stroke-width="0.75"/>
<rect x="287.95" y="581.8" width="6.4" height="57.8" fill="#d4d4d4" stroke="#151515" stroke-width="0.7"/>
<line x1="297.55" y1="582.96" x2="297.55" y2="587.58" stroke="#111" stroke-width="0.75"/>
<line x1="296.25" y1="582.96" x2="298.85" y2="582.96" stroke="#111" stroke-width="0.75"/>
<rect x="294.35" y="587.58" width="6.4" height="52.02" fill="#f98181" stroke="#151515" stroke-width="0.7"/>
<line x1="294.35" y1="639.6" x2="294.35" y2="640.9" stroke="#000" stroke-width="0.6"/>
<text x="297.55" y="644" font-size="5.4" font-weight="bold" text-anchor="end" fill="#111" stroke="#111" stroke-width="0.32" transform="rotate(-45 297.55 644)">CDK2</text>
<line x1="310.4" y1="581.22" x2="310.4" y2="581.8" stroke="#111" stroke-width="0.75"/>
<line x1="309.1" y1="581.22" x2="311.7" y2="581.22" stroke="#111" stroke-width="0.75"/>
<rect x="307.2" y="581.8" width="6.4" height="57.8" fill="#d4d4d4" stroke="#151515" stroke-width="0.7"/>
<line x1="316.8" y1="596.83" x2="316.8" y2="597.41" stroke="#111" stroke-width="0.75"/>
<line x1="315.5" y1="596.83" x2="318.1" y2="596.83" stroke="#111" stroke-width="0.75"/>
<rect x="313.6" y="597.41" width="6.4" height="42.19" fill="#f98181" stroke="#151515" stroke-width="0.7"/>
<line x1="313.6" y1="639.6" x2="313.6" y2="640.9" stroke="#000" stroke-width="0.6"/>
<text x="316.8" y="644" font-size="5.4" font-weight="bold" text-anchor="end" fill="#111" stroke="#111" stroke-width="0.32" transform="rotate(-45 316.8 644)">CDK4</text>
<line x1="329.65" y1="577.75" x2="329.65" y2="581.8" stroke="#111" stroke-width="0.75"/>
<line x1="328.35" y1="577.75" x2="330.95" y2="577.75" stroke="#111" stroke-width="0.75"/>
<rect x="326.45" y="581.8" width="6.4" height="57.8" fill="#d4d4d4" stroke="#151515" stroke-width="0.7"/>
<line x1="336.05" y1="596.83" x2="336.05" y2="597.98" stroke="#111" stroke-width="0.75"/>
<line x1="334.75" y1="596.83" x2="337.35" y2="596.83" stroke="#111" stroke-width="0.75"/>
<rect x="332.85" y="597.98" width="6.4" height="41.62" fill="#f98181" stroke="#151515" stroke-width="0.7"/>
<line x1="332.85" y1="639.6" x2="332.85" y2="640.9" stroke="#000" stroke-width="0.6"/>
<text x="336.05" y="644" font-size="5.4" font-weight="bold" text-anchor="end" fill="#111" stroke="#111" stroke-width="0.32" transform="rotate(-45 336.05 644)">Cyclin D1</text>
<line x1="348.9" y1="576.02" x2="348.9" y2="581.8" stroke="#111" stroke-width="0.75"/>
<line x1="347.6" y1="576.02" x2="350.2" y2="576.02" stroke="#111" stroke-width="0.75"/>
<rect x="345.7" y="581.8" width="6.4" height="57.8" fill="#d4d4d4" stroke="#151515" stroke-width="0.7"/>
<line x1="355.3" y1="607.23" x2="355.3" y2="612.43" stroke="#111" stroke-width="0.75"/>
<line x1="354" y1="607.23" x2="356.6" y2="607.23" stroke="#111" stroke-width="0.75"/>
<rect x="352.1" y="612.43" width="6.4" height="27.17" fill="#f98181" stroke="#151515" stroke-width="0.7"/>
<line x1="352.1" y1="639.6" x2="352.1" y2="640.9" stroke="#000" stroke-width="0.6"/>
<text x="355.3" y="644" font-size="5.4" font-weight="bold" text-anchor="end" fill="#111" stroke="#111" stroke-width="0.32" transform="rotate(-45 355.3 644)">Cyclin D2</text>
<line x1="368.15" y1="579.49" x2="368.15" y2="581.8" stroke="#111" stroke-width="0.75"/>
<line x1="366.85" y1="579.49" x2="369.45" y2="579.49" stroke="#111" stroke-width="0.75"/>
<rect x="364.95" y="581.8" width="6.4" height="57.8" fill="#d4d4d4" stroke="#151515" stroke-width="0.7"/>
<line x1="374.55" y1="581.22" x2="374.55" y2="584.69" stroke="#111" stroke-width="0.75"/>
<line x1="373.25" y1="581.22" x2="375.85" y2="581.22" stroke="#111" stroke-width="0.75"/>
<rect x="371.35" y="584.69" width="6.4" height="54.91" fill="#f98181" stroke="#151515" stroke-width="0.7"/>
<line x1="371.35" y1="639.6" x2="371.35" y2="640.9" stroke="#000" stroke-width="0.6"/>
<text x="374.55" y="644" font-size="5.4" font-weight="bold" text-anchor="end" fill="#111" stroke="#111" stroke-width="0.32" transform="rotate(-45 374.55 644)">Cyclin D3</text>
<line x1="387.4" y1="579.49" x2="387.4" y2="581.8" stroke="#111" stroke-width="0.75"/>
<line x1="386.1" y1="579.49" x2="388.7" y2="579.49" stroke="#111" stroke-width="0.75"/>
<rect x="384.2" y="581.8" width="6.4" height="57.8" fill="#d4d4d4" stroke="#151515" stroke-width="0.7"/>
<line x1="393.8" y1="579.49" x2="393.8" y2="581.8" stroke="#111" stroke-width="0.75"/>
<line x1="392.5" y1="579.49" x2="395.1" y2="579.49" stroke="#111" stroke-width="0.75"/>
<rect x="390.6" y="581.8" width="6.4" height="57.8" fill="#f98181" stroke="#151515" stroke-width="0.7"/>
<line x1="390.6" y1="639.6" x2="390.6" y2="640.9" stroke="#000" stroke-width="0.6"/>
<text x="393.8" y="644" font-size="5.4" font-weight="bold" text-anchor="end" fill="#111" stroke="#111" stroke-width="0.32" transform="rotate(-45 393.8 644)">Cyclin A2</text>
<line x1="406.65" y1="580.64" x2="406.65" y2="581.8" stroke="#111" stroke-width="0.75"/>
<line x1="405.35" y1="580.64" x2="407.95" y2="580.64" stroke="#111" stroke-width="0.75"/>
<rect x="403.45" y="581.8" width="6.4" height="57.8" fill="#d4d4d4" stroke="#151515" stroke-width="0.7"/>
<line x1="413.05" y1="573.13" x2="413.05" y2="577.75" stroke="#111" stroke-width="0.75"/>
<line x1="411.75" y1="573.13" x2="414.35" y2="573.13" stroke="#111" stroke-width="0.75"/>
<rect x="409.85" y="577.75" width="6.4" height="61.85" fill="#f98181" stroke="#151515" stroke-width="0.7"/>
<line x1="409.85" y1="639.6" x2="409.85" y2="640.9" stroke="#000" stroke-width="0.6"/>
<text x="413.05" y="644" font-size="5.4" font-weight="bold" text-anchor="end" fill="#111" stroke="#111" stroke-width="0.32" transform="rotate(-45 413.05 644)">Cyclin B1</text>
<line x1="425.9" y1="578.91" x2="425.9" y2="581.8" stroke="#111" stroke-width="0.75"/>
<line x1="424.6" y1="578.91" x2="427.2" y2="578.91" stroke="#111" stroke-width="0.75"/>
<rect x="422.7" y="581.8" width="6.4" height="57.8" fill="#d4d4d4" stroke="#151515" stroke-width="0.7"/>
<line x1="432.3" y1="593.94" x2="432.3" y2="594.52" stroke="#111" stroke-width="0.75"/>
<line x1="431" y1="593.94" x2="433.6" y2="593.94" stroke="#111" stroke-width="0.75"/>
<rect x="429.1" y="594.52" width="6.4" height="45.08" fill="#f98181" stroke="#151515" stroke-width="0.7"/>
<line x1="429.1" y1="639.6" x2="429.1" y2="640.9" stroke="#000" stroke-width="0.6"/>
<text x="432.3" y="644" font-size="5.4" font-weight="bold" text-anchor="end" fill="#111" stroke="#111" stroke-width="0.32" transform="rotate(-45 432.3 644)">Cyclin E1</text>
<line x1="265.7" y1="552.4" x2="265.7" y2="639.6" stroke="#000" stroke-width="0.8"/>
<line x1="265.7" y1="639.6" x2="437.3" y2="639.6" stroke="#000" stroke-width="0.8"/>
<path d="M314.99 582.80L315.53 584.25L317.08 584.32L315.87 585.29L316.28 586.78L314.99 585.92L313.70 586.78L314.11 585.29L312.90 584.32L314.45 584.25ZM319.50 582.80L320.04 584.25L321.59 584.32L320.38 585.29L320.79 586.78L319.50 585.92L318.21 586.78L318.62 585.29L317.41 584.32L318.96 584.25ZM324.01 582.80L324.55 584.25L326.10 584.32L324.89 585.29L325.30 586.78L324.01 585.92L322.72 586.78L323.13 585.29L321.92 584.32L323.47 584.25Z" fill="#111"/>
<path d="M336.40 585.70L336.94 587.15L338.49 587.22L337.28 588.19L337.69 589.68L336.40 588.82L335.11 589.68L335.52 588.19L334.31 587.22L335.86 587.15Z" fill="#111"/>
<path d="M355.70 599.70L356.24 601.15L357.79 601.22L356.58 602.19L356.99 603.68L355.70 602.82L354.41 603.68L354.82 602.19L353.61 601.22L355.16 601.15Z" fill="#111"/>
<path d="M431.75 581.30L432.29 582.75L433.84 582.82L432.62 583.79L433.04 585.28L431.75 584.42L430.45 585.28L430.87 583.79L429.65 582.82L431.20 582.75ZM436.25 581.30L436.80 582.75L438.35 582.82L437.13 583.79L437.55 585.28L436.25 584.42L434.96 585.28L435.38 583.79L434.16 582.82L435.71 582.75Z" fill="#111"/>
<rect x="270.4" y="556.45" width="6.1" height="2.5" fill="#d4d4d4" stroke="#222" stroke-width="0.45"/>
<text x="279.7" y="559.9" font-size="5.06" font-weight="bold" stroke="#222" stroke-width="0.13" fill="#222" textLength="7.3" lengthAdjust="spacingAndGlyphs" dominant-baseline="central">NC</text>
<rect x="288.8" y="556.45" width="6.1" height="2.5" fill="#f98181" stroke="#222" stroke-width="0.45"/>
<text x="298.4" y="559.9" font-size="5.35" font-weight="bold" stroke="#222" stroke-width="0.13" fill="#222" textLength="20.2" lengthAdjust="spacingAndGlyphs" dominant-baseline="central">siRHOB</text>
<text x="341.8" y="547.2" font-size="7.2" text-anchor="middle" font-weight="bold" stroke="#000" stroke-width="0.16" textLength="32.4" lengthAdjust="spacingAndGlyphs" dominant-baseline="central">TF-1-RBC</text>
<text x="250.3" y="596.3" font-size="4.9" text-anchor="middle" fill="#222" textLength="83" lengthAdjust="spacingAndGlyphs" transform="rotate(-90 250.3 596.3)" dominant-baseline="central" stroke="#222" stroke-width="0.1">Relative mRNA expression level</text>
<text x="457.7" y="540.3" font-size="7.5" text-anchor="middle" font-weight="bold" stroke="#000" stroke-width="0.16" dominant-baseline="central">s</text>
<line x1="488.1" y1="637.7" x2="489.6" y2="637.7" stroke="#000" stroke-width="0.6"/>
<text x="487.6" y="637.7" font-size="4.4" text-anchor="end" font-weight="bold" stroke="#333" stroke-width="0.11" fill="#333" dominant-baseline="central">0.0</text>
<line x1="488.1" y1="613.6" x2="489.6" y2="613.6" stroke="#000" stroke-width="0.6"/>
<text x="487.6" y="613.6" font-size="4.4" text-anchor="end" font-weight="bold" stroke="#333" stroke-width="0.11" fill="#333" dominant-baseline="central">0.5</text>
<line x1="488.1" y1="589.5" x2="489.6" y2="589.5" stroke="#000" stroke-width="0.6"/>
<text x="487.6" y="589.5" font-size="4.4" text-anchor="end" font-weight="bold" stroke="#333" stroke-width="0.11" fill="#333" dominant-baseline="central">1.0</text>
<line x1="488.1" y1="565.4" x2="489.6" y2="565.4" stroke="#000" stroke-width="0.6"/>
<text x="487.6" y="565.4" font-size="4.4" text-anchor="end" font-weight="bold" stroke="#333" stroke-width="0.11" fill="#333" dominant-baseline="central">1.5</text>
<line x1="496.95" y1="588.54" x2="496.95" y2="589.5" stroke="#111" stroke-width="0.75"/>
<line x1="495.65" y1="588.54" x2="498.25" y2="588.54" stroke="#111" stroke-width="0.75"/>
<rect x="493.7" y="589.5" width="6.5" height="48.2" fill="#d4d4d4" stroke="#151515" stroke-width="0.7"/>
<line x1="503.45" y1="616.49" x2="503.45" y2="618.9" stroke="#111" stroke-width="0.75"/>
<line x1="502.15" y1="616.49" x2="504.75" y2="616.49" stroke="#111" stroke-width="0.75"/>
<rect x="500.2" y="618.9" width="6.5" height="18.8" fill="#f98181" stroke="#151515" stroke-width="0.7"/>
<line x1="500.2" y1="637.7" x2="500.2" y2="639" stroke="#000" stroke-width="0.6"/>
<text x="502.2" y="644.1" font-size="4.9" font-weight="bold" text-anchor="end" fill="#111" stroke="#111" stroke-width="0.32" transform="rotate(-45 502.2 644.1)">CDK1</text>
<line x1="516.65" y1="587.57" x2="516.65" y2="589.5" stroke="#111" stroke-width="0.75"/>
<line x1="515.35" y1="587.57" x2="517.95" y2="587.57" stroke="#111" stroke-width="0.75"/>
<rect x="513.4" y="589.5" width="6.5" height="48.2" fill="#d4d4d4" stroke="#151515" stroke-width="0.7"/>
<line x1="523.15" y1="603.48" x2="523.15" y2="603.96" stroke="#111" stroke-width="0.75"/>
<line x1="521.85" y1="603.48" x2="524.45" y2="603.48" stroke="#111" stroke-width="0.75"/>
<rect x="519.9" y="603.96" width="6.5" height="33.74" fill="#f98181" stroke="#151515" stroke-width="0.7"/>
<line x1="519.9" y1="637.7" x2="519.9" y2="639" stroke="#000" stroke-width="0.6"/>
<text x="521.9" y="644.1" font-size="4.9" font-weight="bold" text-anchor="end" fill="#111" stroke="#111" stroke-width="0.32" transform="rotate(-45 521.9 644.1)">CDK2</text>
<line x1="536.35" y1="589.02" x2="536.35" y2="589.5" stroke="#111" stroke-width="0.75"/>
<line x1="535.05" y1="589.02" x2="537.65" y2="589.02" stroke="#111" stroke-width="0.75"/>
<rect x="533.1" y="589.5" width="6.5" height="48.2" fill="#d4d4d4" stroke="#151515" stroke-width="0.7"/>
<line x1="542.85" y1="600.59" x2="542.85" y2="601.55" stroke="#111" stroke-width="0.75"/>
<line x1="541.55" y1="600.59" x2="544.15" y2="600.59" stroke="#111" stroke-width="0.75"/>
<rect x="539.6" y="601.55" width="6.5" height="36.15" fill="#f98181" stroke="#151515" stroke-width="0.7"/>
<line x1="539.6" y1="637.7" x2="539.6" y2="639" stroke="#000" stroke-width="0.6"/>
<text x="541.6" y="644.1" font-size="4.9" font-weight="bold" text-anchor="end" fill="#111" stroke="#111" stroke-width="0.32" transform="rotate(-45 541.6 644.1)">CDK4</text>
<line x1="556.05" y1="587.57" x2="556.05" y2="589.5" stroke="#111" stroke-width="0.75"/>
<line x1="554.75" y1="587.57" x2="557.35" y2="587.57" stroke="#111" stroke-width="0.75"/>
<rect x="552.8" y="589.5" width="6.5" height="48.2" fill="#d4d4d4" stroke="#151515" stroke-width="0.7"/>
<line x1="562.55" y1="603.48" x2="562.55" y2="604.92" stroke="#111" stroke-width="0.75"/>
<line x1="561.25" y1="603.48" x2="563.85" y2="603.48" stroke="#111" stroke-width="0.75"/>
<rect x="559.3" y="604.92" width="6.5" height="32.78" fill="#f98181" stroke="#151515" stroke-width="0.7"/>
<line x1="559.3" y1="637.7" x2="559.3" y2="639" stroke="#000" stroke-width="0.6"/>
<text x="561.3" y="644.1" font-size="4.9" font-weight="bold" text-anchor="end" fill="#111" stroke="#111" stroke-width="0.32" transform="rotate(-45 561.3 644.1)">Cyclin D1</text>
<line x1="575.75" y1="587.09" x2="575.75" y2="589.5" stroke="#111" stroke-width="0.75"/>
<line x1="574.45" y1="587.09" x2="577.05" y2="587.09" stroke="#111" stroke-width="0.75"/>
<rect x="572.5" y="589.5" width="6.5" height="48.2" fill="#d4d4d4" stroke="#151515" stroke-width="0.7"/>
<line x1="582.25" y1="607.82" x2="582.25" y2="608.3" stroke="#111" stroke-width="0.75"/>
<line x1="580.95" y1="607.82" x2="583.55" y2="607.82" stroke="#111" stroke-width="0.75"/>
<rect x="579" y="608.3" width="6.5" height="29.4" fill="#f98181" stroke="#151515" stroke-width="0.7"/>
<line x1="579" y1="637.7" x2="579" y2="639" stroke="#000" stroke-width="0.6"/>
<text x="581" y="644.1" font-size="4.9" font-weight="bold" text-anchor="end" fill="#111" stroke="#111" stroke-width="0.32" transform="rotate(-45 581 644.1)">Cyclin D2</text>
<line x1="595.45" y1="589.02" x2="595.45" y2="589.5" stroke="#111" stroke-width="0.75"/>
<line x1="594.15" y1="589.02" x2="596.75" y2="589.02" stroke="#111" stroke-width="0.75"/>
<rect x="592.2" y="589.5" width="6.5" height="48.2" fill="#d4d4d4" stroke="#151515" stroke-width="0.7"/>
<line x1="601.95" y1="603" x2="601.95" y2="603.48" stroke="#111" stroke-width="0.75"/>
<line x1="600.65" y1="603" x2="603.25" y2="603" stroke="#111" stroke-width="0.75"/>
<rect x="598.7" y="603.48" width="6.5" height="34.22" fill="#f98181" stroke="#151515" stroke-width="0.7"/>
<line x1="598.7" y1="637.7" x2="598.7" y2="639" stroke="#000" stroke-width="0.6"/>
<text x="600.7" y="644.1" font-size="4.9" font-weight="bold" text-anchor="end" fill="#111" stroke="#111" stroke-width="0.32" transform="rotate(-45 600.7 644.1)">Cyclin D3</text>
<line x1="615.15" y1="586.61" x2="615.15" y2="589.5" stroke="#111" stroke-width="0.75"/>
<line x1="613.85" y1="586.61" x2="616.45" y2="586.61" stroke="#111" stroke-width="0.75"/>
<rect x="611.9" y="589.5" width="6.5" height="48.2" fill="#d4d4d4" stroke="#151515" stroke-width="0.7"/>
<line x1="621.65" y1="623.72" x2="621.65" y2="625.17" stroke="#111" stroke-width="0.75"/>
<line x1="620.35" y1="623.72" x2="622.95" y2="623.72" stroke="#111" stroke-width="0.75"/>
<rect x="618.4" y="625.17" width="6.5" height="12.53" fill="#f98181" stroke="#151515" stroke-width="0.7"/>
<line x1="618.4" y1="637.7" x2="618.4" y2="639" stroke="#000" stroke-width="0.6"/>
<text x="620.4" y="644.1" font-size="4.9" font-weight="bold" text-anchor="end" fill="#111" stroke="#111" stroke-width="0.32" transform="rotate(-45 620.4 644.1)">Cyclin A2</text>
<line x1="634.85" y1="588.54" x2="634.85" y2="589.5" stroke="#111" stroke-width="0.75"/>
<line x1="633.55" y1="588.54" x2="636.15" y2="588.54" stroke="#111" stroke-width="0.75"/>
<rect x="631.6" y="589.5" width="6.5" height="48.2" fill="#d4d4d4" stroke="#151515" stroke-width="0.7"/>
<line x1="641.35" y1="586.13" x2="641.35" y2="586.61" stroke="#111" stroke-width="0.75"/>
<line x1="640.05" y1="586.13" x2="642.65" y2="586.13" stroke="#111" stroke-width="0.75"/>
<rect x="638.1" y="586.61" width="6.5" height="51.09" fill="#f98181" stroke="#151515" stroke-width="0.7"/>
<line x1="638.1" y1="637.7" x2="638.1" y2="639" stroke="#000" stroke-width="0.6"/>
<text x="640.1" y="644.1" font-size="4.9" font-weight="bold" text-anchor="end" fill="#111" stroke="#111" stroke-width="0.32" transform="rotate(-45 640.1 644.1)">Cyclin B1</text>
<line x1="654.55" y1="588.05" x2="654.55" y2="589.5" stroke="#111" stroke-width="0.75"/>
<line x1="653.25" y1="588.05" x2="655.85" y2="588.05" stroke="#111" stroke-width="0.75"/>
<rect x="651.3" y="589.5" width="6.5" height="48.2" fill="#d4d4d4" stroke="#151515" stroke-width="0.7"/>
<line x1="661.05" y1="582.75" x2="661.05" y2="584.68" stroke="#111" stroke-width="0.75"/>
<line x1="659.75" y1="582.75" x2="662.35" y2="582.75" stroke="#111" stroke-width="0.75"/>
<rect x="657.8" y="584.68" width="6.5" height="53.02" fill="#f98181" stroke="#151515" stroke-width="0.7"/>
<line x1="657.8" y1="637.7" x2="657.8" y2="639" stroke="#000" stroke-width="0.6"/>
<text x="659.8" y="644.1" font-size="4.9" font-weight="bold" text-anchor="end" fill="#111" stroke="#111" stroke-width="0.32" transform="rotate(-45 659.8 644.1)">Cyclin E1</text>
<line x1="489.6" y1="564.9" x2="489.6" y2="637.7" stroke="#000" stroke-width="0.8"/>
<line x1="489.6" y1="637.7" x2="666" y2="637.7" stroke="#000" stroke-width="0.8"/>
<path d="M503.33 610.50L503.68 611.42L504.66 611.47L503.89 612.08L504.15 613.03L503.33 612.49L502.51 613.03L502.77 612.08L502.00 611.47L502.98 611.42ZM506.20 610.50L506.55 611.42L507.53 611.47L506.76 612.08L507.02 613.03L506.20 612.49L505.38 613.03L505.64 612.08L504.87 611.47L505.85 611.42ZM509.07 610.50L509.42 611.42L510.40 611.47L509.63 612.08L509.89 613.03L509.07 612.49L508.25 613.03L508.51 612.08L507.74 611.47L508.72 611.42Z" fill="#111"/>
<path d="M524.47 597.40L524.81 598.32L525.80 598.37L525.02 598.98L525.29 599.93L524.47 599.39L523.64 599.93L523.91 598.98L523.13 598.37L524.12 598.32ZM527.34 597.40L527.68 598.32L528.67 598.37L527.89 598.98L528.16 599.93L527.34 599.39L526.51 599.93L526.78 598.98L526.00 598.37L526.99 598.32Z" fill="#111"/>
<path d="M542.73 594.80L543.08 595.72L544.06 595.77L543.29 596.38L543.55 597.33L542.73 596.79L541.91 597.33L542.17 596.38L541.40 595.77L542.38 595.72ZM545.60 594.80L545.95 595.72L546.93 595.77L546.16 596.38L546.42 597.33L545.60 596.79L544.78 597.33L545.04 596.38L544.27 595.77L545.25 595.72ZM548.47 594.80L548.82 595.72L549.80 595.77L549.03 596.38L549.29 597.33L548.47 596.79L547.65 597.33L547.91 596.38L547.14 595.77L548.12 595.72Z" fill="#111"/>
<path d="M563.87 596.50L564.21 597.42L565.20 597.47L564.42 598.08L564.69 599.03L563.87 598.49L563.04 599.03L563.31 598.08L562.53 597.47L563.52 597.42ZM566.74 596.50L567.08 597.42L568.07 597.47L567.29 598.08L567.56 599.03L566.74 598.49L565.91 599.03L566.18 598.08L565.40 597.47L566.39 597.42Z" fill="#111"/>
<path d="M583.57 600.90L583.91 601.82L584.90 601.87L584.12 602.48L584.39 603.43L583.57 602.89L582.74 603.43L583.01 602.48L582.23 601.87L583.22 601.82ZM586.44 600.90L586.78 601.82L587.77 601.87L586.99 602.48L587.26 603.43L586.44 602.89L585.61 603.43L585.88 602.48L585.10 601.87L586.09 601.82Z" fill="#111"/>
<path d="M601.83 594.80L602.18 595.72L603.16 595.77L602.39 596.38L602.65 597.33L601.83 596.79L601.01 597.33L601.27 596.38L600.50 595.77L601.48 595.72ZM604.70 594.80L605.05 595.72L606.03 595.77L605.26 596.38L605.52 597.33L604.70 596.79L603.88 597.33L604.14 596.38L603.37 595.77L604.35 595.72ZM607.57 594.80L607.92 595.72L608.90 595.77L608.13 596.38L608.39 597.33L607.57 596.79L606.75 597.33L607.01 596.38L606.24 595.77L607.22 595.72Z" fill="#111"/>
<path d="M621.53 620.20L621.88 621.12L622.86 621.17L622.09 621.78L622.35 622.73L621.53 622.19L620.71 622.73L620.97 621.78L620.20 621.17L621.18 621.12ZM624.40 620.20L624.75 621.12L625.73 621.17L624.96 621.78L625.22 622.73L624.40 622.19L623.58 622.73L623.84 621.78L623.07 621.17L624.05 621.12ZM627.27 620.20L627.62 621.12L628.60 621.17L627.83 621.78L628.09 622.73L627.27 622.19L626.45 622.73L626.71 621.78L625.94 621.17L626.92 621.12Z" fill="#111"/>
<rect x="505" y="565.25" width="6.7" height="2.5" fill="#d4d4d4" stroke="#222" stroke-width="0.45"/>
<text x="513.8" y="565.3" font-size="4.85" font-weight="bold" stroke="#222" stroke-width="0.12" fill="#222" textLength="7" lengthAdjust="spacingAndGlyphs" dominant-baseline="central">NC</text>
<rect x="525.7" y="565.25" width="5.6" height="2.5" fill="#f98181" stroke="#222" stroke-width="0.45"/>
<text x="534.8" y="565.3" font-size="5.35" font-weight="bold" stroke="#222" stroke-width="0.13" fill="#222" textLength="20.2" lengthAdjust="spacingAndGlyphs" dominant-baseline="central">siRHOB</text>
<text x="584.5" y="547.5" font-size="7.2" text-anchor="middle" font-weight="bold" stroke="#000" stroke-width="0.16" textLength="36" lengthAdjust="spacingAndGlyphs" dominant-baseline="central">MNC-RBC</text>
<text x="477" y="600.1" font-size="4.9" text-anchor="middle" fill="#222" textLength="83.2" lengthAdjust="spacingAndGlyphs" transform="rotate(-90 477 600.1)" dominant-baseline="central" stroke="#222" stroke-width="0.1">Relative mRNA expression level</text>
<text x="7" y="670.8" font-size="7.5" text-anchor="middle" font-weight="bold" stroke="#000" stroke-width="0.16" dominant-baseline="central">t</text>
<text x="99.1" y="670.5" font-size="7" text-anchor="middle" font-weight="bold" stroke="#000" stroke-width="0.16" textLength="35.5" lengthAdjust="spacingAndGlyphs" dominant-baseline="central">K562-CON</text>
<text x="82.6" y="680.8" font-size="5" text-anchor="middle" font-weight="bold" stroke="#000" stroke-width="0.12" dominant-baseline="central">NC</text>
<text x="112.8" y="680.8" font-size="5" text-anchor="middle" font-weight="bold" stroke="#000" stroke-width="0.12" dominant-baseline="central">si-RHOB</text>
<clipPath id="wbK562CON0"><rect x="64.6" y="685.7" width="65.9" height="16.5"/></clipPath>
<rect x="64.6" y="685.7" width="65.9" height="16.5" fill="#fff"/>
<g clip-path="url(#wbK562CON0)">
<rect x="69.2" y="690.6" width="29.6" height="5.8" rx="8.29" ry="2.9" opacity="1" filter="url(#bb)"/>
<rect x="103.9" y="691.7" width="23.5" height="4" rx="6.58" ry="2" opacity="1" filter="url(#bb)"/>
</g>
<rect x="64.6" y="685.7" width="65.9" height="16.5" fill="none" stroke="#000" stroke-width="1.4"/>
<clipPath id="wbK562CON1"><rect x="64.6" y="705.6" width="65.9" height="16"/></clipPath>
<rect x="64.6" y="705.6" width="65.9" height="16" fill="#fff"/>
<g clip-path="url(#wbK562CON1)">
<rect x="64" y="712.3" width="30.7" height="4.8" rx="8.6" ry="2.4" opacity="1" filter="url(#bb)"/>
<rect x="98.8" y="712.7" width="24.5" height="4" rx="6.86" ry="2" opacity="0.8" filter="url(#bb)"/>
<rect x="63" y="710" width="5" height="9" rx="1.4" ry="4.5" opacity="0.9" filter="url(#bb)"/>
</g>
<rect x="64.6" y="705.6" width="65.9" height="16" fill="none" stroke="#000" stroke-width="1.4"/>
<clipPath id="wbK562CON2"><rect x="64.6" y="723.9" width="65.9" height="16.1"/></clipPath>
<rect x="64.6" y="723.9" width="65.9" height="16.1" fill="#fff"/>
<g clip-path="url(#wbK562CON2)">
<rect x="64" y="730.3" width="27.6" height="4.2" rx="7.73" ry="2.1" opacity="0.95" filter="url(#bb)"/>
<rect x="97.8" y="730.5" width="23.5" height="3.4" rx="6.58" ry="1.7" opacity="0.6" filter="url(#bb)"/>
</g>
<rect x="64.6" y="723.9" width="65.9" height="16.1" fill="none" stroke="#000" stroke-width="1.4"/>
<clipPath id="wbK562CON3"><rect x="64.6" y="742" width="65.9" height="16.1"/></clipPath>
<rect x="64.6" y="742" width="65.9" height="16.1" fill="#fff"/>
<g clip-path="url(#wbK562CON3)">
<rect x="69.2" y="746.8" width="25.5" height="6" rx="7.14" ry="3" opacity="1" filter="url(#bb)"/>
<rect x="101.9" y="747.5" width="23.5" height="5" rx="6.58" ry="2.5" opacity="1" filter="url(#bb)"/>
</g>
<rect x="64.6" y="742" width="65.9" height="16.1" fill="none" stroke="#000" stroke-width="1.4"/>
<clipPath id="wbK562CON4"><rect x="64.6" y="760.4" width="65.9" height="16.8"/></clipPath>
<rect x="64.6" y="760.4" width="65.9" height="16.8" fill="#fff"/>
<g clip-path="url(#wbK562CON4)">
<rect x="76.3" y="765.4" width="17.4" height="6.8" rx="4.87" ry="3.4" opacity="0.9" filter="url(#bb)"/>
<rect x="103.9" y="765.8" width="19.4" height="6" rx="5.43" ry="3" opacity="0.72" filter="url(#bb)"/>
</g>
<rect x="64.6" y="760.4" width="65.9" height="16.8" fill="none" stroke="#000" stroke-width="1.4"/>
<text x="170.6" y="670.5" font-size="7" text-anchor="middle" font-weight="bold" stroke="#000" stroke-width="0.16" textLength="43.8" lengthAdjust="spacingAndGlyphs" dominant-baseline="central">Meg-01-CON</text>
<text x="152" y="680.8" font-size="5" text-anchor="middle" font-weight="bold" stroke="#000" stroke-width="0.12" dominant-baseline="central">NC</text>
<text x="183.7" y="680.8" font-size="5" text-anchor="middle" font-weight="bold" stroke="#000" stroke-width="0.12" dominant-baseline="central">si-RHOB</text>
<clipPath id="wbMeg01CON0"><rect x="134.2" y="685.7" width="66" height="16.5"/></clipPath>
<rect x="134.2" y="685.7" width="66" height="16.5" fill="#fff"/>
<g clip-path="url(#wbMeg01CON0)">
<rect x="135.6" y="690" width="26.5" height="10" rx="7.42" ry="5" opacity="1" filter="url(#bb)"/>
<rect x="169.3" y="690" width="28.6" height="9" rx="8.01" ry="4.5" opacity="1" filter="url(#bb)"/>
</g>
<rect x="134.2" y="685.7" width="66" height="16.5" fill="none" stroke="#000" stroke-width="1.4"/>
<clipPath id="wbMeg01CON1"><rect x="134.2" y="705.6" width="66" height="16"/></clipPath>
<rect x="134.2" y="705.6" width="66" height="16" fill="#fff"/>
<g clip-path="url(#wbMeg01CON1)">
<ellipse cx="151.5" cy="713.6" rx="17.5" ry="4.3" opacity="1" filter="url(#bb)"/>
<ellipse cx="182" cy="713.6" rx="15.5" ry="3.7" opacity="1" filter="url(#bb)"/>
</g>
<rect x="134.2" y="705.6" width="66" height="16" fill="none" stroke="#000" stroke-width="1.4"/>
<clipPath id="wbMeg01CON2"><rect x="134.2" y="723.9" width="66" height="16.1"/></clipPath>
<rect x="134.2" y="723.9" width="66" height="16.1" fill="#fff"/>
<g clip-path="url(#wbMeg01CON2)">
<rect x="135.6" y="726.3" width="30.6" height="10.6" rx="8.57" ry="5.3" opacity="1" filter="url(#bb)"/>
<rect x="169.3" y="726.3" width="28.6" height="10.6" rx="8.01" ry="5.3" opacity="1" filter="url(#bb)"/>
</g>
<rect x="134.2" y="723.9" width="66" height="16.1" fill="none" stroke="#000" stroke-width="1.4"/>
<clipPath id="wbMeg01CON3"><rect x="134.2" y="742" width="66" height="16.1"/></clipPath>
<rect x="134.2" y="742" width="66" height="16.1" fill="#fff"/>
<g clip-path="url(#wbMeg01CON3)">
<rect x="135.6" y="746.8" width="26.5" height="6" rx="7.42" ry="3" opacity="1" filter="url(#bb)"/>
<rect x="162" y="748.4" width="6" height="3.2" rx="1.68" ry="1.6" opacity="1" filter="url(#bb)"/>
<rect x="167.3" y="747.2" width="26.5" height="5.2" rx="7.42" ry="2.6" opacity="1" filter="url(#bb)"/>
</g>
<rect x="134.2" y="742" width="66" height="16.1" fill="none" stroke="#000" stroke-width="1.4"/>
<clipPath id="wbMeg01CON4"><rect x="134.2" y="760.4" width="66" height="16.8"/></clipPath>
<rect x="134.2" y="760.4" width="66" height="16.8" fill="#fff"/>
<g clip-path="url(#wbMeg01CON4)">
<rect x="143.7" y="763.6" width="13.3" height="2.2" rx="3.72" ry="1.1" opacity="0.8" filter="url(#bb)"/>
<rect x="141.7" y="768.3" width="21.5" height="7.2" rx="6.02" ry="3.6" opacity="1" filter="url(#bb)"/>
<rect x="172.4" y="763.9" width="16.3" height="1.6" rx="4.56" ry="0.8" opacity="0.7" filter="url(#bb)"/>
<rect x="170.3" y="768.6" width="19.4" height="4.6" rx="5.43" ry="2.3" opacity="1" filter="url(#bb)"/>
</g>
<rect x="134.2" y="760.4" width="66" height="16.8" fill="none" stroke="#000" stroke-width="1.4"/>
<text x="240.2" y="670.5" font-size="7" text-anchor="middle" font-weight="bold" stroke="#000" stroke-width="0.16" textLength="34.4" lengthAdjust="spacingAndGlyphs" dominant-baseline="central">UT-7-CON</text>
<text x="223" y="680.8" font-size="5" text-anchor="middle" font-weight="bold" stroke="#000" stroke-width="0.12" dominant-baseline="central">NC</text>
<text x="253.6" y="680.8" font-size="5" text-anchor="middle" font-weight="bold" stroke="#000" stroke-width="0.12" dominant-baseline="central">si-RHOB</text>
<clipPath id="wbUT7CON0"><rect x="205.2" y="685.7" width="65.7" height="16.5"/></clipPath>
<rect x="205.2" y="685.7" width="65.7" height="16.5" fill="#fff"/>
<g clip-path="url(#wbUT7CON0)">
<rect x="210.2" y="689.8" width="25.1" height="8" rx="7.03" ry="4" opacity="1" filter="url(#bb)"/>
<rect x="241.4" y="690.2" width="26" height="7.2" rx="7.28" ry="3.6" opacity="1" filter="url(#bb)"/>
</g>
<rect x="205.2" y="685.7" width="65.7" height="16.5" fill="none" stroke="#000" stroke-width="1.4"/>
<clipPath id="wbUT7CON1"><rect x="205.2" y="705.6" width="65.7" height="16"/></clipPath>
<rect x="205.2" y="705.6" width="65.7" height="16" fill="#fff"/>
<g clip-path="url(#wbUT7CON1)">
<rect x="209.1" y="711" width="24.1" height="6.4" rx="6.75" ry="3.2" opacity="1" filter="url(#bb)"/>
<rect x="241.4" y="710.8" width="29.6" height="6.8" rx="8.29" ry="3.4" opacity="1" filter="url(#bb)"/>
</g>
<rect x="205.2" y="705.6" width="65.7" height="16" fill="none" stroke="#000" stroke-width="1.4"/>
<clipPath id="wbUT7CON2"><rect x="205.2" y="723.9" width="65.7" height="16.1"/></clipPath>
<rect x="205.2" y="723.9" width="65.7" height="16.1" fill="#fff"/>
<g clip-path="url(#wbUT7CON2)">
<rect x="209.1" y="728.5" width="24.6" height="7" rx="6.89" ry="3.5" opacity="0.45" filter="url(#bb)"/>
<rect x="222" y="729" width="11" height="6" rx="3.08" ry="3" opacity="0.35" filter="url(#bb)"/>
<rect x="241.8" y="728.6" width="26.6" height="6" rx="7.45" ry="3" opacity="0.6" filter="url(#bb)"/>
<rect x="245" y="728.8" width="13" height="4.4" rx="3.64" ry="2.2" opacity="0.5" filter="url(#bb)"/>
</g>
<rect x="205.2" y="723.9" width="65.7" height="16.1" fill="none" stroke="#000" stroke-width="1.4"/>
<clipPath id="wbUT7CON3"><rect x="205.2" y="742" width="65.7" height="16.1"/></clipPath>
<rect x="205.2" y="742" width="65.7" height="16.1" fill="#fff"/>
<g clip-path="url(#wbUT7CON3)">
<rect x="208.1" y="746.6" width="26.6" height="6.4" rx="7.45" ry="3.2" opacity="1" filter="url(#bb)"/>
<rect x="241.8" y="747.2" width="25.6" height="5.2" rx="7.17" ry="2.6" opacity="1" filter="url(#bb)"/>
</g>
<rect x="205.2" y="742" width="65.7" height="16.1" fill="none" stroke="#000" stroke-width="1.4"/>
<clipPath id="wbUT7CON4"><rect x="205.2" y="760.4" width="65.7" height="16.8"/></clipPath>
<rect x="205.2" y="760.4" width="65.7" height="16.8" fill="#fff"/>
<g clip-path="url(#wbUT7CON4)">
<rect x="210.2" y="765.6" width="24.5" height="5.6" rx="6.86" ry="2.8" opacity="1" filter="url(#bb)"/>
<rect x="241.8" y="766.2" width="23.5" height="4.4" rx="6.58" ry="2.2" opacity="0.75" filter="url(#bb)"/>
</g>
<rect x="205.2" y="760.4" width="65.7" height="16.8" fill="none" stroke="#000" stroke-width="1.4"/>
<text x="310.5" y="670.5" font-size="7" text-anchor="middle" font-weight="bold" stroke="#000" stroke-width="0.16" textLength="35.1" lengthAdjust="spacingAndGlyphs" dominant-baseline="central">K562-RBC</text>
<text x="293" y="680.8" font-size="5" text-anchor="middle" font-weight="bold" stroke="#000" stroke-width="0.12" dominant-baseline="central">NC</text>
<text x="325.2" y="680.8" font-size="5" text-anchor="middle" font-weight="bold" stroke="#000" stroke-width="0.12" dominant-baseline="central">si-RHOB</text>
<clipPath id="wbK562RBC0"><rect x="276.2" y="685.7" width="65.4" height="16.5"/></clipPath>
<rect x="276.2" y="685.7" width="65.4" height="16.5" fill="#fff"/>
<g clip-path="url(#wbK562RBC0)">
<rect x="277.6" y="691.4" width="28.6" height="5.6" rx="8.01" ry="2.8" opacity="1" filter="url(#bb)"/>
<rect x="312.3" y="691.2" width="28.7" height="6" rx="8.04" ry="3" opacity="1" filter="url(#bb)"/>
</g>
<rect x="276.2" y="685.7" width="65.4" height="16.5" fill="none" stroke="#000" stroke-width="1.4"/>
<clipPath id="wbK562RBC1"><rect x="276.2" y="705.6" width="65.4" height="16"/></clipPath>
<rect x="276.2" y="705.6" width="65.4" height="16" fill="#fff"/>
<g clip-path="url(#wbK562RBC1)">
<rect x="276" y="706.8" width="31.2" height="13.2" rx="8.74" ry="6.6" opacity="1" filter="url(#bb)"/>
<rect x="310.3" y="706.8" width="29.2" height="13.2" rx="8.18" ry="6.6" opacity="1" filter="url(#bb)"/>
</g>
<rect x="276.2" y="705.6" width="65.4" height="16" fill="none" stroke="#000" stroke-width="1.4"/>
<clipPath id="wbK562RBC2"><rect x="276.2" y="723.9" width="65.4" height="16.1"/></clipPath>
<rect x="276.2" y="723.9" width="65.4" height="16.1" fill="#fff"/>
<g clip-path="url(#wbK562RBC2)">
<rect x="280.7" y="728.1" width="24.5" height="7" rx="6.86" ry="3.5" opacity="1" filter="url(#bb)"/>
<rect x="310.9" y="728.1" width="24.9" height="7" rx="6.97" ry="3.5" opacity="1" filter="url(#bb)"/>
</g>
<rect x="276.2" y="723.9" width="65.4" height="16.1" fill="none" stroke="#000" stroke-width="1.4"/>
<clipPath id="wbK562RBC3"><rect x="276.2" y="742" width="65.4" height="16.1"/></clipPath>
<rect x="276.2" y="742" width="65.4" height="16.1" fill="#fff"/>
<g clip-path="url(#wbK562RBC3)">
<rect x="281.7" y="746.6" width="23.5" height="6.4" rx="6.58" ry="3.2" opacity="1" filter="url(#bb)"/>
<rect x="314.4" y="747.8" width="24.5" height="4" rx="6.86" ry="2" opacity="0.85" filter="url(#bb)"/>
</g>
<rect x="276.2" y="742" width="65.4" height="16.1" fill="none" stroke="#000" stroke-width="1.4"/>
<clipPath id="wbK562RBC4"><rect x="276.2" y="760.4" width="65.4" height="16.8"/></clipPath>
<rect x="276.2" y="760.4" width="65.4" height="16.8" fill="#fff"/>
<g clip-path="url(#wbK562RBC4)">
<rect x="283.7" y="762.8" width="21.5" height="8" rx="6.02" ry="4" opacity="0.9" filter="url(#bb)"/>
<rect x="313.4" y="764.4" width="22.4" height="6.8" rx="6.27" ry="3.4" opacity="0.72" filter="url(#bb)"/>
</g>
<rect x="276.2" y="760.4" width="65.4" height="16.8" fill="none" stroke="#000" stroke-width="1.4"/>
<text x="378.3" y="670.5" font-size="7" text-anchor="middle" font-weight="bold" stroke="#000" stroke-width="0.16" textLength="30.6" lengthAdjust="spacingAndGlyphs" dominant-baseline="central">K562-MK</text>
<text x="364.1" y="680.8" font-size="5" text-anchor="middle" font-weight="bold" stroke="#000" stroke-width="0.12" dominant-baseline="central">NC</text>
<text x="394.3" y="680.8" font-size="5" text-anchor="middle" font-weight="bold" stroke="#000" stroke-width="0.12" dominant-baseline="central">si-RHOB</text>
<clipPath id="wbK562MK0"><rect x="347.1" y="685.7" width="65.4" height="16.5"/></clipPath>
<rect x="347.1" y="685.7" width="65.4" height="16.5" fill="#ececdc"/>
<g clip-path="url(#wbK562MK0)">
<rect x="350.7" y="691" width="27" height="5.6" rx="7.56" ry="2.8" opacity="1" filter="url(#bb)"/>
<rect x="379.3" y="691" width="28" height="5.6" rx="7.84" ry="2.8" opacity="1" filter="url(#bb)"/>
<rect x="376" y="691.6" width="5" height="4.4" rx="1.4" ry="2.2" opacity="1" filter="url(#bb)"/>
</g>
<rect x="347.1" y="685.7" width="65.4" height="16.5" fill="none" stroke="#000" stroke-width="1.4"/>
<clipPath id="wbK562MK1"><rect x="347.1" y="705.6" width="65.4" height="16"/></clipPath>
<rect x="347.1" y="705.6" width="65.4" height="16" fill="#fff"/>
<g clip-path="url(#wbK562MK1)">
<rect x="351.1" y="710.7" width="24.6" height="5.8" rx="6.89" ry="2.9" opacity="0.85" filter="url(#bb)"/>
<rect x="381.4" y="710.4" width="25.9" height="6.4" rx="7.25" ry="3.2" opacity="0.85" filter="url(#bb)"/>
<rect x="383" y="718" width="20" height="1.8" rx="5.6" ry="0.9" opacity="0.3" filter="url(#bb)"/>
</g>
<rect x="347.1" y="705.6" width="65.4" height="16" fill="none" stroke="#000" stroke-width="1.4"/>
<clipPath id="wbK562MK2"><rect x="347.1" y="723.9" width="65.4" height="16.1"/></clipPath>
<rect x="347.1" y="723.9" width="65.4" height="16.1" fill="#fff"/>
<g clip-path="url(#wbK562MK2)">
<rect x="356.2" y="729.3" width="20.5" height="4.2" rx="5.74" ry="2.1" opacity="0.88" filter="url(#bb)"/>
<rect x="380.8" y="729.3" width="21.4" height="4.6" rx="5.99" ry="2.3" opacity="0.85" filter="url(#bb)"/>
</g>
<rect x="347.1" y="723.9" width="65.4" height="16.1" fill="none" stroke="#000" stroke-width="1.4"/>
<clipPath id="wbK562MK3"><rect x="347.1" y="742" width="65.4" height="16.1"/></clipPath>
<rect x="347.1" y="742" width="65.4" height="16.1" fill="#fff"/>
<g clip-path="url(#wbK562MK3)">
<rect x="352.2" y="747.9" width="24.5" height="3.8" rx="6.86" ry="1.9" opacity="1" filter="url(#bb)"/>
<rect x="379.7" y="747.5" width="27.6" height="4.6" rx="7.73" ry="2.3" opacity="1" filter="url(#bb)"/>
<rect x="375" y="748.4" width="6" height="2.8" rx="1.68" ry="1.4" opacity="1" filter="url(#bb)"/>
</g>
<rect x="347.1" y="742" width="65.4" height="16.1" fill="none" stroke="#000" stroke-width="1.4"/>
<clipPath id="wbK562MK4"><rect x="347.1" y="760.4" width="65.4" height="16.8"/></clipPath>
<rect x="347.1" y="760.4" width="65.4" height="16.8" fill="#fff"/>
<g clip-path="url(#wbK562MK4)">
<rect x="355" y="764" width="15" height="1.4" rx="4.2" ry="0.7" opacity="0.25" filter="url(#bb)"/>
<rect x="350.1" y="769.4" width="20.4" height="4.2" rx="5.71" ry="2.1" opacity="0.6" filter="url(#bb)"/>
<rect x="382.8" y="762.9" width="22.5" height="4" rx="6.3" ry="2" opacity="0.95" filter="url(#bb)"/>
<rect x="381.8" y="769.2" width="22.5" height="4.6" rx="6.3" ry="2.3" opacity="0.85" filter="url(#bb)"/>
</g>
<rect x="347.1" y="760.4" width="65.4" height="16.8" fill="none" stroke="#000" stroke-width="1.4"/>
<text x="449.8" y="670.5" font-size="7" text-anchor="middle" font-weight="bold" stroke="#000" stroke-width="0.16" textLength="37.8" lengthAdjust="spacingAndGlyphs" dominant-baseline="central">Meg-01-MK</text>
<text x="433" y="680.8" font-size="5" text-anchor="middle" font-weight="bold" stroke="#000" stroke-width="0.12" dominant-baseline="central">NC</text>
<text x="464.4" y="680.8" font-size="5" text-anchor="middle" font-weight="bold" stroke="#000" stroke-width="0.12" dominant-baseline="central">si-RHOB</text>
<clipPath id="wbMeg01MK0"><rect x="418.4" y="685.7" width="65.7" height="16.5"/></clipPath>
<rect x="418.4" y="685.7" width="65.7" height="16.5" fill="#fff"/>
<g clip-path="url(#wbMeg01MK0)">
<rect x="421.6" y="691.6" width="25.6" height="4.4" rx="7.17" ry="2.2" opacity="1" filter="url(#bb)"/>
<rect x="455.4" y="691.8" width="22.4" height="4" rx="6.27" ry="2" opacity="1" filter="url(#bb)"/>
</g>
<rect x="418.4" y="685.7" width="65.7" height="16.5" fill="none" stroke="#000" stroke-width="1.4"/>
<clipPath id="wbMeg01MK1"><rect x="418.4" y="705.6" width="65.7" height="16"/></clipPath>
<rect x="418.4" y="705.6" width="65.7" height="16" fill="#fff"/>
<g clip-path="url(#wbMeg01MK1)">
<rect x="422.7" y="711.4" width="28.6" height="4.4" rx="8.01" ry="2.2" opacity="0.17" filter="url(#bb)"/>
<rect x="455.4" y="711.4" width="25.5" height="5.2" rx="7.14" ry="2.6" opacity="0.3" filter="url(#bb)"/>
</g>
<rect x="418.4" y="705.6" width="65.7" height="16" fill="none" stroke="#000" stroke-width="1.4"/>
<clipPath id="wbMeg01MK2"><rect x="418.4" y="723.9" width="65.7" height="16.1"/></clipPath>
<rect x="418.4" y="723.9" width="65.7" height="16.1" fill="#fff"/>
<g clip-path="url(#wbMeg01MK2)">
<rect x="421.6" y="729.2" width="29.7" height="4.4" rx="8.32" ry="2.2" opacity="0.95" filter="url(#bb)"/>
<rect x="454.3" y="729.4" width="23.5" height="4" rx="6.58" ry="2" opacity="0.95" filter="url(#bb)"/>
</g>
<rect x="418.4" y="723.9" width="65.7" height="16.1" fill="none" stroke="#000" stroke-width="1.4"/>
<clipPath id="wbMeg01MK3"><rect x="418.4" y="742" width="65.7" height="16.1"/></clipPath>
<rect x="418.4" y="742" width="65.7" height="16.1" fill="#fff"/>
<g clip-path="url(#wbMeg01MK3)">
<rect x="428.8" y="747.4" width="20.4" height="4" rx="5.71" ry="2" opacity="0.85" filter="url(#bb)"/>
<rect x="457" y="747.4" width="23.9" height="4" rx="6.69" ry="2" opacity="0.95" filter="url(#bb)"/>
</g>
<rect x="418.4" y="742" width="65.7" height="16.1" fill="none" stroke="#000" stroke-width="1.4"/>
<clipPath id="wbMeg01MK4"><rect x="418.4" y="760.4" width="65.7" height="16.8"/></clipPath>
<rect x="418.4" y="760.4" width="65.7" height="16.8" fill="#fff"/>
<g clip-path="url(#wbMeg01MK4)">
<rect x="426.7" y="765.6" width="20.5" height="1.6" rx="5.74" ry="0.8" opacity="0.25" filter="url(#bb)"/>
<rect x="455" y="764.9" width="23" height="1.8" rx="6.44" ry="0.9" opacity="0.15" filter="url(#bb)"/>
<rect x="453.3" y="769.3" width="25.6" height="3.2" rx="7.17" ry="1.6" opacity="0.4" filter="url(#bb)"/>
</g>
<rect x="418.4" y="760.4" width="65.7" height="16.8" fill="none" stroke="#000" stroke-width="1.4"/>
<text x="522.4" y="670.5" font-size="7" text-anchor="middle" font-weight="bold" stroke="#000" stroke-width="0.16" textLength="30" lengthAdjust="spacingAndGlyphs" dominant-baseline="central">UT-7-MK</text>
<text x="506.3" y="680.8" font-size="5" text-anchor="middle" font-weight="bold" stroke="#000" stroke-width="0.12" dominant-baseline="central">NC</text>
<text x="538" y="680.8" font-size="5" text-anchor="middle" font-weight="bold" stroke="#000" stroke-width="0.12" dominant-baseline="central">si-RHOB</text>
<clipPath id="wbUT7MK0"><rect x="491.2" y="685.7" width="65.3" height="16.5"/></clipPath>
<rect x="491.2" y="685.7" width="65.3" height="16.5" fill="#fff"/>
<g clip-path="url(#wbUT7MK0)">
<rect x="495.5" y="692.1" width="23.4" height="4.4" rx="6.55" ry="2.2" opacity="1" filter="url(#bb)"/>
<rect x="525.3" y="692.7" width="26.9" height="3.2" rx="7.53" ry="1.6" opacity="0.85" filter="url(#bb)"/>
</g>
<rect x="491.2" y="685.7" width="65.3" height="16.5" fill="none" stroke="#000" stroke-width="1.4"/>
<clipPath id="wbUT7MK1"><rect x="491.2" y="705.6" width="65.3" height="16"/></clipPath>
<rect x="491.2" y="705.6" width="65.3" height="16" fill="#fff"/>
<g clip-path="url(#wbUT7MK1)">
<rect x="495.5" y="709" width="23.4" height="6.8" rx="6.55" ry="3.4" opacity="0.85" filter="url(#bb)"/>
<rect x="525.3" y="709.2" width="26.3" height="6.4" rx="7.36" ry="3.2" opacity="0.85" filter="url(#bb)"/>
</g>
<rect x="491.2" y="705.6" width="65.3" height="16" fill="none" stroke="#000" stroke-width="1.4"/>
<clipPath id="wbUT7MK2"><rect x="491.2" y="723.9" width="65.3" height="16.1"/></clipPath>
<rect x="491.2" y="723.9" width="65.3" height="16.1" fill="#fff"/>
<g clip-path="url(#wbUT7MK2)">
<rect x="501.4" y="727.9" width="21" height="6.2" rx="5.88" ry="3.1" opacity="1" filter="url(#bb)"/>
<rect x="527" y="728" width="23.4" height="6" rx="6.55" ry="3" opacity="1" filter="url(#bb)"/>
<rect x="499" y="735.4" width="21" height="2.4" rx="5.88" ry="1.2" opacity="0.35" filter="url(#bb)"/>
<rect x="527" y="735.4" width="21" height="2.4" rx="5.88" ry="1.2" opacity="0.3" filter="url(#bb)"/>
</g>
<rect x="491.2" y="723.9" width="65.3" height="16.1" fill="none" stroke="#000" stroke-width="1.4"/>
<clipPath id="wbUT7MK3"><rect x="491.2" y="742" width="65.3" height="16.1"/></clipPath>
<rect x="491.2" y="742" width="65.3" height="16.1" fill="#fff"/>
<g clip-path="url(#wbUT7MK3)">
<rect x="497.8" y="747.3" width="27" height="5" rx="7.56" ry="2.5" opacity="1" filter="url(#bb)"/>
<rect x="523.5" y="747.4" width="32.5" height="4.8" rx="9" ry="2.4" opacity="1" filter="url(#bb)"/>
</g>
<rect x="491.2" y="742" width="65.3" height="16.1" fill="none" stroke="#000" stroke-width="1.4"/>
<clipPath id="wbUT7MK4"><rect x="491.2" y="760.4" width="65.3" height="16.8"/></clipPath>
<rect x="491.2" y="760.4" width="65.3" height="16.8" fill="#fff"/>
<g clip-path="url(#wbUT7MK4)">
<rect x="499" y="766.8" width="21.6" height="5.6" rx="6.05" ry="2.8" opacity="1" filter="url(#bb)"/>
<rect x="527" y="767" width="24.6" height="5.2" rx="6.89" ry="2.6" opacity="1" filter="url(#bb)"/>
</g>
<rect x="491.2" y="760.4" width="65.3" height="16.8" fill="none" stroke="#000" stroke-width="1.4"/>
<text x="56.8" y="694.6" font-size="6.9" text-anchor="end" font-weight="bold" stroke="#000" stroke-width="0.16" dominant-baseline="central">GAPDH</text>
<text x="56.8" y="713.4" font-size="6.9" text-anchor="end" font-weight="bold" stroke="#000" stroke-width="0.16" dominant-baseline="central">RHOA</text>
<text x="56.8" y="731.8" font-size="6.9" text-anchor="end" font-weight="bold" stroke="#000" stroke-width="0.16" dominant-baseline="central">RHOC</text>
<text x="56.8" y="750" font-size="6.9" text-anchor="end" font-weight="bold" stroke="#000" stroke-width="0.16" dominant-baseline="central">CDK4</text>
<text x="56.8" y="768.8" font-size="6.9" text-anchor="end" font-weight="bold" stroke="#000" stroke-width="0.16" dominant-baseline="central">CyclinE</text>
<text x="3.5" y="788.9" font-size="7.5" text-anchor="middle" font-weight="bold" stroke="#000" stroke-width="0.16" dominant-baseline="central">u</text>
<line x1="52.2" y1="879.1" x2="53.7" y2="879.1" stroke="#000" stroke-width="0.6"/>
<text x="51.7" y="879.1" font-size="4.7" text-anchor="end" font-weight="bold" stroke="#222" stroke-width="0.12" fill="#222" dominant-baseline="central">0.0</text>
<line x1="52.2" y1="856.47" x2="53.7" y2="856.47" stroke="#000" stroke-width="0.6"/>
<text x="51.7" y="856.47" font-size="4.7" text-anchor="end" font-weight="bold" stroke="#222" stroke-width="0.12" fill="#222" dominant-baseline="central">0.5</text>
<line x1="52.2" y1="833.83" x2="53.7" y2="833.83" stroke="#000" stroke-width="0.6"/>
<text x="51.7" y="833.83" font-size="4.7" text-anchor="end" font-weight="bold" stroke="#222" stroke-width="0.12" fill="#222" dominant-baseline="central">1.0</text>
<line x1="52.2" y1="811.2" x2="53.7" y2="811.2" stroke="#000" stroke-width="0.6"/>
<text x="51.7" y="811.2" font-size="4.7" text-anchor="end" font-weight="bold" stroke="#222" stroke-width="0.12" fill="#222" dominant-baseline="central">1.5</text>
<line x1="63.25" y1="832.92" x2="63.25" y2="833.83" stroke="#111" stroke-width="0.8"/>
<line x1="61.65" y1="832.92" x2="64.85" y2="832.92" stroke="#111" stroke-width="0.8"/>
<rect x="59.3" y="833.83" width="7.9" height="45.27" fill="#8c8c8c" stroke="#151515" stroke-width="0.75"/>
<line x1="71.65" y1="847.86" x2="71.65" y2="848.32" stroke="#111" stroke-width="0.8"/>
<line x1="70.05" y1="847.86" x2="73.25" y2="847.86" stroke="#111" stroke-width="0.8"/>
<rect x="67.2" y="848.32" width="8.9" height="30.78" fill="#f98181" stroke="#151515" stroke-width="0.75"/>
<line x1="88.4" y1="833.38" x2="88.4" y2="833.83" stroke="#111" stroke-width="0.8"/>
<line x1="86.8" y1="833.38" x2="90" y2="833.38" stroke="#111" stroke-width="0.8"/>
<rect x="84.3" y="833.83" width="8.2" height="45.27" fill="#8c8c8c" stroke="#151515" stroke-width="0.75"/>
<line x1="97.1" y1="841.07" x2="97.1" y2="841.53" stroke="#111" stroke-width="0.8"/>
<line x1="95.5" y1="841.07" x2="98.7" y2="841.07" stroke="#111" stroke-width="0.8"/>
<rect x="92.5" y="841.53" width="9.2" height="37.57" fill="#f98181" stroke="#151515" stroke-width="0.75"/>
<line x1="114.35" y1="833.38" x2="114.35" y2="833.83" stroke="#111" stroke-width="0.8"/>
<line x1="112.75" y1="833.38" x2="115.95" y2="833.38" stroke="#111" stroke-width="0.8"/>
<rect x="110.4" y="833.83" width="7.9" height="45.27" fill="#8c8c8c" stroke="#151515" stroke-width="0.75"/>
<line x1="122.75" y1="841.98" x2="122.75" y2="842.43" stroke="#111" stroke-width="0.8"/>
<line x1="121.15" y1="841.98" x2="124.35" y2="841.98" stroke="#111" stroke-width="0.8"/>
<rect x="118.3" y="842.43" width="8.9" height="36.67" fill="#f98181" stroke="#151515" stroke-width="0.75"/>
<line x1="139.5" y1="833.38" x2="139.5" y2="833.83" stroke="#111" stroke-width="0.8"/>
<line x1="137.9" y1="833.38" x2="141.1" y2="833.38" stroke="#111" stroke-width="0.8"/>
<rect x="135.4" y="833.83" width="8.2" height="45.27" fill="#8c8c8c" stroke="#151515" stroke-width="0.75"/>
<line x1="148.2" y1="860.54" x2="148.2" y2="860.99" stroke="#111" stroke-width="0.8"/>
<line x1="146.6" y1="860.54" x2="149.8" y2="860.54" stroke="#111" stroke-width="0.8"/>
<rect x="143.6" y="860.99" width="9.2" height="18.11" fill="#f98181" stroke="#151515" stroke-width="0.75"/>
<line x1="53.7" y1="810.7" x2="53.7" y2="879.1" stroke="#000" stroke-width="0.8"/>
<line x1="53.7" y1="879.1" x2="155.9" y2="879.1" stroke="#000" stroke-width="0.8"/>
<path d="M68.29 835.30L68.83 836.75L70.38 836.82L69.17 837.79L69.58 839.28L68.29 838.42L67.00 839.28L67.41 837.79L66.20 836.82L67.75 836.75ZM72.80 835.30L73.34 836.75L74.89 836.82L73.68 837.79L74.09 839.28L72.80 838.42L71.51 839.28L71.92 837.79L70.71 836.82L72.26 836.75ZM77.31 835.30L77.85 836.75L79.40 836.82L78.19 837.79L78.60 839.28L77.31 838.42L76.02 839.28L76.43 837.79L75.22 836.82L76.77 836.75Z" fill="#111"/>
<path d="M93.89 823.30L94.43 824.75L95.98 824.82L94.77 825.79L95.18 827.28L93.89 826.42L92.60 827.28L93.01 825.79L91.80 824.82L93.35 824.75ZM98.40 823.30L98.94 824.75L100.49 824.82L99.28 825.79L99.69 827.28L98.40 826.42L97.11 827.28L97.52 825.79L96.31 824.82L97.86 824.75ZM102.91 823.30L103.45 824.75L105.00 824.82L103.79 825.79L104.20 827.28L102.91 826.42L101.62 827.28L102.03 825.79L100.82 824.82L102.37 824.75Z" fill="#111"/>
<path d="M119.39 822.50L119.93 823.95L121.48 824.02L120.27 824.99L120.68 826.48L119.39 825.62L118.10 826.48L118.51 824.99L117.30 824.02L118.85 823.95ZM123.90 822.50L124.44 823.95L125.99 824.02L124.78 824.99L125.19 826.48L123.90 825.62L122.61 826.48L123.02 824.99L121.81 824.02L123.36 823.95ZM128.41 822.50L128.95 823.95L130.50 824.02L129.29 824.99L129.70 826.48L128.41 825.62L127.12 826.48L127.53 824.99L126.32 824.02L127.87 823.95Z" fill="#111"/>
<path d="M146.79 838.60L147.33 840.05L148.88 840.12L147.67 841.09L148.08 842.58L146.79 841.72L145.50 842.58L145.91 841.09L144.70 840.12L146.25 840.05ZM151.30 838.60L151.84 840.05L153.39 840.12L152.18 841.09L152.59 842.58L151.30 841.72L150.01 842.58L150.42 841.09L149.21 840.12L150.76 840.05ZM155.81 838.60L156.35 840.05L157.90 840.12L156.69 841.09L157.10 842.58L155.81 841.72L154.52 842.58L154.93 841.09L153.72 840.12L155.27 840.05Z" fill="#111"/>
<rect x="129" y="792.3" width="9" height="3.5" fill="#8c8c8c" stroke="#222" stroke-width="0.5"/>
<rect x="129" y="802.3" width="9" height="3.3" fill="#f98181" stroke="#222" stroke-width="0.5"/>
<text x="141.6" y="794.05" font-size="5" font-weight="bold" stroke="#222" stroke-width="0.12" fill="#222" dominant-baseline="central">NC</text>
<text x="141.6" y="803.95" font-size="5" font-weight="bold" stroke="#222" stroke-width="0.12" fill="#222" textLength="21" lengthAdjust="spacingAndGlyphs" dominant-baseline="central">Si-RHOB</text>
<line x1="67.2" y1="879.1" x2="67.2" y2="880.4" stroke="#000" stroke-width="0.6"/>
<text x="69" y="883.9" font-size="5.9" font-weight="bold" text-anchor="end" fill="#111" stroke="#111" stroke-width="0.32" transform="rotate(-45 69 883.9)">K562-CON</text>
<line x1="92.5" y1="879.1" x2="92.5" y2="880.4" stroke="#000" stroke-width="0.6"/>
<text x="94.3" y="883.9" font-size="5.9" font-weight="bold" text-anchor="end" fill="#111" stroke="#111" stroke-width="0.32" transform="rotate(-45 94.3 883.9)">Meg-01-CON</text>
<line x1="118.3" y1="879.1" x2="118.3" y2="880.4" stroke="#000" stroke-width="0.6"/>
<text x="120.1" y="883.9" font-size="5.9" font-weight="bold" text-anchor="end" fill="#111" stroke="#111" stroke-width="0.32" transform="rotate(-45 120.1 883.9)">UT-7-CON</text>
<line x1="143.6" y1="879.1" x2="143.6" y2="880.4" stroke="#000" stroke-width="0.6"/>
<text x="145.4" y="883.9" font-size="5.9" font-weight="bold" text-anchor="end" fill="#111" stroke="#111" stroke-width="0.32" transform="rotate(-45 145.4 883.9)">K562-RBC</text>
<text x="31.9" y="847.1" font-size="5" text-anchor="middle" fill="#111" textLength="62.6" lengthAdjust="spacingAndGlyphs" transform="rotate(-90 31.9 847.1)" dominant-baseline="central" stroke="#111" stroke-width="0.12">CDK4 protein expression</text>
<text x="38.8" y="847.1" font-size="5" text-anchor="middle" fill="#111" textLength="49.8" lengthAdjust="spacingAndGlyphs" transform="rotate(-90 38.8 847.1)" dominant-baseline="central" stroke="#111" stroke-width="0.12">(Relative to GAPDH)</text>
<text x="173.2" y="788.9" font-size="7.5" text-anchor="middle" font-weight="bold" stroke="#000" stroke-width="0.16" dominant-baseline="central">v</text>
<line x1="231.2" y1="880.9" x2="232.7" y2="880.9" stroke="#000" stroke-width="0.6"/>
<text x="230.7" y="880.9" font-size="4.7" text-anchor="end" font-weight="bold" stroke="#222" stroke-width="0.12" fill="#222" dominant-baseline="central">0.0</text>
<line x1="231.2" y1="863.85" x2="232.7" y2="863.85" stroke="#000" stroke-width="0.6"/>
<text x="230.7" y="863.85" font-size="4.7" text-anchor="end" font-weight="bold" stroke="#222" stroke-width="0.12" fill="#222" dominant-baseline="central">0.5</text>
<line x1="231.2" y1="846.8" x2="232.7" y2="846.8" stroke="#000" stroke-width="0.6"/>
<text x="230.7" y="846.8" font-size="4.7" text-anchor="end" font-weight="bold" stroke="#222" stroke-width="0.12" fill="#222" dominant-baseline="central">1.0</text>
<line x1="231.2" y1="829.75" x2="232.7" y2="829.75" stroke="#000" stroke-width="0.6"/>
<text x="230.7" y="829.75" font-size="4.7" text-anchor="end" font-weight="bold" stroke="#222" stroke-width="0.12" fill="#222" dominant-baseline="central">1.5</text>
<line x1="231.2" y1="812.7" x2="232.7" y2="812.7" stroke="#000" stroke-width="0.6"/>
<text x="230.7" y="812.7" font-size="4.7" text-anchor="end" font-weight="bold" stroke="#222" stroke-width="0.12" fill="#222" dominant-baseline="central">2.0</text>
<line x1="240.35" y1="846.12" x2="240.35" y2="846.8" stroke="#111" stroke-width="0.8"/>
<line x1="238.75" y1="846.12" x2="241.95" y2="846.12" stroke="#111" stroke-width="0.8"/>
<rect x="236.5" y="846.8" width="7.7" height="34.1" fill="#8c8c8c" stroke="#151515" stroke-width="0.75"/>
<line x1="248.05" y1="836.57" x2="248.05" y2="837.25" stroke="#111" stroke-width="0.8"/>
<line x1="246.45" y1="836.57" x2="249.65" y2="836.57" stroke="#111" stroke-width="0.8"/>
<rect x="244.2" y="837.25" width="7.7" height="43.65" fill="#539df8" stroke="#151515" stroke-width="0.75"/>
<line x1="263.35" y1="846.46" x2="263.35" y2="846.8" stroke="#111" stroke-width="0.8"/>
<line x1="261.75" y1="846.46" x2="264.95" y2="846.46" stroke="#111" stroke-width="0.8"/>
<rect x="259.5" y="846.8" width="7.7" height="34.1" fill="#8c8c8c" stroke="#151515" stroke-width="0.75"/>
<line x1="271.05" y1="843.73" x2="271.05" y2="844.41" stroke="#111" stroke-width="0.8"/>
<line x1="269.45" y1="843.73" x2="272.65" y2="843.73" stroke="#111" stroke-width="0.8"/>
<rect x="267.2" y="844.41" width="7.7" height="36.49" fill="#539df8" stroke="#151515" stroke-width="0.75"/>
<line x1="286.35" y1="845.78" x2="286.35" y2="846.8" stroke="#111" stroke-width="0.8"/>
<line x1="284.75" y1="845.78" x2="287.95" y2="845.78" stroke="#111" stroke-width="0.8"/>
<rect x="282.5" y="846.8" width="7.7" height="34.1" fill="#8c8c8c" stroke="#151515" stroke-width="0.75"/>
<line x1="294.05" y1="828.04" x2="294.05" y2="828.73" stroke="#111" stroke-width="0.8"/>
<line x1="292.45" y1="828.04" x2="295.65" y2="828.04" stroke="#111" stroke-width="0.8"/>
<rect x="290.2" y="828.73" width="7.7" height="52.17" fill="#539df8" stroke="#151515" stroke-width="0.75"/>
<line x1="232.7" y1="812.2" x2="232.7" y2="880.9" stroke="#000" stroke-width="0.8"/>
<line x1="232.7" y1="880.9" x2="301.7" y2="880.9" stroke="#000" stroke-width="0.8"/>
<path d="M244.79 823.30L245.33 824.75L246.88 824.82L245.67 825.79L246.08 827.28L244.79 826.42L243.50 827.28L243.91 825.79L242.70 824.82L244.25 824.75ZM249.30 823.30L249.84 824.75L251.39 824.82L250.18 825.79L250.59 827.28L249.30 826.42L248.01 827.28L248.42 825.79L247.21 824.82L248.76 824.75ZM253.81 823.30L254.35 824.75L255.90 824.82L254.69 825.79L255.10 827.28L253.81 826.42L252.52 827.28L252.93 825.79L251.72 824.82L253.27 824.75Z" fill="#111"/>
<path d="M267.29 830.90L267.83 832.35L269.38 832.42L268.17 833.39L268.58 834.88L267.29 834.02L266.00 834.88L266.41 833.39L265.20 832.42L266.75 832.35ZM271.80 830.90L272.34 832.35L273.89 832.42L272.68 833.39L273.09 834.88L271.80 834.02L270.51 834.88L270.92 833.39L269.71 832.42L271.26 832.35ZM276.31 830.90L276.85 832.35L278.40 832.42L277.19 833.39L277.60 834.88L276.31 834.02L275.02 834.88L275.43 833.39L274.22 832.42L275.77 832.35Z" fill="#111"/>
<path d="M289.49 818.20L290.03 819.65L291.58 819.72L290.37 820.69L290.78 822.18L289.49 821.32L288.20 822.18L288.61 820.69L287.40 819.72L288.95 819.65ZM294.00 818.20L294.54 819.65L296.09 819.72L294.88 820.69L295.29 822.18L294.00 821.32L292.71 822.18L293.12 820.69L291.91 819.72L293.46 819.65ZM298.51 818.20L299.05 819.65L300.60 819.72L299.39 820.69L299.80 822.18L298.51 821.32L297.22 822.18L297.63 820.69L296.42 819.72L297.97 819.65Z" fill="#111"/>
<rect x="299.9" y="792.8" width="9.5" height="4.6" fill="#8c8c8c" stroke="#222" stroke-width="0.5"/>
<rect x="299.9" y="801.7" width="9.5" height="3.8" fill="#539df8" stroke="#222" stroke-width="0.5"/>
<text x="311.9" y="795.1" font-size="5" font-weight="bold" stroke="#222" stroke-width="0.12" fill="#222" dominant-baseline="central">NC</text>
<text x="311.9" y="803.6" font-size="5" font-weight="bold" stroke="#222" stroke-width="0.12" fill="#222" textLength="23" lengthAdjust="spacingAndGlyphs" dominant-baseline="central">Si-RHOB</text>
<line x1="244.2" y1="880.9" x2="244.2" y2="882.2" stroke="#000" stroke-width="0.6"/>
<text x="240.4" y="887.8" font-size="5" text-anchor="middle" font-weight="bold" stroke="#222" stroke-width="0.12" fill="#222" textLength="23" lengthAdjust="spacingAndGlyphs" dominant-baseline="central">K562-MK</text>
<line x1="267.2" y1="880.9" x2="267.2" y2="882.2" stroke="#000" stroke-width="0.6"/>
<text x="267.8" y="887.8" font-size="5" text-anchor="middle" font-weight="bold" stroke="#222" stroke-width="0.12" fill="#222" textLength="26.8" lengthAdjust="spacingAndGlyphs" dominant-baseline="central">Meg-01-MK</text>
<line x1="290.2" y1="880.9" x2="290.2" y2="882.2" stroke="#000" stroke-width="0.6"/>
<text x="295.5" y="887.8" font-size="5" text-anchor="middle" font-weight="bold" stroke="#222" stroke-width="0.12" fill="#222" textLength="20.9" lengthAdjust="spacingAndGlyphs" dominant-baseline="central">UT-7-MK</text>
<text x="209.7" y="848.3" font-size="5" text-anchor="middle" fill="#111" textLength="64" lengthAdjust="spacingAndGlyphs" transform="rotate(-90 209.7 848.3)" dominant-baseline="central" stroke="#111" stroke-width="0.12">CDK4 protein expression</text>
<text x="217.4" y="848.3" font-size="5" text-anchor="middle" fill="#111" textLength="52" lengthAdjust="spacingAndGlyphs" transform="rotate(-90 217.4 848.3)" dominant-baseline="central" stroke="#111" stroke-width="0.12">(Relative to GAPDH)</text>
<text x="356" y="788.2" font-size="7.5" text-anchor="middle" font-weight="bold" stroke="#000" stroke-width="0.16" dominant-baseline="central">w</text>
<line x1="396.1" y1="879.1" x2="397.6" y2="879.1" stroke="#000" stroke-width="0.6"/>
<text x="395.6" y="879.1" font-size="4.7" text-anchor="end" font-weight="bold" stroke="#222" stroke-width="0.12" fill="#222" dominant-baseline="central">0.0</text>
<line x1="396.1" y1="855.6" x2="397.6" y2="855.6" stroke="#000" stroke-width="0.6"/>
<text x="395.6" y="855.6" font-size="4.7" text-anchor="end" font-weight="bold" stroke="#222" stroke-width="0.12" fill="#222" dominant-baseline="central">0.5</text>
<line x1="396.1" y1="832.1" x2="397.6" y2="832.1" stroke="#000" stroke-width="0.6"/>
<text x="395.6" y="832.1" font-size="4.7" text-anchor="end" font-weight="bold" stroke="#222" stroke-width="0.12" fill="#222" dominant-baseline="central">1.0</text>
<line x1="396.1" y1="808.6" x2="397.6" y2="808.6" stroke="#000" stroke-width="0.6"/>
<text x="395.6" y="808.6" font-size="4.7" text-anchor="end" font-weight="bold" stroke="#222" stroke-width="0.12" fill="#222" dominant-baseline="central">1.5</text>
<line x1="406.9" y1="830.69" x2="406.9" y2="832.1" stroke="#111" stroke-width="0.8"/>
<line x1="405.3" y1="830.69" x2="408.5" y2="830.69" stroke="#111" stroke-width="0.8"/>
<rect x="402.7" y="832.1" width="8.4" height="47" fill="#8c8c8c" stroke="#151515" stroke-width="0.75"/>
<line x1="415.6" y1="847.61" x2="415.6" y2="848.08" stroke="#111" stroke-width="0.8"/>
<line x1="414" y1="847.61" x2="417.2" y2="847.61" stroke="#111" stroke-width="0.8"/>
<rect x="411.1" y="848.08" width="9" height="31.02" fill="#f98181" stroke="#151515" stroke-width="0.75"/>
<line x1="433.75" y1="831.63" x2="433.75" y2="832.1" stroke="#111" stroke-width="0.8"/>
<line x1="432.15" y1="831.63" x2="435.35" y2="831.63" stroke="#111" stroke-width="0.8"/>
<rect x="429.5" y="832.1" width="8.5" height="47" fill="#8c8c8c" stroke="#151515" stroke-width="0.75"/>
<line x1="442.45" y1="857.01" x2="442.45" y2="857.48" stroke="#111" stroke-width="0.8"/>
<line x1="440.85" y1="857.01" x2="444.05" y2="857.01" stroke="#111" stroke-width="0.8"/>
<rect x="438" y="857.48" width="8.9" height="21.62" fill="#f98181" stroke="#151515" stroke-width="0.75"/>
<line x1="460.45" y1="831.63" x2="460.45" y2="832.1" stroke="#111" stroke-width="0.8"/>
<line x1="458.85" y1="831.63" x2="462.05" y2="831.63" stroke="#111" stroke-width="0.8"/>
<rect x="456.4" y="832.1" width="8.1" height="47" fill="#8c8c8c" stroke="#151515" stroke-width="0.75"/>
<line x1="469.1" y1="849.96" x2="469.1" y2="850.43" stroke="#111" stroke-width="0.8"/>
<line x1="467.5" y1="849.96" x2="470.7" y2="849.96" stroke="#111" stroke-width="0.8"/>
<rect x="464.5" y="850.43" width="9.2" height="28.67" fill="#f98181" stroke="#151515" stroke-width="0.75"/>
<line x1="487.05" y1="831.16" x2="487.05" y2="832.1" stroke="#111" stroke-width="0.8"/>
<line x1="485.45" y1="831.16" x2="488.65" y2="831.16" stroke="#111" stroke-width="0.8"/>
<rect x="482.7" y="832.1" width="8.7" height="47" fill="#8c8c8c" stroke="#151515" stroke-width="0.75"/>
<line x1="496" y1="852.78" x2="496" y2="853.25" stroke="#111" stroke-width="0.8"/>
<line x1="494.4" y1="852.78" x2="497.6" y2="852.78" stroke="#111" stroke-width="0.8"/>
<rect x="491.4" y="853.25" width="9.2" height="25.85" fill="#f98181" stroke="#151515" stroke-width="0.75"/>
<line x1="397.6" y1="808.1" x2="397.6" y2="879.1" stroke="#000" stroke-width="0.8"/>
<line x1="397.6" y1="879.1" x2="504.9" y2="879.1" stroke="#000" stroke-width="0.8"/>
<path d="M413.49 831.50L414.03 832.95L415.58 833.02L414.37 833.99L414.78 835.48L413.49 834.62L412.20 835.48L412.61 833.99L411.40 833.02L412.95 832.95ZM418.00 831.50L418.54 832.95L420.09 833.02L418.88 833.99L419.29 835.48L418.00 834.62L416.71 835.48L417.12 833.99L415.91 833.02L417.46 832.95ZM422.51 831.50L423.05 832.95L424.60 833.02L423.39 833.99L423.80 835.48L422.51 834.62L421.22 835.48L421.63 833.99L420.42 833.02L421.97 832.95Z" fill="#111"/>
<path d="M439.89 831.50L440.43 832.95L441.98 833.02L440.77 833.99L441.18 835.48L439.89 834.62L438.60 835.48L439.01 833.99L437.80 833.02L439.35 832.95ZM444.40 831.50L444.94 832.95L446.49 833.02L445.28 833.99L445.69 835.48L444.40 834.62L443.11 835.48L443.52 833.99L442.31 833.02L443.86 832.95ZM448.91 831.50L449.45 832.95L451.00 833.02L449.79 833.99L450.20 835.48L448.91 834.62L447.62 835.48L448.03 833.99L446.82 833.02L448.37 832.95Z" fill="#111"/>
<path d="M466.69 837.30L467.23 838.75L468.78 838.82L467.57 839.79L467.98 841.28L466.69 840.42L465.40 841.28L465.81 839.79L464.60 838.82L466.15 838.75ZM471.20 837.30L471.74 838.75L473.29 838.82L472.08 839.79L472.49 841.28L471.20 840.42L469.91 841.28L470.32 839.79L469.11 838.82L470.66 838.75ZM475.71 837.30L476.25 838.75L477.80 838.82L476.59 839.79L477.00 841.28L475.71 840.42L474.42 841.28L474.83 839.79L473.62 838.82L475.17 838.75Z" fill="#111"/>
<path d="M493.49 837.30L494.03 838.75L495.58 838.82L494.37 839.79L494.78 841.28L493.49 840.42L492.20 841.28L492.61 839.79L491.40 838.82L492.95 838.75ZM498.00 837.30L498.54 838.75L500.09 838.82L498.88 839.79L499.29 841.28L498.00 840.42L496.71 841.28L497.12 839.79L495.91 838.82L497.46 838.75ZM502.51 837.30L503.05 838.75L504.60 838.82L503.39 839.79L503.80 841.28L502.51 840.42L501.22 841.28L501.63 839.79L500.42 838.82L501.97 838.75Z" fill="#111"/>
<rect x="470.4" y="789" width="9" height="3.8" fill="#8c8c8c" stroke="#222" stroke-width="0.5"/>
<rect x="470.4" y="797.9" width="9" height="3.8" fill="#f98181" stroke="#222" stroke-width="0.5"/>
<text x="482.7" y="790.9" font-size="5" font-weight="bold" stroke="#222" stroke-width="0.12" fill="#222" dominant-baseline="central">NC</text>
<text x="482.7" y="799.8" font-size="5" font-weight="bold" stroke="#222" stroke-width="0.12" fill="#222" textLength="21.4" lengthAdjust="spacingAndGlyphs" dominant-baseline="central">Si-RHOB</text>
<line x1="411.1" y1="879.1" x2="411.1" y2="880.4" stroke="#000" stroke-width="0.6"/>
<text x="412.9" y="883.9" font-size="5.9" font-weight="bold" text-anchor="end" fill="#111" stroke="#111" stroke-width="0.32" transform="rotate(-45 412.9 883.9)">K562-CON</text>
<line x1="438" y1="879.1" x2="438" y2="880.4" stroke="#000" stroke-width="0.6"/>
<text x="439.8" y="883.9" font-size="5.9" font-weight="bold" text-anchor="end" fill="#111" stroke="#111" stroke-width="0.32" transform="rotate(-45 439.8 883.9)">Meg-01-CON</text>
<line x1="464.5" y1="879.1" x2="464.5" y2="880.4" stroke="#000" stroke-width="0.6"/>
<text x="466.3" y="883.9" font-size="5.9" font-weight="bold" text-anchor="end" fill="#111" stroke="#111" stroke-width="0.32" transform="rotate(-45 466.3 883.9)">UT-7-CON</text>
<line x1="491.4" y1="879.1" x2="491.4" y2="880.4" stroke="#000" stroke-width="0.6"/>
<text x="493.2" y="883.9" font-size="5.9" font-weight="bold" text-anchor="end" fill="#111" stroke="#111" stroke-width="0.32" transform="rotate(-45 493.2 883.9)">K562-RBC</text>
<text x="377.2" y="844.3" font-size="5" text-anchor="middle" fill="#111" textLength="68" lengthAdjust="spacingAndGlyphs" transform="rotate(-90 377.2 844.3)" dominant-baseline="central" stroke="#111" stroke-width="0.12">CyclinE protein expression</text>
<text x="383" y="844.3" font-size="5" text-anchor="middle" fill="#111" textLength="52" lengthAdjust="spacingAndGlyphs" transform="rotate(-90 383 844.3)" dominant-baseline="central" stroke="#111" stroke-width="0.12">(Relative to GAPDH)</text>
<text x="531.3" y="788.4" font-size="7.5" text-anchor="middle" font-weight="bold" stroke="#000" stroke-width="0.16" dominant-baseline="central">x</text>
<line x1="567.9" y1="880.6" x2="569.4" y2="880.6" stroke="#000" stroke-width="0.6"/>
<text x="567.4" y="880.6" font-size="4.7" text-anchor="end" font-weight="bold" stroke="#222" stroke-width="0.12" fill="#222" dominant-baseline="central">0</text>
<line x1="567.9" y1="857.76" x2="569.4" y2="857.76" stroke="#000" stroke-width="0.6"/>
<text x="567.4" y="857.76" font-size="4.7" text-anchor="end" font-weight="bold" stroke="#222" stroke-width="0.12" fill="#222" dominant-baseline="central">2</text>
<line x1="567.9" y1="834.92" x2="569.4" y2="834.92" stroke="#000" stroke-width="0.6"/>
<text x="567.4" y="834.92" font-size="4.7" text-anchor="end" font-weight="bold" stroke="#222" stroke-width="0.12" fill="#222" dominant-baseline="central">4</text>
<line x1="567.9" y1="812.08" x2="569.4" y2="812.08" stroke="#000" stroke-width="0.6"/>
<text x="567.4" y="812.08" font-size="4.7" text-anchor="end" font-weight="bold" stroke="#222" stroke-width="0.12" fill="#222" dominant-baseline="central">6</text>
<line x1="579.15" y1="868.61" x2="579.15" y2="869.18" stroke="#111" stroke-width="0.8"/>
<line x1="577.55" y1="868.61" x2="580.75" y2="868.61" stroke="#111" stroke-width="0.8"/>
<rect x="574.5" y="869.18" width="9.3" height="11.42" fill="#a2a2a6" stroke="#151515" stroke-width="0.75"/>
<line x1="588.65" y1="848.62" x2="588.65" y2="849.77" stroke="#111" stroke-width="0.8"/>
<line x1="587.05" y1="848.62" x2="590.25" y2="848.62" stroke="#111" stroke-width="0.8"/>
<rect x="583.8" y="849.77" width="9.7" height="30.83" fill="#539df8" stroke="#151515" stroke-width="0.75"/>
<line x1="608.05" y1="868.04" x2="608.05" y2="869.18" stroke="#111" stroke-width="0.8"/>
<line x1="606.45" y1="868.04" x2="609.65" y2="868.04" stroke="#111" stroke-width="0.8"/>
<rect x="603.3" y="869.18" width="9.5" height="11.42" fill="#a2a2a6" stroke="#151515" stroke-width="0.75"/>
<line x1="617.7" y1="822.13" x2="617.7" y2="826.93" stroke="#111" stroke-width="0.8"/>
<line x1="616.1" y1="822.13" x2="619.3" y2="822.13" stroke="#111" stroke-width="0.8"/>
<rect x="612.8" y="826.93" width="9.8" height="53.67" fill="#539df8" stroke="#151515" stroke-width="0.75"/>
<line x1="637.3" y1="868.84" x2="637.3" y2="869.18" stroke="#111" stroke-width="0.8"/>
<line x1="635.7" y1="868.84" x2="638.9" y2="868.84" stroke="#111" stroke-width="0.8"/>
<rect x="632.6" y="869.18" width="9.4" height="11.42" fill="#a2a2a6" stroke="#151515" stroke-width="0.75"/>
<line x1="646.8" y1="864.16" x2="646.8" y2="864.84" stroke="#111" stroke-width="0.8"/>
<line x1="645.2" y1="864.16" x2="648.4" y2="864.16" stroke="#111" stroke-width="0.8"/>
<rect x="642" y="864.84" width="9.6" height="15.76" fill="#539df8" stroke="#151515" stroke-width="0.75"/>
<line x1="569.4" y1="811.58" x2="569.4" y2="880.6" stroke="#000" stroke-width="0.8"/>
<line x1="569.4" y1="880.6" x2="656.9" y2="880.6" stroke="#000" stroke-width="0.8"/>
<path d="M584.09 836.10L584.63 837.55L586.18 837.62L584.97 838.59L585.38 840.08L584.09 839.22L582.80 840.08L583.21 838.59L582.00 837.62L583.55 837.55ZM588.60 836.10L589.14 837.55L590.69 837.62L589.48 838.59L589.89 840.08L588.60 839.22L587.31 840.08L587.72 838.59L586.51 837.62L588.06 837.55ZM593.11 836.10L593.65 837.55L595.20 837.62L593.99 838.59L594.40 840.08L593.11 839.22L591.82 840.08L592.23 838.59L591.02 837.62L592.57 837.55Z" fill="#111"/>
<path d="M612.99 813.30L613.53 814.75L615.08 814.82L613.87 815.79L614.28 817.28L612.99 816.42L611.70 817.28L612.11 815.79L610.90 814.82L612.45 814.75ZM617.50 813.30L618.04 814.75L619.59 814.82L618.38 815.79L618.79 817.28L617.50 816.42L616.21 817.28L616.62 815.79L615.41 814.82L616.96 814.75ZM622.01 813.30L622.55 814.75L624.10 814.82L622.89 815.79L623.30 817.28L622.01 816.42L620.72 817.28L621.13 815.79L619.92 814.82L621.47 814.75Z" fill="#111"/>
<path d="M642.39 849.30L642.93 850.75L644.48 850.82L643.27 851.79L643.68 853.28L642.39 852.42L641.10 853.28L641.51 851.79L640.30 850.82L641.85 850.75ZM646.90 849.30L647.44 850.75L648.99 850.82L647.78 851.79L648.19 853.28L646.90 852.42L645.61 853.28L646.02 851.79L644.81 850.82L646.36 850.75ZM651.41 849.30L651.95 850.75L653.50 850.82L652.29 851.79L652.70 853.28L651.41 852.42L650.12 853.28L650.53 851.79L649.32 850.82L650.87 850.75Z" fill="#111"/>
<rect x="633.2" y="787.4" width="9" height="3.9" fill="#8c8c8c" stroke="#222" stroke-width="0.5"/>
<rect x="633.2" y="795.8" width="9" height="4.4" fill="#539df8" stroke="#222" stroke-width="0.5"/>
<text x="645.6" y="789.35" font-size="5" font-weight="bold" stroke="#222" stroke-width="0.12" fill="#222" dominant-baseline="central">NC</text>
<text x="645.6" y="798" font-size="5" font-weight="bold" stroke="#222" stroke-width="0.12" fill="#222" textLength="22.8" lengthAdjust="spacingAndGlyphs" dominant-baseline="central">Si-RHOB</text>
<line x1="583.8" y1="880.6" x2="583.8" y2="881.9" stroke="#000" stroke-width="0.6"/>
<text x="579.4" y="889.8" font-size="5" text-anchor="middle" font-weight="bold" stroke="#222" stroke-width="0.12" fill="#222" textLength="18.4" lengthAdjust="spacingAndGlyphs" dominant-baseline="central">K562-MK</text>
<line x1="612.8" y1="880.6" x2="612.8" y2="881.9" stroke="#000" stroke-width="0.6"/>
<text x="611.7" y="889.8" font-size="5" text-anchor="middle" font-weight="bold" stroke="#222" stroke-width="0.12" fill="#222" textLength="28.4" lengthAdjust="spacingAndGlyphs" dominant-baseline="central">Meg-01-MK</text>
<line x1="642" y1="880.6" x2="642" y2="881.9" stroke="#000" stroke-width="0.6"/>
<text x="642.8" y="889.8" font-size="5" text-anchor="middle" font-weight="bold" stroke="#222" stroke-width="0.12" fill="#222" textLength="22.4" lengthAdjust="spacingAndGlyphs" dominant-baseline="central">UT-7-MK</text>
<text x="551" y="846" font-size="5" text-anchor="middle" fill="#111" textLength="66" lengthAdjust="spacingAndGlyphs" transform="rotate(-90 551 846)" dominant-baseline="central" stroke="#111" stroke-width="0.12">CyclinE protein expression</text>
<text x="557.5" y="846" font-size="5" text-anchor="middle" fill="#111" textLength="52" lengthAdjust="spacingAndGlyphs" transform="rotate(-90 557.5 846)" dominant-baseline="central" stroke="#111" stroke-width="0.12">(Relative to GAPDH)</text>
</svg></body></html>
